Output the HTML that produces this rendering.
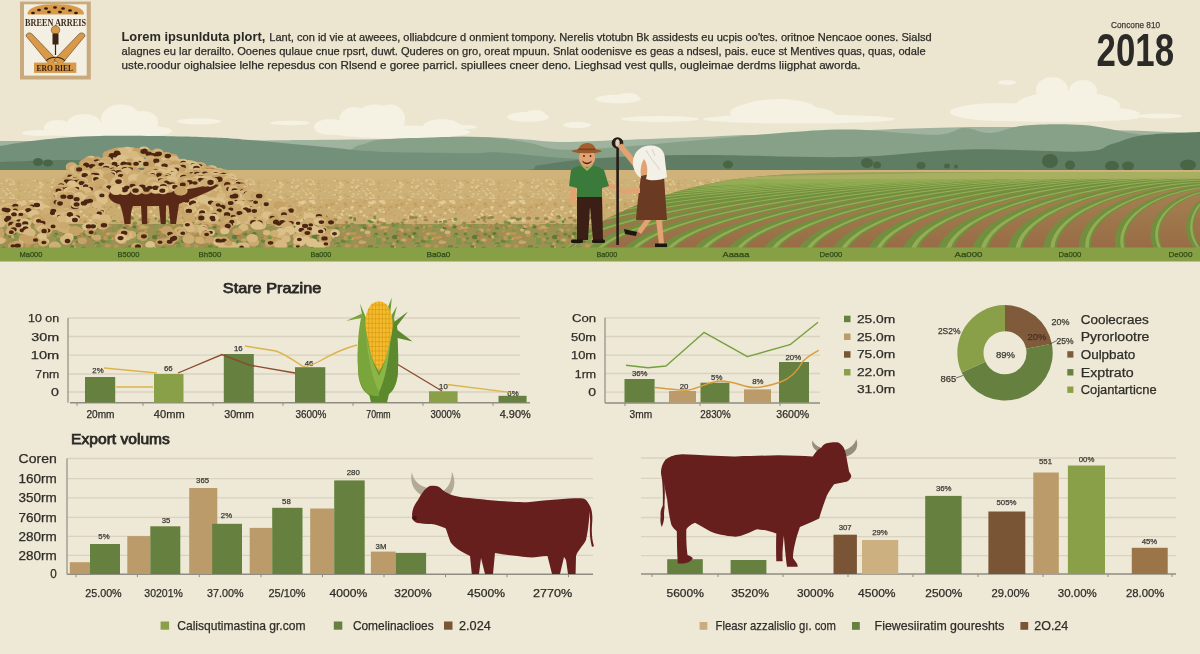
<!DOCTYPE html>
<html><head><meta charset="utf-8"><title>Infographic</title>
<style>html,body{margin:0;padding:0;background:#ece6d1;overflow:hidden;}svg{display:block;}text{font-family:"Liberation Sans",Arial,sans-serif;}</style>
</head><body>
<svg width="1200" height="654" viewBox="0 0 1200 654">
<rect x="0.0" y="0.0" width="1200.0" height="654.0" fill="#ece6d1"/>
<rect x="0.0" y="261.0" width="1200.0" height="393.0" fill="#eee8d6"/>
<g fill="#f5f1e3"><ellipse cx="121.0" cy="119.0" rx="20.0" ry="14.5"/><ellipse cx="143.0" cy="122.0" rx="15.0" ry="11.0"/><ellipse cx="84.0" cy="124.0" rx="17.0" ry="10.0"/><ellipse cx="58.0" cy="128.0" rx="14.0" ry="8.0"/><ellipse cx="100.0" cy="130.0" rx="55.0" ry="7.5"/><ellipse cx="150.0" cy="131.0" rx="22.0" ry="5.0"/><ellipse cx="40.0" cy="133.0" rx="18.0" ry="3.0"/></g>
<g fill="#f5f1e3"><ellipse cx="199.0" cy="121.3" rx="22.0" ry="3.0"/></g>
<g fill="#f5f1e3"><ellipse cx="290.0" cy="123.0" rx="20.0" ry="2.2"/></g>
<g fill="#f5f1e3"><ellipse cx="375.0" cy="118.0" rx="19.0" ry="13.5"/><ellipse cx="354.0" cy="121.0" rx="15.0" ry="14.0"/><ellipse cx="390.0" cy="119.0" rx="15.0" ry="14.5"/><ellipse cx="330.0" cy="127.0" rx="16.0" ry="8.0"/><ellipse cx="442.0" cy="128.0" rx="20.0" ry="9.0"/><ellipse cx="400.0" cy="132.0" rx="70.0" ry="6.5"/><ellipse cx="292.0" cy="123.0" rx="17.0" ry="2.2"/><ellipse cx="465.0" cy="127.0" rx="12.0" ry="2.0"/></g>
<g fill="#f5f1e3"><ellipse cx="528.0" cy="117.0" rx="21.0" ry="5.0"/><ellipse cx="535.0" cy="114.0" rx="10.0" ry="4.0"/></g>
<g fill="#f5f1e3"><ellipse cx="577.0" cy="125.0" rx="14.0" ry="3.2"/></g>
<g fill="#f5f1e3"><ellipse cx="618.0" cy="99.0" rx="23.0" ry="4.2"/><ellipse cx="628.0" cy="96.0" rx="10.0" ry="3.0"/></g>
<g fill="#f5f1e3"><ellipse cx="660.0" cy="119.0" rx="39.0" ry="3.0"/></g>
<g fill="#f5f1e3"><ellipse cx="778.0" cy="111.0" rx="40.0" ry="12.0"/><ellipse cx="752.0" cy="113.0" rx="22.0" ry="9.0"/><ellipse cx="805.0" cy="115.0" rx="30.0" ry="8.0"/><ellipse cx="798.0" cy="119.0" rx="95.0" ry="4.5"/><ellipse cx="860.0" cy="119.0" rx="35.0" ry="3.0"/></g>
<g fill="#f5f1e3"><ellipse cx="1052.0" cy="90.0" rx="16.0" ry="13.0"/><ellipse cx="1083.0" cy="91.0" rx="14.0" ry="11.0"/><ellipse cx="1068.0" cy="106.0" rx="52.0" ry="15.0"/><ellipse cx="1000.0" cy="112.0" rx="50.0" ry="9.0"/><ellipse cx="1110.0" cy="114.0" rx="30.0" ry="6.0"/><ellipse cx="1060.0" cy="117.0" rx="80.0" ry="5.0"/><ellipse cx="1160.0" cy="116.0" rx="22.0" ry="2.5"/></g>
<g fill="#f5f1e3"><ellipse cx="1007.0" cy="82.5" rx="9.0" ry="2.3"/></g>
<path d="M0,141 C33.3,141.0 150.0,141.2 200,141 C250.0,140.8 266.7,140.3 300,140 C333.3,139.7 371.7,139.5 400,139 C428.3,138.5 450.0,136.8 470,136.75 C490.0,136.8 505.0,138.1 520,139 C535.0,139.9 543.3,141.8 560,142 C576.7,142.2 596.7,140.8 620,140 C643.3,139.2 678.3,137.8 700,137 C721.7,136.2 733.3,135.2 750,135 C766.7,134.8 783.3,136.7 800,136 C816.7,135.3 816.7,132.5 850,131 C883.3,129.5 941.7,126.7 1000,127 C1058.3,127.3 1166.7,132.0 1200,133 L1200,176 L0,176 Z" fill="#a0b39e"/>
<path d="M0,160 C50.0,159.7 240.0,160.5 300,158 C360.0,155.5 346.7,148.0 360,145 C373.3,142.0 368.3,141.0 380,139.75 C391.7,138.5 415.8,138.0 430,137.5 C444.2,137.0 453.3,136.6 465,136.75 C476.7,136.9 489.2,137.5 500,138.5 C510.8,139.5 520.0,141.2 530,143 C540.0,144.8 545.0,148.8 560,149.5 C575.0,150.2 596.7,148.6 620,147 C643.3,145.4 673.3,142.3 700,140 C726.7,137.7 755.0,134.7 780,133 C805.0,131.3 824.2,129.3 850,129.6 C875.8,129.9 916.0,135.1 935,134.8 C954.0,134.5 954.8,128.3 964,128 C973.2,127.7 979.8,133.4 990,133 C1000.2,132.6 1009.5,126.8 1025,125.5 C1040.5,124.2 1065.5,123.8 1083,125 C1100.5,126.2 1115.5,130.8 1130,133 C1144.5,135.2 1158.3,136.8 1170,138 C1181.7,139.2 1195.0,139.7 1200,140 L1200,176 L0,176 Z" fill="#87a189"/>
<path d="M0,146 C6.7,145.0 23.3,141.7 40,140 C56.7,138.3 73.3,136.5 100,136 C126.7,135.5 175.0,136.3 200,137 C225.0,137.7 228.3,138.2 250,140 C271.7,141.8 308.3,145.6 330,147.6 C351.7,149.6 356.7,150.8 380,151.75 C403.3,152.7 450.0,152.9 470,153 C490.0,153.1 485.0,151.7 500,152.5 C515.0,153.3 540.0,156.5 560,157.75 C580.0,159.0 596.7,159.5 620,160 C643.3,160.5 603.3,160.8 700,161 C796.7,161.2 1116.7,161.0 1200,161 L1200,176 L0,176 Z" fill="#72907a"/>
<path d="M0,162 C10.0,161.7 43.3,160.2 60,160 C76.7,159.8 88.3,160.0 100,161 C111.7,162.0 113.3,164.3 130,166 C146.7,167.7 138.3,170.2 200,171 C261.7,171.8 443.3,172.0 500,171 C556.7,170.0 523.3,167.2 540,165 C556.7,162.8 573.3,159.7 600,158 C626.7,156.3 658.3,155.2 700,155 C741.7,154.8 805.5,157.9 850,157 C894.5,156.1 928.2,150.3 967,149.4 C1005.8,148.5 1058.8,152.4 1083,151.5 C1107.2,150.6 1102.2,146.7 1112,144 C1121.8,141.3 1127.3,137.4 1142,135.4 C1156.7,133.4 1190.3,132.6 1200,132 L1200,176 L0,176 Z" fill="#5f7d63"/>
<ellipse cx="728" cy="164.5" rx="5" ry="4" fill="#4a6546"/>
<ellipse cx="867" cy="163" rx="6" ry="5" fill="#4a6546"/>
<ellipse cx="877" cy="165" rx="4" ry="3.5" fill="#4a6546"/>
<ellipse cx="921" cy="165.5" rx="4.5" ry="3.5" fill="#4a6546"/>
<ellipse cx="947" cy="166" rx="3" ry="2.5" fill="#4a6546"/>
<ellipse cx="956" cy="166.5" rx="2" ry="2" fill="#4a6546"/>
<ellipse cx="1050" cy="161" rx="8" ry="7" fill="#4a6546"/>
<ellipse cx="1070" cy="165" rx="5" ry="4.5" fill="#4a6546"/>
<ellipse cx="1112" cy="166" rx="7" ry="5" fill="#4a6546"/>
<ellipse cx="1128" cy="166" rx="6" ry="4.5" fill="#4a6546"/>
<ellipse cx="1188" cy="165" rx="8" ry="5.5" fill="#4a6546"/>
<ellipse cx="38" cy="162" rx="5" ry="4" fill="#4a6546"/>
<ellipse cx="48" cy="163" rx="5" ry="3.5" fill="#4a6546"/>
<defs>
<pattern id="tex1" width="60" height="14" patternUnits="userSpaceOnUse"><rect width="60" height="14" fill="#ceb176"/><path fill="#dcc48e" d="M13.4 7.6a0.9 0.6 0 1 0 1.8 0a0.9 0.6 0 1 0 -1.8 0M12.7 2.1a1.3 0.8 0 1 0 2.5 0a1.3 0.8 0 1 0 -2.5 0M-1.3 9.4a0.8 0.6 0 1 0 1.6 0a0.8 0.6 0 1 0 -1.6 0M58.7 9.4a0.8 0.6 0 1 0 1.6 0a0.8 0.6 0 1 0 -1.6 0M32.2 12.9a0.9 0.5 0 1 0 1.7 0a0.9 0.5 0 1 0 -1.7 0M51.0 5.4a1.2 0.9 0 1 0 2.4 0a1.2 0.9 0 1 0 -2.4 0M35.5 3.9a1.0 0.7 0 1 0 2.0 0a1.0 0.7 0 1 0 -2.0 0M39.3 3.1a1.2 0.9 0 1 0 2.4 0a1.2 0.9 0 1 0 -2.4 0M52.2 12.1a1.2 1.0 0 1 0 2.4 0a1.2 1.0 0 1 0 -2.4 0M52.7 12.6a1.0 0.6 0 1 0 2.1 0a1.0 0.6 0 1 0 -2.1 0M47.9 0.9a0.8 0.5 0 1 0 1.7 0a0.8 0.5 0 1 0 -1.7 0M9.0 11.1a1.3 0.9 0 1 0 2.5 0a1.3 0.9 0 1 0 -2.5 0M15.2 7.4a1.0 0.6 0 1 0 1.9 0a1.0 0.6 0 1 0 -1.9 0M20.8 2.7a0.9 0.5 0 1 0 1.8 0a0.9 0.5 0 1 0 -1.8 0M26.6 9.1a1.0 0.7 0 1 0 2.0 0a1.0 0.7 0 1 0 -2.0 0M40.8 1.0a1.0 0.6 0 1 0 1.9 0a1.0 0.6 0 1 0 -1.9 0M39.0 10.3a1.0 0.6 0 1 0 2.1 0a1.0 0.6 0 1 0 -2.1 0M27.5 3.3a0.9 0.6 0 1 0 1.9 0a0.9 0.6 0 1 0 -1.9 0M38.4 5.3a1.2 0.8 0 1 0 2.4 0a1.2 0.8 0 1 0 -2.4 0M41.0 2.9a1.0 0.8 0 1 0 2.1 0a1.0 0.8 0 1 0 -2.1 0M27.7 10.1a1.2 0.8 0 1 0 2.4 0a1.2 0.8 0 1 0 -2.4 0M27.2 3.2a0.8 0.6 0 1 0 1.7 0a0.8 0.6 0 1 0 -1.7 0M9.4 0.6a0.8 0.5 0 1 0 1.6 0a0.8 0.5 0 1 0 -1.6 0M5.5 13.2a0.9 0.6 0 1 0 1.8 0a0.9 0.6 0 1 0 -1.8 0"/><path fill="#c2a368" d="M35.4 12.7a1.0 0.7 0 1 0 2.0 0a1.0 0.7 0 1 0 -2.0 0M-1.5 6.6a1.2 0.8 0 1 0 2.4 0a1.2 0.8 0 1 0 -2.4 0M58.5 6.6a1.2 0.8 0 1 0 2.4 0a1.2 0.8 0 1 0 -2.4 0M17.5 1.1a1.1 0.6 0 1 0 2.1 0a1.1 0.6 0 1 0 -2.1 0M36.2 13.2a1.0 0.7 0 1 0 2.0 0a1.0 0.7 0 1 0 -2.0 0M-0.4 5.8a1.0 0.6 0 1 0 2.1 0a1.0 0.6 0 1 0 -2.1 0M59.6 5.8a1.0 0.6 0 1 0 2.1 0a1.0 0.6 0 1 0 -2.1 0M16.9 5.3a1.2 0.6 0 1 0 2.3 0a1.2 0.6 0 1 0 -2.3 0M17.4 3.1a1.2 0.7 0 1 0 2.4 0a1.2 0.7 0 1 0 -2.4 0M19.0 9.1a1.2 0.8 0 1 0 2.5 0a1.2 0.8 0 1 0 -2.5 0M45.9 0.5a1.3 0.8 0 1 0 2.5 0a1.3 0.8 0 1 0 -2.5 0M45.9 14.5a1.3 0.8 0 1 0 2.5 0a1.3 0.8 0 1 0 -2.5 0M47.4 0.6a1.2 0.9 0 1 0 2.5 0a1.2 0.9 0 1 0 -2.5 0M47.4 14.6a1.2 0.9 0 1 0 2.5 0a1.2 0.9 0 1 0 -2.5 0M28.3 8.0a0.9 0.7 0 1 0 1.9 0a0.9 0.7 0 1 0 -1.9 0M34.0 11.2a0.7 0.5 0 1 0 1.4 0a0.7 0.5 0 1 0 -1.4 0M51.4 2.5a0.7 0.6 0 1 0 1.5 0a0.7 0.6 0 1 0 -1.5 0M55.0 7.8a1.3 0.8 0 1 0 2.6 0a1.3 0.8 0 1 0 -2.6 0M43.9 12.8a1.0 0.7 0 1 0 2.0 0a1.0 0.7 0 1 0 -2.0 0M7.4 10.5a0.8 0.5 0 1 0 1.6 0a0.8 0.5 0 1 0 -1.6 0"/><path fill="#e0ca96" d="M39.1 0.9a1.2 0.8 0 1 0 2.3 0a1.2 0.8 0 1 0 -2.3 0M12.1 -0.5a1.0 0.7 0 1 0 1.9 0a1.0 0.7 0 1 0 -1.9 0M12.1 13.5a1.0 0.7 0 1 0 1.9 0a1.0 0.7 0 1 0 -1.9 0M33.9 12.7a1.1 0.9 0 1 0 2.2 0a1.1 0.9 0 1 0 -2.2 0M41.6 3.0a1.2 0.8 0 1 0 2.4 0a1.2 0.8 0 1 0 -2.4 0M6.4 6.7a1.1 0.7 0 1 0 2.2 0a1.1 0.7 0 1 0 -2.2 0M51.3 0.6a1.1 0.6 0 1 0 2.1 0a1.1 0.6 0 1 0 -2.1 0M57.4 4.1a0.9 0.6 0 1 0 1.7 0a0.9 0.6 0 1 0 -1.7 0M55.3 6.1a0.9 0.5 0 1 0 1.7 0a0.9 0.5 0 1 0 -1.7 0M2.6 8.8a1.0 0.7 0 1 0 2.0 0a1.0 0.7 0 1 0 -2.0 0M56.8 3.5a1.0 0.7 0 1 0 1.9 0a1.0 0.7 0 1 0 -1.9 0M9.5 2.6a1.2 0.9 0 1 0 2.3 0a1.2 0.9 0 1 0 -2.3 0M39.9 9.1a0.8 0.5 0 1 0 1.5 0a0.8 0.5 0 1 0 -1.5 0M50.6 4.8a1.2 0.7 0 1 0 2.4 0a1.2 0.7 0 1 0 -2.4 0M49.2 9.3a1.0 0.6 0 1 0 2.0 0a1.0 0.6 0 1 0 -2.0 0M57.7 12.0a0.8 0.5 0 1 0 1.5 0a0.8 0.5 0 1 0 -1.5 0M8.5 1.0a0.9 0.6 0 1 0 1.9 0a0.9 0.6 0 1 0 -1.9 0M42.2 5.3a0.7 0.4 0 1 0 1.5 0a0.7 0.4 0 1 0 -1.5 0M36.5 6.0a0.9 0.6 0 1 0 1.8 0a0.9 0.6 0 1 0 -1.8 0M24.3 9.7a1.0 0.6 0 1 0 2.0 0a1.0 0.6 0 1 0 -2.0 0M55.0 5.2a1.2 0.9 0 1 0 2.5 0a1.2 0.9 0 1 0 -2.5 0M0.5 1.6a1.0 0.7 0 1 0 2.0 0a1.0 0.7 0 1 0 -2.0 0M5.1 10.5a1.3 0.7 0 1 0 2.5 0a1.3 0.7 0 1 0 -2.5 0M34.4 8.2a1.3 1.0 0 1 0 2.6 0a1.3 1.0 0 1 0 -2.6 0M0.5 6.7a0.9 0.6 0 1 0 1.9 0a0.9 0.6 0 1 0 -1.9 0M56.7 12.0a0.8 0.5 0 1 0 1.7 0a0.8 0.5 0 1 0 -1.7 0M7.1 8.7a1.1 0.6 0 1 0 2.2 0a1.1 0.6 0 1 0 -2.2 0M5.5 12.4a1.2 0.7 0 1 0 2.5 0a1.2 0.7 0 1 0 -2.5 0M39.7 5.2a1.0 0.7 0 1 0 1.9 0a1.0 0.7 0 1 0 -1.9 0"/><path fill="#c9ab70" d="M45.9 11.5a0.9 0.6 0 1 0 1.7 0a0.9 0.6 0 1 0 -1.7 0M41.9 12.9a0.9 0.7 0 1 0 1.9 0a0.9 0.7 0 1 0 -1.9 0M56.9 1.9a0.9 0.5 0 1 0 1.8 0a0.9 0.5 0 1 0 -1.8 0M24.2 11.7a1.0 0.7 0 1 0 2.1 0a1.0 0.7 0 1 0 -2.1 0M47.2 5.7a0.8 0.5 0 1 0 1.6 0a0.8 0.5 0 1 0 -1.6 0M17.6 -0.6a1.2 0.8 0 1 0 2.5 0a1.2 0.8 0 1 0 -2.5 0M17.6 13.4a1.2 0.8 0 1 0 2.5 0a1.2 0.8 0 1 0 -2.5 0M34.4 5.9a1.0 0.8 0 1 0 2.0 0a1.0 0.8 0 1 0 -2.0 0M19.8 5.8a1.0 0.6 0 1 0 1.9 0a1.0 0.6 0 1 0 -1.9 0M8.1 0.1a1.3 1.0 0 1 0 2.5 0a1.3 1.0 0 1 0 -2.5 0M8.1 14.1a1.3 1.0 0 1 0 2.5 0a1.3 1.0 0 1 0 -2.5 0M32.4 -0.2a1.1 0.6 0 1 0 2.3 0a1.1 0.6 0 1 0 -2.3 0M32.4 13.8a1.1 0.6 0 1 0 2.3 0a1.1 0.6 0 1 0 -2.3 0M9.2 4.2a1.1 0.7 0 1 0 2.2 0a1.1 0.7 0 1 0 -2.2 0M2.4 12.8a0.8 0.4 0 1 0 1.5 0a0.8 0.4 0 1 0 -1.5 0M50.7 10.9a0.7 0.4 0 1 0 1.5 0a0.7 0.4 0 1 0 -1.5 0M6.0 9.7a1.3 0.9 0 1 0 2.5 0a1.3 0.9 0 1 0 -2.5 0M26.0 9.8a1.3 0.8 0 1 0 2.5 0a1.3 0.8 0 1 0 -2.5 0M57.2 5.8a1.1 0.7 0 1 0 2.3 0a1.1 0.7 0 1 0 -2.3 0M8.1 5.6a1.2 0.7 0 1 0 2.5 0a1.2 0.7 0 1 0 -2.5 0M49.9 7.5a1.2 0.8 0 1 0 2.3 0a1.2 0.8 0 1 0 -2.3 0M13.1 6.8a1.2 0.8 0 1 0 2.4 0a1.2 0.8 0 1 0 -2.4 0M5.8 3.7a1.2 0.7 0 1 0 2.5 0a1.2 0.7 0 1 0 -2.5 0M34.1 9.5a0.7 0.4 0 1 0 1.4 0a0.7 0.4 0 1 0 -1.4 0M21.7 1.1a1.1 0.8 0 1 0 2.2 0a1.1 0.8 0 1 0 -2.2 0M22.7 7.6a0.8 0.5 0 1 0 1.5 0a0.8 0.5 0 1 0 -1.5 0"/></pattern>
<pattern id="tex2" width="70" height="18" patternUnits="userSpaceOnUse"><rect width="70" height="18" fill="#ccad71"/><path fill="#bd9d62" d="M45.6 9.2a1.1 0.7 0 1 0 2.1 0a1.1 0.7 0 1 0 -2.1 0M37.4 11.7a1.4 0.9 0 1 0 2.8 0a1.4 0.9 0 1 0 -2.8 0M45.0 7.0a1.9 1.1 0 1 0 3.8 0a1.9 1.1 0 1 0 -3.8 0M58.7 14.4a1.5 0.9 0 1 0 3.0 0a1.5 0.9 0 1 0 -3.0 0M0.5 3.4a1.6 0.9 0 1 0 3.1 0a1.6 0.9 0 1 0 -3.1 0M33.0 9.4a1.4 0.8 0 1 0 2.8 0a1.4 0.8 0 1 0 -2.8 0M63.3 5.8a1.8 1.3 0 1 0 3.6 0a1.8 1.3 0 1 0 -3.6 0M50.1 6.2a1.7 1.4 0 1 0 3.5 0a1.7 1.4 0 1 0 -3.5 0M8.9 8.3a1.2 0.7 0 1 0 2.4 0a1.2 0.7 0 1 0 -2.4 0M39.3 9.1a1.6 0.9 0 1 0 3.1 0a1.6 0.9 0 1 0 -3.1 0M29.1 8.0a1.6 1.0 0 1 0 3.3 0a1.6 1.0 0 1 0 -3.3 0M22.3 5.6a1.4 1.1 0 1 0 2.8 0a1.4 1.1 0 1 0 -2.8 0M34.1 16.3a1.3 1.0 0 1 0 2.6 0a1.3 1.0 0 1 0 -2.6 0M19.3 16.8a1.2 0.7 0 1 0 2.3 0a1.2 0.7 0 1 0 -2.3 0M19.0 9.4a1.6 0.9 0 1 0 3.2 0a1.6 0.9 0 1 0 -3.2 0M8.2 8.0a1.8 1.2 0 1 0 3.6 0a1.8 1.2 0 1 0 -3.6 0M64.2 7.8a1.8 1.2 0 1 0 3.7 0a1.8 1.2 0 1 0 -3.7 0M22.7 0.5a1.0 0.8 0 1 0 2.1 0a1.0 0.8 0 1 0 -2.1 0M22.7 18.5a1.0 0.8 0 1 0 2.1 0a1.0 0.8 0 1 0 -2.1 0M34.1 15.0a1.5 0.9 0 1 0 3.0 0a1.5 0.9 0 1 0 -3.0 0M24.7 11.4a1.3 0.7 0 1 0 2.5 0a1.3 0.7 0 1 0 -2.5 0"/><path fill="#c6a66a" d="M44.1 13.1a1.1 0.7 0 1 0 2.3 0a1.1 0.7 0 1 0 -2.3 0M7.5 16.8a1.1 0.7 0 1 0 2.3 0a1.1 0.7 0 1 0 -2.3 0M48.2 1.9a1.2 0.8 0 1 0 2.3 0a1.2 0.8 0 1 0 -2.3 0M64.4 8.1a1.7 1.0 0 1 0 3.5 0a1.7 1.0 0 1 0 -3.5 0M38.4 16.4a1.1 0.8 0 1 0 2.2 0a1.1 0.8 0 1 0 -2.2 0M12.4 4.5a1.7 0.9 0 1 0 3.4 0a1.7 0.9 0 1 0 -3.4 0M42.7 -0.4a1.6 1.0 0 1 0 3.2 0a1.6 1.0 0 1 0 -3.2 0M42.7 17.6a1.6 1.0 0 1 0 3.2 0a1.6 1.0 0 1 0 -3.2 0M27.0 15.2a1.6 1.1 0 1 0 3.3 0a1.6 1.1 0 1 0 -3.3 0M0.0 8.2a1.6 1.1 0 1 0 3.2 0a1.6 1.1 0 1 0 -3.2 0M27.5 12.7a1.0 0.7 0 1 0 2.1 0a1.0 0.7 0 1 0 -2.1 0M32.7 16.4a1.8 1.1 0 1 0 3.6 0a1.8 1.1 0 1 0 -3.6 0M40.3 14.5a1.3 1.0 0 1 0 2.5 0a1.3 1.0 0 1 0 -2.5 0M55.7 11.3a1.3 0.8 0 1 0 2.6 0a1.3 0.8 0 1 0 -2.6 0M64.5 0.6a1.3 0.9 0 1 0 2.5 0a1.3 0.9 0 1 0 -2.5 0M64.5 18.6a1.3 0.9 0 1 0 2.5 0a1.3 0.9 0 1 0 -2.5 0M4.4 5.3a1.8 1.0 0 1 0 3.5 0a1.8 1.0 0 1 0 -3.5 0M36.6 9.7a1.7 1.1 0 1 0 3.4 0a1.7 1.1 0 1 0 -3.4 0M56.7 10.0a1.8 1.2 0 1 0 3.7 0a1.8 1.2 0 1 0 -3.7 0M33.7 13.5a1.8 1.3 0 1 0 3.6 0a1.8 1.3 0 1 0 -3.6 0M6.7 5.2a1.2 0.9 0 1 0 2.4 0a1.2 0.9 0 1 0 -2.4 0M30.8 4.0a1.7 1.2 0 1 0 3.5 0a1.7 1.2 0 1 0 -3.5 0M52.0 15.7a1.3 0.9 0 1 0 2.6 0a1.3 0.9 0 1 0 -2.6 0M52.6 5.3a1.9 1.2 0 1 0 3.7 0a1.9 1.2 0 1 0 -3.7 0M13.4 3.0a1.8 1.3 0 1 0 3.7 0a1.8 1.3 0 1 0 -3.7 0M63.8 9.6a1.4 1.1 0 1 0 2.8 0a1.4 1.1 0 1 0 -2.8 0M67.4 0.6a1.2 0.6 0 1 0 2.3 0a1.2 0.6 0 1 0 -2.3 0M67.4 18.6a1.2 0.6 0 1 0 2.3 0a1.2 0.6 0 1 0 -2.3 0M61.8 15.0a1.5 1.2 0 1 0 3.1 0a1.5 1.2 0 1 0 -3.1 0M62.7 14.6a1.2 0.7 0 1 0 2.4 0a1.2 0.7 0 1 0 -2.4 0M2.1 8.7a1.1 0.8 0 1 0 2.1 0a1.1 0.8 0 1 0 -2.1 0M30.9 12.0a1.8 1.4 0 1 0 3.7 0a1.8 1.4 0 1 0 -3.7 0M-1.9 9.8a1.4 0.9 0 1 0 2.7 0a1.4 0.9 0 1 0 -2.7 0M68.1 9.8a1.4 0.9 0 1 0 2.7 0a1.4 0.9 0 1 0 -2.7 0M8.3 0.7a1.4 0.9 0 1 0 2.9 0a1.4 0.9 0 1 0 -2.9 0M8.3 18.7a1.4 0.9 0 1 0 2.9 0a1.4 0.9 0 1 0 -2.9 0M29.4 1.4a1.0 0.7 0 1 0 2.1 0a1.0 0.7 0 1 0 -2.1 0M12.5 16.6a1.2 0.8 0 1 0 2.3 0a1.2 0.8 0 1 0 -2.3 0M41.7 10.0a1.0 0.7 0 1 0 2.1 0a1.0 0.7 0 1 0 -2.1 0"/><path fill="#dcc48e" d="M23.8 4.8a1.3 1.0 0 1 0 2.7 0a1.3 1.0 0 1 0 -2.7 0M58.0 2.0a1.2 0.7 0 1 0 2.5 0a1.2 0.7 0 1 0 -2.5 0M66.0 16.1a1.1 0.8 0 1 0 2.2 0a1.1 0.8 0 1 0 -2.2 0M0.3 11.1a1.5 1.0 0 1 0 2.9 0a1.5 1.0 0 1 0 -2.9 0M3.9 15.1a1.7 0.9 0 1 0 3.4 0a1.7 0.9 0 1 0 -3.4 0M29.2 13.6a1.4 0.8 0 1 0 2.9 0a1.4 0.8 0 1 0 -2.9 0M31.7 3.0a1.6 1.0 0 1 0 3.1 0a1.6 1.0 0 1 0 -3.1 0M53.8 -0.7a1.4 1.0 0 1 0 2.9 0a1.4 1.0 0 1 0 -2.9 0M53.8 17.3a1.4 1.0 0 1 0 2.9 0a1.4 1.0 0 1 0 -2.9 0M66.8 10.7a1.0 0.6 0 1 0 2.0 0a1.0 0.6 0 1 0 -2.0 0M1.3 3.1a1.7 1.3 0 1 0 3.4 0a1.7 1.3 0 1 0 -3.4 0M52.0 12.2a1.1 0.7 0 1 0 2.2 0a1.1 0.7 0 1 0 -2.2 0M-1.4 0.0a1.2 0.9 0 1 0 2.4 0a1.2 0.9 0 1 0 -2.4 0M-1.4 18.0a1.2 0.9 0 1 0 2.4 0a1.2 0.9 0 1 0 -2.4 0M68.6 0.0a1.2 0.9 0 1 0 2.4 0a1.2 0.9 0 1 0 -2.4 0M68.6 18.0a1.2 0.9 0 1 0 2.4 0a1.2 0.9 0 1 0 -2.4 0M15.7 0.9a1.1 0.8 0 1 0 2.3 0a1.1 0.8 0 1 0 -2.3 0M31.7 11.2a1.0 0.8 0 1 0 2.1 0a1.0 0.8 0 1 0 -2.1 0M58.3 1.8a1.8 1.1 0 1 0 3.7 0a1.8 1.1 0 1 0 -3.7 0M13.0 9.7a1.4 1.0 0 1 0 2.8 0a1.4 1.0 0 1 0 -2.8 0M32.5 13.9a1.4 1.1 0 1 0 2.7 0a1.4 1.1 0 1 0 -2.7 0M55.3 5.4a1.2 0.9 0 1 0 2.4 0a1.2 0.9 0 1 0 -2.4 0M-0.1 11.3a1.1 0.6 0 1 0 2.3 0a1.1 0.6 0 1 0 -2.3 0M69.9 11.3a1.1 0.6 0 1 0 2.3 0a1.1 0.6 0 1 0 -2.3 0M64.2 11.0a1.0 0.7 0 1 0 2.1 0a1.0 0.7 0 1 0 -2.1 0M32.5 5.0a1.6 1.3 0 1 0 3.3 0a1.6 1.3 0 1 0 -3.3 0"/><path fill="#e1cb97" d="M31.9 4.9a1.6 1.1 0 1 0 3.3 0a1.6 1.1 0 1 0 -3.3 0M61.0 -0.9a1.3 0.9 0 1 0 2.7 0a1.3 0.9 0 1 0 -2.7 0M61.0 17.1a1.3 0.9 0 1 0 2.7 0a1.3 0.9 0 1 0 -2.7 0M1.0 9.0a1.6 1.0 0 1 0 3.2 0a1.6 1.0 0 1 0 -3.2 0M47.6 9.7a1.4 1.0 0 1 0 2.8 0a1.4 1.0 0 1 0 -2.8 0M61.6 13.0a1.3 0.9 0 1 0 2.7 0a1.3 0.9 0 1 0 -2.7 0M40.8 4.0a1.0 0.6 0 1 0 2.0 0a1.0 0.6 0 1 0 -2.0 0M29.2 3.3a1.8 1.1 0 1 0 3.5 0a1.8 1.1 0 1 0 -3.5 0M-0.1 9.1a1.4 0.9 0 1 0 2.9 0a1.4 0.9 0 1 0 -2.9 0M69.9 9.1a1.4 0.9 0 1 0 2.9 0a1.4 0.9 0 1 0 -2.9 0M12.6 -0.5a1.4 1.1 0 1 0 2.9 0a1.4 1.1 0 1 0 -2.9 0M12.6 17.5a1.4 1.1 0 1 0 2.9 0a1.4 1.1 0 1 0 -2.9 0M60.1 15.7a1.4 1.1 0 1 0 2.8 0a1.4 1.1 0 1 0 -2.8 0M22.2 3.5a1.7 1.3 0 1 0 3.4 0a1.7 1.3 0 1 0 -3.4 0M28.1 11.7a1.5 0.9 0 1 0 3.1 0a1.5 0.9 0 1 0 -3.1 0M57.4 1.1a1.2 0.8 0 1 0 2.4 0a1.2 0.8 0 1 0 -2.4 0M18.0 7.8a1.3 1.0 0 1 0 2.6 0a1.3 1.0 0 1 0 -2.6 0M9.1 13.7a1.6 1.3 0 1 0 3.3 0a1.6 1.3 0 1 0 -3.3 0M23.9 15.3a1.3 0.8 0 1 0 2.5 0a1.3 0.8 0 1 0 -2.5 0M-1.6 -0.3a1.7 1.1 0 1 0 3.4 0a1.7 1.1 0 1 0 -3.4 0M-1.6 17.7a1.7 1.1 0 1 0 3.4 0a1.7 1.1 0 1 0 -3.4 0M68.4 -0.3a1.7 1.1 0 1 0 3.4 0a1.7 1.1 0 1 0 -3.4 0M68.4 17.7a1.7 1.1 0 1 0 3.4 0a1.7 1.1 0 1 0 -3.4 0M20.1 4.5a1.7 1.1 0 1 0 3.4 0a1.7 1.1 0 1 0 -3.4 0M18.2 4.6a1.3 0.9 0 1 0 2.5 0a1.3 0.9 0 1 0 -2.5 0M20.3 4.9a1.9 1.5 0 1 0 3.7 0a1.9 1.5 0 1 0 -3.7 0"/></pattern>
<pattern id="tex3" width="80" height="26" patternUnits="userSpaceOnUse"><rect width="80" height="26" fill="#9a9152"/><path fill="#6a843a" d="M-3.4 2.1a1.8 1.1 0 1 0 3.7 0a1.8 1.1 0 1 0 -3.7 0M76.6 2.1a1.8 1.1 0 1 0 3.7 0a1.8 1.1 0 1 0 -3.7 0M63.5 0.1a1.9 1.5 0 1 0 3.8 0a1.9 1.5 0 1 0 -3.8 0M63.5 26.1a1.9 1.5 0 1 0 3.8 0a1.9 1.5 0 1 0 -3.8 0M15.0 20.2a2.1 1.3 0 1 0 4.3 0a2.1 1.3 0 1 0 -4.3 0M65.3 4.4a1.9 1.1 0 1 0 3.8 0a1.9 1.1 0 1 0 -3.8 0M15.2 9.6a2.4 1.4 0 1 0 4.8 0a2.4 1.4 0 1 0 -4.8 0M3.1 0.2a2.2 1.5 0 1 0 4.4 0a2.2 1.5 0 1 0 -4.4 0M3.1 26.2a2.2 1.5 0 1 0 4.4 0a2.2 1.5 0 1 0 -4.4 0M14.5 10.2a1.6 1.2 0 1 0 3.3 0a1.6 1.2 0 1 0 -3.3 0M47.6 12.8a2.8 1.7 0 1 0 5.6 0a2.8 1.7 0 1 0 -5.6 0M17.6 18.1a2.3 1.5 0 1 0 4.7 0a2.3 1.5 0 1 0 -4.7 0M29.4 5.1a2.1 1.5 0 1 0 4.2 0a2.1 1.5 0 1 0 -4.2 0M7.9 2.2a3.0 1.9 0 1 0 6.0 0a3.0 1.9 0 1 0 -6.0 0M20.8 7.1a2.9 1.7 0 1 0 5.7 0a2.9 1.7 0 1 0 -5.7 0"/><path fill="#d2b37c" d="M53.4 3.0a2.4 1.4 0 1 0 4.9 0a2.4 1.4 0 1 0 -4.9 0M22.2 3.9a2.2 1.4 0 1 0 4.4 0a2.2 1.4 0 1 0 -4.4 0M44.8 24.3a2.8 1.6 0 1 0 5.5 0a2.8 1.6 0 1 0 -5.5 0M42.7 16.6a2.4 1.7 0 1 0 4.8 0a2.4 1.7 0 1 0 -4.8 0M71.1 13.9a2.6 2.0 0 1 0 5.2 0a2.6 2.0 0 1 0 -5.2 0M23.2 19.6a2.0 1.2 0 1 0 4.0 0a2.0 1.2 0 1 0 -4.0 0M45.7 16.3a2.2 1.2 0 1 0 4.3 0a2.2 1.2 0 1 0 -4.3 0M40.0 22.1a2.2 1.5 0 1 0 4.4 0a2.2 1.5 0 1 0 -4.4 0M11.1 2.6a2.3 1.8 0 1 0 4.6 0a2.3 1.8 0 1 0 -4.6 0"/><path fill="#c09656" d="M32.3 -0.4a2.2 1.4 0 1 0 4.4 0a2.2 1.4 0 1 0 -4.4 0M32.3 25.6a2.2 1.4 0 1 0 4.4 0a2.2 1.4 0 1 0 -4.4 0M64.2 22.7a1.6 1.2 0 1 0 3.1 0a1.6 1.2 0 1 0 -3.1 0M6.1 22.0a2.2 1.6 0 1 0 4.4 0a2.2 1.6 0 1 0 -4.4 0M57.5 20.3a2.4 1.6 0 1 0 4.7 0a2.4 1.6 0 1 0 -4.7 0M45.9 1.5a2.4 1.4 0 1 0 4.8 0a2.4 1.4 0 1 0 -4.8 0M28.0 18.1a1.9 1.3 0 1 0 3.8 0a1.9 1.3 0 1 0 -3.8 0M32.9 3.8a2.4 1.5 0 1 0 4.8 0a2.4 1.5 0 1 0 -4.8 0M33.9 12.4a2.3 1.8 0 1 0 4.6 0a2.3 1.8 0 1 0 -4.6 0M28.7 -0.5a2.0 1.2 0 1 0 4.1 0a2.0 1.2 0 1 0 -4.1 0M28.7 25.5a2.0 1.2 0 1 0 4.1 0a2.0 1.2 0 1 0 -4.1 0M36.9 3.1a2.6 1.7 0 1 0 5.2 0a2.6 1.7 0 1 0 -5.2 0M62.1 5.5a2.0 1.4 0 1 0 4.0 0a2.0 1.4 0 1 0 -4.0 0M36.0 3.6a1.8 1.3 0 1 0 3.6 0a1.8 1.3 0 1 0 -3.6 0M24.6 11.9a2.9 1.8 0 1 0 5.9 0a2.9 1.8 0 1 0 -5.9 0M22.2 23.4a1.7 1.2 0 1 0 3.4 0a1.7 1.2 0 1 0 -3.4 0M17.8 18.2a1.8 1.3 0 1 0 3.6 0a1.8 1.3 0 1 0 -3.6 0M41.4 11.9a1.5 0.9 0 1 0 3.1 0a1.5 0.9 0 1 0 -3.1 0M23.1 4.2a2.9 1.9 0 1 0 5.7 0a2.9 1.9 0 1 0 -5.7 0M11.8 16.7a1.8 1.3 0 1 0 3.6 0a1.8 1.3 0 1 0 -3.6 0M56.8 3.9a2.3 1.7 0 1 0 4.6 0a2.3 1.7 0 1 0 -4.6 0"/><path fill="#caa56a" d="M0.8 6.1a2.9 1.7 0 1 0 5.9 0a2.9 1.7 0 1 0 -5.9 0M28.9 4.7a2.4 1.5 0 1 0 4.9 0a2.4 1.5 0 1 0 -4.9 0M-1.6 22.6a2.7 2.1 0 1 0 5.4 0a2.7 2.1 0 1 0 -5.4 0M78.4 22.6a2.7 2.1 0 1 0 5.4 0a2.7 2.1 0 1 0 -5.4 0M14.9 11.3a1.8 1.0 0 1 0 3.6 0a1.8 1.0 0 1 0 -3.6 0M48.1 17.2a2.2 1.2 0 1 0 4.3 0a2.2 1.2 0 1 0 -4.3 0M38.7 8.2a2.8 1.9 0 1 0 5.6 0a2.8 1.9 0 1 0 -5.6 0M25.5 -0.1a2.2 1.3 0 1 0 4.4 0a2.2 1.3 0 1 0 -4.4 0M25.5 25.9a2.2 1.3 0 1 0 4.4 0a2.2 1.3 0 1 0 -4.4 0M72.2 9.7a1.6 1.0 0 1 0 3.1 0a1.6 1.0 0 1 0 -3.1 0M64.9 19.4a1.9 1.1 0 1 0 3.9 0a1.9 1.1 0 1 0 -3.9 0M55.4 15.8a2.6 1.5 0 1 0 5.1 0a2.6 1.5 0 1 0 -5.1 0M42.6 8.2a1.9 1.3 0 1 0 3.8 0a1.9 1.3 0 1 0 -3.8 0M60.4 19.1a2.9 1.6 0 1 0 5.7 0a2.9 1.6 0 1 0 -5.7 0M56.8 6.7a1.6 0.9 0 1 0 3.3 0a1.6 0.9 0 1 0 -3.3 0"/><path fill="#5f7a34" d="M11.7 -0.2a2.5 1.8 0 1 0 5.0 0a2.5 1.8 0 1 0 -5.0 0M11.7 25.8a2.5 1.8 0 1 0 5.0 0a2.5 1.8 0 1 0 -5.0 0M76.3 7.7a1.8 1.2 0 1 0 3.5 0a1.8 1.2 0 1 0 -3.5 0M0.7 9.1a1.5 1.1 0 1 0 3.0 0a1.5 1.1 0 1 0 -3.0 0M70.4 13.2a1.9 1.4 0 1 0 3.7 0a1.9 1.4 0 1 0 -3.7 0M72.1 3.1a2.9 1.9 0 1 0 5.7 0a2.9 1.9 0 1 0 -5.7 0M52.6 19.0a1.9 1.2 0 1 0 3.7 0a1.9 1.2 0 1 0 -3.7 0M56.6 5.4a2.0 1.2 0 1 0 3.9 0a2.0 1.2 0 1 0 -3.9 0M42.6 19.9a2.1 1.4 0 1 0 4.3 0a2.1 1.4 0 1 0 -4.3 0M0.9 14.5a2.6 2.0 0 1 0 5.2 0a2.6 2.0 0 1 0 -5.2 0M54.1 14.4a2.5 1.6 0 1 0 5.0 0a2.5 1.6 0 1 0 -5.0 0M54.2 0.1a1.9 1.4 0 1 0 3.8 0a1.9 1.4 0 1 0 -3.8 0M54.2 26.1a1.9 1.4 0 1 0 3.8 0a1.9 1.4 0 1 0 -3.8 0"/><path fill="#7b9446" d="M20.7 3.4a1.7 1.0 0 1 0 3.4 0a1.7 1.0 0 1 0 -3.4 0M72.1 15.7a2.9 1.6 0 1 0 5.8 0a2.9 1.6 0 1 0 -5.8 0M-4.4 -1.7a2.8 2.1 0 1 0 5.6 0a2.8 2.1 0 1 0 -5.6 0M-4.4 24.3a2.8 2.1 0 1 0 5.6 0a2.8 2.1 0 1 0 -5.6 0M75.6 -1.7a2.8 2.1 0 1 0 5.6 0a2.8 2.1 0 1 0 -5.6 0M75.6 24.3a2.8 2.1 0 1 0 5.6 0a2.8 2.1 0 1 0 -5.6 0M56.1 8.9a2.5 1.5 0 1 0 4.9 0a2.5 1.5 0 1 0 -4.9 0M26.7 7.8a2.3 1.5 0 1 0 4.5 0a2.3 1.5 0 1 0 -4.5 0M71.0 17.8a1.7 1.1 0 1 0 3.3 0a1.7 1.1 0 1 0 -3.3 0M68.2 9.8a2.2 1.7 0 1 0 4.4 0a2.2 1.7 0 1 0 -4.4 0M53.1 2.2a2.2 1.6 0 1 0 4.3 0a2.2 1.6 0 1 0 -4.3 0M64.0 8.6a2.1 1.5 0 1 0 4.3 0a2.1 1.5 0 1 0 -4.3 0M15.8 12.2a2.8 1.9 0 1 0 5.6 0a2.8 1.9 0 1 0 -5.6 0M57.4 5.3a1.6 1.0 0 1 0 3.2 0a1.6 1.0 0 1 0 -3.2 0M12.3 6.5a1.9 1.4 0 1 0 3.8 0a1.9 1.4 0 1 0 -3.8 0M31.8 22.5a1.7 1.1 0 1 0 3.4 0a1.7 1.1 0 1 0 -3.4 0M13.6 2.4a2.6 1.8 0 1 0 5.3 0a2.6 1.8 0 1 0 -5.3 0M27.7 3.8a2.1 1.5 0 1 0 4.1 0a2.1 1.5 0 1 0 -4.1 0M43.9 13.3a1.8 1.1 0 1 0 3.6 0a1.8 1.1 0 1 0 -3.6 0M24.4 19.8a1.7 1.3 0 1 0 3.5 0a1.7 1.3 0 1 0 -3.5 0M38.2 17.9a2.1 1.6 0 1 0 4.3 0a2.1 1.6 0 1 0 -4.3 0M55.8 5.4a2.5 1.8 0 1 0 5.1 0a2.5 1.8 0 1 0 -5.1 0M-2.0 8.8a2.6 2.0 0 1 0 5.2 0a2.6 2.0 0 1 0 -5.2 0M78.0 8.8a2.6 2.0 0 1 0 5.2 0a2.6 2.0 0 1 0 -5.2 0"/><path fill="#b08650" d="M-2.1 -0.5a1.9 1.2 0 1 0 3.7 0a1.9 1.2 0 1 0 -3.7 0M-2.1 25.5a1.9 1.2 0 1 0 3.7 0a1.9 1.2 0 1 0 -3.7 0M77.9 -0.5a1.9 1.2 0 1 0 3.7 0a1.9 1.2 0 1 0 -3.7 0M77.9 25.5a1.9 1.2 0 1 0 3.7 0a1.9 1.2 0 1 0 -3.7 0M39.9 11.5a2.4 1.4 0 1 0 4.9 0a2.4 1.4 0 1 0 -4.9 0M42.1 15.9a1.9 1.2 0 1 0 3.9 0a1.9 1.2 0 1 0 -3.9 0M42.5 3.1a1.8 1.4 0 1 0 3.5 0a1.8 1.4 0 1 0 -3.5 0M16.3 17.8a2.3 1.6 0 1 0 4.6 0a2.3 1.6 0 1 0 -4.6 0M70.1 17.8a1.8 1.4 0 1 0 3.7 0a1.8 1.4 0 1 0 -3.7 0M44.8 17.6a1.9 1.2 0 1 0 3.9 0a1.9 1.2 0 1 0 -3.9 0M23.5 24.5a1.7 1.3 0 1 0 3.4 0a1.7 1.3 0 1 0 -3.4 0M-3.2 3.5a2.8 1.9 0 1 0 5.7 0a2.8 1.9 0 1 0 -5.7 0M76.8 3.5a2.8 1.9 0 1 0 5.7 0a2.8 1.9 0 1 0 -5.7 0M6.5 5.7a2.9 1.7 0 1 0 5.9 0a2.9 1.7 0 1 0 -5.9 0M9.4 0.2a1.6 1.2 0 1 0 3.2 0a1.6 1.2 0 1 0 -3.2 0M9.4 26.2a1.6 1.2 0 1 0 3.2 0a1.6 1.2 0 1 0 -3.2 0"/></pattern>
</defs>
<rect x="0" y="170" width="1200" height="78" fill="#c9ac70"/>
<rect x="0" y="170" width="1200" height="9" fill="#d0b37a"/>
<rect x="0" y="179" width="720" height="20" fill="url(#tex1)"/>
<rect x="0" y="199" width="720" height="24" fill="url(#tex2)"/>
<rect x="0" y="224" width="720" height="24" fill="url(#tex3)"/>
<path fill="#a08450" d="M205.9 218.7a1.4 1.6 0 1 0 2.7 0a1.4 1.6 0 1 0 -2.7 0M77.2 219.5a2.1 0.9 0 1 0 4.1 0a2.1 0.9 0 1 0 -4.1 0M189.5 225.7a2.3 1.0 0 1 0 4.6 0a2.3 1.0 0 1 0 -4.6 0M595.9 221.6a1.4 1.3 0 1 0 2.8 0a1.4 1.3 0 1 0 -2.8 0M423.4 217.7a1.7 1.4 0 1 0 3.4 0a1.7 1.4 0 1 0 -3.4 0M434.2 221.9a1.8 1.4 0 1 0 3.6 0a1.8 1.4 0 1 0 -3.6 0M138.0 220.2a1.6 1.2 0 1 0 3.2 0a1.6 1.2 0 1 0 -3.2 0M471.1 222.0a2.3 1.2 0 1 0 4.7 0a2.3 1.2 0 1 0 -4.7 0M253.5 218.1a1.8 1.1 0 1 0 3.6 0a1.8 1.1 0 1 0 -3.6 0M217.8 219.9a1.5 0.9 0 1 0 3.0 0a1.5 0.9 0 1 0 -3.0 0M482.8 220.3a2.4 1.5 0 1 0 4.8 0a2.4 1.5 0 1 0 -4.8 0M345.0 222.5a1.6 1.5 0 1 0 3.2 0a1.6 1.5 0 1 0 -3.2 0M510.3 217.9a1.5 1.2 0 1 0 2.9 0a1.5 1.2 0 1 0 -2.9 0M53.7 227.4a1.8 1.2 0 1 0 3.6 0a1.8 1.2 0 1 0 -3.6 0M376.6 222.1a1.5 1.6 0 1 0 3.0 0a1.5 1.6 0 1 0 -3.0 0M11.5 225.8a2.1 1.3 0 1 0 4.3 0a2.1 1.3 0 1 0 -4.3 0M76.2 225.5a2.1 1.2 0 1 0 4.3 0a2.1 1.2 0 1 0 -4.3 0M252.5 222.4a2.4 1.0 0 1 0 4.8 0a2.4 1.0 0 1 0 -4.8 0M284.3 224.2a1.9 1.3 0 1 0 3.7 0a1.9 1.3 0 1 0 -3.7 0M144.7 219.2a2.2 1.0 0 1 0 4.5 0a2.2 1.0 0 1 0 -4.5 0M543.8 218.7a2.3 1.4 0 1 0 4.6 0a2.3 1.4 0 1 0 -4.6 0M409.2 217.5a2.5 1.4 0 1 0 4.9 0a2.5 1.4 0 1 0 -4.9 0M569.3 224.5a2.1 1.0 0 1 0 4.3 0a2.1 1.0 0 1 0 -4.3 0M-0.4 225.8a2.5 1.6 0 1 0 5.0 0a2.5 1.6 0 1 0 -5.0 0M56.6 222.8a2.3 1.1 0 1 0 4.5 0a2.3 1.1 0 1 0 -4.5 0M45.4 219.9a2.3 1.1 0 1 0 4.6 0a2.3 1.1 0 1 0 -4.6 0M181.7 217.5a2.1 1.0 0 1 0 4.3 0a2.1 1.0 0 1 0 -4.3 0M92.2 219.8a2.2 1.4 0 1 0 4.4 0a2.2 1.4 0 1 0 -4.4 0M228.2 223.6a2.0 1.6 0 1 0 3.9 0a2.0 1.6 0 1 0 -3.9 0M30.5 224.3a2.5 1.1 0 1 0 5.0 0a2.5 1.1 0 1 0 -5.0 0M271.9 217.3a1.8 1.6 0 1 0 3.6 0a1.8 1.6 0 1 0 -3.6 0M286.1 225.3a2.4 1.3 0 1 0 4.9 0a2.4 1.3 0 1 0 -4.9 0M188.9 225.1a1.6 1.4 0 1 0 3.3 0a1.6 1.4 0 1 0 -3.3 0M267.0 219.8a1.9 1.2 0 1 0 3.7 0a1.9 1.2 0 1 0 -3.7 0M313.6 224.7a1.8 1.4 0 1 0 3.7 0a1.8 1.4 0 1 0 -3.7 0M124.4 225.8a2.4 1.0 0 1 0 4.8 0a2.4 1.0 0 1 0 -4.8 0M141.6 221.6a1.4 1.4 0 1 0 2.7 0a1.4 1.4 0 1 0 -2.7 0M116.8 227.3a1.9 1.1 0 1 0 3.8 0a1.9 1.1 0 1 0 -3.8 0M512.6 218.0a1.9 1.2 0 1 0 3.8 0a1.9 1.2 0 1 0 -3.8 0M402.0 219.7a2.3 0.9 0 1 0 4.6 0a2.3 0.9 0 1 0 -4.6 0M26.2 225.2a1.7 1.1 0 1 0 3.4 0a1.7 1.1 0 1 0 -3.4 0M-0.1 225.3a2.5 1.0 0 1 0 5.1 0a2.5 1.0 0 1 0 -5.1 0M526.1 218.2a2.5 1.7 0 1 0 5.1 0a2.5 1.7 0 1 0 -5.1 0M316.1 217.1a1.7 1.5 0 1 0 3.4 0a1.7 1.5 0 1 0 -3.4 0M59.1 222.5a2.6 1.0 0 1 0 5.1 0a2.6 1.0 0 1 0 -5.1 0M83.5 222.1a1.6 1.3 0 1 0 3.2 0a1.6 1.3 0 1 0 -3.2 0M489.1 225.8a1.6 1.5 0 1 0 3.1 0a1.6 1.5 0 1 0 -3.1 0M325.0 217.4a1.5 1.6 0 1 0 2.9 0a1.5 1.6 0 1 0 -2.9 0M627.3 223.4a2.5 1.5 0 1 0 4.9 0a2.5 1.5 0 1 0 -4.9 0M262.5 222.7a2.0 1.4 0 1 0 3.9 0a2.0 1.4 0 1 0 -3.9 0M212.2 225.2a2.5 1.1 0 1 0 5.1 0a2.5 1.1 0 1 0 -5.1 0M31.8 224.0a1.9 1.5 0 1 0 3.7 0a1.9 1.5 0 1 0 -3.7 0M332.4 219.9a2.5 1.6 0 1 0 5.0 0a2.5 1.6 0 1 0 -5.0 0M473.6 227.4a2.5 1.1 0 1 0 5.0 0a2.5 1.1 0 1 0 -5.0 0M102.2 227.8a1.3 0.9 0 1 0 2.7 0a1.3 0.9 0 1 0 -2.7 0M441.9 224.0a1.4 0.9 0 1 0 2.8 0a1.4 0.9 0 1 0 -2.8 0M567.9 217.7a2.5 1.0 0 1 0 5.1 0a2.5 1.0 0 1 0 -5.1 0M480.3 218.0a2.1 1.3 0 1 0 4.2 0a2.1 1.3 0 1 0 -4.2 0"/>
<path fill="#c9aa6d" d="M58.7 223.4a1.6 1.0 0 1 0 3.2 0a1.6 1.0 0 1 0 -3.2 0M265.8 219.6a1.9 1.6 0 1 0 3.7 0a1.9 1.6 0 1 0 -3.7 0M434.4 218.1a2.1 1.2 0 1 0 4.3 0a2.1 1.2 0 1 0 -4.3 0M86.0 221.7a1.7 1.2 0 1 0 3.3 0a1.7 1.2 0 1 0 -3.3 0M178.7 218.6a1.8 1.4 0 1 0 3.6 0a1.8 1.4 0 1 0 -3.6 0M607.4 224.6a2.5 1.4 0 1 0 5.1 0a2.5 1.4 0 1 0 -5.1 0M291.4 223.4a1.8 1.6 0 1 0 3.7 0a1.8 1.6 0 1 0 -3.7 0M319.1 222.9a2.0 1.6 0 1 0 3.9 0a2.0 1.6 0 1 0 -3.9 0M307.4 225.5a1.4 1.1 0 1 0 2.7 0a1.4 1.1 0 1 0 -2.7 0M581.4 221.9a2.6 1.4 0 1 0 5.1 0a2.6 1.4 0 1 0 -5.1 0M125.6 220.0a2.0 1.3 0 1 0 4.0 0a2.0 1.3 0 1 0 -4.0 0M9.9 220.6a1.7 1.7 0 1 0 3.4 0a1.7 1.7 0 1 0 -3.4 0M54.3 219.9a2.4 1.0 0 1 0 4.8 0a2.4 1.0 0 1 0 -4.8 0M532.5 221.3a1.7 1.1 0 1 0 3.4 0a1.7 1.1 0 1 0 -3.4 0M613.8 227.7a1.7 0.9 0 1 0 3.4 0a1.7 0.9 0 1 0 -3.4 0M30.3 217.2a2.2 1.3 0 1 0 4.4 0a2.2 1.3 0 1 0 -4.4 0M296.6 225.4a1.6 1.7 0 1 0 3.1 0a1.6 1.7 0 1 0 -3.1 0M67.2 218.7a2.6 1.0 0 1 0 5.1 0a2.6 1.0 0 1 0 -5.1 0M-1.6 218.4a2.5 1.4 0 1 0 5.0 0a2.5 1.4 0 1 0 -5.0 0M247.1 219.5a1.3 1.3 0 1 0 2.6 0a1.3 1.3 0 1 0 -2.6 0M484.8 220.2a1.9 1.0 0 1 0 3.9 0a1.9 1.0 0 1 0 -3.9 0M39.4 217.4a2.0 1.0 0 1 0 4.0 0a2.0 1.0 0 1 0 -4.0 0M149.2 220.1a1.5 1.0 0 1 0 3.1 0a1.5 1.0 0 1 0 -3.1 0M159.5 219.7a1.6 1.5 0 1 0 3.2 0a1.6 1.5 0 1 0 -3.2 0M74.7 219.1a1.6 1.0 0 1 0 3.1 0a1.6 1.0 0 1 0 -3.1 0M326.5 219.0a1.6 1.5 0 1 0 3.3 0a1.6 1.5 0 1 0 -3.3 0M603.0 218.2a2.2 1.2 0 1 0 4.4 0a2.2 1.2 0 1 0 -4.4 0M260.1 221.1a1.7 1.1 0 1 0 3.4 0a1.7 1.1 0 1 0 -3.4 0M423.6 218.7a1.4 1.0 0 1 0 2.8 0a1.4 1.0 0 1 0 -2.8 0M581.7 220.5a2.5 1.2 0 1 0 5.0 0a2.5 1.2 0 1 0 -5.0 0M138.1 221.4a1.5 1.2 0 1 0 3.0 0a1.5 1.2 0 1 0 -3.0 0M139.2 226.2a2.3 1.0 0 1 0 4.6 0a2.3 1.0 0 1 0 -4.6 0M474.3 217.5a1.6 1.4 0 1 0 3.3 0a1.6 1.4 0 1 0 -3.3 0M27.4 217.6a1.8 1.0 0 1 0 3.5 0a1.8 1.0 0 1 0 -3.5 0M226.9 219.5a1.7 1.0 0 1 0 3.4 0a1.7 1.0 0 1 0 -3.4 0M523.2 226.8a2.1 1.3 0 1 0 4.3 0a2.1 1.3 0 1 0 -4.3 0M496.3 217.1a2.2 1.1 0 1 0 4.3 0a2.2 1.1 0 1 0 -4.3 0M441.5 224.3a1.9 1.6 0 1 0 3.8 0a1.9 1.6 0 1 0 -3.8 0"/>
<path fill="#7b9446" d="M373.4 217.5a1.4 1.6 0 1 0 2.7 0a1.4 1.6 0 1 0 -2.7 0M12.3 222.1a2.1 1.3 0 1 0 4.2 0a2.1 1.3 0 1 0 -4.2 0M228.1 226.7a1.5 1.0 0 1 0 3.0 0a1.5 1.0 0 1 0 -3.0 0M606.4 222.8a2.2 1.6 0 1 0 4.4 0a2.2 1.6 0 1 0 -4.4 0M165.4 221.0a1.8 1.1 0 1 0 3.5 0a1.8 1.1 0 1 0 -3.5 0M628.0 226.4a2.4 1.5 0 1 0 4.7 0a2.4 1.5 0 1 0 -4.7 0M503.5 222.2a2.2 1.7 0 1 0 4.4 0a2.2 1.7 0 1 0 -4.4 0M139.4 219.5a1.7 1.3 0 1 0 3.5 0a1.7 1.3 0 1 0 -3.5 0M453.5 219.2a1.9 1.4 0 1 0 3.7 0a1.9 1.4 0 1 0 -3.7 0M603.4 225.0a2.6 0.9 0 1 0 5.2 0a2.6 0.9 0 1 0 -5.2 0M595.1 221.8a2.4 1.1 0 1 0 4.7 0a2.4 1.1 0 1 0 -4.7 0M158.9 220.2a2.3 1.2 0 1 0 4.6 0a2.3 1.2 0 1 0 -4.6 0M495.4 223.7a1.5 1.3 0 1 0 3.0 0a1.5 1.3 0 1 0 -3.0 0M69.7 227.1a2.6 1.0 0 1 0 5.1 0a2.6 1.0 0 1 0 -5.1 0M168.3 217.4a1.7 1.0 0 1 0 3.3 0a1.7 1.0 0 1 0 -3.3 0M400.7 222.8a1.7 1.3 0 1 0 3.4 0a1.7 1.3 0 1 0 -3.4 0M9.8 222.6a2.0 1.1 0 1 0 3.9 0a2.0 1.1 0 1 0 -3.9 0M631.9 227.8a1.3 1.4 0 1 0 2.6 0a1.3 1.4 0 1 0 -2.6 0M563.4 219.4a1.3 1.2 0 1 0 2.6 0a1.3 1.2 0 1 0 -2.6 0M302.1 222.5a1.6 1.5 0 1 0 3.2 0a1.6 1.5 0 1 0 -3.2 0M56.3 226.0a1.8 0.9 0 1 0 3.6 0a1.8 0.9 0 1 0 -3.6 0M13.0 220.3a1.4 1.7 0 1 0 2.8 0a1.4 1.7 0 1 0 -2.8 0M467.2 225.9a2.5 1.5 0 1 0 5.0 0a2.5 1.5 0 1 0 -5.0 0M132.6 223.4a2.3 1.1 0 1 0 4.5 0a2.3 1.1 0 1 0 -4.5 0M534.8 218.3a2.2 1.6 0 1 0 4.5 0a2.2 1.6 0 1 0 -4.5 0M167.8 222.6a2.3 1.5 0 1 0 4.6 0a2.3 1.5 0 1 0 -4.6 0M581.7 223.1a1.9 1.2 0 1 0 3.8 0a1.9 1.2 0 1 0 -3.8 0M401.5 226.5a1.4 1.6 0 1 0 2.8 0a1.4 1.6 0 1 0 -2.8 0M302.9 219.6a1.3 1.2 0 1 0 2.7 0a1.3 1.2 0 1 0 -2.7 0M413.8 217.6a1.9 1.4 0 1 0 3.9 0a1.9 1.4 0 1 0 -3.9 0M315.6 219.2a1.6 1.1 0 1 0 3.2 0a1.6 1.1 0 1 0 -3.2 0M236.8 225.1a1.9 1.0 0 1 0 3.7 0a1.9 1.0 0 1 0 -3.7 0M381.3 224.2a2.4 1.6 0 1 0 4.7 0a2.4 1.6 0 1 0 -4.7 0M128.5 217.1a1.9 1.6 0 1 0 3.7 0a1.9 1.6 0 1 0 -3.7 0M235.6 222.5a1.8 1.0 0 1 0 3.5 0a1.8 1.0 0 1 0 -3.5 0M616.4 219.2a2.4 0.9 0 1 0 4.8 0a2.4 0.9 0 1 0 -4.8 0M576.6 223.8a2.1 1.6 0 1 0 4.3 0a2.1 1.6 0 1 0 -4.3 0M395.1 223.8a2.4 1.0 0 1 0 4.8 0a2.4 1.0 0 1 0 -4.8 0M94.3 227.7a1.4 1.3 0 1 0 2.7 0a1.4 1.3 0 1 0 -2.7 0M393.5 226.0a2.4 1.2 0 1 0 4.7 0a2.4 1.2 0 1 0 -4.7 0M240.5 227.5a1.3 1.0 0 1 0 2.7 0a1.3 1.0 0 1 0 -2.7 0M312.6 227.5a2.2 1.5 0 1 0 4.4 0a2.2 1.5 0 1 0 -4.4 0M432.7 226.8a2.3 1.1 0 1 0 4.7 0a2.3 1.1 0 1 0 -4.7 0M326.2 226.9a1.9 1.4 0 1 0 3.9 0a1.9 1.4 0 1 0 -3.9 0M232.9 226.1a1.5 1.6 0 1 0 3.0 0a1.5 1.6 0 1 0 -3.0 0M598.3 225.1a1.5 0.9 0 1 0 3.0 0a1.5 0.9 0 1 0 -3.0 0M37.8 217.3a1.6 0.9 0 1 0 3.2 0a1.6 0.9 0 1 0 -3.2 0M53.0 222.6a1.6 1.1 0 1 0 3.3 0a1.6 1.1 0 1 0 -3.3 0M545.8 225.4a2.4 1.6 0 1 0 4.7 0a2.4 1.6 0 1 0 -4.7 0"/>
<path fill="#6e8a3e" d="M183.3 218.6a2.0 1.3 0 1 0 4.1 0a2.0 1.3 0 1 0 -4.1 0M348.5 217.7a2.1 1.3 0 1 0 4.2 0a2.1 1.3 0 1 0 -4.2 0M368.6 222.0a2.5 1.3 0 1 0 5.1 0a2.5 1.3 0 1 0 -5.1 0M628.4 221.8a1.7 0.9 0 1 0 3.5 0a1.7 0.9 0 1 0 -3.5 0M-2.4 218.7a2.5 1.4 0 1 0 5.1 0a2.5 1.4 0 1 0 -5.1 0M220.9 221.0a1.4 1.3 0 1 0 2.9 0a1.4 1.3 0 1 0 -2.9 0M628.6 223.7a1.9 1.4 0 1 0 3.8 0a1.9 1.4 0 1 0 -3.8 0M345.9 226.2a2.5 1.2 0 1 0 5.0 0a2.5 1.2 0 1 0 -5.0 0M44.9 219.6a1.6 1.1 0 1 0 3.2 0a1.6 1.1 0 1 0 -3.2 0M438.8 221.7a1.6 0.9 0 1 0 3.3 0a1.6 0.9 0 1 0 -3.3 0M583.9 223.8a2.0 1.1 0 1 0 4.0 0a2.0 1.1 0 1 0 -4.0 0M68.5 218.8a1.5 1.6 0 1 0 3.1 0a1.5 1.6 0 1 0 -3.1 0M111.3 220.8a2.6 0.9 0 1 0 5.2 0a2.6 0.9 0 1 0 -5.2 0M561.7 221.7a1.4 1.6 0 1 0 2.8 0a1.4 1.6 0 1 0 -2.8 0M361.5 225.9a2.4 1.4 0 1 0 4.7 0a2.4 1.4 0 1 0 -4.7 0M25.0 224.0a1.8 1.3 0 1 0 3.6 0a1.8 1.3 0 1 0 -3.6 0M353.3 219.2a1.4 1.5 0 1 0 2.7 0a1.4 1.5 0 1 0 -2.7 0M56.3 220.8a1.7 1.2 0 1 0 3.4 0a1.7 1.2 0 1 0 -3.4 0M515.7 219.2a2.3 1.2 0 1 0 4.5 0a2.3 1.2 0 1 0 -4.5 0M556.8 217.2a1.9 1.5 0 1 0 3.7 0a1.9 1.5 0 1 0 -3.7 0M587.5 217.6a2.6 1.0 0 1 0 5.1 0a2.6 1.0 0 1 0 -5.1 0M198.6 218.2a2.5 1.2 0 1 0 5.0 0a2.5 1.2 0 1 0 -5.0 0M20.7 217.7a1.6 1.5 0 1 0 3.3 0a1.6 1.5 0 1 0 -3.3 0M271.4 218.2a1.6 1.0 0 1 0 3.3 0a1.6 1.0 0 1 0 -3.3 0M416.8 227.9a1.3 1.6 0 1 0 2.6 0a1.3 1.6 0 1 0 -2.6 0M22.4 220.7a1.6 1.1 0 1 0 3.1 0a1.6 1.1 0 1 0 -3.1 0M507.1 223.0a1.8 1.5 0 1 0 3.7 0a1.8 1.5 0 1 0 -3.7 0M199.4 224.9a1.4 1.3 0 1 0 2.7 0a1.4 1.3 0 1 0 -2.7 0M391.5 224.6a1.6 1.7 0 1 0 3.1 0a1.6 1.7 0 1 0 -3.1 0M332.1 224.6a1.6 1.3 0 1 0 3.3 0a1.6 1.3 0 1 0 -3.3 0M367.6 221.0a1.9 1.0 0 1 0 3.7 0a1.9 1.0 0 1 0 -3.7 0M154.5 218.6a1.4 1.0 0 1 0 2.8 0a1.4 1.0 0 1 0 -2.8 0M581.5 218.6a1.4 1.4 0 1 0 2.9 0a1.4 1.4 0 1 0 -2.9 0M129.1 218.2a2.5 1.6 0 1 0 5.1 0a2.5 1.6 0 1 0 -5.1 0"/>
<path fill="#b8904f" d="M338.2 225.5a2.1 1.3 0 1 0 4.1 0a2.1 1.3 0 1 0 -4.1 0M625.8 218.3a1.5 1.2 0 1 0 3.0 0a1.5 1.2 0 1 0 -3.0 0M555.9 217.9a1.8 1.1 0 1 0 3.6 0a1.8 1.1 0 1 0 -3.6 0M146.1 219.6a2.4 1.0 0 1 0 4.8 0a2.4 1.0 0 1 0 -4.8 0M43.5 219.3a1.5 1.1 0 1 0 3.0 0a1.5 1.1 0 1 0 -3.0 0M25.0 218.1a2.0 1.5 0 1 0 4.1 0a2.0 1.5 0 1 0 -4.1 0M128.2 221.9a1.5 1.3 0 1 0 2.9 0a1.5 1.3 0 1 0 -2.9 0M160.4 218.5a1.6 1.7 0 1 0 3.2 0a1.6 1.7 0 1 0 -3.2 0M487.7 224.9a1.5 1.5 0 1 0 3.0 0a1.5 1.5 0 1 0 -3.0 0M414.6 222.1a1.4 1.6 0 1 0 2.8 0a1.4 1.6 0 1 0 -2.8 0M83.8 222.3a1.6 1.4 0 1 0 3.3 0a1.6 1.4 0 1 0 -3.3 0M597.8 217.2a1.4 1.3 0 1 0 2.8 0a1.4 1.3 0 1 0 -2.8 0M635.0 227.9a1.6 1.7 0 1 0 3.1 0a1.6 1.7 0 1 0 -3.1 0M448.3 219.5a1.8 1.0 0 1 0 3.6 0a1.8 1.0 0 1 0 -3.6 0M606.3 224.5a1.7 1.0 0 1 0 3.4 0a1.7 1.0 0 1 0 -3.4 0M183.7 221.1a1.8 1.6 0 1 0 3.6 0a1.8 1.6 0 1 0 -3.6 0M191.1 223.1a1.5 1.4 0 1 0 2.9 0a1.5 1.4 0 1 0 -2.9 0M46.1 222.5a2.0 1.3 0 1 0 4.0 0a2.0 1.3 0 1 0 -4.0 0M211.5 225.4a1.5 1.1 0 1 0 3.0 0a1.5 1.1 0 1 0 -3.0 0M263.2 222.8a1.7 1.5 0 1 0 3.3 0a1.7 1.5 0 1 0 -3.3 0M243.6 224.1a2.5 1.6 0 1 0 5.1 0a2.5 1.6 0 1 0 -5.1 0M513.4 227.7a1.3 1.2 0 1 0 2.6 0a1.3 1.2 0 1 0 -2.6 0M590.6 226.1a2.6 1.1 0 1 0 5.1 0a2.6 1.1 0 1 0 -5.1 0M526.8 224.7a1.4 1.5 0 1 0 2.8 0a1.4 1.5 0 1 0 -2.8 0M31.3 217.7a1.9 1.5 0 1 0 3.8 0a1.9 1.5 0 1 0 -3.8 0M47.5 217.9a2.5 1.0 0 1 0 5.1 0a2.5 1.0 0 1 0 -5.1 0M245.0 219.8a2.4 1.0 0 1 0 4.7 0a2.4 1.0 0 1 0 -4.7 0M379.0 222.6a2.3 1.1 0 1 0 4.6 0a2.3 1.1 0 1 0 -4.6 0M257.7 226.7a2.3 1.0 0 1 0 4.6 0a2.3 1.0 0 1 0 -4.6 0M31.7 218.6a1.4 1.4 0 1 0 2.8 0a1.4 1.4 0 1 0 -2.8 0M108.0 217.7a1.9 1.5 0 1 0 3.9 0a1.9 1.5 0 1 0 -3.9 0M13.1 223.8a1.9 1.3 0 1 0 3.8 0a1.9 1.3 0 1 0 -3.8 0M572.3 220.0a1.5 1.3 0 1 0 3.0 0a1.5 1.3 0 1 0 -3.0 0M236.7 219.2a1.5 1.6 0 1 0 3.0 0a1.5 1.6 0 1 0 -3.0 0M634.0 225.0a2.2 0.9 0 1 0 4.5 0a2.2 0.9 0 1 0 -4.5 0M539.0 225.2a1.4 1.4 0 1 0 2.8 0a1.4 1.4 0 1 0 -2.8 0M246.3 223.6a2.5 1.4 0 1 0 5.0 0a2.5 1.4 0 1 0 -5.0 0M443.9 226.4a2.5 1.1 0 1 0 5.1 0a2.5 1.1 0 1 0 -5.1 0M564.1 225.7a2.1 1.0 0 1 0 4.2 0a2.1 1.0 0 1 0 -4.2 0"/>
<path fill="#8f8c4c" d="M189.9 222.4a2.2 1.1 0 1 0 4.5 0a2.2 1.1 0 1 0 -4.5 0M502.8 226.0a2.2 1.4 0 1 0 4.4 0a2.2 1.4 0 1 0 -4.4 0M624.4 222.3a1.4 1.0 0 1 0 2.8 0a1.4 1.0 0 1 0 -2.8 0M142.9 222.7a2.3 1.7 0 1 0 4.5 0a2.3 1.7 0 1 0 -4.5 0M283.7 227.3a2.5 1.2 0 1 0 5.1 0a2.5 1.2 0 1 0 -5.1 0M625.9 224.2a1.5 1.3 0 1 0 3.0 0a1.5 1.3 0 1 0 -3.0 0M461.9 223.1a2.2 1.3 0 1 0 4.4 0a2.2 1.3 0 1 0 -4.4 0M600.1 224.7a2.5 1.6 0 1 0 5.0 0a2.5 1.6 0 1 0 -5.0 0M274.3 222.7a1.8 1.2 0 1 0 3.7 0a1.8 1.2 0 1 0 -3.7 0M57.0 221.0a2.0 1.3 0 1 0 4.0 0a2.0 1.3 0 1 0 -4.0 0M268.4 227.0a1.8 1.3 0 1 0 3.7 0a1.8 1.3 0 1 0 -3.7 0M328.0 222.4a1.4 0.9 0 1 0 2.8 0a1.4 0.9 0 1 0 -2.8 0M549.6 222.0a2.6 1.2 0 1 0 5.2 0a2.6 1.2 0 1 0 -5.2 0M555.1 224.4a2.1 1.5 0 1 0 4.2 0a2.1 1.5 0 1 0 -4.2 0M27.1 219.0a1.9 1.1 0 1 0 3.8 0a1.9 1.1 0 1 0 -3.8 0M440.8 224.4a2.2 1.1 0 1 0 4.4 0a2.2 1.1 0 1 0 -4.4 0M218.8 220.5a1.3 1.5 0 1 0 2.6 0a1.3 1.5 0 1 0 -2.6 0M46.5 227.2a2.4 1.1 0 1 0 4.8 0a2.4 1.1 0 1 0 -4.8 0M317.3 223.3a1.5 1.3 0 1 0 2.9 0a1.5 1.3 0 1 0 -2.9 0M192.4 218.4a2.0 1.2 0 1 0 4.0 0a2.0 1.2 0 1 0 -4.0 0M486.9 218.1a2.0 1.4 0 1 0 4.0 0a2.0 1.4 0 1 0 -4.0 0M635.5 220.1a2.1 1.6 0 1 0 4.3 0a2.1 1.6 0 1 0 -4.3 0M462.4 226.2a1.9 1.0 0 1 0 3.8 0a1.9 1.0 0 1 0 -3.8 0M614.8 219.3a2.3 1.1 0 1 0 4.6 0a2.3 1.1 0 1 0 -4.6 0M586.2 219.1a2.3 1.3 0 1 0 4.5 0a2.3 1.3 0 1 0 -4.5 0M573.3 220.7a1.7 1.7 0 1 0 3.5 0a1.7 1.7 0 1 0 -3.5 0M94.9 219.6a1.9 1.5 0 1 0 3.8 0a1.9 1.5 0 1 0 -3.8 0M493.6 225.4a1.7 1.4 0 1 0 3.4 0a1.7 1.4 0 1 0 -3.4 0M146.6 221.9a1.4 1.1 0 1 0 2.7 0a1.4 1.1 0 1 0 -2.7 0M442.9 221.5a2.2 1.2 0 1 0 4.3 0a2.2 1.2 0 1 0 -4.3 0M31.0 225.2a1.8 0.9 0 1 0 3.7 0a1.8 0.9 0 1 0 -3.7 0M483.3 217.4a1.5 1.4 0 1 0 2.9 0a1.5 1.4 0 1 0 -2.9 0M349.9 223.9a2.1 1.1 0 1 0 4.3 0a2.1 1.1 0 1 0 -4.3 0M157.6 221.3a1.9 1.3 0 1 0 3.8 0a1.9 1.3 0 1 0 -3.8 0M41.5 220.9a1.4 1.3 0 1 0 2.8 0a1.4 1.3 0 1 0 -2.8 0M586.6 219.3a2.1 1.1 0 1 0 4.2 0a2.1 1.1 0 1 0 -4.2 0M489.1 217.5a2.6 1.3 0 1 0 5.1 0a2.6 1.3 0 1 0 -5.1 0M546.6 225.1a1.6 1.7 0 1 0 3.3 0a1.6 1.7 0 1 0 -3.3 0M476.1 219.4a2.1 1.2 0 1 0 4.2 0a2.1 1.2 0 1 0 -4.2 0M423.3 220.0a2.6 0.9 0 1 0 5.1 0a2.6 0.9 0 1 0 -5.1 0M519.2 218.9a1.4 1.4 0 1 0 2.8 0a1.4 1.4 0 1 0 -2.8 0M110.6 228.0a1.6 0.9 0 1 0 3.2 0a1.6 0.9 0 1 0 -3.2 0"/>
<clipPath id="fc"><path d="M565,248 L580,236 C615,210 665,191 730,180 C780,173 830,172 880,172 L1200,172 L1200,248 Z"/></clipPath>
<linearGradient id="soil" x1="0" y1="0" x2="0" y2="1"><stop offset="0" stop-color="#b5a46a"/><stop offset="0.2" stop-color="#a68252"/><stop offset="1" stop-color="#986c46"/></linearGradient>
<g clip-path="url(#fc)">
<rect x="600" y="168" width="600" height="82" fill="url(#soil)"/>
<path fill="#718f3e" d="M1225.0,253.0 1223.0,253.0 1220.9,253.0 1218.9,253.0 1216.9,253.0 1214.9,253.0 1213.0,253.0 1211.1,253.0 1209.2,253.0 1207.3,253.0 1205.5,253.0 1203.8,253.0 1202.1,253.0 1200.5,253.0 1199.0,252.9 1197.5,251.7 1196.1,250.3 1194.8,248.9 1193.5,247.5 1192.4,246.0 1191.3,244.4 1190.3,242.8 1189.5,241.2 1188.7,239.5 1188.0,237.8 1187.4,236.0 1187.0,234.2 1186.6,232.4 1186.3,230.6 1186.2,228.8 1186.1,227.0 1186.2,225.1 1186.3,223.3 1186.6,221.5 1187.0,219.7 1187.4,217.9 1188.0,216.2 1188.7,214.4 1189.5,212.7 1190.3,211.1 1191.3,209.5 1192.4,207.9 1193.5,206.4 1194.8,205.0 1196.1,203.6 1197.5,202.2 1199.0,201.0 1200.5,199.8 1202.1,198.7 1203.8,197.6 1205.5,196.7 1207.3,195.8 1209.2,195.0 1211.1,194.3 1213.0,193.7 1214.9,193.2 1216.9,192.8 1218.9,192.4 1220.9,192.2 1223.0,192.1 1225.0,192.0 1227.0,192.1 1229.1,192.2 1231.1,192.4 1233.1,192.8 1235.1,193.2 1237.0,193.7 1238.9,194.3 1240.8,195.0 1242.7,195.8 1244.5,196.7 1246.2,197.6 1247.9,198.7 1249.5,199.8 1251.0,201.0 1252.5,202.2 1253.9,203.6 1255.2,205.0 1256.5,206.4 1257.6,207.9 1258.7,209.5 1259.7,211.1 1260.5,212.7 1261.3,214.4 1262.0,216.2 1262.6,217.9 1263.0,219.7 1263.4,221.5 1263.7,223.3 1263.8,225.1 1263.9,227.0 1263.8,228.8 1263.7,230.6 1263.4,232.4 1263.0,234.2 1262.6,236.0 1262.0,237.8 1261.3,239.5 1260.5,241.2 1259.7,242.8 1258.7,244.4 1257.6,246.0 1256.5,247.5 1255.2,248.9 1253.9,250.3 1252.5,251.7 1251.0,252.9 1249.5,253.0 1247.9,253.0 1246.2,253.0 1244.5,253.0 1242.7,253.0 1240.8,253.0 1238.9,253.0 1237.0,253.0 1235.1,253.0 1233.1,253.0 1231.1,253.0 1229.1,253.0 1227.0,253.0 1225.0,253.0 L1225.0,253.0 1226.6,253.0 1228.3,253.0 1229.9,253.0 1231.5,253.0 1233.0,253.0 1234.6,253.0 1236.1,253.0 1237.6,253.0 1239.1,253.0 1240.5,253.0 1241.9,253.0 1243.3,253.0 1244.6,252.4 1245.8,251.3 1247.0,250.1 1248.1,248.9 1249.2,247.6 1250.2,246.2 1251.1,244.8 1251.9,243.3 1252.7,241.8 1253.4,240.3 1254.0,238.7 1254.6,237.1 1255.0,235.4 1255.4,233.8 1255.7,232.1 1255.9,230.4 1256.1,228.7 1256.1,227.0 1256.1,225.2 1255.9,223.5 1255.7,221.8 1255.4,220.1 1255.0,218.5 1254.6,216.8 1254.0,215.2 1253.4,213.6 1252.7,212.1 1251.9,210.6 1251.1,209.1 1250.2,207.7 1249.2,206.3 1248.1,205.0 1247.0,203.8 1245.8,202.6 1244.6,201.5 1243.3,200.5 1241.9,199.5 1240.5,198.6 1239.1,197.8 1237.6,197.0 1236.1,196.4 1234.6,195.8 1233.0,195.3 1231.5,194.9 1229.9,194.6 1228.3,194.4 1226.6,194.3 1225.0,194.2 1223.4,194.3 1221.7,194.4 1220.1,194.6 1218.5,194.9 1217.0,195.3 1215.4,195.8 1213.9,196.4 1212.4,197.0 1210.9,197.8 1209.5,198.6 1208.1,199.5 1206.7,200.5 1205.4,201.5 1204.2,202.6 1203.0,203.8 1201.9,205.0 1200.8,206.3 1199.8,207.7 1198.9,209.1 1198.1,210.6 1197.3,212.1 1196.6,213.6 1196.0,215.2 1195.4,216.8 1195.0,218.5 1194.6,220.1 1194.3,221.8 1194.1,223.5 1193.9,225.2 1193.9,227.0 1193.9,228.7 1194.1,230.4 1194.3,232.1 1194.6,233.8 1195.0,235.4 1195.4,237.1 1196.0,238.7 1196.6,240.3 1197.3,241.8 1198.1,243.3 1198.9,244.8 1199.8,246.2 1200.8,247.6 1201.9,248.9 1203.0,250.1 1204.2,251.3 1205.4,252.4 1206.7,253.0 1208.1,253.0 1209.5,253.0 1210.9,253.0 1212.4,253.0 1213.9,253.0 1215.4,253.0 1217.0,253.0 1218.5,253.0 1220.1,253.0 1221.7,253.0 1223.4,253.0 1225.0,253.0ZM1225.0,253.0 1221.1,253.0 1217.2,253.0 1213.3,253.0 1209.5,253.0 1205.7,253.0 1201.9,253.0 1198.3,253.0 1194.7,253.0 1191.1,253.0 1187.7,253.0 1184.4,253.0 1181.2,253.0 1178.1,253.0 1175.1,253.0 1172.2,253.0 1169.6,253.0 1167.0,253.0 1164.6,253.0 1162.4,253.0 1160.4,253.0 1158.5,253.0 1156.8,253.0 1155.4,251.5 1154.1,249.2 1152.9,246.8 1152.0,244.5 1151.3,242.0 1150.8,239.6 1150.5,237.2 1150.4,234.7 1150.5,232.3 1150.8,229.8 1151.3,227.4 1152.0,225.0 1152.9,222.6 1154.1,220.2 1155.4,217.9 1156.8,215.6 1158.5,213.4 1160.4,211.3 1162.4,209.2 1164.6,207.1 1167.0,205.2 1169.6,203.3 1172.2,201.5 1175.1,199.8 1178.1,198.3 1181.2,196.8 1184.4,195.4 1187.7,194.1 1191.1,192.9 1194.7,191.9 1198.3,190.9 1201.9,190.1 1205.7,189.4 1209.5,188.8 1213.3,188.4 1217.2,188.1 1221.1,187.9 1225.0,187.8 1228.9,187.9 1232.8,188.1 1236.7,188.4 1240.5,188.8 1244.3,189.4 1248.1,190.1 1251.7,190.9 1255.3,191.9 1258.9,192.9 1262.3,194.1 1265.6,195.4 1268.8,196.8 1271.9,198.3 1274.9,199.8 1277.8,201.5 1280.4,203.3 1283.0,205.2 1285.4,207.1 1287.6,209.2 1289.6,211.3 1291.5,213.4 1293.2,215.6 1294.6,217.9 1295.9,220.2 1297.1,222.6 1298.0,225.0 1298.7,227.4 1299.2,229.8 1299.5,232.3 1299.6,234.7 1299.5,237.2 1299.2,239.6 1298.7,242.0 1298.0,244.5 1297.1,246.8 1295.9,249.2 1294.6,251.5 1293.2,253.0 1291.5,253.0 1289.6,253.0 1287.6,253.0 1285.4,253.0 1283.0,253.0 1280.4,253.0 1277.8,253.0 1274.9,253.0 1271.9,253.0 1268.8,253.0 1265.6,253.0 1262.3,253.0 1258.9,253.0 1255.3,253.0 1251.7,253.0 1248.1,253.0 1244.3,253.0 1240.5,253.0 1236.7,253.0 1232.8,253.0 1228.9,253.0 1225.0,253.0 L1225.0,253.0 1228.4,253.0 1231.8,253.0 1235.2,253.0 1238.6,253.0 1241.9,253.0 1245.2,253.0 1248.4,253.0 1251.6,253.0 1254.7,253.0 1257.7,253.0 1260.6,253.0 1263.4,253.0 1266.2,253.0 1268.8,253.0 1271.2,253.0 1273.6,253.0 1275.8,253.0 1277.9,253.0 1279.8,253.0 1281.6,253.0 1283.3,253.0 1284.7,252.7 1286.1,250.6 1287.2,248.4 1288.2,246.2 1289.0,243.9 1289.6,241.6 1290.0,239.3 1290.3,237.0 1290.4,234.7 1290.3,232.4 1290.0,230.1 1289.6,227.8 1289.0,225.5 1288.2,223.2 1287.2,221.0 1286.1,218.8 1284.7,216.7 1283.3,214.6 1281.6,212.6 1279.8,210.6 1277.9,208.7 1275.8,206.8 1273.6,205.1 1271.2,203.4 1268.8,201.8 1266.2,200.3 1263.4,198.9 1260.6,197.5 1257.7,196.3 1254.7,195.2 1251.6,194.2 1248.4,193.3 1245.2,192.6 1241.9,191.9 1238.6,191.4 1235.2,190.9 1231.8,190.6 1228.4,190.5 1225.0,190.4 1221.6,190.5 1218.2,190.6 1214.8,190.9 1211.4,191.4 1208.1,191.9 1204.8,192.6 1201.6,193.3 1198.4,194.2 1195.3,195.2 1192.3,196.3 1189.4,197.5 1186.6,198.9 1183.8,200.3 1181.2,201.8 1178.8,203.4 1176.4,205.1 1174.2,206.8 1172.1,208.7 1170.2,210.6 1168.4,212.6 1166.7,214.6 1165.3,216.7 1163.9,218.8 1162.8,221.0 1161.8,223.2 1161.0,225.5 1160.4,227.8 1160.0,230.1 1159.7,232.4 1159.6,234.7 1159.7,237.0 1160.0,239.3 1160.4,241.6 1161.0,243.9 1161.8,246.2 1162.8,248.4 1163.9,250.6 1165.3,252.7 1166.7,253.0 1168.4,253.0 1170.2,253.0 1172.1,253.0 1174.2,253.0 1176.4,253.0 1178.8,253.0 1181.2,253.0 1183.8,253.0 1186.6,253.0 1189.4,253.0 1192.3,253.0 1195.3,253.0 1198.4,253.0 1201.6,253.0 1204.8,253.0 1208.1,253.0 1211.4,253.0 1214.8,253.0 1218.2,253.0 1221.6,253.0 1225.0,253.0ZM1225.0,253.0 1219.2,253.0 1213.5,253.0 1207.7,253.0 1202.1,253.0 1196.5,253.0 1190.9,253.0 1185.5,253.0 1180.1,253.0 1174.9,253.0 1169.8,253.0 1164.9,253.0 1160.2,253.0 1155.6,253.0 1151.2,253.0 1147.0,253.0 1143.0,253.0 1139.3,253.0 1135.8,253.0 1132.5,253.0 1129.5,253.0 1126.7,253.0 1124.2,253.0 1122.0,253.0 1120.1,253.0 1118.5,253.0 1117.1,252.5 1116.1,249.6 1115.3,246.6 1114.9,243.7 1114.7,240.7 1114.9,237.8 1115.3,234.8 1116.1,231.9 1117.1,229.0 1118.5,226.1 1120.1,223.3 1122.0,220.5 1124.2,217.8 1126.7,215.1 1129.5,212.5 1132.5,210.0 1135.8,207.6 1139.3,205.2 1143.0,203.0 1147.0,200.8 1151.2,198.8 1155.6,196.9 1160.2,195.1 1164.9,193.4 1169.8,191.9 1174.9,190.5 1180.1,189.2 1185.5,188.1 1190.9,187.1 1196.5,186.2 1202.1,185.6 1207.7,185.0 1213.5,184.6 1219.2,184.4 1225.0,184.3 1230.8,184.4 1236.5,184.6 1242.3,185.0 1247.9,185.6 1253.5,186.2 1259.1,187.1 1264.5,188.1 1269.9,189.2 1275.1,190.5 1280.2,191.9 1285.1,193.4 1289.8,195.1 1294.4,196.9 1298.8,198.8 1303.0,200.8 1307.0,203.0 1310.7,205.2 1314.2,207.6 1317.5,210.0 1320.5,212.5 1323.3,215.1 1325.8,217.8 1328.0,220.5 1329.9,223.3 1331.5,226.1 1332.9,229.0 1333.9,231.9 1334.7,234.8 1335.1,237.8 1335.3,240.7 1335.1,243.7 1334.7,246.6 1333.9,249.6 1332.9,252.5 1331.5,253.0 1329.9,253.0 1328.0,253.0 1325.8,253.0 1323.3,253.0 1320.5,253.0 1317.5,253.0 1314.2,253.0 1310.7,253.0 1307.0,253.0 1303.0,253.0 1298.8,253.0 1294.4,253.0 1289.8,253.0 1285.1,253.0 1280.2,253.0 1275.1,253.0 1269.9,253.0 1264.5,253.0 1259.1,253.0 1253.5,253.0 1247.9,253.0 1242.3,253.0 1236.5,253.0 1230.8,253.0 1225.0,253.0 L1225.0,253.0 1230.2,253.0 1235.4,253.0 1240.6,253.0 1245.7,253.0 1250.8,253.0 1255.8,253.0 1260.7,253.0 1265.6,253.0 1270.3,253.0 1274.9,253.0 1279.3,253.0 1283.6,253.0 1287.7,253.0 1291.7,253.0 1295.5,253.0 1299.1,253.0 1302.5,253.0 1305.7,253.0 1308.6,253.0 1311.3,253.0 1313.8,253.0 1316.1,253.0 1318.1,253.0 1319.8,253.0 1321.3,253.0 1322.5,251.9 1323.5,249.1 1324.2,246.3 1324.6,243.5 1324.7,240.7 1324.6,237.9 1324.2,235.2 1323.5,232.4 1322.5,229.6 1321.3,226.9 1319.8,224.2 1318.1,221.6 1316.1,219.0 1313.8,216.5 1311.3,214.0 1308.6,211.6 1305.7,209.3 1302.5,207.1 1299.1,205.0 1295.5,203.0 1291.7,201.0 1287.7,199.2 1283.6,197.5 1279.3,195.9 1274.8,194.5 1270.3,193.1 1265.6,191.9 1260.7,190.9 1255.8,189.9 1250.8,189.1 1245.7,188.5 1240.6,188.0 1235.4,187.6 1230.2,187.4 1225.0,187.3 1219.8,187.4 1214.6,187.6 1209.4,188.0 1204.3,188.5 1199.2,189.1 1194.2,189.9 1189.3,190.9 1184.4,191.9 1179.7,193.1 1175.2,194.5 1170.7,195.9 1166.4,197.5 1162.3,199.2 1158.3,201.0 1154.5,203.0 1150.9,205.0 1147.5,207.1 1144.3,209.3 1141.4,211.6 1138.7,214.0 1136.2,216.5 1133.9,219.0 1131.9,221.6 1130.2,224.2 1128.7,226.9 1127.5,229.6 1126.5,232.4 1125.8,235.2 1125.4,237.9 1125.3,240.7 1125.4,243.5 1125.8,246.3 1126.5,249.1 1127.5,251.9 1128.7,253.0 1130.2,253.0 1131.9,253.0 1133.9,253.0 1136.2,253.0 1138.7,253.0 1141.4,253.0 1144.3,253.0 1147.5,253.0 1150.9,253.0 1154.5,253.0 1158.3,253.0 1162.3,253.0 1166.4,253.0 1170.7,253.0 1175.2,253.0 1179.7,253.0 1184.4,253.0 1189.3,253.0 1194.2,253.0 1199.2,253.0 1204.3,253.0 1209.4,253.0 1214.6,253.0 1219.8,253.0 1225.0,253.0ZM1225.0,253.0 1217.4,253.0 1209.7,253.0 1202.2,253.0 1194.6,253.0 1187.2,253.0 1179.9,253.0 1172.7,253.0 1165.6,253.0 1158.7,253.0 1152.0,253.0 1145.5,253.0 1139.2,253.0 1133.1,253.0 1127.3,253.0 1121.8,253.0 1116.5,253.0 1111.5,253.0 1106.9,253.0 1102.6,253.0 1098.6,253.0 1094.9,253.0 1091.6,253.0 1088.7,253.0 1086.1,253.0 1084.0,253.0 1082.2,253.0 1080.8,253.0 1079.8,252.1 1079.2,248.8 1079.0,245.4 1079.2,242.1 1079.8,238.8 1080.8,235.4 1082.2,232.2 1084.0,228.9 1086.1,225.7 1088.7,222.5 1091.6,219.4 1094.9,216.4 1098.6,213.5 1102.6,210.6 1106.9,207.9 1111.5,205.2 1116.5,202.7 1121.8,200.3 1127.3,197.9 1133.1,195.8 1139.2,193.7 1145.5,191.8 1152.0,190.1 1158.7,188.5 1165.6,187.1 1172.7,185.8 1179.9,184.7 1187.2,183.7 1194.6,182.9 1202.2,182.3 1209.7,181.9 1217.4,181.6 1225.0,181.5 1232.6,181.6 1240.3,181.9 1247.8,182.3 1255.4,182.9 1262.8,183.7 1270.1,184.7 1277.3,185.8 1284.4,187.1 1291.3,188.5 1298.0,190.1 1304.5,191.8 1310.8,193.7 1316.9,195.8 1322.7,197.9 1328.2,200.3 1333.5,202.7 1338.5,205.2 1343.1,207.9 1347.4,210.6 1351.4,213.5 1355.1,216.4 1358.4,219.4 1361.3,222.5 1363.9,225.7 1366.0,228.9 1367.8,232.2 1369.2,235.4 1370.2,238.8 1370.8,242.1 1371.0,245.4 1370.8,248.8 1370.2,252.1 1369.2,253.0 1367.8,253.0 1366.0,253.0 1363.9,253.0 1361.3,253.0 1358.4,253.0 1355.1,253.0 1351.4,253.0 1347.4,253.0 1343.1,253.0 1338.5,253.0 1333.5,253.0 1328.2,253.0 1322.7,253.0 1316.9,253.0 1310.8,253.0 1304.5,253.0 1298.0,253.0 1291.3,253.0 1284.4,253.0 1277.3,253.0 1270.1,253.0 1262.8,253.0 1255.4,253.0 1247.8,253.0 1240.3,253.0 1232.6,253.0 1225.0,253.0 L1225.0,253.0 1232.0,253.0 1239.0,253.0 1246.0,253.0 1252.9,253.0 1259.7,253.0 1266.4,253.0 1273.0,253.0 1279.5,253.0 1285.8,253.0 1292.0,253.0 1298.0,253.0 1303.8,253.0 1309.3,253.0 1314.7,253.0 1319.8,253.0 1324.6,253.0 1329.1,253.0 1333.4,253.0 1337.4,253.0 1341.0,253.0 1344.4,253.0 1347.4,253.0 1350.1,253.0 1352.4,253.0 1354.4,253.0 1356.1,253.0 1357.4,253.0 1358.3,251.8 1358.8,248.6 1359.0,245.4 1358.8,242.3 1358.3,239.1 1357.4,235.9 1356.1,232.8 1354.4,229.7 1352.4,226.7 1350.1,223.7 1347.4,220.8 1344.4,217.9 1341.0,215.1 1337.4,212.4 1333.4,209.8 1329.1,207.2 1324.6,204.8 1319.8,202.5 1314.7,200.3 1309.3,198.3 1303.8,196.3 1298.0,194.5 1292.0,192.9 1285.8,191.3 1279.5,190.0 1273.0,188.8 1266.4,187.7 1259.7,186.8 1252.9,186.1 1246.0,185.5 1239.0,185.1 1232.0,184.8 1225.0,184.7 1218.0,184.8 1211.0,185.1 1204.0,185.5 1197.1,186.1 1190.3,186.8 1183.6,187.7 1177.0,188.8 1170.5,190.0 1164.2,191.3 1158.0,192.9 1152.0,194.5 1146.2,196.3 1140.7,198.3 1135.3,200.3 1130.2,202.5 1125.4,204.8 1120.9,207.2 1116.6,209.8 1112.6,212.4 1109.0,215.1 1105.6,217.9 1102.6,220.8 1099.9,223.7 1097.6,226.7 1095.6,229.7 1093.9,232.8 1092.6,235.9 1091.7,239.1 1091.2,242.3 1091.0,245.4 1091.2,248.6 1091.7,251.8 1092.6,253.0 1093.9,253.0 1095.6,253.0 1097.6,253.0 1099.9,253.0 1102.6,253.0 1105.6,253.0 1109.0,253.0 1112.6,253.0 1116.6,253.0 1120.9,253.0 1125.4,253.0 1130.2,253.0 1135.3,253.0 1140.7,253.0 1146.2,253.0 1152.0,253.0 1158.0,253.0 1164.2,253.0 1170.5,253.0 1177.0,253.0 1183.6,253.0 1190.3,253.0 1197.1,253.0 1204.0,253.0 1211.0,253.0 1218.0,253.0 1225.0,253.0ZM1225.0,253.0 1215.5,253.0 1206.0,253.0 1196.6,253.0 1187.2,253.0 1178.0,253.0 1168.9,253.0 1159.9,253.0 1151.1,253.0 1142.5,253.0 1134.2,253.0 1126.0,253.0 1118.2,253.0 1110.7,253.0 1103.4,253.0 1096.5,253.0 1090.0,253.0 1083.8,253.0 1078.0,253.0 1072.6,253.0 1067.6,253.0 1063.1,253.0 1059.0,253.0 1055.4,253.0 1052.2,253.0 1049.5,253.0 1047.3,253.0 1045.5,253.0 1044.3,253.0 1043.5,252.8 1043.3,249.1 1043.5,245.5 1044.3,241.8 1045.5,238.2 1047.3,234.6 1049.5,231.0 1052.2,227.5 1055.4,224.1 1059.0,220.7 1063.1,217.4 1067.6,214.2 1072.6,211.1 1078.0,208.1 1083.8,205.2 1090.0,202.4 1096.5,199.8 1103.4,197.3 1110.7,194.9 1118.2,192.7 1126.0,190.6 1134.2,188.7 1142.5,186.9 1151.1,185.4 1159.9,184.0 1168.9,182.7 1178.0,181.7 1187.2,180.9 1196.6,180.2 1206.0,179.7 1215.5,179.4 1225.0,179.3 1234.5,179.4 1244.0,179.7 1253.4,180.2 1262.8,180.9 1272.0,181.7 1281.1,182.7 1290.1,184.0 1298.9,185.4 1307.5,186.9 1315.8,188.7 1324.0,190.6 1331.8,192.7 1339.3,194.9 1346.6,197.3 1353.5,199.8 1360.0,202.4 1366.2,205.2 1372.0,208.1 1377.4,211.1 1382.4,214.2 1386.9,217.4 1391.0,220.7 1394.6,224.1 1397.8,227.5 1400.5,231.0 1402.7,234.6 1404.5,238.2 1405.7,241.8 1406.5,245.5 1406.7,249.1 1406.5,252.8 1405.7,253.0 1404.5,253.0 1402.7,253.0 1400.5,253.0 1397.8,253.0 1394.6,253.0 1391.0,253.0 1386.9,253.0 1382.4,253.0 1377.4,253.0 1372.0,253.0 1366.2,253.0 1360.0,253.0 1353.5,253.0 1346.6,253.0 1339.3,253.0 1331.8,253.0 1324.0,253.0 1315.9,253.0 1307.5,253.0 1298.9,253.0 1290.1,253.0 1281.1,253.0 1272.0,253.0 1262.8,253.0 1253.4,253.0 1244.0,253.0 1234.5,253.0 1225.0,253.0 L1225.0,253.0 1233.8,253.0 1242.6,253.0 1251.3,253.0 1260.0,253.0 1268.6,253.0 1277.0,253.0 1285.3,253.0 1293.5,253.0 1301.4,253.0 1309.2,253.0 1316.7,253.0 1323.9,253.0 1330.9,253.0 1337.6,253.0 1344.0,253.0 1350.1,253.0 1355.8,253.0 1361.2,253.0 1366.1,253.0 1370.8,253.0 1375.0,253.0 1378.7,253.0 1382.1,253.0 1385.1,253.0 1387.6,253.0 1389.6,253.0 1391.2,253.0 1392.4,253.0 1393.1,252.6 1393.3,249.1 1393.1,245.6 1392.4,242.1 1391.2,238.7 1389.6,235.3 1387.6,231.9 1385.1,228.5 1382.1,225.2 1378.7,222.0 1375.0,218.9 1370.8,215.8 1366.1,212.8 1361.2,210.0 1355.8,207.2 1350.1,204.6 1344.0,202.0 1337.6,199.6 1330.9,197.4 1323.9,195.2 1316.7,193.3 1309.1,191.5 1301.4,189.8 1293.5,188.3 1285.3,187.0 1277.0,185.8 1268.6,184.8 1260.0,184.0 1251.3,183.4 1242.6,182.9 1233.8,182.6 1225.0,182.5 1216.2,182.6 1207.4,182.9 1198.7,183.4 1190.0,184.0 1181.4,184.8 1173.0,185.8 1164.7,187.0 1156.5,188.3 1148.6,189.8 1140.8,191.5 1133.3,193.3 1126.1,195.2 1119.1,197.4 1112.4,199.6 1106.0,202.0 1099.9,204.6 1094.2,207.2 1088.8,210.0 1083.9,212.8 1079.2,215.8 1075.0,218.9 1071.3,222.0 1067.9,225.2 1064.9,228.5 1062.4,231.9 1060.4,235.3 1058.8,238.7 1057.6,242.1 1056.9,245.6 1056.7,249.1 1056.9,252.6 1057.6,253.0 1058.8,253.0 1060.4,253.0 1062.4,253.0 1064.9,253.0 1067.9,253.0 1071.3,253.0 1075.0,253.0 1079.2,253.0 1083.9,253.0 1088.8,253.0 1094.2,253.0 1099.9,253.0 1106.0,253.0 1112.4,253.0 1119.1,253.0 1126.1,253.0 1133.3,253.0 1140.8,253.0 1148.6,253.0 1156.5,253.0 1164.7,253.0 1173.0,253.0 1181.4,253.0 1190.0,253.0 1198.7,253.0 1207.4,253.0 1216.2,253.0 1225.0,253.0ZM1225.0,253.0 1213.6,253.0 1202.3,253.0 1191.0,253.0 1179.8,253.0 1168.7,253.0 1157.8,253.0 1147.1,253.0 1136.5,253.0 1126.3,253.0 1116.3,253.0 1106.6,253.0 1097.2,253.0 1088.1,253.0 1079.5,253.0 1071.2,253.0 1063.4,253.0 1056.0,253.0 1049.1,253.0 1042.6,253.0 1036.7,253.0 1031.2,253.0 1026.3,253.0 1022.0,253.0 1018.2,253.0 1014.9,253.0 1012.3,253.0 1010.2,253.0 1008.7,253.0 1007.8,253.0 1007.5,252.0 1007.8,248.1 1008.7,244.2 1010.2,240.3 1012.3,236.5 1014.9,232.7 1018.2,229.0 1022.0,225.3 1026.3,221.7 1031.2,218.2 1036.7,214.7 1042.6,211.4 1049.1,208.2 1056.0,205.1 1063.4,202.2 1071.2,199.3 1079.5,196.6 1088.1,194.1 1097.2,191.7 1106.6,189.5 1116.3,187.5 1126.3,185.6 1136.5,184.0 1147.1,182.5 1157.8,181.2 1168.7,180.1 1179.8,179.2 1191.0,178.4 1202.3,177.9 1213.6,177.6 1225.0,177.5 1236.4,177.6 1247.7,177.9 1259.0,178.4 1270.2,179.2 1281.3,180.1 1292.2,181.2 1302.9,182.5 1313.5,184.0 1323.7,185.6 1333.7,187.5 1343.4,189.5 1352.8,191.7 1361.9,194.1 1370.5,196.6 1378.8,199.3 1386.6,202.2 1394.0,205.1 1400.9,208.2 1407.4,211.4 1413.3,214.7 1418.8,218.2 1423.7,221.7 1428.0,225.3 1431.8,229.0 1435.1,232.7 1437.7,236.5 1439.8,240.3 1441.3,244.2 1442.2,248.1 1442.5,252.0 1442.2,253.0 1441.3,253.0 1439.8,253.0 1437.7,253.0 1435.1,253.0 1431.8,253.0 1428.0,253.0 1423.7,253.0 1418.8,253.0 1413.3,253.0 1407.4,253.0 1400.9,253.0 1394.0,253.0 1386.6,253.0 1378.8,253.0 1370.5,253.0 1361.9,253.0 1352.8,253.0 1343.4,253.0 1333.7,253.0 1323.7,253.0 1313.5,253.0 1302.9,253.0 1292.2,253.0 1281.3,253.0 1270.2,253.0 1259.0,253.0 1247.7,253.0 1236.4,253.0 1225.0,253.0 L1225.0,253.0 1235.6,253.0 1246.2,253.0 1256.7,253.0 1267.1,253.0 1277.5,253.0 1287.6,253.0 1297.6,253.0 1307.4,253.0 1317.0,253.0 1326.3,253.0 1335.4,253.0 1344.1,253.0 1352.5,253.0 1360.6,253.0 1368.3,253.0 1375.6,253.0 1382.5,253.0 1389.0,253.0 1395.0,253.0 1400.5,253.0 1405.6,253.0 1410.2,253.0 1414.2,253.0 1417.8,253.0 1420.8,253.0 1423.2,253.0 1425.2,253.0 1426.6,253.0 1427.4,253.0 1427.7,252.0 1427.4,248.2 1426.6,244.5 1425.2,240.8 1423.2,237.2 1420.8,233.5 1417.8,229.9 1414.2,226.4 1410.2,223.0 1405.6,219.6 1400.5,216.3 1395.0,213.2 1389.0,210.1 1382.5,207.1 1375.6,204.3 1368.3,201.6 1360.6,199.0 1352.5,196.6 1344.1,194.3 1335.4,192.2 1326.3,190.3 1317.0,188.5 1307.4,186.9 1297.6,185.5 1287.6,184.2 1277.5,183.2 1267.1,182.3 1256.7,181.6 1246.2,181.1 1235.6,180.8 1225.0,180.7 1214.4,180.8 1203.8,181.1 1193.3,181.6 1182.9,182.3 1172.5,183.2 1162.4,184.2 1152.4,185.5 1142.6,186.9 1133.0,188.5 1123.7,190.3 1114.6,192.2 1105.9,194.3 1097.5,196.6 1089.4,199.0 1081.7,201.6 1074.4,204.3 1067.5,207.1 1061.0,210.1 1055.0,213.2 1049.5,216.3 1044.4,219.6 1039.8,223.0 1035.8,226.4 1032.2,229.9 1029.2,233.5 1026.8,237.2 1024.8,240.8 1023.4,244.5 1022.6,248.2 1022.3,252.0 1022.6,253.0 1023.4,253.0 1024.8,253.0 1026.8,253.0 1029.2,253.0 1032.2,253.0 1035.8,253.0 1039.8,253.0 1044.4,253.0 1049.5,253.0 1055.0,253.0 1061.0,253.0 1067.5,253.0 1074.4,253.0 1081.7,253.0 1089.4,253.0 1097.5,253.0 1105.9,253.0 1114.6,253.0 1123.7,253.0 1133.0,253.0 1142.6,253.0 1152.4,253.0 1162.4,253.0 1172.5,253.0 1182.9,253.0 1193.3,253.0 1203.8,253.0 1214.4,253.0 1225.0,253.0ZM971.8,253.0 972.2,250.1 973.2,246.0 975.0,242.0 977.4,237.9 980.5,234.0 984.2,230.0 988.6,226.2 993.7,222.4 999.4,218.7 1005.8,215.1 1012.7,211.6 1020.2,208.3 1028.3,205.0 1036.9,201.9 1046.0,198.9 1055.6,196.1 1065.7,193.5 1076.2,191.0 1087.1,188.7 1098.4,186.5 1110.1,184.6 1122.0,182.8 1134.3,181.2 1146.8,179.9 1159.5,178.7 1172.4,177.8 1185.4,177.0 1198.5,176.5 1211.8,176.2 1225.0,176.1 1238.2,176.2 1251.5,176.5 1264.6,177.0 1277.6,177.8 1290.5,178.7 1303.2,179.9 1315.7,181.2 1328.0,182.8 1339.9,184.6 1351.6,186.5 1362.9,188.7 1373.8,191.0 1384.3,193.5 1394.4,196.1 1404.0,198.9 1413.1,201.9 1421.7,205.0 1429.8,208.3 1437.3,211.6 1444.2,215.1 1450.6,218.7 1456.3,222.4 1461.4,226.2 1465.8,230.0 1469.5,234.0 1472.6,237.9 1475.0,242.0 1476.8,246.0 1477.8,250.1 1478.2,253.0 L1462.6,253.0 1462.2,250.3 1461.3,246.3 1459.6,242.5 1457.4,238.6 1454.5,234.8 1450.9,231.0 1446.8,227.3 1442.0,223.7 1436.7,220.2 1430.7,216.7 1424.2,213.4 1417.2,210.1 1409.6,207.0 1401.5,204.0 1393.0,201.2 1384.0,198.5 1374.5,196.0 1364.6,193.6 1354.4,191.3 1343.8,189.3 1332.9,187.4 1321.6,185.7 1310.1,184.2 1298.4,182.9 1286.5,181.8 1274.4,180.9 1262.2,180.2 1249.8,179.7 1237.4,179.4 1225.0,179.3 1212.6,179.4 1200.2,179.7 1187.8,180.2 1175.6,180.9 1163.5,181.8 1151.6,182.9 1139.9,184.2 1128.4,185.7 1117.1,187.4 1106.2,189.3 1095.6,191.3 1085.4,193.6 1075.5,196.0 1066.0,198.5 1057.0,201.2 1048.5,204.0 1040.4,207.0 1032.8,210.1 1025.8,213.4 1019.3,216.7 1013.3,220.2 1008.0,223.7 1003.2,227.3 999.1,231.0 995.5,234.8 992.6,238.6 990.4,242.5 988.7,246.3 987.8,250.3 987.4,253.0ZM936.4,253.0 936.8,251.7 938.0,247.4 940.0,243.2 942.7,239.1 946.3,234.9 950.5,230.9 955.6,226.9 961.4,222.9 967.9,219.1 975.1,215.4 983.0,211.8 991.5,208.3 1000.7,204.9 1010.5,201.7 1020.9,198.6 1031.9,195.7 1043.4,192.9 1055.4,190.3 1067.8,187.9 1080.7,185.7 1094.0,183.7 1107.6,181.9 1121.6,180.2 1135.8,178.8 1150.3,177.6 1165.0,176.6 1179.9,175.8 1194.8,175.3 1209.9,175.0 1225.0,174.9 1240.1,175.0 1255.2,175.3 1270.1,175.8 1285.0,176.6 1299.7,177.6 1314.2,178.8 1328.4,180.2 1342.4,181.9 1356.0,183.7 1369.3,185.7 1382.2,187.9 1394.6,190.3 1406.6,192.9 1418.1,195.7 1429.1,198.6 1439.5,201.7 1449.3,204.9 1458.5,208.3 1467.0,211.8 1474.9,215.4 1482.1,219.1 1488.6,222.9 1494.4,226.9 1499.5,230.9 1503.7,234.9 1507.3,239.1 1510.0,243.2 1512.0,247.4 1513.2,251.7 1513.6,253.0 L1498.0,253.0 1497.6,251.8 1496.5,247.8 1494.6,243.7 1492.0,239.7 1488.7,235.8 1484.6,231.9 1479.8,228.0 1474.4,224.2 1468.2,220.6 1461.4,217.0 1453.9,213.5 1445.8,210.1 1437.1,206.9 1427.9,203.8 1418.0,200.9 1407.7,198.0 1396.8,195.4 1385.5,192.9 1373.7,190.6 1361.5,188.5 1348.9,186.5 1336.0,184.8 1322.8,183.2 1309.4,181.9 1295.7,180.7 1281.8,179.8 1267.7,179.0 1253.5,178.5 1239.3,178.2 1225.0,178.1 1210.7,178.2 1196.5,178.5 1182.3,179.0 1168.2,179.8 1154.3,180.7 1140.6,181.9 1127.2,183.2 1114.0,184.8 1101.1,186.5 1088.5,188.5 1076.3,190.6 1064.5,192.9 1053.2,195.4 1042.3,198.0 1032.0,200.9 1022.1,203.8 1012.9,206.9 1004.2,210.1 996.1,213.5 988.6,217.0 981.8,220.6 975.6,224.2 970.2,228.0 965.4,231.9 961.3,235.8 958.0,239.7 955.4,243.7 953.5,247.8 952.4,251.8 952.0,253.0ZM901.0,253.0 901.4,252.9 902.7,248.5 904.9,244.2 908.0,239.9 912.0,235.7 916.8,231.5 922.5,227.4 929.0,223.3 936.3,219.4 944.4,215.6 953.2,211.8 962.8,208.2 973.2,204.8 984.2,201.5 995.9,198.3 1008.2,195.3 1021.1,192.4 1034.5,189.8 1048.5,187.3 1063.0,185.0 1077.9,183.0 1093.2,181.1 1108.9,179.4 1124.9,177.9 1141.1,176.7 1157.6,175.7 1174.3,174.9 1191.1,174.3 1208.0,174.0 1225.0,173.9 1242.0,174.0 1258.9,174.3 1275.7,174.9 1292.4,175.7 1308.9,176.7 1325.1,177.9 1341.1,179.4 1356.8,181.1 1372.1,183.0 1387.0,185.0 1401.5,187.3 1415.5,189.8 1428.9,192.4 1441.8,195.3 1454.1,198.3 1465.8,201.5 1476.8,204.8 1487.2,208.2 1496.8,211.8 1505.6,215.6 1513.7,219.4 1521.0,223.3 1527.5,227.4 1533.2,231.5 1538.0,235.7 1542.0,239.9 1545.1,244.2 1547.3,248.5 1548.6,252.9 1549.0,253.0 L1533.4,253.0 1533.0,253.0 1531.8,248.9 1529.6,244.7 1526.7,240.6 1522.9,236.5 1518.4,232.5 1513.0,228.5 1506.8,224.6 1499.8,220.8 1492.1,217.2 1483.7,213.6 1474.5,210.1 1464.7,206.8 1454.2,203.6 1443.1,200.6 1431.4,197.7 1419.1,194.9 1406.3,192.4 1393.0,190.0 1379.2,187.8 1365.0,185.8 1350.5,184.0 1335.5,182.4 1320.3,181.0 1304.8,179.8 1289.1,178.8 1273.3,178.1 1257.2,177.5 1241.1,177.2 1225.0,177.1 1208.9,177.2 1192.8,177.5 1176.7,178.1 1160.9,178.8 1145.2,179.8 1129.7,181.0 1114.5,182.4 1099.5,184.0 1085.0,185.8 1070.8,187.8 1057.0,190.0 1043.7,192.4 1030.9,194.9 1018.6,197.7 1006.9,200.6 995.8,203.6 985.3,206.8 975.5,210.1 966.3,213.6 957.9,217.2 950.2,220.8 943.2,224.6 937.0,228.5 931.6,232.5 927.1,236.5 923.3,240.6 920.4,244.7 918.2,248.9 917.0,253.0 916.6,253.0ZM865.5,253.0 866.0,253.0 867.4,249.4 869.9,245.0 873.3,240.6 877.7,236.2 883.1,232.0 889.3,227.8 896.5,223.6 904.6,219.6 913.6,215.7 923.5,211.9 934.1,208.2 945.6,204.7 957.8,201.3 970.8,198.0 984.4,195.0 998.7,192.1 1013.7,189.3 1029.2,186.8 1045.2,184.5 1061.8,182.3 1078.8,180.4 1096.2,178.7 1113.9,177.2 1131.9,176.0 1150.2,174.9 1168.8,174.1 1187.4,173.5 1206.2,173.2 1225.0,173.1 1243.8,173.2 1262.6,173.5 1281.2,174.1 1299.8,174.9 1318.1,176.0 1336.1,177.2 1353.8,178.7 1371.2,180.4 1388.2,182.3 1404.8,184.5 1420.8,186.8 1436.3,189.3 1451.3,192.1 1465.6,195.0 1479.2,198.0 1492.2,201.3 1504.4,204.7 1515.9,208.2 1526.5,211.9 1536.4,215.7 1545.4,219.6 1553.5,223.6 1560.7,227.8 1566.9,232.0 1572.3,236.2 1576.7,240.6 1580.1,245.0 1582.6,249.4 1584.0,253.0 1584.5,253.0 L1568.9,253.0 1568.5,253.0 1567.1,249.7 1564.7,245.5 1561.4,241.2 1557.2,237.1 1552.1,233.0 1546.1,228.9 1539.2,224.9 1531.5,221.1 1522.9,217.3 1513.5,213.6 1503.3,210.1 1492.3,206.7 1480.6,203.4 1468.2,200.3 1455.1,197.3 1441.4,194.5 1427.2,191.9 1412.3,189.5 1397.0,187.2 1381.1,185.2 1364.9,183.3 1348.3,181.7 1331.3,180.3 1314.0,179.0 1296.5,178.0 1278.8,177.3 1261.0,176.7 1243.0,176.4 1225.0,176.3 1207.0,176.4 1189.0,176.7 1171.2,177.3 1153.5,178.0 1136.0,179.0 1118.7,180.3 1101.7,181.7 1085.1,183.3 1068.9,185.2 1053.0,187.2 1037.7,189.5 1022.8,191.9 1008.6,194.5 994.9,197.3 981.8,200.3 969.4,203.4 957.7,206.7 946.7,210.1 936.5,213.6 927.1,217.3 918.5,221.1 910.8,224.9 903.9,228.9 897.9,233.0 892.8,237.1 888.6,241.2 885.3,245.5 882.9,249.7 881.5,253.0 881.1,253.0ZM830.0,253.0 830.5,253.0 832.1,250.1 834.8,245.6 838.6,241.1 843.4,236.7 849.3,232.3 856.2,228.0 864.1,223.8 873.0,219.7 882.9,215.8 893.7,211.9 905.4,208.1 918.0,204.5 931.4,201.1 945.7,197.8 960.7,194.7 976.4,191.7 992.8,189.0 1009.9,186.4 1027.5,184.0 1045.7,181.8 1064.3,179.9 1083.4,178.2 1102.9,176.6 1122.8,175.3 1142.9,174.3 1163.2,173.5 1183.7,172.9 1204.3,172.5 1225.0,172.4 1245.7,172.5 1266.3,172.9 1286.8,173.5 1307.1,174.3 1327.2,175.3 1347.1,176.6 1366.6,178.2 1385.7,179.9 1404.3,181.8 1422.5,184.0 1440.1,186.4 1457.2,189.0 1473.6,191.7 1489.3,194.7 1504.3,197.8 1518.6,201.1 1532.0,204.5 1544.6,208.1 1556.3,211.9 1567.1,215.8 1577.0,219.7 1585.9,223.8 1593.8,228.0 1600.7,232.3 1606.6,236.7 1611.4,241.1 1615.2,245.6 1617.9,250.1 1619.5,253.0 1620.0,253.0 L1604.4,253.0 1603.9,253.0 1602.4,250.4 1599.8,246.1 1596.1,241.8 1591.5,237.5 1585.9,233.3 1579.2,229.2 1571.6,225.1 1563.1,221.2 1553.6,217.4 1543.2,213.6 1532.0,210.0 1519.9,206.6 1507.0,203.2 1493.3,200.1 1478.9,197.0 1463.8,194.2 1448.0,191.5 1431.7,189.1 1414.7,186.8 1397.3,184.7 1379.3,182.8 1361.0,181.1 1342.3,179.7 1323.2,178.4 1303.9,177.4 1284.4,176.6 1264.7,176.0 1244.9,175.7 1225.0,175.6 1205.1,175.7 1185.3,176.0 1165.6,176.6 1146.1,177.4 1126.8,178.4 1107.7,179.7 1089.0,181.1 1070.7,182.8 1052.7,184.7 1035.3,186.8 1018.3,189.1 1002.0,191.5 986.2,194.2 971.1,197.0 956.7,200.1 943.0,203.2 930.1,206.6 918.0,210.0 906.8,213.6 896.4,217.4 886.9,221.2 878.4,225.1 870.8,229.2 864.1,233.3 858.5,237.5 853.9,241.8 850.2,246.1 847.6,250.4 846.1,253.0 845.6,253.0ZM794.5,253.0 795.1,253.0 796.8,250.6 799.8,246.0 803.9,241.5 809.2,237.0 815.6,232.6 823.1,228.3 831.7,224.0 841.4,219.8 852.2,215.8 863.9,211.9 876.7,208.1 890.4,204.4 905.1,200.9 920.6,197.6 936.9,194.4 954.1,191.4 972.0,188.6 990.5,186.0 1009.7,183.6 1029.6,181.4 1049.9,179.4 1070.7,177.7 1092.0,176.2 1113.6,174.8 1135.5,173.8 1157.7,172.9 1180.0,172.3 1202.5,172.0 1225.0,171.8 1247.5,172.0 1270.0,172.3 1292.3,172.9 1314.5,173.8 1336.4,174.8 1358.0,176.2 1379.3,177.7 1400.1,179.4 1420.4,181.4 1440.3,183.6 1459.5,186.0 1478.0,188.6 1495.9,191.4 1513.1,194.4 1529.4,197.6 1544.9,200.9 1559.6,204.4 1573.3,208.1 1586.1,211.9 1597.8,215.8 1608.6,219.8 1618.3,224.0 1626.9,228.3 1634.4,232.6 1640.8,237.0 1646.1,241.5 1650.2,246.0 1653.2,250.6 1654.9,253.0 1655.5,253.0 L1639.9,253.0 1639.3,253.0 1637.6,250.9 1634.8,246.5 1630.8,242.1 1625.8,237.8 1619.6,233.6 1612.4,229.4 1604.0,225.3 1594.7,221.3 1584.3,217.4 1573.0,213.6 1560.7,210.0 1547.4,206.4 1533.3,203.1 1518.4,199.9 1502.6,196.8 1486.1,193.9 1468.9,191.2 1451.0,188.7 1432.5,186.4 1413.4,184.3 1393.8,182.4 1373.7,180.7 1353.2,179.2 1332.4,177.9 1311.3,176.9 1289.9,176.1 1268.4,175.5 1246.7,175.2 1225.0,175.0 1203.3,175.2 1181.6,175.5 1160.1,176.1 1138.7,176.9 1117.6,177.9 1096.8,179.2 1076.3,180.7 1056.2,182.4 1036.6,184.3 1017.5,186.4 999.0,188.7 981.1,191.2 963.9,193.9 947.4,196.8 931.6,199.9 916.7,203.1 902.6,206.4 889.3,210.0 877.0,213.6 865.7,217.4 855.3,221.3 846.0,225.3 837.6,229.4 830.4,233.6 824.2,237.8 819.2,242.1 815.2,246.5 812.4,250.9 810.7,253.0 810.1,253.0ZM759.0,253.0 759.7,253.0 761.6,251.0 764.8,246.4 769.2,241.8 774.9,237.3 781.8,232.8 790.0,228.4 799.3,224.1 809.8,219.9 821.5,215.8 834.2,211.9 848.0,208.0 862.9,204.3 878.7,200.8 895.5,197.4 913.2,194.2 931.8,191.2 951.1,188.4 971.2,185.7 992.0,183.3 1013.5,181.1 1035.5,179.1 1058.0,177.3 1081.0,175.8 1104.4,174.4 1128.1,173.3 1152.1,172.5 1176.3,171.9 1200.6,171.5 1225.0,171.4 1249.4,171.5 1273.7,171.9 1297.9,172.5 1321.9,173.3 1345.6,174.4 1369.0,175.8 1392.0,177.3 1414.5,179.1 1436.5,181.1 1458.0,183.3 1478.8,185.7 1498.9,188.4 1518.2,191.2 1536.8,194.2 1554.5,197.4 1571.3,200.8 1587.1,204.3 1602.0,208.0 1615.8,211.9 1628.5,215.8 1640.2,219.9 1650.7,224.1 1660.0,228.4 1668.2,232.8 1675.1,237.3 1680.8,241.8 1685.2,246.4 1688.4,251.0 1690.3,253.0 1691.0,253.0 L1675.4,253.0 1674.8,253.0 1672.9,251.3 1669.8,246.9 1665.5,242.4 1660.0,238.1 1653.3,233.8 1645.5,229.6 1636.4,225.4 1626.3,221.4 1615.0,217.4 1602.7,213.6 1589.4,209.9 1575.0,206.4 1559.7,202.9 1543.5,199.7 1526.4,196.6 1508.4,193.7 1489.7,191.0 1470.3,188.4 1450.2,186.1 1429.5,183.9 1408.2,182.0 1386.4,180.3 1364.2,178.8 1341.6,177.5 1318.6,176.5 1295.5,175.7 1272.1,175.1 1248.6,174.7 1225.0,174.6 1201.4,174.7 1177.9,175.1 1154.5,175.7 1131.4,176.5 1108.4,177.5 1085.8,178.8 1063.6,180.3 1041.8,182.0 1020.5,183.9 999.8,186.1 979.7,188.4 960.3,191.0 941.6,193.7 923.6,196.6 906.5,199.7 890.3,202.9 875.0,206.4 860.6,209.9 847.3,213.6 835.0,217.4 823.7,221.4 813.6,225.4 804.5,229.6 796.7,233.8 790.0,238.1 784.5,242.4 780.2,246.9 777.1,251.3 775.2,253.0 774.6,253.0ZM723.6,253.0 724.3,253.0 726.3,251.3 729.8,246.6 734.5,242.0 740.7,237.5 748.1,233.0 756.9,228.5 766.9,224.2 778.2,220.0 790.8,215.8 804.5,211.8 819.3,208.0 835.3,204.3 852.4,200.7 870.4,197.3 889.5,194.1 909.4,191.0 930.3,188.2 951.9,185.5 974.3,183.0 997.4,180.8 1021.1,178.8 1045.3,177.0 1070.1,175.4 1095.2,174.1 1120.7,173.0 1146.6,172.1 1172.6,171.5 1198.8,171.2 1225.0,171.0 1251.2,171.2 1277.4,171.5 1303.4,172.1 1329.3,173.0 1354.8,174.1 1379.9,175.4 1404.7,177.0 1428.9,178.8 1452.6,180.8 1475.7,183.0 1498.1,185.5 1519.7,188.2 1540.6,191.0 1560.5,194.1 1579.6,197.3 1597.6,200.7 1614.7,204.3 1630.7,208.0 1645.5,211.8 1659.2,215.8 1671.8,220.0 1683.1,224.2 1693.1,228.5 1701.9,233.0 1709.3,237.5 1715.5,242.0 1720.2,246.6 1723.7,251.3 1725.7,253.0 1726.4,253.0 L1710.8,253.0 1710.2,253.0 1708.2,251.6 1704.8,247.1 1700.2,242.7 1694.3,238.3 1687.0,233.9 1678.6,229.7 1668.8,225.5 1657.9,221.4 1645.7,217.4 1632.4,213.6 1618.0,209.9 1602.6,206.3 1586.0,202.8 1568.5,199.5 1550.1,196.4 1530.7,193.5 1510.6,190.7 1489.6,188.2 1467.9,185.8 1445.6,183.7 1422.6,181.7 1399.1,180.0 1375.1,178.5 1350.7,177.2 1326.0,176.1 1301.0,175.3 1275.8,174.7 1250.4,174.4 1225.0,174.2 1199.6,174.4 1174.2,174.7 1149.0,175.3 1124.0,176.1 1099.3,177.2 1074.9,178.5 1050.9,180.0 1027.4,181.7 1004.4,183.7 982.1,185.8 960.4,188.2 939.4,190.7 919.3,193.5 899.9,196.4 881.5,199.5 864.0,202.8 847.4,206.3 832.0,209.9 817.6,213.6 804.3,217.4 792.1,221.4 781.2,225.5 771.4,229.7 763.0,233.9 755.7,238.3 749.8,242.7 745.2,247.1 741.8,251.6 739.8,253.0 739.2,253.0ZM688.1,253.0 688.9,253.0 691.1,251.5 694.8,246.8 699.9,242.2 706.4,237.6 714.4,233.1 723.8,228.6 734.6,224.3 746.7,220.0 760.1,215.8 774.8,211.8 790.7,207.9 807.8,204.2 826.0,200.6 845.4,197.2 865.8,193.9 887.1,190.8 909.4,188.0 932.6,185.3 956.6,182.8 981.3,180.6 1006.6,178.5 1032.6,176.7 1059.1,175.2 1086.1,173.8 1113.4,172.7 1141.0,171.9 1168.9,171.2 1196.9,170.9 1225.0,170.7 1253.1,170.9 1281.1,171.2 1309.0,171.9 1336.6,172.7 1363.9,173.8 1390.9,175.2 1417.4,176.7 1443.4,178.5 1468.7,180.6 1493.4,182.8 1517.4,185.3 1540.6,188.0 1562.9,190.8 1584.2,193.9 1604.6,197.2 1624.0,200.6 1642.2,204.2 1659.3,207.9 1675.2,211.8 1689.9,215.8 1703.3,220.0 1715.4,224.3 1726.2,228.6 1735.6,233.1 1743.6,237.6 1750.1,242.2 1755.2,246.8 1758.9,251.5 1761.1,253.0 1761.9,253.0 L1746.3,253.0 1745.5,253.0 1743.4,251.8 1739.8,247.3 1734.9,242.9 1728.5,238.4 1720.7,234.1 1711.6,229.8 1701.2,225.6 1689.4,221.4 1676.4,217.4 1662.2,213.6 1646.7,209.8 1630.1,206.2 1612.4,202.7 1593.6,199.4 1573.8,196.3 1553.0,193.3 1531.4,190.6 1508.9,188.0 1485.6,185.6 1461.6,183.4 1437.0,181.5 1411.8,179.7 1386.1,178.2 1359.9,176.9 1333.4,175.8 1306.5,175.0 1279.5,174.4 1252.3,174.1 1225.0,173.9 1197.7,174.1 1170.5,174.4 1143.5,175.0 1116.6,175.8 1090.1,176.9 1063.9,178.2 1038.2,179.7 1013.0,181.5 988.4,183.4 964.4,185.6 941.1,188.0 918.6,190.6 897.0,193.3 876.2,196.3 856.4,199.4 837.6,202.7 819.9,206.2 803.3,209.8 787.8,213.6 773.6,217.4 760.6,221.4 748.8,225.6 738.4,229.8 729.3,234.1 721.5,238.4 715.1,242.9 710.2,247.3 706.6,251.8 704.5,253.0 703.7,253.0ZM652.7,253.0 653.5,253.0 655.9,251.7 659.8,247.0 665.2,242.3 672.2,237.7 680.7,233.2 690.7,228.7 702.2,224.3 715.1,220.0 729.4,215.8 745.1,211.8 762.0,207.9 780.3,204.1 799.7,200.5 820.4,197.1 842.1,193.8 864.9,190.7 888.6,187.8 913.3,185.1 938.9,182.6 965.2,180.4 992.2,178.3 1019.9,176.5 1048.2,174.9 1076.9,173.6 1106.0,172.5 1135.5,171.6 1165.2,171.0 1195.1,170.6 1225.0,170.5 1254.9,170.6 1284.8,171.0 1314.5,171.6 1344.0,172.5 1373.1,173.6 1401.8,174.9 1430.1,176.5 1457.8,178.3 1484.8,180.4 1511.1,182.6 1536.7,185.1 1561.4,187.8 1585.1,190.7 1607.9,193.8 1629.6,197.1 1650.3,200.5 1669.7,204.1 1688.0,207.9 1704.9,211.8 1720.6,215.8 1734.9,220.0 1747.8,224.3 1759.3,228.7 1769.3,233.2 1777.8,237.7 1784.8,242.3 1790.2,247.0 1794.1,251.7 1796.5,253.0 1797.3,253.0 L1781.7,253.0 1780.9,253.0 1778.6,252.0 1774.8,247.5 1769.5,243.0 1762.7,238.5 1754.4,234.1 1744.7,229.8 1733.5,225.6 1721.0,221.5 1707.1,217.4 1691.9,213.5 1675.3,209.8 1657.6,206.1 1638.7,202.6 1618.6,199.3 1597.5,196.2 1575.3,193.2 1552.2,190.4 1528.2,187.8 1503.3,185.4 1477.7,183.2 1451.4,181.3 1424.5,179.5 1397.0,178.0 1369.1,176.7 1340.7,175.6 1312.1,174.8 1283.2,174.2 1254.1,173.8 1225.0,173.7 1195.9,173.8 1166.8,174.2 1137.9,174.8 1109.3,175.6 1080.9,176.7 1053.0,178.0 1025.5,179.5 998.6,181.3 972.3,183.2 946.7,185.4 921.8,187.8 897.8,190.4 874.7,193.2 852.5,196.2 831.4,199.3 811.3,202.6 792.4,206.1 774.7,209.8 758.1,213.5 742.9,217.4 729.0,221.5 716.5,225.6 705.3,229.8 695.6,234.1 687.3,238.5 680.5,243.0 675.2,247.5 671.4,252.0 669.1,253.0 668.3,253.0ZM617.3,253.0 618.2,253.0 620.7,251.8 624.8,247.1 630.6,242.4 638.1,237.8 647.1,233.2 657.7,228.7 669.9,224.3 683.6,220.0 698.8,215.8 715.4,211.8 733.4,207.8 752.8,204.1 773.4,200.4 795.3,197.0 818.4,193.7 842.6,190.6 867.8,187.7 894.0,185.0 921.2,182.5 949.1,180.2 977.8,178.2 1007.2,176.3 1037.2,174.8 1067.7,173.4 1098.7,172.3 1129.9,171.4 1161.5,170.8 1193.2,170.4 1225.0,170.3 1256.8,170.4 1288.5,170.8 1320.1,171.4 1351.3,172.3 1382.3,173.4 1412.8,174.8 1442.8,176.3 1472.2,178.2 1500.9,180.2 1528.8,182.5 1556.0,185.0 1582.2,187.7 1607.4,190.6 1631.6,193.7 1654.7,197.0 1676.6,200.4 1697.2,204.1 1716.6,207.8 1734.6,211.8 1751.2,215.8 1766.4,220.0 1780.1,224.3 1792.3,228.7 1802.9,233.2 1811.9,237.8 1819.4,242.4 1825.2,247.1 1829.3,251.8 1831.8,253.0 1832.7,253.0 L1817.1,253.0 1816.2,253.0 1813.8,252.2 1809.8,247.6 1804.1,243.1 1796.9,238.6 1788.1,234.2 1777.7,229.9 1765.9,225.6 1752.5,221.5 1737.7,217.4 1721.5,213.5 1704.0,209.7 1685.1,206.1 1665.0,202.6 1643.6,199.2 1621.2,196.1 1597.6,193.1 1573.0,190.3 1547.5,187.7 1521.0,185.3 1493.8,183.1 1465.8,181.1 1437.2,179.3 1408.0,177.8 1378.2,176.5 1348.1,175.4 1317.6,174.6 1286.9,174.0 1256.0,173.6 1225.0,173.5 1194.0,173.6 1163.1,174.0 1132.4,174.6 1101.9,175.4 1071.8,176.5 1042.0,177.8 1012.8,179.3 984.2,181.1 956.2,183.1 929.0,185.3 902.5,187.7 877.0,190.3 852.4,193.1 828.8,196.1 806.4,199.2 785.0,202.6 764.9,206.1 746.0,209.7 728.5,213.5 712.3,217.4 697.5,221.5 684.1,225.6 672.3,229.9 661.9,234.2 653.1,238.6 645.9,243.1 640.2,247.6 636.2,252.2 633.8,253.0 632.9,253.0ZM582.0,253.0 582.8,253.0 585.5,252.0 589.9,247.2 596.0,242.5 603.9,237.9 613.4,233.3 624.7,228.8 637.6,224.3 652.1,220.0 668.1,215.8 685.7,211.7 704.8,207.8 725.3,204.0 747.1,200.4 770.3,196.9 794.7,193.6 820.3,190.5 847.0,187.6 874.8,184.9 903.5,182.4 933.1,180.1 963.5,178.0 994.6,176.2 1026.3,174.6 1058.6,173.3 1091.3,172.1 1124.4,171.3 1157.8,170.6 1191.3,170.3 1225.0,170.1 1258.7,170.3 1292.2,170.6 1325.6,171.3 1358.7,172.1 1391.4,173.3 1423.7,174.6 1455.4,176.2 1486.5,178.0 1516.9,180.1 1546.5,182.4 1575.2,184.9 1603.0,187.6 1629.7,190.5 1655.3,193.6 1679.7,196.9 1702.9,200.4 1724.7,204.0 1745.2,207.8 1764.3,211.7 1781.9,215.8 1797.9,220.0 1812.4,224.3 1825.3,228.8 1836.6,233.3 1846.1,237.9 1854.0,242.5 1860.1,247.2 1864.5,252.0 1867.2,253.0 1868.0,253.0 L1852.4,253.0 1851.6,253.0 1849.0,252.3 1844.7,247.7 1838.7,243.2 1831.1,238.7 1821.7,234.3 1810.8,229.9 1798.2,225.6 1784.0,221.5 1768.4,217.4 1751.2,213.5 1732.6,209.7 1712.6,206.0 1691.3,202.5 1668.7,199.2 1644.8,196.0 1619.9,193.0 1593.8,190.2 1566.7,187.6 1538.7,185.1 1509.8,182.9 1480.2,181.0 1449.9,179.2 1418.9,177.7 1387.4,176.3 1355.5,175.3 1323.2,174.4 1290.6,173.8 1257.8,173.5 1225.0,173.3 1192.2,173.5 1159.4,173.8 1126.8,174.4 1094.5,175.3 1062.6,176.3 1031.1,177.7 1000.1,179.2 969.8,181.0 940.2,182.9 911.3,185.1 883.3,187.6 856.2,190.2 830.1,193.0 805.2,196.0 781.3,199.2 758.7,202.5 737.4,206.0 717.4,209.7 698.8,213.5 681.6,217.4 666.0,221.5 651.8,225.6 639.2,229.9 628.3,234.3 618.9,238.7 611.3,243.2 605.3,247.7 601.0,252.3 598.4,253.0 597.6,253.0ZM546.6,253.0 547.5,253.0 550.3,252.0 554.9,247.3 561.4,242.6 569.7,237.9 579.8,233.3 591.7,228.8 605.2,224.4 620.5,220.0 637.5,215.8 656.0,211.7 676.2,207.8 697.8,204.0 720.8,200.3 745.3,196.8 771.1,193.5 798.1,190.4 826.2,187.5 855.5,184.8 885.8,182.3 917.0,180.0 949.1,177.9 981.9,176.1 1015.4,174.5 1049.4,173.1 1084.0,172.0 1118.9,171.1 1154.1,170.5 1189.5,170.1 1225.0,170.0 1260.5,170.1 1295.9,170.5 1331.1,171.1 1366.0,172.0 1400.6,173.1 1434.6,174.5 1468.1,176.1 1500.9,177.9 1533.0,180.0 1564.2,182.3 1594.5,184.8 1623.8,187.5 1651.9,190.4 1678.9,193.5 1704.7,196.8 1729.2,200.3 1752.2,204.0 1773.8,207.8 1794.0,211.7 1812.5,215.8 1829.5,220.0 1844.8,224.4 1858.3,228.8 1870.2,233.3 1880.3,237.9 1888.6,242.6 1895.1,247.3 1899.7,252.0 1902.5,253.0 1903.4,253.0 L1887.8,253.0 1886.9,253.0 1884.2,252.4 1879.6,247.8 1873.3,243.2 1865.2,238.7 1855.4,234.3 1843.8,229.9 1830.5,225.7 1815.6,221.5 1799.0,217.4 1780.9,213.5 1761.2,209.6 1740.1,206.0 1717.6,202.5 1693.7,199.1 1668.5,195.9 1642.1,192.9 1614.6,190.1 1586.0,187.5 1556.4,185.0 1525.9,182.8 1494.6,180.8 1462.5,179.1 1429.8,177.5 1396.5,176.2 1362.8,175.1 1328.7,174.3 1294.3,173.7 1259.7,173.3 1225.0,173.2 1190.3,173.3 1155.7,173.7 1121.3,174.3 1087.2,175.1 1053.5,176.2 1020.2,177.5 987.5,179.1 955.4,180.8 924.1,182.8 893.6,185.0 864.0,187.5 835.4,190.1 807.9,192.9 781.5,195.9 756.3,199.1 732.4,202.5 709.9,206.0 688.8,209.6 669.1,213.5 651.0,217.4 634.4,221.5 619.5,225.7 606.2,229.9 594.6,234.3 584.8,238.7 576.7,243.2 570.4,247.8 565.8,252.4 563.1,253.0 562.2,253.0ZM511.2,253.0 512.2,253.0 515.1,252.1 520.0,247.3 526.8,242.6 535.6,237.9 546.2,233.3 558.6,228.8 572.9,224.4 589.0,220.0 606.9,215.8 626.4,211.7 647.6,207.7 670.3,203.9 694.6,200.3 720.3,196.8 747.4,193.5 775.8,190.4 805.5,187.4 836.3,184.7 868.1,182.2 901.0,179.9 934.7,177.8 969.2,176.0 1004.4,174.4 1040.3,173.0 1076.6,171.9 1113.3,171.0 1150.4,170.4 1187.6,170.0 1225.0,169.9 1262.4,170.0 1299.6,170.4 1336.7,171.0 1373.4,171.9 1409.7,173.0 1445.6,174.4 1480.8,176.0 1515.3,177.8 1549.0,179.9 1581.9,182.2 1613.7,184.7 1644.5,187.4 1674.2,190.4 1702.6,193.5 1729.7,196.8 1755.4,200.3 1779.7,203.9 1802.4,207.7 1823.6,211.7 1843.1,215.8 1861.0,220.0 1877.1,224.4 1891.4,228.8 1903.8,233.3 1914.4,237.9 1923.2,242.6 1930.0,247.3 1934.9,252.1 1937.8,253.0 1938.8,253.0 L1923.2,253.0 1922.2,253.0 1919.3,252.4 1914.6,247.8 1907.9,243.3 1899.4,238.8 1889.0,234.3 1876.8,229.9 1862.8,225.7 1847.1,221.5 1829.6,217.4 1810.5,213.4 1789.8,209.6 1767.6,205.9 1743.8,202.4 1718.7,199.0 1692.2,195.9 1664.4,192.8 1635.4,190.0 1605.2,187.4 1574.1,185.0 1542.0,182.8 1509.0,180.8 1475.2,179.0 1440.7,177.4 1405.7,176.1 1370.2,175.0 1334.2,174.2 1298.0,173.6 1261.5,173.2 1225.0,173.1 1188.5,173.2 1152.0,173.6 1115.8,174.2 1079.8,175.0 1044.3,176.1 1009.3,177.4 974.8,179.0 941.0,180.8 908.0,182.8 875.9,185.0 844.8,187.4 814.6,190.0 785.6,192.8 757.8,195.9 731.3,199.0 706.2,202.4 682.4,205.9 660.2,209.6 639.5,213.4 620.4,217.4 602.9,221.5 587.2,225.7 573.2,229.9 561.0,234.3 550.6,238.8 542.1,243.3 535.4,247.8 530.7,252.4 527.8,253.0 526.8,253.0ZM475.9,253.0 476.9,253.0 480.0,252.2 485.1,247.4 492.3,242.6 501.4,238.0 512.6,233.3 525.6,228.8 540.7,224.4 557.5,220.0 576.3,215.8 596.7,211.7 619.0,207.7 642.8,203.9 668.3,200.2 695.3,196.7 723.7,193.4 753.6,190.3 784.7,187.4 817.0,184.6 850.4,182.1 884.9,179.8 920.3,177.8 956.5,175.9 993.5,174.3 1031.1,172.9 1069.3,171.8 1107.8,170.9 1146.7,170.3 1185.8,169.9 1225.0,169.8 1264.2,169.9 1303.3,170.3 1342.2,170.9 1380.7,171.8 1418.9,172.9 1456.5,174.3 1493.5,175.9 1529.7,177.8 1565.1,179.8 1599.6,182.1 1633.0,184.6 1665.3,187.4 1696.4,190.3 1726.3,193.4 1754.7,196.7 1781.7,200.2 1807.2,203.9 1831.0,207.7 1853.3,211.7 1873.7,215.8 1892.5,220.0 1909.3,224.4 1924.4,228.8 1937.4,233.3 1948.6,238.0 1957.7,242.6 1964.9,247.4 1970.0,252.2 1973.1,253.0 1974.1,253.0 L1958.5,253.0 1957.5,253.0 1954.5,252.5 1949.5,247.9 1942.5,243.3 1933.5,238.8 1922.6,234.3 1909.8,230.0 1895.1,225.7 1878.6,221.5 1860.2,217.4 1840.2,213.4 1818.4,209.6 1795.0,205.9 1770.1,202.4 1743.7,199.0 1715.8,195.8 1686.6,192.8 1656.1,190.0 1624.5,187.3 1591.8,184.9 1558.0,182.7 1523.3,180.7 1487.9,178.9 1451.7,177.3 1414.8,176.0 1377.5,174.9 1339.7,174.1 1301.7,173.5 1263.4,173.1 1225.0,173.0 1186.6,173.1 1148.3,173.5 1110.3,174.1 1072.5,174.9 1035.2,176.0 998.3,177.3 962.1,178.9 926.7,180.7 892.0,182.7 858.2,184.9 825.5,187.3 793.9,190.0 763.4,192.8 734.2,195.8 706.3,199.0 679.9,202.4 655.0,205.9 631.6,209.6 609.8,213.4 589.8,217.4 571.4,221.5 554.9,225.7 540.2,230.0 527.4,234.3 516.5,238.8 507.5,243.3 500.5,247.9 495.5,252.5 492.5,253.0 491.5,253.0ZM440.5,253.0 441.6,253.0 444.8,252.2 450.2,247.4 457.7,242.7 467.3,238.0 478.9,233.4 492.7,228.8 508.4,224.4 526.0,220.0 545.6,215.8 567.1,211.7 590.4,207.7 615.4,203.9 642.0,200.2 670.3,196.7 700.1,193.4 731.3,190.3 763.9,187.3 797.8,184.6 832.8,182.1 868.9,179.8 905.9,177.7 943.9,175.8 982.6,174.2 1022.0,172.9 1061.9,171.7 1102.3,170.9 1143.0,170.2 1183.9,169.9 1225.0,169.7 1266.1,169.9 1307.0,170.2 1347.7,170.9 1388.1,171.7 1428.0,172.9 1467.4,174.2 1506.1,175.8 1544.1,177.7 1581.1,179.8 1617.2,182.1 1652.2,184.6 1686.1,187.3 1718.7,190.3 1749.9,193.4 1779.7,196.7 1808.0,200.2 1834.6,203.9 1859.6,207.7 1882.9,211.7 1904.4,215.8 1924.0,220.0 1941.6,224.4 1957.3,228.8 1971.1,233.4 1982.7,238.0 1992.3,242.7 1999.8,247.4 2005.2,252.2 2008.4,253.0 2009.5,253.0 L1993.9,253.0 1992.8,253.0 1989.6,252.5 1984.4,247.9 1977.0,243.3 1967.7,238.8 1956.2,234.3 1942.8,230.0 1927.4,225.7 1910.1,221.5 1890.8,217.4 1869.8,213.4 1847.0,209.6 1822.5,205.9 1796.4,202.3 1768.7,199.0 1739.5,195.8 1708.9,192.7 1676.9,189.9 1643.7,187.3 1609.4,184.8 1574.1,182.6 1537.7,180.6 1500.5,178.8 1462.6,177.3 1424.0,176.0 1384.9,174.9 1345.3,174.0 1305.4,173.4 1265.2,173.1 1225.0,172.9 1184.8,173.1 1144.6,173.4 1104.7,174.0 1065.1,174.9 1026.0,176.0 987.4,177.3 949.5,178.8 912.3,180.6 875.9,182.6 840.6,184.8 806.3,187.3 773.1,189.9 741.1,192.7 710.5,195.8 681.3,199.0 653.6,202.3 627.5,205.9 603.0,209.6 580.2,213.4 559.2,217.4 539.9,221.5 522.6,225.7 507.2,230.0 493.8,234.3 482.3,238.8 473.0,243.3 465.6,247.9 460.4,252.5 457.2,253.0 456.1,253.0ZM405.2,253.0 406.3,253.0 409.7,252.2 415.3,247.4 423.1,242.7 433.1,238.0 445.3,233.4 459.7,228.8 476.1,224.4 494.6,220.0 515.0,215.8 537.5,211.6 561.8,207.7 587.9,203.8 615.8,200.2 645.3,196.7 676.5,193.3 709.1,190.2 743.1,187.3 778.5,184.5 815.1,182.0 852.8,179.7 891.6,177.6 931.2,175.8 971.7,174.2 1012.8,172.8 1054.6,171.7 1096.8,170.8 1139.3,170.2 1182.1,169.8 1225.0,169.7 1267.9,169.8 1310.7,170.2 1353.2,170.8 1395.4,171.7 1437.2,172.8 1478.3,174.2 1518.8,175.8 1558.4,177.6 1597.2,179.7 1634.9,182.0 1671.5,184.5 1706.9,187.3 1740.9,190.2 1773.5,193.3 1804.7,196.7 1834.2,200.2 1862.1,203.8 1888.2,207.7 1912.5,211.6 1935.0,215.8 1955.4,220.0 1973.9,224.4 1990.3,228.8 2004.7,233.4 2016.9,238.0 2026.9,242.7 2034.7,247.4 2040.3,252.2 2043.7,253.0 2044.8,253.0 L2029.2,253.0 2028.1,253.0 2024.8,252.6 2019.3,247.9 2011.6,243.4 2001.8,238.8 1989.8,234.4 1975.8,230.0 1959.7,225.7 1941.5,221.5 1921.4,217.4 1899.4,213.4 1875.6,209.6 1850.0,205.9 1822.6,202.3 1793.6,198.9 1763.1,195.7 1731.1,192.7 1697.7,189.9 1663.0,187.2 1627.1,184.8 1590.1,182.6 1552.1,180.6 1513.2,178.8 1473.5,177.2 1433.1,175.9 1392.2,174.8 1350.8,174.0 1309.1,173.4 1267.1,173.0 1225.0,172.9 1182.9,173.0 1140.9,173.4 1099.2,174.0 1057.8,174.8 1016.9,175.9 976.5,177.2 936.8,178.8 897.9,180.6 859.9,182.6 822.9,184.8 787.0,187.2 752.3,189.9 718.9,192.7 686.9,195.7 656.4,198.9 627.4,202.3 600.0,205.9 574.4,209.6 550.6,213.4 528.6,217.4 508.5,221.5 490.3,225.7 474.2,230.0 460.2,234.4 448.2,238.8 438.4,243.4 430.7,247.9 425.2,252.6 421.9,253.0 420.8,253.0ZM369.9,253.0 371.1,253.0 374.6,252.2 380.4,247.5 388.6,242.7 399.0,238.0 411.7,233.4 426.7,228.8 443.8,224.4 463.1,220.0 484.4,215.8 507.8,211.6 533.2,207.7 560.5,203.8 589.5,200.2 620.3,196.6 652.8,193.3 686.9,190.2 722.4,187.2 759.3,184.5 797.4,182.0 836.8,179.7 877.2,177.6 918.6,175.8 960.8,174.1 1003.7,172.8 1047.2,171.6 1091.2,170.8 1135.6,170.1 1180.2,169.7 1225.0,169.6 1269.8,169.7 1314.4,170.1 1358.8,170.8 1402.8,171.6 1446.3,172.8 1489.2,174.1 1531.4,175.8 1572.8,177.6 1613.2,179.7 1652.6,182.0 1690.7,184.5 1727.6,187.2 1763.1,190.2 1797.2,193.3 1829.7,196.6 1860.5,200.2 1889.5,203.8 1916.8,207.7 1942.2,211.6 1965.6,215.8 1986.9,220.0 2006.2,224.4 2023.3,228.8 2038.3,233.4 2051.0,238.0 2061.4,242.7 2069.6,247.5 2075.4,252.2 2078.9,253.0 2080.1,253.0 L2064.5,253.0 2063.4,253.0 2059.9,252.6 2054.2,248.0 2046.2,243.4 2035.9,238.8 2023.4,234.4 2008.8,230.0 1991.9,225.7 1973.0,221.5 1952.0,217.4 1929.1,213.4 1904.2,209.5 1877.4,205.8 1848.9,202.3 1818.6,198.9 1786.7,195.7 1753.3,192.7 1718.5,189.8 1682.2,187.2 1644.8,184.8 1606.1,182.5 1566.5,180.5 1525.9,178.7 1484.4,177.2 1442.3,175.9 1399.5,174.8 1356.3,173.9 1312.8,173.3 1268.9,172.9 1225.0,172.8 1181.1,172.9 1137.2,173.3 1093.7,173.9 1050.5,174.8 1007.7,175.9 965.6,177.2 924.1,178.7 883.5,180.5 843.9,182.5 805.2,184.8 767.8,187.2 731.5,189.8 696.7,192.7 663.3,195.7 631.4,198.9 601.1,202.3 572.6,205.8 545.8,209.5 520.9,213.4 498.0,217.4 477.0,221.5 458.1,225.7 441.2,230.0 426.6,234.4 414.1,238.8 403.8,243.4 395.8,248.0 390.1,252.6 386.6,253.0 385.5,253.0ZM334.6,253.0 335.8,253.0 339.4,252.3 345.5,247.5 354.0,242.7 364.9,238.0 378.1,233.4 393.7,228.8 411.5,224.4 431.6,220.0 453.9,215.7 478.2,211.6 504.6,207.6 533.0,203.8 563.3,200.1 595.4,196.6 629.2,193.3 664.6,190.2 701.6,187.2 740.0,184.5 779.8,182.0 820.7,179.6 862.8,177.6 905.9,175.7 949.8,174.1 994.5,172.7 1039.9,171.6 1085.7,170.7 1131.9,170.1 1178.4,169.7 1225.0,169.6 1271.6,169.7 1318.1,170.1 1364.3,170.7 1410.1,171.6 1455.5,172.7 1500.2,174.1 1544.1,175.7 1587.2,177.6 1629.3,179.6 1670.2,182.0 1710.0,184.5 1748.4,187.2 1785.4,190.2 1820.8,193.3 1854.6,196.6 1886.7,200.1 1917.0,203.8 1945.4,207.6 1971.8,211.6 1996.1,215.7 2018.4,220.0 2038.5,224.4 2056.3,228.8 2071.9,233.4 2085.1,238.0 2096.0,242.7 2104.5,247.5 2110.6,252.3 2114.2,253.0 2115.4,253.0 L2099.8,253.0 2098.6,253.0 2095.0,252.6 2089.1,248.0 2080.7,243.4 2070.0,238.8 2057.0,234.4 2041.7,230.0 2024.2,225.7 2004.5,221.4 1982.6,217.3 1958.7,213.4 1932.8,209.5 1904.9,205.8 1875.1,202.3 1843.6,198.9 1810.4,195.7 1775.6,192.6 1739.2,189.8 1701.5,187.2 1662.4,184.7 1622.2,182.5 1580.8,180.5 1538.5,178.7 1495.3,177.1 1451.4,175.8 1406.9,174.7 1361.9,173.9 1316.4,173.3 1270.8,172.9 1225.0,172.8 1179.2,172.9 1133.6,173.3 1088.1,173.9 1043.1,174.7 998.6,175.8 954.7,177.1 911.5,178.7 869.2,180.5 827.8,182.5 787.6,184.7 748.5,187.2 710.8,189.8 674.4,192.6 639.6,195.7 606.4,198.9 574.9,202.3 545.1,205.8 517.2,209.5 491.3,213.4 467.4,217.3 445.5,221.4 425.8,225.7 408.3,230.0 393.0,234.4 380.0,238.8 369.3,243.4 360.9,248.0 355.0,252.6 351.4,253.0 350.2,253.0ZM299.2,253.0 300.5,253.0 304.3,252.3 310.6,247.5 319.5,242.7 330.8,238.0 344.5,233.4 360.7,228.8 379.3,224.4 400.1,220.0 423.3,215.7 448.6,211.6 476.0,207.6 505.5,203.8 537.0,200.1 570.4,196.6 605.5,193.3 642.4,190.1 680.8,187.2 720.8,184.5 762.1,181.9 804.7,179.6 848.5,177.5 893.2,175.7 938.9,174.1 985.4,172.7 1032.5,171.6 1080.2,170.7 1128.2,170.1 1176.5,169.7 1225.0,169.5 1273.5,169.7 1321.8,170.1 1369.8,170.7 1417.5,171.6 1464.6,172.7 1511.1,174.1 1556.8,175.7 1601.5,177.5 1645.3,179.6 1687.9,181.9 1729.2,184.5 1769.2,187.2 1807.6,190.1 1844.5,193.3 1879.6,196.6 1913.0,200.1 1944.5,203.8 1974.0,207.6 2001.4,211.6 2026.7,215.7 2049.9,220.0 2070.7,224.4 2089.3,228.8 2105.5,233.4 2119.2,238.0 2130.5,242.7 2139.4,247.5 2145.7,252.3 2149.5,253.0 2150.8,253.0 L2135.2,253.0 2133.9,253.0 2130.2,252.6 2124.0,248.0 2115.3,243.4 2104.2,238.8 2090.6,234.4 2074.7,230.0 2056.5,225.7 2036.0,221.4 2013.2,217.3 1988.3,213.4 1961.3,209.5 1932.3,205.8 1901.4,202.3 1868.6,198.9 1834.0,195.7 1797.8,192.6 1760.0,189.8 1720.7,187.1 1680.1,184.7 1638.2,182.5 1595.2,180.5 1551.2,178.7 1506.3,177.1 1460.6,175.8 1414.2,174.7 1367.4,173.8 1320.1,173.2 1272.6,172.9 1225.0,172.7 1177.4,172.9 1129.9,173.2 1082.6,173.8 1035.8,174.7 989.4,175.8 943.7,177.1 898.8,178.7 854.8,180.5 811.8,182.5 769.9,184.7 729.3,187.1 690.0,189.8 652.2,192.6 616.0,195.7 581.4,198.9 548.6,202.3 517.7,205.8 488.7,209.5 461.7,213.4 436.8,217.3 414.0,221.4 393.5,225.7 375.3,230.0 359.4,234.4 345.8,238.8 334.7,243.4 326.0,248.0 319.8,252.6 316.1,253.0 314.8,253.0ZM263.9,253.0 265.2,253.0 269.2,252.3 275.7,247.5 284.9,242.7 296.7,238.0 311.0,233.4 327.8,228.8 347.0,224.4 368.7,220.0 392.7,215.7 419.0,211.6 447.5,207.6 478.1,203.8 510.8,200.1 545.4,196.6 581.9,193.3 620.2,190.1 660.1,187.2 701.6,184.4 744.5,181.9 788.7,179.6 834.1,177.5 880.6,175.7 928.0,174.0 976.3,172.7 1025.2,171.5 1074.7,170.7 1124.5,170.0 1174.7,169.6 1225.0,169.5 1275.3,169.6 1325.5,170.0 1375.3,170.7 1424.8,171.5 1473.7,172.7 1522.0,174.0 1569.4,175.7 1615.9,177.5 1661.3,179.6 1705.5,181.9 1748.4,184.4 1789.9,187.2 1829.8,190.1 1868.1,193.3 1904.6,196.6 1939.2,200.1 1971.9,203.8 2002.5,207.6 2031.0,211.6 2057.3,215.7 2081.3,220.0 2103.0,224.4 2122.2,228.8 2139.0,233.4 2153.3,238.0 2165.1,242.7 2174.3,247.5 2180.8,252.3 2184.8,253.0 2186.1,253.0 L2170.5,253.0 2169.2,253.0 2165.3,252.6 2158.8,248.0 2149.8,243.4 2138.3,238.9 2124.2,234.4 2107.7,230.0 2088.7,225.7 2067.4,221.4 2043.8,217.3 2017.9,213.4 1989.9,209.5 1959.8,205.8 1927.6,202.2 1893.6,198.9 1857.7,195.6 1820.0,192.6 1780.7,189.8 1739.9,187.1 1697.7,184.7 1654.2,182.4 1609.6,180.4 1563.8,178.6 1517.2,177.1 1469.7,175.8 1421.6,174.7 1372.9,173.8 1323.8,173.2 1274.5,172.8 1225.0,172.7 1175.5,172.8 1126.2,173.2 1077.1,173.8 1028.4,174.7 980.3,175.8 932.8,177.1 886.2,178.6 840.4,180.4 795.8,182.4 752.3,184.7 710.1,187.1 669.3,189.8 630.0,192.6 592.3,195.6 556.4,198.9 522.4,202.2 490.2,205.8 460.1,209.5 432.1,213.4 406.2,217.3 382.6,221.4 361.3,225.7 342.3,230.0 325.8,234.4 311.7,238.9 300.2,243.4 291.2,248.0 284.7,252.6 280.8,253.0 279.5,253.0ZM228.6,253.0 230.0,253.0 234.1,252.3 240.9,247.5 250.4,242.7 262.6,238.0 277.4,233.4 294.8,228.8 314.7,224.4 337.2,220.0 362.1,215.7 389.3,211.6 418.9,207.6 450.7,203.8 484.5,200.1 520.4,196.6 558.3,193.2 597.9,190.1 639.3,187.2 682.3,184.4 726.8,181.9 772.6,179.6 819.7,177.5 867.9,175.6 917.1,174.0 967.1,172.7 1017.8,171.5 1069.1,170.6 1120.8,170.0 1172.9,169.6 1225.0,169.5 1277.1,169.6 1329.2,170.0 1380.9,170.6 1432.2,171.5 1482.9,172.7 1532.9,174.0 1582.1,175.6 1630.3,177.5 1677.4,179.6 1723.2,181.9 1767.7,184.4 1810.7,187.2 1852.1,190.1 1891.7,193.2 1929.6,196.6 1965.5,200.1 1999.3,203.8 2031.1,207.6 2060.7,211.6 2087.9,215.7 2112.8,220.0 2135.3,224.4 2155.2,228.8 2172.6,233.4 2187.4,238.0 2199.6,242.7 2209.1,247.5 2215.9,252.3 2220.0,253.0 2221.4,253.0 L2205.8,253.0 2204.5,253.0 2200.4,252.6 2193.7,248.0 2184.4,243.4 2172.4,238.9 2157.8,234.4 2140.7,230.0 2121.0,225.7 2098.9,221.4 2074.4,217.3 2047.6,213.3 2018.5,209.5 1987.2,205.8 1953.9,202.2 1918.5,198.8 1881.3,195.6 1842.2,192.6 1801.5,189.7 1759.2,187.1 1715.4,184.7 1670.3,182.4 1623.9,180.4 1576.5,178.6 1528.1,177.1 1478.8,175.7 1428.9,174.7 1378.4,173.8 1327.5,173.2 1276.3,172.8 1225.0,172.7 1173.7,172.8 1122.5,173.2 1071.6,173.8 1021.1,174.7 971.2,175.7 921.9,177.1 873.5,178.6 826.1,180.4 779.7,182.4 734.6,184.7 690.8,187.1 648.5,189.7 607.8,192.6 568.7,195.6 531.5,198.8 496.1,202.2 462.8,205.8 431.5,209.5 402.4,213.3 375.6,217.3 351.1,221.4 329.0,225.7 309.3,230.0 292.2,234.4 277.6,238.9 265.6,243.4 256.3,248.0 249.6,252.6 245.5,253.0 244.2,253.0ZM193.3,253.0 194.7,253.0 198.9,252.3 206.0,247.5 215.8,242.7 228.4,238.0 243.8,233.4 261.8,228.8 282.5,224.4 305.7,220.0 331.5,215.7 359.7,211.6 390.3,207.6 423.2,203.8 458.3,200.1 495.5,196.6 534.6,193.2 575.7,190.1 618.6,187.1 663.1,184.4 709.1,181.9 756.6,179.6 805.4,177.5 855.3,175.6 906.2,174.0 958.0,172.6 1010.5,171.5 1063.6,170.6 1117.2,170.0 1171.0,169.6 1225.0,169.5 1279.0,169.6 1332.8,170.0 1386.4,170.6 1439.5,171.5 1492.0,172.6 1543.8,174.0 1594.7,175.6 1644.6,177.5 1693.4,179.6 1740.9,181.9 1786.9,184.4 1831.4,187.1 1874.3,190.1 1915.4,193.2 1954.5,196.6 1991.7,200.1 2026.8,203.8 2059.7,207.6 2090.3,211.6 2118.5,215.7 2144.3,220.0 2167.5,224.4 2188.2,228.8 2206.2,233.4 2221.6,238.0 2234.2,242.7 2244.0,247.5 2251.1,252.3 2255.3,253.0 2256.7,253.0 L2241.1,253.0 2239.7,253.0 2235.5,252.6 2228.6,248.0 2218.9,243.4 2206.5,238.9 2191.4,234.4 2173.6,230.0 2153.3,225.7 2130.4,221.4 2105.0,217.3 2077.2,213.3 2047.1,209.5 2014.7,205.8 1980.1,202.2 1943.5,198.8 1904.9,195.6 1864.5,192.6 1822.3,189.7 1778.4,187.1 1733.1,184.6 1686.3,182.4 1638.3,180.4 1589.1,178.6 1539.0,177.1 1488.0,175.7 1436.3,174.6 1384.0,173.8 1331.2,173.2 1278.2,172.8 1225.0,172.7 1171.8,172.8 1118.8,173.2 1066.0,173.8 1013.7,174.6 962.0,175.7 911.0,177.1 860.9,178.6 811.7,180.4 763.7,182.4 716.9,184.6 671.6,187.1 627.7,189.7 585.5,192.6 545.1,195.6 506.5,198.8 469.9,202.2 435.3,205.8 402.9,209.5 372.8,213.3 345.0,217.3 319.6,221.4 296.7,225.7 276.4,230.0 258.6,234.4 243.5,238.9 231.1,243.4 221.4,248.0 214.5,252.6 210.3,253.0 208.9,253.0ZM158.0,253.0 159.4,253.0 163.8,252.3 171.1,247.5 181.3,242.7 194.3,238.0 210.2,233.4 228.8,228.8 250.2,224.3 274.3,220.0 300.9,215.7 330.1,211.6 361.8,207.6 395.8,203.8 432.0,200.1 470.5,196.6 511.0,193.2 553.5,190.1 597.8,187.1 643.9,184.4 691.5,181.9 740.6,179.5 791.0,177.5 842.6,175.6 895.3,174.0 948.8,172.6 1003.2,171.5 1058.1,170.6 1113.5,170.0 1169.2,169.6 1225.0,169.5 1280.8,169.6 1336.5,170.0 1391.9,170.6 1446.8,171.5 1501.2,172.6 1554.7,174.0 1607.4,175.6 1659.0,177.5 1709.4,179.5 1758.5,181.9 1806.1,184.4 1852.2,187.1 1896.5,190.1 1939.0,193.2 1979.5,196.6 2018.0,200.1 2054.2,203.8 2088.2,207.6 2119.9,211.6 2149.1,215.7 2175.7,220.0 2199.8,224.3 2221.2,228.8 2239.8,233.4 2255.7,238.0 2268.7,242.7 2278.9,247.5 2286.2,252.3 2290.6,253.0 2292.0,253.0 L2276.4,253.0 2275.0,253.0 2270.7,252.6 2263.5,248.0 2253.5,243.4 2240.6,238.9 2225.0,234.4 2206.6,230.0 2185.5,225.7 2161.8,221.4 2135.6,217.3 2106.8,213.3 2075.6,209.5 2042.1,205.8 2006.4,202.2 1968.5,198.8 1928.5,195.6 1886.7,192.6 1843.0,189.7 1797.6,187.1 1750.7,184.6 1702.3,182.4 1652.7,180.4 1601.8,178.6 1549.9,177.0 1497.1,175.7 1443.6,174.6 1389.5,173.8 1334.9,173.2 1280.0,172.8 1225.0,172.7 1170.0,172.8 1115.1,173.2 1060.5,173.8 1006.4,174.6 952.9,175.7 900.1,177.0 848.2,178.6 797.3,180.4 747.7,182.4 699.3,184.6 652.4,187.1 607.0,189.7 563.3,192.6 521.5,195.6 481.5,198.8 443.6,202.2 407.9,205.8 374.4,209.5 343.2,213.3 314.4,217.3 288.2,221.4 264.5,225.7 243.4,230.0 225.0,234.4 209.4,238.9 196.5,243.4 186.5,248.0 179.3,252.6 175.0,253.0 173.6,253.0ZM122.7,253.0 124.2,253.0 128.7,252.3 136.2,247.5 146.7,242.7 160.2,238.0 176.6,233.4 195.9,228.8 218.0,224.3 242.8,220.0 270.3,215.7 300.5,211.6 333.2,207.6 368.3,203.8 405.8,200.1 445.5,196.6 487.4,193.2 531.3,190.1 577.1,187.1 624.6,184.4 673.8,181.9 724.5,179.5 776.6,177.5 830.0,175.6 884.4,174.0 939.7,172.6 995.8,171.5 1052.6,170.6 1109.8,170.0 1167.3,169.6 1225.0,169.5 1282.7,169.6 1340.2,170.0 1397.4,170.6 1454.2,171.5 1510.3,172.6 1565.6,174.0 1620.0,175.6 1673.4,177.5 1725.5,179.5 1776.2,181.9 1825.4,184.4 1872.9,187.1 1918.7,190.1 1962.6,193.2 2004.5,196.6 2044.2,200.1 2081.7,203.8 2116.8,207.6 2149.5,211.6 2179.7,215.7 2207.2,220.0 2232.0,224.3 2254.1,228.8 2273.4,233.4 2289.8,238.0 2303.3,242.7 2313.8,247.5 2321.3,252.3 2325.8,253.0 2327.3,253.0 L2311.7,253.0 2310.3,253.0 2305.8,252.6 2298.4,248.0 2288.0,243.4 2274.7,238.9 2258.6,234.4 2239.6,230.0 2217.8,225.6 2193.3,221.4 2166.1,217.3 2136.4,213.3 2104.2,209.5 2069.6,205.8 2032.6,202.2 1993.4,198.8 1952.2,195.6 1908.9,192.6 1863.8,189.7 1816.9,187.1 1768.4,184.6 1718.4,182.4 1667.0,180.4 1614.5,178.6 1560.8,177.0 1506.3,175.7 1450.9,174.6 1395.0,173.8 1338.6,173.1 1281.9,172.8 1225.0,172.7 1168.1,172.8 1111.4,173.1 1055.0,173.8 999.1,174.6 943.7,175.7 889.2,177.0 835.5,178.6 783.0,180.4 731.6,182.4 681.6,184.6 633.1,187.1 586.2,189.7 541.1,192.6 497.8,195.6 456.6,198.8 417.4,202.2 380.4,205.8 345.8,209.5 313.6,213.3 283.9,217.3 256.7,221.4 232.2,225.6 210.4,230.0 191.4,234.4 175.3,238.9 162.0,243.4 151.6,248.0 144.2,252.6 139.7,253.0 138.3,253.0ZM87.3,253.0 88.9,253.0 93.6,252.3 101.4,247.5 112.2,242.7 126.1,238.0 143.0,233.4 162.9,228.8 185.7,224.3 211.3,220.0 239.8,215.7 270.9,211.6 304.6,207.6 340.9,203.7 379.6,200.1 420.6,196.5 463.8,193.2 509.1,190.1 556.3,187.1 605.4,184.4 656.2,181.8 708.5,179.5 762.3,177.4 817.3,175.6 873.4,174.0 930.6,172.6 988.5,171.5 1047.0,170.6 1106.1,170.0 1165.5,169.6 1225.0,169.4 1284.5,169.6 1343.9,170.0 1403.0,170.6 1461.5,171.5 1519.4,172.6 1576.6,174.0 1632.7,175.6 1687.7,177.4 1741.5,179.5 1793.8,181.8 1844.6,184.4 1893.7,187.1 1940.9,190.1 1986.2,193.2 2029.4,196.5 2070.4,200.1 2109.1,203.7 2145.4,207.6 2179.1,211.6 2210.2,215.7 2238.7,220.0 2264.3,224.3 2287.1,228.8 2307.0,233.4 2323.9,238.0 2337.8,242.7 2348.6,247.5 2356.4,252.3 2361.1,253.0 2362.7,253.0 L2347.1,253.0 2345.5,253.0 2340.9,252.6 2333.2,248.0 2322.5,243.4 2308.8,238.9 2292.1,234.4 2272.5,230.0 2250.0,225.6 2224.8,221.4 2196.7,217.3 2166.0,213.3 2132.8,209.5 2097.0,205.8 2058.8,202.2 2018.4,198.8 1975.8,195.6 1931.1,192.6 1884.5,189.7 1836.1,187.1 1786.0,184.6 1734.4,182.4 1681.4,180.4 1627.1,178.6 1571.7,177.0 1515.4,175.7 1458.3,174.6 1400.5,173.7 1342.3,173.1 1283.7,172.8 1225.0,172.6 1166.3,172.8 1107.7,173.1 1049.5,173.7 991.7,174.6 934.6,175.7 878.3,177.0 822.9,178.6 768.6,180.4 715.6,182.4 664.0,184.6 613.9,187.1 565.5,189.7 518.9,192.6 474.2,195.6 431.6,198.8 391.2,202.2 353.0,205.8 317.2,209.5 284.0,213.3 253.3,217.3 225.2,221.4 200.0,225.6 177.5,230.0 157.9,234.4 141.2,238.9 127.5,243.4 116.8,248.0 109.1,252.6 104.5,253.0 102.9,253.0ZM52.0,253.0 53.6,253.0 58.5,252.3 66.5,247.5 77.7,242.7 92.0,238.0 109.4,233.4 129.9,228.8 153.4,224.3 179.9,220.0 209.2,215.7 241.3,211.6 276.1,207.6 313.4,203.7 353.3,200.1 395.6,196.5 440.1,193.2 486.8,190.1 535.5,187.1 586.2,184.4 638.5,181.8 692.5,179.5 747.9,177.4 804.6,175.6 862.5,174.0 921.4,172.6 981.1,171.5 1041.5,170.6 1102.4,169.9 1163.6,169.6 1225.0,169.4 1286.4,169.6 1347.6,169.9 1408.5,170.6 1468.9,171.5 1528.6,172.6 1587.5,174.0 1645.4,175.6 1702.1,177.4 1757.5,179.5 1811.5,181.8 1863.8,184.4 1914.5,187.1 1963.2,190.1 2009.9,193.2 2054.4,196.5 2096.7,200.1 2136.6,203.7 2173.9,207.6 2208.7,211.6 2240.8,215.7 2270.1,220.0 2296.6,224.3 2320.1,228.8 2340.6,233.4 2358.0,238.0 2372.3,242.7 2383.5,247.5 2391.5,252.3 2396.4,253.0 2398.0,253.0 L2382.4,253.0 2380.8,253.0 2376.0,252.6 2368.1,248.0 2357.1,243.4 2342.9,238.9 2325.7,234.4 2305.5,230.0 2282.3,225.6 2256.2,221.4 2227.3,217.3 2195.6,213.3 2161.3,209.5 2124.4,205.8 2085.1,202.2 2043.4,198.8 1999.4,195.6 1953.4,192.5 1905.3,189.7 1855.3,187.1 1803.7,184.6 1750.4,182.4 1695.7,180.4 1639.8,178.6 1582.6,177.0 1524.5,175.7 1465.6,174.6 1406.1,173.7 1346.0,173.1 1285.6,172.8 1225.0,172.6 1164.4,172.8 1104.0,173.1 1043.9,173.7 984.4,174.6 925.5,175.7 867.4,177.0 810.2,178.6 754.3,180.4 699.6,182.4 646.3,184.6 594.7,187.1 544.7,189.7 496.6,192.5 450.6,195.6 406.6,198.8 364.9,202.2 325.6,205.8 288.7,209.5 254.4,213.3 222.7,217.3 193.8,221.4 167.7,225.6 144.5,230.0 124.3,234.4 107.1,238.9 92.9,243.4 81.9,248.0 74.0,252.6 69.2,253.0 67.6,253.0ZM16.7,253.0 18.4,253.0 23.3,252.3 31.6,247.5 43.1,242.7 57.9,238.0 75.9,233.4 97.0,228.8 121.2,224.3 148.4,220.0 178.6,215.7 211.7,211.6 247.5,207.6 286.0,203.7 327.1,200.1 370.6,196.5 416.5,193.2 464.6,190.1 514.8,187.1 566.9,184.4 620.9,181.8 676.5,179.5 733.5,177.4 792.0,175.6 851.6,174.0 912.3,172.6 973.8,171.5 1036.0,170.6 1098.7,169.9 1161.8,169.6 1225.0,169.4 1288.2,169.6 1351.3,169.9 1414.0,170.6 1476.2,171.5 1537.7,172.6 1598.4,174.0 1658.0,175.6 1716.5,177.4 1773.5,179.5 1829.1,181.8 1883.1,184.4 1935.2,187.1 1985.4,190.1 2033.5,193.2 2079.4,196.5 2122.9,200.1 2164.0,203.7 2202.5,207.6 2238.3,211.6 2271.4,215.7 2301.6,220.0 2328.8,224.3 2353.0,228.8 2374.1,233.4 2392.1,238.0 2406.9,242.7 2418.4,247.5 2426.7,252.3 2431.6,253.0 2433.3,253.0 L2417.7,253.0 2416.0,253.0 2411.1,252.7 2403.0,248.0 2391.6,243.4 2377.0,238.9 2359.3,234.4 2338.5,230.0 2314.6,225.6 2287.7,221.4 2257.9,217.3 2225.3,213.3 2189.9,209.5 2151.9,205.8 2111.3,202.2 2068.3,198.8 2023.1,195.6 1975.6,192.5 1926.0,189.7 1874.6,187.0 1821.3,184.6 1766.5,182.4 1710.1,180.4 1652.4,178.6 1593.6,177.0 1533.7,175.7 1473.0,174.6 1411.6,173.7 1349.7,173.1 1287.4,172.8 1225.0,172.6 1162.6,172.8 1100.3,173.1 1038.4,173.7 977.0,174.6 916.3,175.7 856.4,177.0 797.6,178.6 739.9,180.4 683.5,182.4 628.7,184.6 575.4,187.0 524.0,189.7 474.4,192.5 426.9,195.6 381.7,198.8 338.7,202.2 298.1,205.8 260.1,209.5 224.7,213.3 192.1,217.3 162.3,221.4 135.4,225.6 111.5,230.0 90.7,234.4 73.0,238.9 58.4,243.4 47.0,248.0 38.9,252.7 34.0,253.0 32.3,253.0ZM-18.6,253.0 -16.9,253.0 -11.8,252.3 -3.3,247.5 8.6,242.7 23.8,238.0 42.3,233.4 64.0,228.8 88.9,224.3 117.0,220.0 148.0,215.7 182.0,211.6 218.9,207.6 258.6,203.7 300.8,200.1 345.7,196.5 392.9,193.2 442.4,190.1 494.0,187.1 547.7,184.4 603.2,181.8 660.4,179.5 719.2,177.4 779.3,175.6 840.7,174.0 903.1,172.6 966.4,171.4 1030.5,170.6 1095.0,169.9 1159.9,169.6 1225.0,169.4 1290.1,169.6 1355.0,169.9 1419.5,170.6 1483.6,171.4 1546.9,172.6 1609.3,174.0 1670.7,175.6 1730.8,177.4 1789.6,179.5 1846.8,181.8 1902.3,184.4 1956.0,187.1 2007.6,190.1 2057.1,193.2 2104.3,196.5 2149.2,200.1 2191.4,203.7 2231.1,207.6 2268.0,211.6 2302.0,215.7 2333.0,220.0 2361.1,224.3 2386.0,228.8 2407.7,233.4 2426.2,238.0 2441.4,242.7 2453.3,247.5 2461.8,252.3 2466.9,253.0 2468.6,253.0 L2453.0,253.0 2451.3,253.0 2446.3,252.7 2437.9,248.0 2426.2,243.4 2411.1,238.9 2392.9,234.4 2371.4,230.0 2346.8,225.6 2319.1,221.4 2288.5,217.3 2254.9,213.3 2218.5,209.5 2179.3,205.8 2137.6,202.2 2093.3,198.8 2046.7,195.6 1997.8,192.5 1946.8,189.7 1893.8,187.0 1839.0,184.6 1782.5,182.4 1724.5,180.4 1665.1,178.6 1604.5,177.0 1542.8,175.7 1480.3,174.6 1417.1,173.7 1353.4,173.1 1289.3,172.7 1225.0,172.6 1160.7,172.7 1096.6,173.1 1032.9,173.7 969.7,174.6 907.2,175.7 845.5,177.0 784.9,178.6 725.5,180.4 667.5,182.4 611.0,184.6 556.2,187.0 503.2,189.7 452.2,192.5 403.3,195.6 356.7,198.8 312.4,202.2 270.7,205.8 231.5,209.5 195.1,213.3 161.5,217.3 130.9,221.4 103.2,225.6 78.6,230.0 57.1,234.4 38.9,238.9 23.8,243.4 12.1,248.0 3.7,252.7 -1.3,253.0 -3.0,253.0ZM-53.9,253.0 -52.1,253.0 -46.9,252.3 -38.2,247.5 -25.9,242.7 -10.3,238.0 8.7,233.4 31.0,228.8 56.7,224.3 85.5,220.0 117.4,215.7 152.4,211.6 190.4,207.6 231.1,203.7 274.6,200.1 320.7,196.5 369.3,193.2 420.2,190.1 473.3,187.1 528.5,184.4 585.6,181.8 644.4,179.5 704.8,177.4 766.7,175.6 829.8,174.0 894.0,172.6 959.1,171.4 1024.9,170.6 1091.3,169.9 1158.1,169.5 1225.0,169.4 1291.9,169.5 1358.7,169.9 1425.1,170.6 1490.9,171.4 1556.0,172.6 1620.2,174.0 1683.3,175.6 1745.2,177.4 1805.6,179.5 1864.4,181.8 1921.5,184.4 1976.7,187.1 2029.8,190.1 2080.7,193.2 2129.3,196.5 2175.4,200.1 2218.9,203.7 2259.6,207.6 2297.6,211.6 2332.6,215.7 2364.5,220.0 2393.3,224.3 2419.0,228.8 2441.3,233.4 2460.3,238.0 2475.9,242.7 2488.2,247.5 2496.9,252.3 2502.1,253.0 2503.9,253.0 L2488.3,253.0 2486.6,253.0 2481.4,252.7 2472.7,248.0 2460.7,243.4 2445.3,238.9 2426.5,234.4 2404.4,230.0 2379.1,225.6 2350.6,221.4 2319.0,217.3 2284.5,213.3 2247.0,209.5 2206.8,205.7 2163.8,202.2 2118.3,198.8 2070.3,195.6 2020.0,192.5 1967.5,189.7 1913.0,187.0 1856.6,184.6 1798.5,182.4 1738.8,180.3 1677.7,178.6 1615.4,177.0 1552.0,175.7 1487.7,174.6 1422.6,173.7 1357.1,173.1 1291.1,172.7 1225.0,172.6 1158.9,172.7 1092.9,173.1 1027.4,173.7 962.3,174.6 898.0,175.7 834.6,177.0 772.3,178.6 711.2,180.3 651.5,182.4 593.4,184.6 537.0,187.0 482.5,189.7 430.0,192.5 379.7,195.6 331.7,198.8 286.2,202.2 243.2,205.7 203.0,209.5 165.5,213.3 131.0,217.3 99.4,221.4 70.9,225.6 45.6,230.0 23.5,234.4 4.7,238.9 -10.7,243.4 -22.7,248.0 -31.4,252.7 -36.6,253.0 -38.3,253.0ZM-89.2,253.0 -87.4,253.0 -82.0,252.3 -73.0,247.5 -60.5,242.7 -44.4,238.0 -24.9,233.4 -1.9,228.8 24.4,224.3 54.0,220.0 86.9,215.7 122.8,211.6 161.8,207.6 203.7,203.7 248.4,200.0 295.7,196.5 345.6,193.2 397.9,190.0 452.5,187.1 509.2,184.4 567.9,181.8 628.4,179.5 690.5,177.4 754.0,175.6 818.9,173.9 884.9,172.6 951.8,171.4 1019.4,170.6 1087.6,169.9 1156.2,169.5 1225.0,169.4 1293.8,169.5 1362.4,169.9 1430.6,170.6 1498.2,171.4 1565.1,172.6 1631.1,173.9 1696.0,175.6 1759.5,177.4 1821.6,179.5 1882.1,181.8 1940.8,184.4 1997.5,187.1 2052.1,190.0 2104.4,193.2 2154.3,196.5 2201.6,200.0 2246.3,203.7 2288.2,207.6 2327.2,211.6 2363.1,215.7 2396.0,220.0 2425.6,224.3 2451.9,228.8 2474.9,233.4 2494.4,238.0 2510.5,242.7 2523.0,247.5 2532.0,252.3 2537.4,253.0 2539.2,253.0 L2523.6,253.0 2521.8,253.0 2516.5,252.7 2507.6,248.0 2495.2,243.4 2479.4,238.9 2460.0,234.4 2437.4,230.0 2411.3,225.6 2382.1,221.4 2349.6,217.3 2314.1,213.3 2275.6,209.5 2234.2,205.7 2190.1,202.2 2143.3,198.8 2093.9,195.6 2042.2,192.5 1988.3,189.7 1932.3,187.0 1874.3,184.6 1814.6,182.4 1753.2,180.3 1690.4,178.6 1626.3,177.0 1561.1,175.7 1495.0,174.6 1428.1,173.7 1360.7,173.1 1293.0,172.7 1225.0,172.6 1157.0,172.7 1089.3,173.1 1021.9,173.7 955.0,174.6 888.9,175.7 823.7,177.0 759.6,178.6 696.8,180.3 635.4,182.4 575.7,184.6 517.7,187.0 461.7,189.7 407.8,192.5 356.1,195.6 306.7,198.8 259.9,202.2 215.8,205.7 174.4,209.5 135.9,213.3 100.4,217.3 67.9,221.4 38.7,225.6 12.6,230.0 -10.0,234.4 -29.4,238.9 -45.2,243.4 -57.6,248.0 -66.5,252.7 -71.8,253.0 -73.6,253.0ZM-124.5,253.0 -122.7,253.0 -117.1,252.3 -107.9,247.5 -95.0,242.7 -78.5,238.0 -58.5,233.4 -34.9,228.8 -7.8,224.3 22.6,220.0 56.3,215.7 93.2,211.6 133.2,207.6 176.2,203.7 222.1,200.0 270.7,196.5 322.0,193.2 375.7,190.0 431.8,187.1 490.0,184.3 550.2,181.8 612.3,179.5 676.1,177.4 741.4,175.6 808.0,173.9 875.7,172.6 944.4,171.4 1013.9,170.6 1083.9,169.9 1154.4,169.5 1225.0,169.4 1295.6,169.5 1366.1,169.9 1436.1,170.6 1505.6,171.4 1574.3,172.6 1642.0,173.9 1708.6,175.6 1773.9,177.4 1837.7,179.5 1899.8,181.8 1960.0,184.3 2018.2,187.1 2074.3,190.0 2128.0,193.2 2179.3,196.5 2227.9,200.0 2273.8,203.7 2316.8,207.6 2356.8,211.6 2393.7,215.7 2427.4,220.0 2457.8,224.3 2484.9,228.8 2508.5,233.4 2528.5,238.0 2545.0,242.7 2557.9,247.5 2567.1,252.3 2572.7,253.0 2574.5,253.0 L2558.9,253.0 2557.1,253.0 2551.6,252.7 2542.5,248.0 2529.8,243.4 2513.5,238.9 2493.6,234.4 2470.3,230.0 2443.6,225.6 2413.5,221.4 2380.2,217.3 2343.7,213.3 2304.2,209.5 2261.6,205.7 2216.3,202.2 2168.2,198.8 2117.6,195.6 2064.5,192.5 2009.1,189.7 1951.5,187.0 1892.0,184.6 1830.6,182.4 1767.6,180.3 1703.0,178.6 1637.2,177.0 1570.2,175.7 1502.3,174.6 1433.7,173.7 1364.4,173.1 1294.8,172.7 1225.0,172.6 1155.2,172.7 1085.6,173.1 1016.3,173.7 947.7,174.6 879.8,175.7 812.8,177.0 747.0,178.6 682.4,180.3 619.4,182.4 558.0,184.6 498.5,187.0 440.9,189.7 385.5,192.5 332.4,195.6 281.8,198.8 233.7,202.2 188.4,205.7 145.8,209.5 106.3,213.3 69.8,217.3 36.5,221.4 6.4,225.6 -20.3,230.0 -43.6,234.4 -63.5,238.9 -79.8,243.4 -92.5,248.0 -101.6,252.7 -107.1,253.0 -108.9,253.0ZM-159.8,253.0 -157.9,253.0 -152.2,252.3 -142.8,247.5 -129.6,242.7 -112.6,238.0 -92.0,233.4 -67.8,228.8 -40.1,224.3 -8.9,220.0 25.7,215.7 63.6,211.6 104.7,207.6 148.8,203.7 195.9,200.0 245.8,196.5 298.4,193.2 353.5,190.0 411.0,187.1 470.8,184.3 532.6,181.8 596.3,179.5 661.7,177.4 728.7,175.6 797.1,173.9 866.6,172.6 937.1,171.4 1008.4,170.6 1080.2,169.9 1152.5,169.5 1225.0,169.4 1297.5,169.5 1369.8,169.9 1441.6,170.6 1512.9,171.4 1583.4,172.6 1652.9,173.9 1721.3,175.6 1788.3,177.4 1853.7,179.5 1917.4,181.8 1979.2,184.3 2039.0,187.1 2096.5,190.0 2151.6,193.2 2204.2,196.5 2254.1,200.0 2301.2,203.7 2345.3,207.6 2386.4,211.6 2424.3,215.7 2458.9,220.0 2490.1,224.3 2517.8,228.8 2542.0,233.4 2562.6,238.0 2579.6,242.7 2592.8,247.5 2602.2,252.3 2607.9,253.0 2609.8,253.0 L2594.2,253.0 2592.3,253.0 2586.7,252.7 2577.4,248.0 2564.3,243.4 2547.6,238.9 2527.2,234.4 2503.3,230.0 2475.8,225.6 2445.0,221.4 2410.8,217.3 2373.3,213.3 2332.7,209.5 2289.1,205.7 2242.5,202.2 2193.2,198.8 2141.2,195.6 2086.7,192.5 2029.8,189.7 1970.7,187.0 1909.6,184.6 1846.6,182.4 1781.9,180.3 1715.7,178.5 1648.1,177.0 1579.4,175.7 1509.7,174.6 1439.2,173.7 1368.1,173.1 1296.7,172.7 1225.0,172.6 1153.3,172.7 1081.9,173.1 1010.8,173.7 940.3,174.6 870.6,175.7 801.9,177.0 734.3,178.5 668.1,180.3 603.4,182.4 540.4,184.6 479.3,187.0 420.2,189.7 363.3,192.5 308.8,195.6 256.8,198.8 207.5,202.2 160.9,205.7 117.3,209.5 76.7,213.3 39.2,217.3 5.0,221.4 -25.8,225.6 -53.3,230.0 -77.2,234.4 -97.6,238.9 -114.3,243.4 -127.4,248.0 -136.7,252.7 -142.3,253.0 -144.2,253.0Z"/>
<path fill="#9db75b" d="M1225.0,253.0 1223.2,253.0 1221.4,253.0 1219.6,253.0 1217.8,253.0 1216.0,253.0 1214.2,253.0 1212.5,253.0 1210.8,253.0 1209.2,253.0 1207.6,253.0 1206.0,253.0 1204.5,253.0 1203.1,253.0 1201.7,252.1 1200.4,250.8 1199.1,249.6 1198.0,248.2 1196.8,246.8 1195.8,245.4 1194.9,243.9 1194.0,242.3 1193.2,240.7 1192.5,239.1 1191.9,237.4 1191.4,235.7 1191.0,234.0 1190.6,232.2 1190.4,230.5 1190.2,228.7 1190.2,227.0 1190.2,225.2 1190.4,223.4 1190.6,221.7 1191.0,219.9 1191.4,218.2 1191.9,216.5 1192.5,214.8 1193.2,213.2 1194.0,211.6 1194.9,210.1 1195.8,208.5 1196.8,207.1 1198.0,205.7 1199.1,204.3 1200.4,203.1 1201.7,201.8 1203.1,200.7 1204.5,199.6 1206.0,198.6 1207.6,197.7 1209.2,196.8 1210.8,196.1 1212.5,195.4 1214.2,194.8 1216.0,194.3 1217.8,193.9 1219.6,193.6 1221.4,193.3 1223.2,193.2 1225.0,193.2 1226.8,193.2 1228.6,193.3 1230.4,193.6 1232.2,193.9 1234.0,194.3 1235.8,194.8 1237.5,195.4 1239.2,196.1 1240.8,196.8 1242.4,197.7 1244.0,198.6 1245.5,199.6 1246.9,200.7 1248.3,201.8 1249.6,203.1 1250.9,204.3 1252.0,205.7 1253.2,207.1 1254.2,208.5 1255.1,210.1 1256.0,211.6 1256.8,213.2 1257.5,214.8 1258.1,216.5 1258.6,218.2 1259.0,219.9 1259.4,221.7 1259.6,223.4 1259.8,225.2 1259.8,227.0 1259.8,228.7 1259.6,230.5 1259.4,232.2 1259.0,234.0 1258.6,235.7 1258.1,237.4 1257.5,239.1 1256.8,240.7 1256.0,242.3 1255.1,243.9 1254.2,245.4 1253.2,246.8 1252.0,248.2 1250.9,249.6 1249.6,250.8 1248.3,252.1 1246.9,253.0 1245.5,253.0 1244.0,253.0 1242.4,253.0 1240.8,253.0 1239.2,253.0 1237.5,253.0 1235.8,253.0 1234.0,253.0 1232.2,253.0 1230.4,253.0 1228.6,253.0 1226.8,253.0 1225.0,253.0 L1225.0,253.0 1226.7,253.0 1228.4,253.0 1230.1,253.0 1231.7,253.0 1233.4,253.0 1235.0,253.0 1236.6,253.0 1238.2,253.0 1239.7,253.0 1241.2,253.0 1242.7,253.0 1244.1,253.0 1245.4,252.7 1246.7,251.6 1248.0,250.4 1249.1,249.1 1250.2,247.8 1251.3,246.4 1252.2,245.0 1253.1,243.5 1253.9,242.0 1254.7,240.4 1255.3,238.8 1255.9,237.2 1256.4,235.5 1256.8,233.8 1257.1,232.1 1257.3,230.4 1257.4,228.7 1257.5,227.0 1257.4,225.2 1257.3,223.5 1257.1,221.8 1256.8,220.1 1256.4,218.4 1255.9,216.7 1255.3,215.1 1254.7,213.5 1253.9,211.9 1253.1,210.4 1252.2,208.9 1251.3,207.5 1250.2,206.1 1249.1,204.8 1248.0,203.5 1246.7,202.3 1245.4,201.2 1244.1,200.1 1242.7,199.2 1241.2,198.3 1239.7,197.4 1238.2,196.7 1236.6,196.0 1235.0,195.4 1233.4,194.9 1231.7,194.5 1230.1,194.2 1228.4,194.0 1226.7,193.9 1225.0,193.8 1223.3,193.9 1221.6,194.0 1219.9,194.2 1218.3,194.5 1216.6,194.9 1215.0,195.4 1213.4,196.0 1211.8,196.7 1210.3,197.4 1208.8,198.3 1207.3,199.2 1205.9,200.1 1204.6,201.2 1203.3,202.3 1202.0,203.5 1200.9,204.8 1199.8,206.1 1198.7,207.5 1197.8,208.9 1196.9,210.4 1196.1,211.9 1195.3,213.5 1194.7,215.1 1194.1,216.7 1193.6,218.4 1193.2,220.1 1192.9,221.8 1192.7,223.5 1192.6,225.2 1192.5,227.0 1192.6,228.7 1192.7,230.4 1192.9,232.1 1193.2,233.8 1193.6,235.5 1194.1,237.2 1194.7,238.8 1195.3,240.4 1196.1,242.0 1196.9,243.5 1197.8,245.0 1198.7,246.4 1199.8,247.8 1200.9,249.1 1202.0,250.4 1203.3,251.6 1204.6,252.7 1205.9,253.0 1207.3,253.0 1208.8,253.0 1210.3,253.0 1211.8,253.0 1213.4,253.0 1215.0,253.0 1216.6,253.0 1218.3,253.0 1219.9,253.0 1221.6,253.0 1223.3,253.0 1225.0,253.0ZM1225.0,253.0 1221.3,253.0 1217.7,253.0 1214.1,253.0 1210.5,253.0 1206.9,253.0 1203.4,253.0 1200.0,253.0 1196.6,253.0 1193.3,253.0 1190.1,253.0 1187.0,253.0 1184.0,253.0 1181.1,253.0 1178.3,253.0 1175.7,253.0 1173.2,253.0 1170.8,253.0 1168.6,253.0 1166.5,253.0 1164.6,253.0 1162.8,253.0 1161.3,253.0 1159.9,251.0 1158.6,248.8 1157.6,246.5 1156.8,244.2 1156.1,241.8 1155.6,239.5 1155.3,237.1 1155.2,234.7 1155.3,232.3 1155.6,229.9 1156.1,227.6 1156.8,225.2 1157.6,222.9 1158.6,220.6 1159.9,218.4 1161.3,216.2 1162.8,214.0 1164.6,211.9 1166.5,209.9 1168.6,207.9 1170.8,206.0 1173.2,204.2 1175.7,202.5 1178.3,200.9 1181.1,199.3 1184.0,197.9 1187.0,196.5 1190.1,195.3 1193.3,194.1 1196.6,193.1 1200.0,192.2 1203.4,191.4 1206.9,190.7 1210.5,190.2 1214.1,189.7 1217.7,189.4 1221.3,189.2 1225.0,189.2 1228.7,189.2 1232.3,189.4 1235.9,189.7 1239.5,190.2 1243.1,190.7 1246.6,191.4 1250.0,192.2 1253.4,193.1 1256.7,194.1 1259.9,195.3 1263.0,196.5 1266.0,197.9 1268.9,199.3 1271.7,200.9 1274.3,202.5 1276.8,204.2 1279.2,206.0 1281.4,207.9 1283.5,209.9 1285.4,211.9 1287.2,214.0 1288.7,216.2 1290.1,218.4 1291.4,220.6 1292.4,222.9 1293.2,225.2 1293.9,227.6 1294.4,229.9 1294.7,232.3 1294.8,234.7 1294.7,237.1 1294.4,239.5 1293.9,241.8 1293.2,244.2 1292.4,246.5 1291.4,248.8 1290.1,251.0 1288.7,253.0 1287.2,253.0 1285.4,253.0 1283.5,253.0 1281.4,253.0 1279.2,253.0 1276.8,253.0 1274.3,253.0 1271.7,253.0 1268.9,253.0 1266.0,253.0 1263.0,253.0 1259.9,253.0 1256.7,253.0 1253.4,253.0 1250.0,253.0 1246.6,253.0 1243.1,253.0 1239.5,253.0 1235.9,253.0 1232.3,253.0 1228.7,253.0 1225.0,253.0 L1225.0,253.0 1228.5,253.0 1232.0,253.0 1235.5,253.0 1238.9,253.0 1242.3,253.0 1245.7,253.0 1249.0,253.0 1252.3,253.0 1255.4,253.0 1258.5,253.0 1261.5,253.0 1264.4,253.0 1267.2,253.0 1269.8,253.0 1272.4,253.0 1274.8,253.0 1277.1,253.0 1279.2,253.0 1281.2,253.0 1283.0,253.0 1284.7,253.0 1286.2,252.9 1287.6,250.7 1288.7,248.5 1289.7,246.3 1290.5,244.0 1291.2,241.7 1291.6,239.4 1291.9,237.0 1292.0,234.7 1291.9,232.4 1291.6,230.0 1291.2,227.7 1290.5,225.4 1289.7,223.1 1288.7,220.9 1287.6,218.7 1286.2,216.5 1284.7,214.4 1283.0,212.3 1281.2,210.3 1279.2,208.4 1277.1,206.5 1274.8,204.8 1272.4,203.1 1269.8,201.4 1267.2,199.9 1264.4,198.5 1261.5,197.2 1258.5,195.9 1255.4,194.8 1252.3,193.8 1249.0,192.9 1245.7,192.1 1242.3,191.5 1238.9,190.9 1235.5,190.5 1232.0,190.2 1228.5,190.0 1225.0,189.9 1221.5,190.0 1218.0,190.2 1214.5,190.5 1211.1,190.9 1207.7,191.5 1204.3,192.1 1201.0,192.9 1197.7,193.8 1194.6,194.8 1191.5,195.9 1188.5,197.2 1185.6,198.5 1182.8,199.9 1180.2,201.4 1177.6,203.1 1175.2,204.8 1172.9,206.5 1170.8,208.4 1168.8,210.3 1167.0,212.3 1165.3,214.4 1163.8,216.5 1162.4,218.7 1161.3,220.9 1160.3,223.1 1159.5,225.4 1158.8,227.7 1158.4,230.0 1158.1,232.4 1158.0,234.7 1158.1,237.0 1158.4,239.4 1158.8,241.7 1159.5,244.0 1160.3,246.3 1161.3,248.5 1162.4,250.7 1163.8,252.9 1165.3,253.0 1167.0,253.0 1168.8,253.0 1170.8,253.0 1172.9,253.0 1175.2,253.0 1177.6,253.0 1180.2,253.0 1182.8,253.0 1185.6,253.0 1188.5,253.0 1191.5,253.0 1194.6,253.0 1197.7,253.0 1201.0,253.0 1204.3,253.0 1207.7,253.0 1211.1,253.0 1214.5,253.0 1218.0,253.0 1221.5,253.0 1225.0,253.0ZM1225.0,253.0 1219.5,253.0 1214.1,253.0 1208.6,253.0 1203.2,253.0 1197.9,253.0 1192.6,253.0 1187.5,253.0 1182.4,253.0 1177.5,253.0 1172.6,253.0 1168.0,253.0 1163.4,253.0 1159.1,253.0 1154.9,253.0 1150.9,253.0 1147.2,253.0 1143.6,253.0 1140.3,253.0 1137.2,253.0 1134.3,253.0 1131.7,253.0 1129.3,253.0 1127.2,253.0 1125.4,253.0 1123.8,253.0 1122.6,252.1 1121.6,249.3 1120.8,246.5 1120.4,243.6 1120.3,240.7 1120.4,237.9 1120.8,235.0 1121.6,232.2 1122.6,229.3 1123.8,226.5 1125.4,223.8 1127.2,221.1 1129.3,218.4 1131.7,215.8 1134.3,213.3 1137.2,210.9 1140.3,208.5 1143.6,206.2 1147.2,204.0 1150.9,202.0 1154.9,200.0 1159.1,198.1 1163.4,196.4 1168.0,194.7 1172.6,193.2 1177.5,191.9 1182.4,190.6 1187.5,189.5 1192.6,188.6 1197.9,187.8 1203.2,187.1 1208.6,186.6 1214.1,186.2 1219.5,186.0 1225.0,185.9 1230.5,186.0 1235.9,186.2 1241.4,186.6 1246.8,187.1 1252.1,187.8 1257.4,188.6 1262.5,189.5 1267.6,190.6 1272.5,191.9 1277.4,193.2 1282.0,194.7 1286.6,196.4 1290.9,198.1 1295.1,200.0 1299.1,202.0 1302.8,204.0 1306.4,206.2 1309.7,208.5 1312.8,210.9 1315.7,213.3 1318.3,215.8 1320.7,218.4 1322.8,221.1 1324.6,223.8 1326.2,226.5 1327.4,229.3 1328.4,232.2 1329.2,235.0 1329.6,237.9 1329.7,240.7 1329.6,243.6 1329.2,246.5 1328.4,249.3 1327.4,252.1 1326.2,253.0 1324.6,253.0 1322.8,253.0 1320.7,253.0 1318.3,253.0 1315.7,253.0 1312.8,253.0 1309.7,253.0 1306.4,253.0 1302.8,253.0 1299.1,253.0 1295.1,253.0 1290.9,253.0 1286.6,253.0 1282.0,253.0 1277.4,253.0 1272.5,253.0 1267.6,253.0 1262.5,253.0 1257.4,253.0 1252.1,253.0 1246.8,253.0 1241.4,253.0 1235.9,253.0 1230.5,253.0 1225.0,253.0 L1225.0,253.0 1230.3,253.0 1235.6,253.0 1240.9,253.0 1246.1,253.0 1251.3,253.0 1256.4,253.0 1261.4,253.0 1266.3,253.0 1271.1,253.0 1275.8,253.0 1280.3,253.0 1284.7,253.0 1288.9,253.0 1293.0,253.0 1296.8,253.0 1300.5,253.0 1303.9,253.0 1307.2,253.0 1310.2,253.0 1312.9,253.0 1315.5,253.0 1317.8,253.0 1319.8,253.0 1321.6,253.0 1323.1,253.0 1324.3,252.0 1325.3,249.2 1326.0,246.4 1326.4,243.6 1326.6,240.7 1326.4,237.9 1326.0,235.1 1325.3,232.3 1324.3,229.5 1323.1,226.8 1321.6,224.1 1319.8,221.4 1317.8,218.8 1315.5,216.3 1312.9,213.8 1310.2,211.4 1307.2,209.0 1303.9,206.8 1300.5,204.6 1296.8,202.6 1293.0,200.7 1288.9,198.8 1284.7,197.1 1280.3,195.5 1275.8,194.0 1271.1,192.7 1266.3,191.5 1261.4,190.4 1256.4,189.4 1251.3,188.6 1246.1,188.0 1240.9,187.5 1235.6,187.1 1230.3,186.9 1225.0,186.8 1219.7,186.9 1214.4,187.1 1209.1,187.5 1203.9,188.0 1198.7,188.6 1193.6,189.4 1188.6,190.4 1183.7,191.5 1178.9,192.7 1174.2,194.0 1169.7,195.5 1165.3,197.1 1161.1,198.8 1157.0,200.7 1153.2,202.6 1149.5,204.6 1146.1,206.8 1142.8,209.0 1139.8,211.4 1137.1,213.8 1134.5,216.3 1132.2,218.8 1130.2,221.4 1128.4,224.1 1126.9,226.8 1125.7,229.5 1124.7,232.3 1124.0,235.1 1123.6,237.9 1123.4,240.7 1123.6,243.6 1124.0,246.4 1124.7,249.2 1125.7,252.0 1126.9,253.0 1128.4,253.0 1130.2,253.0 1132.2,253.0 1134.5,253.0 1137.1,253.0 1139.8,253.0 1142.8,253.0 1146.1,253.0 1149.5,253.0 1153.2,253.0 1157.0,253.0 1161.1,253.0 1165.3,253.0 1169.7,253.0 1174.2,253.0 1178.9,253.0 1183.7,253.0 1188.6,253.0 1193.6,253.0 1198.7,253.0 1203.9,253.0 1209.1,253.0 1214.4,253.0 1219.7,253.0 1225.0,253.0ZM1225.0,253.0 1217.7,253.0 1210.4,253.0 1203.1,253.0 1196.0,253.0 1188.8,253.0 1181.8,253.0 1174.9,253.0 1168.2,253.0 1161.6,253.0 1155.2,253.0 1148.9,253.0 1142.9,253.0 1137.1,253.0 1131.5,253.0 1126.2,253.0 1121.2,253.0 1116.4,253.0 1112.0,253.0 1107.8,253.0 1104.0,253.0 1100.5,253.0 1097.4,253.0 1094.6,253.0 1092.1,253.0 1090.1,253.0 1088.4,253.0 1087.0,253.0 1086.1,252.0 1085.5,248.7 1085.3,245.4 1085.5,242.2 1086.1,238.9 1087.0,235.7 1088.4,232.5 1090.1,229.3 1092.1,226.2 1094.6,223.1 1097.4,220.1 1100.5,217.2 1104.0,214.3 1107.8,211.6 1112.0,208.9 1116.4,206.3 1121.2,203.8 1126.2,201.4 1131.5,199.2 1137.1,197.1 1142.9,195.1 1148.9,193.3 1155.2,191.5 1161.6,190.0 1168.2,188.6 1174.9,187.3 1181.8,186.3 1188.8,185.3 1196.0,184.6 1203.1,184.0 1210.4,183.6 1217.7,183.3 1225.0,183.2 1232.3,183.3 1239.6,183.6 1246.9,184.0 1254.0,184.6 1261.2,185.3 1268.2,186.3 1275.1,187.3 1281.8,188.6 1288.4,190.0 1294.8,191.5 1301.1,193.3 1307.1,195.1 1312.9,197.1 1318.5,199.2 1323.8,201.4 1328.8,203.8 1333.6,206.3 1338.0,208.9 1342.2,211.6 1346.0,214.3 1349.5,217.2 1352.6,220.1 1355.4,223.1 1357.9,226.2 1359.9,229.3 1361.6,232.5 1363.0,235.7 1363.9,238.9 1364.5,242.2 1364.7,245.4 1364.5,248.7 1363.9,252.0 1363.0,253.0 1361.6,253.0 1359.9,253.0 1357.9,253.0 1355.4,253.0 1352.6,253.0 1349.5,253.0 1346.0,253.0 1342.2,253.0 1338.0,253.0 1333.6,253.0 1328.8,253.0 1323.8,253.0 1318.5,253.0 1312.9,253.0 1307.1,253.0 1301.1,253.0 1294.9,253.0 1288.4,253.0 1281.8,253.0 1275.1,253.0 1268.2,253.0 1261.2,253.0 1254.0,253.0 1246.9,253.0 1239.6,253.0 1232.3,253.0 1225.0,253.0 L1225.0,253.0 1232.1,253.0 1239.2,253.0 1246.3,253.0 1253.3,253.0 1260.2,253.0 1267.1,253.0 1273.8,253.0 1280.4,253.0 1286.8,253.0 1293.0,253.0 1299.1,253.0 1305.0,253.0 1310.7,253.0 1316.1,253.0 1321.2,253.0 1326.1,253.0 1330.8,253.0 1335.1,253.0 1339.1,253.0 1342.9,253.0 1346.3,253.0 1349.3,253.0 1352.1,253.0 1354.4,253.0 1356.5,253.0 1358.1,253.0 1359.4,253.0 1360.4,251.9 1360.9,248.7 1361.1,245.4 1360.9,242.2 1360.4,239.0 1359.4,235.9 1358.1,232.7 1356.5,229.6 1354.4,226.5 1352.1,223.5 1349.3,220.5 1346.3,217.6 1342.9,214.8 1339.1,212.1 1335.1,209.4 1330.8,206.9 1326.1,204.4 1321.2,202.1 1316.1,199.9 1310.7,197.8 1305.0,195.9 1299.1,194.1 1293.0,192.4 1286.8,190.9 1280.4,189.5 1273.8,188.2 1267.1,187.2 1260.2,186.3 1253.3,185.5 1246.3,184.9 1239.2,184.5 1232.1,184.3 1225.0,184.2 1217.9,184.3 1210.8,184.5 1203.7,184.9 1196.7,185.5 1189.8,186.3 1182.9,187.2 1176.2,188.2 1169.6,189.5 1163.2,190.9 1157.0,192.4 1150.9,194.1 1145.0,195.9 1139.3,197.8 1133.9,199.9 1128.8,202.1 1123.9,204.4 1119.2,206.9 1114.9,209.4 1110.9,212.1 1107.1,214.8 1103.7,217.6 1100.7,220.5 1097.9,223.5 1095.6,226.5 1093.5,229.6 1091.9,232.7 1090.6,235.9 1089.6,239.0 1089.1,242.2 1088.9,245.4 1089.1,248.7 1089.6,251.9 1090.6,253.0 1091.9,253.0 1093.5,253.0 1095.6,253.0 1097.9,253.0 1100.7,253.0 1103.7,253.0 1107.1,253.0 1110.9,253.0 1114.9,253.0 1119.2,253.0 1123.9,253.0 1128.8,253.0 1133.9,253.0 1139.3,253.0 1145.0,253.0 1150.9,253.0 1157.0,253.0 1163.2,253.0 1169.6,253.0 1176.2,253.0 1182.9,253.0 1189.8,253.0 1196.7,253.0 1203.7,253.0 1210.8,253.0 1217.9,253.0 1225.0,253.0ZM1225.0,253.0 1215.9,253.0 1206.7,253.0 1197.7,253.0 1188.7,253.0 1179.8,253.0 1171.0,253.0 1162.4,253.0 1154.0,253.0 1145.7,253.0 1137.7,253.0 1129.9,253.0 1122.3,253.0 1115.1,253.0 1108.1,253.0 1101.5,253.0 1095.2,253.0 1089.3,253.0 1083.7,253.0 1078.5,253.0 1073.7,253.0 1069.4,253.0 1065.4,253.0 1061.9,253.0 1058.9,253.0 1056.3,253.0 1054.2,253.0 1052.5,253.0 1051.3,253.0 1050.6,252.7 1050.3,249.1 1050.6,245.5 1051.3,242.0 1052.5,238.5 1054.2,234.9 1056.3,231.5 1058.9,228.1 1061.9,224.7 1065.4,221.4 1069.4,218.2 1073.7,215.1 1078.5,212.0 1083.7,209.1 1089.3,206.3 1095.2,203.5 1101.5,201.0 1108.1,198.5 1115.1,196.2 1122.3,194.0 1129.9,192.0 1137.7,190.1 1145.7,188.4 1154.0,186.9 1162.4,185.5 1171.0,184.3 1179.8,183.3 1188.7,182.5 1197.7,181.9 1206.7,181.4 1215.9,181.1 1225.0,181.0 1234.1,181.1 1243.3,181.4 1252.3,181.9 1261.3,182.5 1270.2,183.3 1279.0,184.3 1287.6,185.5 1296.0,186.9 1304.3,188.4 1312.3,190.1 1320.1,192.0 1327.7,194.0 1334.9,196.2 1341.9,198.5 1348.5,201.0 1354.8,203.5 1360.7,206.3 1366.3,209.1 1371.5,212.0 1376.3,215.1 1380.6,218.2 1384.6,221.4 1388.1,224.7 1391.1,228.1 1393.7,231.5 1395.8,234.9 1397.5,238.5 1398.7,242.0 1399.4,245.5 1399.7,249.1 1399.4,252.7 1398.7,253.0 1397.5,253.0 1395.8,253.0 1393.7,253.0 1391.1,253.0 1388.1,253.0 1384.6,253.0 1380.6,253.0 1376.3,253.0 1371.5,253.0 1366.3,253.0 1360.7,253.0 1354.8,253.0 1348.5,253.0 1341.9,253.0 1334.9,253.0 1327.7,253.0 1320.1,253.0 1312.3,253.0 1304.3,253.0 1296.0,253.0 1287.6,253.0 1279.0,253.0 1270.2,253.0 1261.3,253.0 1252.3,253.0 1243.3,253.0 1234.1,253.0 1225.0,253.0 L1225.0,253.0 1233.9,253.0 1242.8,253.0 1251.7,253.0 1260.5,253.0 1269.2,253.0 1277.7,253.0 1286.2,253.0 1294.4,253.0 1302.5,253.0 1310.3,253.0 1317.9,253.0 1325.3,253.0 1332.4,253.0 1339.2,253.0 1345.7,253.0 1351.8,253.0 1357.6,253.0 1363.1,253.0 1368.1,253.0 1372.8,253.0 1377.0,253.0 1380.9,253.0 1384.3,253.0 1387.3,253.0 1389.8,253.0 1391.9,253.0 1393.5,253.0 1394.7,253.0 1395.4,252.6 1395.6,249.1 1395.4,245.6 1394.7,242.1 1393.5,238.6 1391.9,235.1 1389.8,231.7 1387.3,228.4 1384.3,225.0 1380.9,221.8 1377.0,218.6 1372.8,215.5 1368.1,212.5 1363.1,209.6 1357.6,206.9 1351.8,204.2 1345.7,201.6 1339.2,199.2 1332.4,196.9 1325.3,194.8 1317.9,192.8 1310.3,191.0 1302.5,189.3 1294.4,187.8 1286.2,186.4 1277.7,185.3 1269.2,184.3 1260.5,183.4 1251.7,182.8 1242.8,182.3 1233.9,182.1 1225.0,182.0 1216.1,182.1 1207.2,182.3 1198.3,182.8 1189.5,183.4 1180.8,184.3 1172.3,185.3 1163.8,186.4 1155.6,187.8 1147.5,189.3 1139.7,191.0 1132.1,192.8 1124.7,194.8 1117.6,196.9 1110.8,199.2 1104.3,201.6 1098.2,204.2 1092.4,206.9 1086.9,209.6 1081.9,212.5 1077.2,215.5 1073.0,218.6 1069.1,221.8 1065.7,225.0 1062.7,228.4 1060.2,231.7 1058.1,235.1 1056.5,238.6 1055.3,242.1 1054.6,245.6 1054.4,249.1 1054.6,252.6 1055.3,253.0 1056.5,253.0 1058.1,253.0 1060.2,253.0 1062.7,253.0 1065.7,253.0 1069.1,253.0 1073.0,253.0 1077.2,253.0 1081.9,253.0 1086.9,253.0 1092.4,253.0 1098.2,253.0 1104.3,253.0 1110.8,253.0 1117.6,253.0 1124.7,253.0 1132.1,253.0 1139.7,253.0 1147.5,253.0 1155.6,253.0 1163.8,253.0 1172.3,253.0 1180.8,253.0 1189.5,253.0 1198.3,253.0 1207.2,253.0 1216.1,253.0 1225.0,253.0ZM1225.0,253.0 1214.0,253.0 1203.1,253.0 1192.2,253.0 1181.4,253.0 1170.7,253.0 1160.2,253.0 1149.8,253.0 1139.7,253.0 1129.8,253.0 1120.1,253.0 1110.8,253.0 1101.7,253.0 1093.0,253.0 1084.7,253.0 1076.7,253.0 1069.2,253.0 1062.0,253.0 1055.3,253.0 1049.1,253.0 1043.4,253.0 1038.2,253.0 1033.4,253.0 1029.2,253.0 1025.6,253.0 1022.4,253.0 1019.9,253.0 1017.9,253.0 1016.4,253.0 1015.6,253.0 1015.3,252.0 1015.6,248.2 1016.4,244.4 1017.9,240.6 1019.9,236.8 1022.4,233.1 1025.6,229.5 1029.2,225.9 1033.4,222.4 1038.2,218.9 1043.4,215.6 1049.1,212.3 1055.3,209.2 1062.0,206.2 1069.2,203.3 1076.7,200.5 1084.7,197.9 1093.0,195.4 1101.7,193.1 1110.8,190.9 1120.1,189.0 1129.8,187.1 1139.7,185.5 1149.8,184.0 1160.2,182.8 1170.7,181.7 1181.4,180.8 1192.2,180.1 1203.1,179.6 1214.0,179.3 1225.0,179.2 1236.0,179.3 1246.9,179.6 1257.8,180.1 1268.6,180.8 1279.3,181.7 1289.8,182.8 1300.2,184.0 1310.3,185.5 1320.2,187.1 1329.9,189.0 1339.2,190.9 1348.3,193.1 1357.0,195.4 1365.3,197.9 1373.3,200.5 1380.8,203.3 1388.0,206.2 1394.7,209.2 1400.9,212.3 1406.6,215.6 1411.8,218.9 1416.6,222.4 1420.8,225.9 1424.4,229.5 1427.6,233.1 1430.1,236.8 1432.1,240.6 1433.6,244.4 1434.4,248.2 1434.7,252.0 1434.4,253.0 1433.6,253.0 1432.1,253.0 1430.1,253.0 1427.6,253.0 1424.4,253.0 1420.8,253.0 1416.6,253.0 1411.8,253.0 1406.6,253.0 1400.9,253.0 1394.7,253.0 1388.0,253.0 1380.8,253.0 1373.3,253.0 1365.3,253.0 1357.0,253.0 1348.3,253.0 1339.2,253.0 1329.9,253.0 1320.2,253.0 1310.3,253.0 1300.2,253.0 1289.8,253.0 1279.3,253.0 1268.6,253.0 1257.8,253.0 1246.9,253.0 1236.0,253.0 1225.0,253.0 L1225.0,253.0 1235.7,253.0 1246.5,253.0 1257.1,253.0 1267.7,253.0 1278.1,253.0 1288.4,253.0 1298.6,253.0 1308.5,253.0 1318.2,253.0 1327.6,253.0 1336.8,253.0 1345.7,253.0 1354.2,253.0 1362.3,253.0 1370.1,253.0 1377.5,253.0 1384.5,253.0 1391.1,253.0 1397.2,253.0 1402.8,253.0 1407.9,253.0 1412.5,253.0 1416.6,253.0 1420.2,253.0 1423.3,253.0 1425.8,253.0 1427.7,253.0 1429.1,253.0 1430.0,253.0 1430.3,252.0 1430.0,248.2 1429.1,244.5 1427.7,240.7 1425.8,237.0 1423.3,233.4 1420.2,229.8 1416.6,226.2 1412.5,222.8 1407.9,219.4 1402.8,216.1 1397.2,212.9 1391.1,209.8 1384.5,206.8 1377.5,203.9 1370.1,201.2 1362.3,198.6 1354.2,196.2 1345.7,193.9 1336.8,191.8 1327.6,189.8 1318.2,188.0 1308.5,186.4 1298.6,184.9 1288.4,183.7 1278.1,182.6 1267.7,181.7 1257.1,181.1 1246.5,180.6 1235.7,180.3 1225.0,180.2 1214.3,180.3 1203.5,180.6 1192.9,181.1 1182.3,181.7 1171.9,182.6 1161.6,183.7 1151.4,184.9 1141.5,186.4 1131.8,188.0 1122.4,189.8 1113.2,191.8 1104.3,193.9 1095.8,196.2 1087.7,198.6 1079.9,201.2 1072.5,203.9 1065.5,206.8 1058.9,209.8 1052.8,212.9 1047.2,216.1 1042.1,219.4 1037.5,222.8 1033.4,226.2 1029.8,229.8 1026.7,233.4 1024.2,237.0 1022.3,240.7 1020.9,244.5 1020.0,248.2 1019.7,252.0 1020.0,253.0 1020.9,253.0 1022.3,253.0 1024.2,253.0 1026.7,253.0 1029.8,253.0 1033.4,253.0 1037.5,253.0 1042.1,253.0 1047.2,253.0 1052.8,253.0 1058.9,253.0 1065.5,253.0 1072.5,253.0 1079.9,253.0 1087.7,253.0 1095.8,253.0 1104.3,253.0 1113.2,253.0 1122.4,253.0 1131.8,253.0 1141.5,253.0 1151.4,253.0 1161.6,253.0 1171.9,253.0 1182.3,253.0 1192.9,253.0 1203.5,253.0 1214.3,253.0 1225.0,253.0ZM980.0,253.0 980.4,250.2 981.4,246.2 983.0,242.2 985.4,238.3 988.4,234.4 992.0,230.6 996.3,226.8 1001.2,223.1 1006.7,219.5 1012.8,216.0 1019.5,212.5 1026.8,209.2 1034.6,206.1 1042.9,203.0 1051.8,200.1 1061.1,197.4 1070.8,194.8 1081.0,192.3 1091.6,190.1 1102.5,188.0 1113.8,186.1 1125.4,184.3 1137.2,182.8 1149.3,181.5 1161.6,180.3 1174.1,179.4 1186.7,178.7 1199.4,178.2 1212.2,177.8 1225.0,177.7 1237.8,177.8 1250.6,178.2 1263.3,178.7 1275.9,179.4 1288.4,180.3 1300.7,181.5 1312.8,182.8 1324.6,184.3 1336.2,186.1 1347.5,188.0 1358.4,190.1 1369.0,192.3 1379.2,194.8 1388.9,197.4 1398.2,200.1 1407.1,203.0 1415.4,206.1 1423.2,209.2 1430.5,212.5 1437.2,216.0 1443.3,219.5 1448.8,223.1 1453.7,226.8 1458.0,230.6 1461.6,234.4 1464.6,238.3 1467.0,242.2 1468.6,246.2 1469.6,250.2 1470.0,253.0 L1465.3,253.0 1465.0,250.2 1464.0,246.3 1462.3,242.4 1460.0,238.5 1457.1,234.6 1453.5,230.9 1449.3,227.1 1444.5,223.5 1439.1,219.9 1433.1,216.4 1426.5,213.1 1419.4,209.8 1411.7,206.7 1403.6,203.7 1394.9,200.8 1385.8,198.1 1376.2,195.5 1366.2,193.1 1355.9,190.9 1345.1,188.8 1334.1,186.9 1322.7,185.2 1311.1,183.7 1299.3,182.4 1287.2,181.3 1275.0,180.3 1262.6,179.6 1250.1,179.1 1237.6,178.8 1225.0,178.7 1212.4,178.8 1199.9,179.1 1187.4,179.6 1175.0,180.3 1162.8,181.3 1150.7,182.4 1138.9,183.7 1127.3,185.2 1115.9,186.9 1104.9,188.8 1094.1,190.9 1083.8,193.1 1073.8,195.5 1064.2,198.1 1055.1,200.8 1046.4,203.7 1038.3,206.7 1030.6,209.8 1023.5,213.1 1016.9,216.4 1010.9,219.9 1005.5,223.5 1000.7,227.1 996.5,230.9 992.9,234.6 990.0,238.5 987.7,242.4 986.0,246.3 985.0,250.2 984.7,253.0ZM944.6,253.0 945.0,251.8 946.1,247.6 948.1,243.5 950.7,239.4 954.2,235.4 958.3,231.4 963.2,227.5 968.9,223.6 975.2,219.9 982.2,216.2 989.8,212.7 998.2,209.3 1007.1,206.0 1016.6,202.8 1026.7,199.8 1037.4,196.9 1048.5,194.2 1060.2,191.7 1072.3,189.3 1084.8,187.2 1097.7,185.2 1111.0,183.4 1124.5,181.8 1138.4,180.4 1152.4,179.2 1166.7,178.3 1181.1,177.5 1195.7,177.0 1210.3,176.6 1225.0,176.5 1239.7,176.6 1254.3,177.0 1268.9,177.5 1283.3,178.3 1297.6,179.2 1311.6,180.4 1325.5,181.8 1339.0,183.4 1352.3,185.2 1365.2,187.2 1377.7,189.3 1389.8,191.7 1401.5,194.2 1412.6,196.9 1423.3,199.8 1433.4,202.8 1442.9,206.0 1451.8,209.3 1460.2,212.7 1467.8,216.2 1474.8,219.9 1481.1,223.6 1486.8,227.5 1491.7,231.4 1495.8,235.4 1499.3,239.4 1501.9,243.5 1503.9,247.6 1505.0,251.8 1505.4,253.0 L1500.7,253.0 1500.3,251.8 1499.2,247.7 1497.3,243.6 1494.7,239.6 1491.3,235.6 1487.2,231.7 1482.4,227.8 1476.9,224.0 1470.7,220.3 1463.8,216.7 1456.2,213.2 1448.1,209.8 1439.3,206.6 1429.9,203.4 1420.0,200.5 1409.5,197.6 1398.5,195.0 1387.1,192.5 1375.2,190.1 1362.9,188.0 1350.2,186.0 1337.1,184.3 1323.8,182.7 1310.2,181.3 1296.4,180.2 1282.3,179.2 1268.1,178.5 1253.8,177.9 1239.4,177.6 1225.0,177.5 1210.6,177.6 1196.2,177.9 1181.9,178.5 1167.7,179.2 1153.6,180.2 1139.8,181.3 1126.2,182.7 1112.9,184.3 1099.8,186.0 1087.1,188.0 1074.8,190.1 1062.9,192.5 1051.5,195.0 1040.5,197.6 1030.0,200.5 1020.1,203.4 1010.7,206.6 1001.9,209.8 993.8,213.2 986.2,216.7 979.3,220.3 973.1,224.0 967.6,227.8 962.8,231.7 958.7,235.6 955.3,239.6 952.7,243.6 950.8,247.7 949.7,251.8 949.3,253.0ZM909.1,253.0 909.6,253.0 910.9,248.7 913.0,244.5 916.0,240.3 919.9,236.1 924.6,232.0 930.1,228.0 936.5,224.0 943.6,220.2 951.5,216.4 960.1,212.8 969.5,209.2 979.5,205.8 990.3,202.6 1001.7,199.5 1013.7,196.5 1026.2,193.8 1039.3,191.1 1053.0,188.7 1067.1,186.5 1081.6,184.4 1096.5,182.6 1111.8,181.0 1127.4,179.5 1143.3,178.3 1159.3,177.3 1175.6,176.5 1192.0,176.0 1208.5,175.7 1225.0,175.5 1241.5,175.7 1258.0,176.0 1274.4,176.5 1290.7,177.3 1306.7,178.3 1322.6,179.5 1338.2,181.0 1353.5,182.6 1368.4,184.4 1382.9,186.5 1397.0,188.7 1410.7,191.1 1423.8,193.8 1436.3,196.5 1448.3,199.5 1459.7,202.6 1470.5,205.8 1480.5,209.2 1489.9,212.8 1498.5,216.4 1506.4,220.2 1513.5,224.0 1519.9,228.0 1525.4,232.0 1530.1,236.1 1534.0,240.3 1537.0,244.5 1539.1,248.7 1540.4,253.0 1540.9,253.0 L1536.2,253.0 1535.8,253.0 1534.5,248.8 1532.3,244.6 1529.4,240.5 1525.6,236.4 1520.9,232.3 1515.5,228.3 1509.3,224.4 1502.3,220.6 1494.5,216.9 1486.0,213.3 1476.7,209.8 1466.8,206.4 1456.2,203.2 1445.0,200.2 1433.2,197.2 1420.8,194.5 1407.9,191.9 1394.5,189.5 1380.6,187.3 1366.3,185.3 1351.6,183.5 1336.5,181.9 1321.2,180.5 1305.5,179.3 1289.7,178.3 1273.7,177.5 1257.5,176.9 1241.3,176.6 1225.0,176.5 1208.7,176.6 1192.5,176.9 1176.3,177.5 1160.3,178.3 1144.5,179.3 1128.8,180.5 1113.5,181.9 1098.4,183.5 1083.7,185.3 1069.4,187.3 1055.5,189.5 1042.1,191.9 1029.2,194.5 1016.8,197.2 1005.0,200.2 993.8,203.2 983.2,206.4 973.3,209.8 964.0,213.3 955.5,216.9 947.7,220.6 940.7,224.4 934.5,228.3 929.1,232.3 924.4,236.4 920.6,240.5 917.7,244.6 915.5,248.8 914.2,253.0 913.8,253.0ZM873.7,253.0 874.1,253.0 875.6,249.6 878.0,245.2 881.3,240.9 885.6,236.7 890.8,232.5 897.0,228.4 904.0,224.3 911.9,220.4 920.7,216.5 930.3,212.8 940.8,209.2 952.0,205.7 963.9,202.4 976.6,199.2 989.9,196.2 1003.9,193.4 1018.5,190.7 1033.6,188.2 1049.3,185.9 1065.5,183.8 1082.1,182.0 1099.1,180.3 1116.4,178.8 1134.1,177.6 1152.0,176.6 1170.0,175.8 1188.3,175.2 1206.6,174.8 1225.0,174.7 1243.4,174.8 1261.7,175.2 1280.0,175.8 1298.0,176.6 1315.9,177.6 1333.6,178.8 1350.9,180.3 1367.9,182.0 1384.5,183.8 1400.7,185.9 1416.4,188.2 1431.5,190.7 1446.1,193.4 1460.1,196.2 1473.4,199.2 1486.1,202.4 1498.0,205.7 1509.2,209.2 1519.7,212.8 1529.3,216.5 1538.1,220.4 1546.0,224.3 1553.0,228.4 1559.2,232.5 1564.4,236.7 1568.7,240.9 1572.0,245.2 1574.4,249.6 1575.9,253.0 1576.3,253.0 L1571.7,253.0 1571.2,253.0 1569.8,249.7 1567.4,245.4 1564.1,241.1 1559.9,236.9 1554.7,232.8 1548.6,228.7 1541.7,224.7 1533.9,220.8 1525.2,217.0 1515.7,213.3 1505.5,209.7 1494.4,206.3 1482.6,203.0 1470.1,199.9 1457.0,196.9 1443.2,194.1 1428.8,191.5 1413.8,189.0 1398.3,186.8 1382.4,184.7 1366.0,182.8 1349.2,181.2 1332.1,179.7 1314.7,178.5 1297.1,177.5 1279.2,176.7 1261.2,176.1 1243.1,175.8 1225.0,175.7 1206.9,175.8 1188.8,176.1 1170.8,176.7 1152.9,177.5 1135.3,178.5 1117.9,179.7 1100.8,181.2 1084.0,182.8 1067.6,184.7 1051.7,186.8 1036.2,189.0 1021.2,191.5 1006.8,194.1 993.0,196.9 979.9,199.9 967.4,203.0 955.6,206.3 944.5,209.7 934.3,213.3 924.8,217.0 916.1,220.8 908.3,224.7 901.4,228.7 895.3,232.8 890.1,236.9 885.9,241.1 882.6,245.4 880.2,249.7 878.8,253.0 878.3,253.0ZM838.2,253.0 838.7,253.0 840.3,250.2 842.9,245.8 846.6,241.4 851.3,237.1 857.1,232.8 863.9,228.6 871.6,224.5 880.3,220.5 890.0,216.6 900.6,212.8 912.0,209.1 924.4,205.6 937.5,202.2 951.5,199.0 966.2,195.9 981.6,193.0 997.6,190.3 1014.3,187.8 1031.6,185.5 1049.4,183.3 1067.7,181.4 1086.4,179.7 1105.5,178.2 1124.9,177.0 1144.6,175.9 1164.5,175.1 1184.6,174.5 1204.8,174.2 1225.0,174.1 1245.2,174.2 1265.4,174.5 1285.5,175.1 1305.4,175.9 1325.1,177.0 1344.5,178.2 1363.6,179.7 1382.3,181.4 1400.6,183.3 1418.4,185.5 1435.7,187.8 1452.4,190.3 1468.4,193.0 1483.8,195.9 1498.5,199.0 1512.5,202.2 1525.6,205.6 1538.0,209.1 1549.4,212.8 1560.0,216.6 1569.7,220.5 1578.4,224.5 1586.1,228.6 1592.9,232.8 1598.7,237.1 1603.4,241.4 1607.1,245.8 1609.7,250.2 1611.3,253.0 1611.8,253.0 L1607.2,253.0 1606.6,253.0 1605.1,250.3 1602.5,246.0 1598.8,241.6 1594.1,237.4 1588.5,233.1 1581.8,229.0 1574.1,224.9 1565.5,220.9 1556.0,217.1 1545.5,213.3 1534.2,209.7 1522.0,206.2 1509.0,202.9 1495.2,199.7 1480.7,196.6 1465.5,193.8 1449.6,191.1 1433.1,188.6 1416.1,186.3 1398.5,184.2 1380.4,182.3 1362.0,180.6 1343.1,179.1 1323.9,177.9 1304.5,176.9 1284.8,176.1 1264.9,175.5 1245.0,175.1 1225.0,175.0 1205.0,175.1 1185.1,175.5 1165.2,176.1 1145.5,176.9 1126.1,177.9 1106.9,179.1 1088.0,180.6 1069.6,182.3 1051.5,184.2 1033.9,186.3 1016.9,188.6 1000.4,191.1 984.5,193.8 969.3,196.6 954.8,199.7 941.0,202.9 928.0,206.2 915.8,209.7 904.5,213.3 894.0,217.1 884.5,220.9 875.9,224.9 868.2,229.0 861.5,233.1 855.9,237.4 851.2,241.6 847.5,246.0 844.9,250.3 843.4,253.0 842.8,253.0ZM802.7,253.0 803.3,253.0 805.0,250.7 807.9,246.3 811.9,241.8 817.1,237.4 823.3,233.1 830.7,228.9 839.2,224.7 848.7,220.6 859.3,216.6 870.8,212.8 883.3,209.1 896.8,205.5 911.2,202.1 926.4,198.8 942.4,195.7 959.2,192.7 976.8,190.0 995.0,187.4 1013.8,185.1 1033.3,182.9 1053.2,181.0 1073.7,179.3 1094.5,177.7 1115.7,176.5 1137.2,175.4 1158.9,174.6 1180.9,174.0 1202.9,173.6 1225.0,173.5 1247.1,173.6 1269.1,174.0 1291.1,174.6 1312.8,175.4 1334.3,176.5 1355.5,177.7 1376.3,179.3 1396.8,181.0 1416.7,182.9 1436.2,185.1 1455.0,187.4 1473.2,190.0 1490.8,192.7 1507.6,195.7 1523.6,198.8 1538.8,202.1 1553.2,205.5 1566.7,209.1 1579.2,212.8 1590.7,216.6 1601.3,220.6 1610.8,224.7 1619.3,228.9 1626.7,233.1 1632.9,237.4 1638.1,241.8 1642.1,246.3 1645.0,250.7 1646.7,253.0 1647.3,253.0 L1642.6,253.0 1642.1,253.0 1640.4,250.8 1637.5,246.4 1633.5,242.0 1628.4,237.7 1622.2,233.4 1614.9,229.2 1606.5,225.1 1597.1,221.0 1586.7,217.1 1575.3,213.3 1562.9,209.6 1549.6,206.1 1535.4,202.7 1520.3,199.5 1504.5,196.4 1487.8,193.5 1470.5,190.8 1452.5,188.2 1433.8,185.9 1414.6,183.8 1394.9,181.9 1374.7,180.2 1354.1,178.7 1333.1,177.4 1311.8,176.4 1290.3,175.5 1268.7,175.0 1246.9,174.6 1225.0,174.5 1203.1,174.6 1181.3,175.0 1159.7,175.5 1138.2,176.4 1116.9,177.4 1095.9,178.7 1075.3,180.2 1055.1,181.9 1035.4,183.8 1016.2,185.9 997.5,188.2 979.5,190.8 962.2,193.5 945.5,196.4 929.7,199.5 914.6,202.7 900.4,206.1 887.1,209.6 874.7,213.3 863.3,217.1 852.9,221.0 843.5,225.1 835.1,229.2 827.8,233.4 821.6,237.7 816.5,242.0 812.5,246.4 809.6,250.8 807.9,253.0 807.4,253.0ZM767.2,253.0 767.8,253.0 769.7,251.1 772.9,246.6 777.2,242.1 782.8,237.7 789.6,233.3 797.6,229.0 806.8,224.8 817.1,220.7 828.5,216.7 841.1,212.8 854.6,209.0 869.2,205.4 884.8,201.9 901.3,198.6 918.7,195.5 936.9,192.5 955.9,189.7 975.7,187.1 996.1,184.8 1017.2,182.6 1038.8,180.6 1060.9,178.9 1083.5,177.4 1106.5,176.1 1129.8,175.0 1153.4,174.2 1177.1,173.6 1201.0,173.2 1225.0,173.1 1249.0,173.2 1272.9,173.6 1296.6,174.2 1320.2,175.0 1343.5,176.1 1366.5,177.4 1389.1,178.9 1411.2,180.6 1432.8,182.6 1453.9,184.8 1474.3,187.1 1494.1,189.7 1513.1,192.5 1531.3,195.5 1548.7,198.6 1565.2,201.9 1580.8,205.4 1595.4,209.0 1608.9,212.8 1621.5,216.7 1632.9,220.7 1643.2,224.8 1652.4,229.0 1660.4,233.3 1667.2,237.7 1672.8,242.1 1677.1,246.6 1680.3,251.1 1682.2,253.0 1682.8,253.0 L1678.1,253.0 1677.5,253.0 1675.6,251.2 1672.5,246.8 1668.2,242.3 1662.7,237.9 1655.9,233.6 1648.0,229.4 1638.9,225.2 1628.7,221.1 1617.4,217.2 1605.0,213.3 1591.6,209.6 1577.1,206.0 1561.7,202.6 1545.4,199.3 1528.2,196.2 1510.1,193.3 1491.3,190.5 1471.8,188.0 1451.6,185.6 1430.7,183.4 1409.3,181.5 1387.4,179.8 1365.0,178.3 1342.3,177.0 1319.2,175.9 1295.9,175.1 1272.4,174.5 1248.7,174.2 1225.0,174.0 1201.3,174.2 1177.6,174.5 1154.1,175.1 1130.8,175.9 1107.7,177.0 1085.0,178.3 1062.6,179.8 1040.7,181.5 1019.3,183.4 998.4,185.6 978.2,188.0 958.7,190.5 939.9,193.3 921.8,196.2 904.6,199.3 888.3,202.6 872.9,206.0 858.4,209.6 845.0,213.3 832.6,217.2 821.3,221.1 811.1,225.2 802.0,229.4 794.1,233.6 787.3,237.9 781.8,242.3 777.5,246.8 774.4,251.2 772.5,253.0 771.9,253.0ZM731.8,253.0 732.4,253.0 734.5,251.5 737.8,246.9 742.5,242.4 748.6,237.9 755.9,233.5 764.5,229.1 774.4,224.9 785.5,220.7 797.8,216.7 811.3,212.8 826.0,209.0 841.7,205.3 858.5,201.8 876.2,198.5 895.0,195.3 914.6,192.3 935.1,189.5 956.4,186.9 978.4,184.5 1001.1,182.3 1024.4,180.3 1048.2,178.6 1072.6,177.0 1097.3,175.7 1122.5,174.6 1147.8,173.8 1173.4,173.2 1199.2,172.8 1225.0,172.7 1250.8,172.8 1276.6,173.2 1302.2,173.8 1327.5,174.6 1352.7,175.7 1377.4,177.0 1401.8,178.6 1425.6,180.3 1448.9,182.3 1471.6,184.5 1493.6,186.9 1514.9,189.5 1535.4,192.3 1555.0,195.3 1573.8,198.5 1591.5,201.8 1608.3,205.3 1624.0,209.0 1638.7,212.8 1652.2,216.7 1664.5,220.7 1675.6,224.9 1685.5,229.1 1694.1,233.5 1701.4,237.9 1707.5,242.4 1712.2,246.9 1715.5,251.5 1717.6,253.0 1718.2,253.0 L1713.6,253.0 1712.9,253.0 1710.9,251.6 1707.5,247.0 1702.9,242.6 1696.9,238.1 1689.6,233.8 1681.1,229.5 1671.3,225.3 1660.3,221.2 1648.1,217.2 1634.7,213.3 1620.2,209.5 1604.7,205.9 1588.1,202.5 1570.5,199.2 1551.9,196.0 1532.5,193.1 1512.2,190.3 1491.1,187.7 1469.3,185.3 1446.8,183.2 1423.7,181.2 1400.1,179.5 1376.0,177.9 1351.4,176.6 1326.6,175.6 1301.4,174.8 1276.1,174.2 1250.6,173.8 1225.0,173.7 1199.4,173.8 1173.9,174.2 1148.6,174.8 1123.4,175.6 1098.6,176.6 1074.0,177.9 1049.9,179.5 1026.3,181.2 1003.2,183.2 980.7,185.3 958.9,187.7 937.8,190.3 917.5,193.1 898.1,196.0 879.5,199.2 861.9,202.5 845.3,205.9 829.8,209.5 815.3,213.3 801.9,217.2 789.7,221.2 778.7,225.3 768.9,229.5 760.4,233.8 753.1,238.1 747.1,242.6 742.5,247.0 739.1,251.6 737.1,253.0 736.4,253.0ZM696.3,253.0 697.1,253.0 699.2,251.7 702.8,247.1 707.9,242.5 714.4,238.0 722.2,233.6 731.5,229.2 742.0,224.9 754.0,220.8 767.2,216.7 781.6,212.7 797.3,208.9 814.2,205.2 832.1,201.7 851.2,198.4 871.3,195.2 892.3,192.2 914.3,189.3 937.1,186.7 960.7,184.3 985.0,182.1 1010.0,180.1 1035.5,178.3 1061.6,176.8 1088.2,175.4 1115.1,174.4 1142.3,173.5 1169.7,172.9 1197.3,172.5 1225.0,172.4 1252.7,172.5 1280.3,172.9 1307.7,173.5 1334.9,174.4 1361.8,175.4 1388.4,176.8 1414.5,178.3 1440.0,180.1 1465.0,182.1 1489.3,184.3 1512.9,186.7 1535.7,189.3 1557.7,192.2 1578.7,195.2 1598.8,198.4 1617.9,201.7 1635.8,205.2 1652.7,208.9 1668.4,212.7 1682.8,216.7 1696.0,220.8 1708.0,224.9 1718.5,229.2 1727.8,233.6 1735.6,238.0 1742.1,242.5 1747.2,247.1 1750.8,251.7 1752.9,253.0 1753.7,253.0 L1749.0,253.0 1748.3,253.0 1746.1,251.8 1742.5,247.2 1737.5,242.7 1731.1,238.3 1723.3,233.9 1714.2,229.6 1703.7,225.3 1691.9,221.2 1678.8,217.2 1664.4,213.3 1648.9,209.5 1632.2,205.8 1614.4,202.4 1595.5,199.0 1575.6,195.9 1554.8,192.9 1533.0,190.1 1510.4,187.5 1487.0,185.1 1462.9,182.9 1438.1,181.0 1412.8,179.2 1386.9,177.7 1360.6,176.4 1333.9,175.3 1307.0,174.5 1279.8,173.9 1252.4,173.5 1225.0,173.4 1197.6,173.5 1170.2,173.9 1143.0,174.5 1116.1,175.3 1089.4,176.4 1063.1,177.7 1037.2,179.2 1011.9,181.0 987.1,182.9 963.0,185.1 939.6,187.5 917.0,190.1 895.2,192.9 874.4,195.9 854.5,199.0 835.6,202.4 817.8,205.8 801.1,209.5 785.6,213.3 771.2,217.2 758.1,221.2 746.3,225.3 735.8,229.6 726.7,233.9 718.9,238.3 712.5,242.7 707.5,247.2 703.9,251.8 701.7,253.0 701.0,253.0ZM660.9,253.0 661.7,253.0 664.0,251.9 667.9,247.3 673.3,242.7 680.1,238.1 688.5,233.7 698.4,229.3 709.7,225.0 722.4,220.8 736.5,216.7 751.9,212.7 768.7,208.9 786.6,205.2 805.8,201.6 826.1,198.2 847.6,195.0 870.0,192.0 893.4,189.2 917.8,186.5 943.0,184.1 968.9,181.9 995.6,179.9 1022.9,178.1 1050.7,176.5 1079.0,175.2 1107.7,174.1 1136.8,173.3 1166.0,172.7 1195.5,172.3 1225.0,172.2 1254.5,172.3 1284.0,172.7 1313.2,173.3 1342.3,174.1 1371.0,175.2 1399.3,176.5 1427.1,178.1 1454.4,179.9 1481.1,181.9 1507.0,184.1 1532.2,186.5 1556.6,189.2 1580.0,192.0 1602.4,195.0 1623.9,198.2 1644.2,201.6 1663.4,205.2 1681.3,208.9 1698.1,212.7 1713.5,216.7 1727.6,220.8 1740.3,225.0 1751.6,229.3 1761.5,233.7 1769.9,238.1 1776.7,242.7 1782.1,247.3 1786.0,251.9 1788.3,253.0 1789.1,253.0 L1784.4,253.0 1783.6,253.0 1781.3,252.0 1777.5,247.4 1772.2,242.9 1765.3,238.4 1757.0,234.0 1747.2,229.6 1736.0,225.4 1723.4,221.2 1709.4,217.2 1694.1,213.2 1677.6,209.4 1659.7,205.8 1640.7,202.3 1620.5,198.9 1599.3,195.8 1577.0,192.8 1553.8,190.0 1529.7,187.3 1504.7,184.9 1479.0,182.7 1452.5,180.8 1425.5,179.0 1397.9,177.4 1369.8,176.1 1341.3,175.1 1312.5,174.2 1283.5,173.6 1254.3,173.3 1225.0,173.1 1195.7,173.3 1166.5,173.6 1137.5,174.2 1108.7,175.1 1080.2,176.1 1052.1,177.4 1024.5,179.0 997.5,180.8 971.0,182.7 945.3,184.9 920.3,187.3 896.2,190.0 873.0,192.8 850.7,195.8 829.5,198.9 809.3,202.3 790.3,205.8 772.4,209.4 755.9,213.2 740.6,217.2 726.6,221.2 714.0,225.4 702.8,229.6 693.0,234.0 684.7,238.4 677.8,242.9 672.5,247.4 668.7,252.0 666.4,253.0 665.6,253.0ZM625.5,253.0 626.4,253.0 628.8,252.0 632.9,247.4 638.6,242.8 646.0,238.2 654.9,233.7 665.4,229.3 677.4,225.0 690.9,220.8 705.8,216.7 722.2,212.7 740.0,208.8 759.1,205.1 779.5,201.6 801.1,198.2 823.9,194.9 847.7,191.9 872.6,189.1 898.5,186.4 925.3,184.0 952.8,181.7 981.2,179.7 1010.2,177.9 1039.8,176.4 1069.8,175.0 1100.4,173.9 1131.2,173.1 1162.3,172.5 1193.6,172.1 1225.0,172.0 1256.4,172.1 1287.7,172.5 1318.8,173.1 1349.6,173.9 1380.2,175.0 1410.2,176.4 1439.8,177.9 1468.8,179.7 1497.2,181.7 1524.7,184.0 1551.5,186.4 1577.4,189.1 1602.3,191.9 1626.1,194.9 1648.9,198.2 1670.5,201.6 1690.9,205.1 1710.0,208.8 1727.8,212.7 1744.2,216.7 1759.1,220.8 1772.6,225.0 1784.6,229.3 1795.1,233.7 1804.0,238.2 1811.4,242.8 1817.1,247.4 1821.2,252.0 1823.6,253.0 1824.5,253.0 L1819.8,253.0 1819.0,253.0 1816.5,252.1 1812.5,247.5 1806.8,243.0 1799.5,238.5 1790.7,234.0 1780.3,229.7 1768.4,225.4 1755.0,221.2 1740.1,217.1 1723.8,213.2 1706.2,209.4 1687.2,205.7 1667.0,202.2 1645.6,198.8 1623.0,195.7 1599.3,192.6 1574.6,189.8 1548.9,187.2 1522.4,184.8 1495.0,182.6 1466.9,180.6 1438.2,178.8 1408.8,177.3 1378.9,176.0 1348.7,174.9 1318.0,174.0 1287.2,173.4 1256.1,173.1 1225.0,172.9 1193.9,173.1 1162.8,173.4 1132.0,174.0 1101.3,174.9 1071.1,176.0 1041.2,177.3 1011.8,178.8 983.1,180.6 955.0,182.6 927.6,184.8 901.1,187.2 875.4,189.8 850.7,192.6 827.0,195.7 804.4,198.8 783.0,202.2 762.8,205.7 743.8,209.4 726.2,213.2 709.9,217.1 695.0,221.2 681.6,225.4 669.7,229.7 659.3,234.0 650.5,238.5 643.2,243.0 637.5,247.5 633.5,252.1 631.0,253.0 630.2,253.0ZM590.2,253.0 591.0,253.0 593.6,252.1 598.0,247.5 604.0,242.9 611.8,238.3 621.2,233.8 632.3,229.4 645.0,225.0 659.3,220.8 675.2,216.7 692.6,212.7 711.4,208.8 731.6,205.1 753.2,201.5 776.1,198.1 800.2,194.9 825.5,191.8 851.8,188.9 879.2,186.3 907.6,183.8 936.8,181.6 966.8,179.6 997.5,177.8 1028.8,176.2 1060.7,174.9 1093.0,173.8 1125.7,172.9 1158.6,172.3 1191.8,171.9 1225.0,171.8 1258.2,171.9 1291.4,172.3 1324.3,172.9 1357.0,173.8 1389.3,174.9 1421.2,176.2 1452.5,177.8 1483.2,179.6 1513.2,181.6 1542.4,183.8 1570.8,186.3 1598.2,188.9 1624.5,191.8 1649.8,194.9 1673.9,198.1 1696.8,201.5 1718.4,205.1 1738.6,208.8 1757.4,212.7 1774.8,216.7 1790.7,220.8 1805.0,225.0 1817.7,229.4 1828.8,233.8 1838.2,238.3 1846.0,242.9 1852.0,247.5 1856.4,252.1 1859.0,253.0 1859.8,253.0 L1855.2,253.0 1854.3,253.0 1851.7,252.2 1847.4,247.6 1841.4,243.1 1833.7,238.5 1824.3,234.1 1813.3,229.7 1800.7,225.4 1786.5,221.2 1770.7,217.1 1753.5,213.2 1734.8,209.4 1714.7,205.7 1693.3,202.1 1670.6,198.8 1646.7,195.6 1621.6,192.5 1595.4,189.7 1568.2,187.1 1540.1,184.7 1511.1,182.4 1481.3,180.4 1450.8,178.7 1419.7,177.1 1388.1,175.8 1356.0,174.7 1323.6,173.9 1290.9,173.3 1258.0,172.9 1225.0,172.8 1192.0,172.9 1159.1,173.3 1126.4,173.9 1094.0,174.7 1061.9,175.8 1030.3,177.1 999.2,178.7 968.7,180.4 938.9,182.4 909.9,184.7 881.8,187.1 854.6,189.7 828.4,192.5 803.3,195.6 779.4,198.8 756.7,202.1 735.3,205.7 715.2,209.4 696.5,213.2 679.3,217.1 663.5,221.2 649.3,225.4 636.7,229.7 625.7,234.1 616.3,238.5 608.6,243.1 602.6,247.6 598.3,252.2 595.7,253.0 594.8,253.0ZM554.8,253.0 555.7,253.0 558.5,252.2 563.0,247.5 569.4,242.9 577.6,238.3 587.6,233.8 599.3,229.4 612.7,225.0 627.8,220.8 644.6,216.6 662.9,212.6 682.8,208.8 704.1,205.0 726.9,201.4 751.1,198.0 776.5,194.8 803.2,191.7 831.1,188.9 860.0,186.2 889.9,183.7 920.7,181.5 952.4,179.5 984.8,177.7 1017.9,176.1 1051.5,174.7 1085.7,173.6 1120.2,172.8 1154.9,172.2 1189.9,171.8 1225.0,171.7 1260.1,171.8 1295.1,172.2 1329.8,172.8 1364.3,173.6 1398.5,174.7 1432.1,176.1 1465.2,177.7 1497.6,179.5 1529.3,181.5 1560.1,183.7 1590.0,186.2 1618.9,188.9 1646.8,191.7 1673.5,194.8 1698.9,198.0 1723.1,201.4 1745.9,205.0 1767.2,208.8 1787.1,212.6 1805.4,216.6 1822.2,220.8 1837.3,225.0 1850.7,229.4 1862.4,233.8 1872.4,238.3 1880.6,242.9 1887.0,247.5 1891.5,252.2 1894.3,253.0 1895.2,253.0 L1890.5,253.0 1889.6,253.0 1886.9,252.3 1882.3,247.7 1876.0,243.1 1867.9,238.6 1858.0,234.1 1846.3,229.7 1833.0,225.4 1818.0,221.2 1801.4,217.1 1783.2,213.2 1763.4,209.3 1742.2,205.6 1719.6,202.1 1695.6,198.7 1670.3,195.5 1643.8,192.5 1616.2,189.6 1587.5,187.0 1557.8,184.6 1527.1,182.3 1495.7,180.3 1463.5,178.6 1430.7,177.0 1397.3,175.7 1363.4,174.6 1329.1,173.7 1294.6,173.1 1259.8,172.8 1225.0,172.6 1190.2,172.8 1155.4,173.1 1120.9,173.7 1086.6,174.6 1052.7,175.7 1019.3,177.0 986.5,178.6 954.3,180.3 922.9,182.3 892.2,184.6 862.5,187.0 833.8,189.6 806.2,192.5 779.7,195.5 754.4,198.7 730.4,202.1 707.8,205.6 686.6,209.3 666.8,213.2 648.6,217.1 632.0,221.2 617.0,225.4 603.7,229.7 592.0,234.1 582.1,238.6 574.0,243.1 567.7,247.7 563.1,252.3 560.4,253.0 559.5,253.0ZM519.4,253.0 520.4,253.0 523.3,252.3 528.1,247.6 534.8,243.0 543.5,238.4 554.0,233.8 566.3,229.4 580.4,225.0 596.3,220.8 614.0,216.6 633.3,212.6 654.2,208.7 676.7,205.0 700.7,201.4 726.1,198.0 752.9,194.7 781.0,191.7 810.3,188.8 840.7,186.1 872.2,183.6 904.7,181.4 938.0,179.4 972.1,177.6 1007.0,176.0 1042.4,174.6 1078.3,173.5 1114.6,172.7 1151.2,172.1 1188.1,171.7 1225.0,171.6 1261.9,171.7 1298.8,172.1 1335.4,172.7 1371.7,173.5 1407.6,174.6 1443.0,176.0 1477.9,177.6 1512.0,179.4 1545.3,181.4 1577.8,183.6 1609.3,186.1 1639.7,188.8 1669.0,191.7 1697.1,194.7 1723.9,198.0 1749.3,201.4 1773.3,205.0 1795.8,208.7 1816.7,212.6 1836.0,216.6 1853.7,220.8 1869.6,225.0 1883.7,229.4 1896.0,233.8 1906.5,238.4 1915.2,243.0 1921.9,247.6 1926.7,252.3 1929.6,253.0 1930.6,253.0 L1925.9,253.0 1924.9,253.0 1922.1,252.4 1917.3,247.7 1910.6,243.2 1902.0,238.6 1891.6,234.1 1879.3,229.7 1865.3,225.4 1849.5,221.2 1832.0,217.1 1812.8,213.1 1792.0,209.3 1769.7,205.6 1745.9,202.0 1720.6,198.6 1694.0,195.4 1666.1,192.4 1637.0,189.6 1606.7,186.9 1575.4,184.5 1543.2,182.3 1510.1,180.2 1476.2,178.5 1441.6,176.9 1406.4,175.6 1370.7,174.5 1334.6,173.6 1298.3,173.0 1261.7,172.7 1225.0,172.5 1188.3,172.7 1151.7,173.0 1115.4,173.6 1079.3,174.5 1043.6,175.6 1008.4,176.9 973.8,178.5 939.9,180.2 906.8,182.3 874.6,184.5 843.3,186.9 813.0,189.6 783.9,192.4 756.0,195.4 729.4,198.6 704.1,202.0 680.3,205.6 658.0,209.3 637.2,213.1 618.0,217.1 600.5,221.2 584.7,225.4 570.7,229.7 558.4,234.1 548.0,238.6 539.4,243.2 532.7,247.7 527.9,252.4 525.1,253.0 524.1,253.0ZM484.1,253.0 485.1,253.0 488.1,252.3 493.2,247.6 500.3,243.0 509.3,238.4 520.3,233.9 533.3,229.4 548.1,225.0 564.8,220.8 583.3,216.6 603.6,212.6 625.6,208.7 649.2,204.9 674.4,201.4 701.1,197.9 729.2,194.7 758.7,191.6 789.5,188.7 821.5,186.0 854.5,183.6 888.6,181.3 923.6,179.3 959.5,177.5 996.0,175.9 1033.2,174.6 1071.0,173.5 1109.1,172.6 1147.6,172.0 1186.2,171.6 1225.0,171.5 1263.8,171.6 1302.4,172.0 1340.9,172.6 1379.0,173.5 1416.8,174.6 1454.0,175.9 1490.5,177.5 1526.4,179.3 1561.4,181.3 1595.5,183.6 1628.5,186.0 1660.5,188.7 1691.3,191.6 1720.8,194.7 1748.9,197.9 1775.6,201.4 1800.8,204.9 1824.4,208.7 1846.4,212.6 1866.7,216.6 1885.2,220.8 1901.9,225.0 1916.7,229.4 1929.7,233.9 1940.7,238.4 1949.7,243.0 1956.8,247.6 1961.9,252.3 1964.9,253.0 1965.9,253.0 L1961.2,253.0 1960.2,253.0 1957.2,252.4 1952.2,247.8 1945.2,243.2 1936.2,238.6 1925.2,234.2 1912.3,229.8 1897.6,225.4 1881.0,221.2 1862.6,217.1 1842.5,213.1 1820.6,209.3 1797.2,205.6 1772.1,202.0 1745.6,198.6 1717.6,195.4 1688.3,192.3 1657.8,189.5 1626.0,186.9 1593.1,184.4 1559.2,182.2 1524.5,180.2 1488.8,178.4 1452.5,176.8 1415.6,175.5 1378.1,174.4 1340.2,173.5 1302.0,172.9 1263.5,172.6 1225.0,172.4 1186.5,172.6 1148.0,172.9 1109.8,173.5 1071.9,174.4 1034.4,175.5 997.5,176.8 961.2,178.4 925.5,180.2 890.8,182.2 856.9,184.4 824.0,186.9 792.2,189.5 761.7,192.3 732.4,195.4 704.4,198.6 677.9,202.0 652.8,205.6 629.4,209.3 607.5,213.1 587.4,217.1 569.0,221.2 552.4,225.4 537.7,229.8 524.8,234.2 513.8,238.6 504.8,243.2 497.8,247.8 492.8,252.4 489.8,253.0 488.8,253.0ZM448.7,253.0 449.8,253.0 453.0,252.4 458.3,247.7 465.7,243.0 475.2,238.4 486.7,233.9 500.3,229.4 515.9,225.0 533.3,220.8 552.7,216.6 574.0,212.6 597.0,208.7 621.7,204.9 648.1,201.3 676.1,197.9 705.6,194.6 736.5,191.6 768.7,188.7 802.2,186.0 836.9,183.5 872.6,181.3 909.3,179.2 946.8,177.4 985.1,175.8 1024.1,174.5 1063.6,173.4 1103.6,172.5 1143.9,171.9 1184.4,171.5 1225.0,171.4 1265.6,171.5 1306.1,171.9 1346.4,172.5 1386.4,173.4 1425.9,174.5 1464.9,175.8 1503.2,177.4 1540.7,179.2 1577.4,181.3 1613.1,183.5 1647.8,186.0 1681.3,188.7 1713.5,191.6 1744.4,194.6 1773.9,197.9 1801.9,201.3 1828.3,204.9 1853.0,208.7 1876.0,212.6 1897.3,216.6 1916.7,220.8 1934.1,225.0 1949.7,229.4 1963.3,233.9 1974.8,238.4 1984.3,243.0 1991.7,247.7 1997.0,252.4 2000.2,253.0 2001.3,253.0 L1996.6,253.0 1995.5,253.0 1992.4,252.5 1987.1,247.8 1979.7,243.2 1970.3,238.7 1958.8,234.2 1945.3,229.8 1929.9,225.4 1912.5,221.2 1893.2,217.1 1872.1,213.1 1849.2,209.2 1824.6,205.5 1798.4,202.0 1770.6,198.6 1741.3,195.3 1710.6,192.3 1678.5,189.5 1645.2,186.8 1610.8,184.4 1575.3,182.1 1538.8,180.1 1501.5,178.3 1463.4,176.7 1424.7,175.4 1385.4,174.3 1345.7,173.5 1305.7,172.9 1265.4,172.5 1225.0,172.4 1184.6,172.5 1144.3,172.9 1104.3,173.5 1064.6,174.3 1025.3,175.4 986.6,176.7 948.5,178.3 911.2,180.1 874.7,182.1 839.2,184.4 804.8,186.8 771.5,189.5 739.4,192.3 708.7,195.3 679.4,198.6 651.6,202.0 625.4,205.5 600.8,209.2 577.9,213.1 556.8,217.1 537.5,221.2 520.1,225.4 504.7,229.8 491.2,234.2 479.7,238.7 470.3,243.2 462.9,247.8 457.6,252.5 454.5,253.0 453.4,253.0ZM413.4,253.0 414.5,253.0 417.9,252.4 423.4,247.7 431.1,243.0 441.1,238.4 453.1,233.9 467.3,229.4 483.6,225.0 501.9,220.8 522.1,216.6 544.3,212.6 568.4,208.7 594.3,204.9 621.9,201.3 651.1,197.9 681.9,194.6 714.2,191.5 748.0,188.6 783.0,186.0 819.2,183.5 856.5,181.2 894.9,179.2 934.2,177.4 974.2,175.8 1014.9,174.4 1056.3,173.3 1098.0,172.5 1140.2,171.8 1182.5,171.5 1225.0,171.4 1267.5,171.5 1309.8,171.8 1352.0,172.5 1393.7,173.3 1435.1,174.4 1475.8,175.8 1515.8,177.4 1555.1,179.2 1593.5,181.2 1630.8,183.5 1667.0,186.0 1702.0,188.6 1735.8,191.5 1768.1,194.6 1798.9,197.9 1828.1,201.3 1855.7,204.9 1881.6,208.7 1905.7,212.6 1927.9,216.6 1948.1,220.8 1966.4,225.0 1982.7,229.4 1996.9,233.9 2008.9,238.4 2018.9,243.0 2026.6,247.7 2032.1,252.4 2035.5,253.0 2036.6,253.0 L2031.9,253.0 2030.8,253.0 2027.5,252.5 2022.0,247.8 2014.3,243.2 2004.4,238.7 1992.4,234.2 1978.3,229.8 1962.2,225.4 1944.0,221.2 1923.8,217.1 1901.7,213.1 1877.8,209.2 1852.1,205.5 1824.7,201.9 1795.6,198.5 1764.9,195.3 1732.8,192.3 1699.3,189.4 1664.5,186.8 1628.5,184.3 1591.3,182.1 1553.2,180.1 1514.2,178.3 1474.4,176.7 1433.8,175.4 1392.8,174.3 1351.2,173.4 1309.3,172.8 1267.2,172.4 1225.0,172.3 1182.8,172.4 1140.7,172.8 1098.8,173.4 1057.2,174.3 1016.2,175.4 975.6,176.7 935.8,178.3 896.8,180.1 858.7,182.1 821.5,184.3 785.5,186.8 750.7,189.4 717.2,192.3 685.1,195.3 654.4,198.5 625.3,201.9 597.9,205.5 572.2,209.2 548.3,213.1 526.2,217.1 506.0,221.2 487.8,225.4 471.7,229.8 457.6,234.2 445.6,238.7 435.7,243.2 428.0,247.8 422.5,252.5 419.2,253.0 418.1,253.0ZM378.1,253.0 379.2,253.0 382.7,252.4 388.5,247.7 396.6,243.1 406.9,238.4 419.5,233.9 434.3,229.4 451.3,225.0 470.4,220.8 491.5,216.6 514.7,212.6 539.8,208.6 566.8,204.9 595.6,201.3 626.1,197.8 658.3,194.6 692.0,191.5 727.2,188.6 763.7,185.9 801.5,183.4 840.5,181.2 880.5,179.1 921.5,177.3 963.3,175.7 1005.8,174.4 1048.9,173.3 1092.5,172.4 1136.5,171.8 1180.7,171.4 1225.0,171.3 1269.3,171.4 1313.5,171.8 1357.5,172.4 1401.1,173.3 1444.2,174.4 1486.7,175.7 1528.5,177.3 1569.5,179.1 1609.5,181.2 1648.5,183.4 1686.3,185.9 1722.8,188.6 1758.0,191.5 1791.7,194.6 1823.9,197.8 1854.4,201.3 1883.2,204.9 1910.2,208.6 1935.3,212.6 1958.5,216.6 1979.6,220.8 1998.7,225.0 2015.7,229.4 2030.5,233.9 2043.1,238.4 2053.4,243.1 2061.5,247.7 2067.3,252.4 2070.8,253.0 2071.9,253.0 L2067.2,253.0 2066.1,253.0 2062.6,252.5 2056.9,247.9 2048.8,243.3 2038.5,238.7 2026.0,234.2 2011.3,229.8 1994.4,225.4 1975.4,221.2 1954.4,217.1 1931.4,213.1 1906.4,209.2 1879.5,205.5 1850.9,201.9 1820.6,198.5 1788.6,195.3 1755.0,192.2 1720.1,189.4 1683.7,186.7 1646.1,184.3 1607.4,182.0 1567.6,180.0 1526.8,178.2 1485.3,176.6 1443.0,175.3 1400.1,174.2 1356.8,173.4 1313.0,172.8 1269.1,172.4 1225.0,172.3 1180.9,172.4 1137.0,172.8 1093.2,173.4 1049.9,174.2 1007.0,175.3 964.7,176.6 923.2,178.2 882.4,180.0 842.6,182.0 803.9,184.3 766.3,186.7 729.9,189.4 695.0,192.2 661.4,195.3 629.4,198.5 599.1,201.9 570.5,205.5 543.6,209.2 518.6,213.1 495.6,217.1 474.6,221.2 455.6,225.4 438.7,229.8 424.0,234.2 411.5,238.7 401.2,243.3 393.1,247.9 387.4,252.5 383.9,253.0 382.8,253.0ZM342.7,253.0 344.0,253.0 347.6,252.4 353.6,247.7 362.0,243.1 372.8,238.5 385.9,233.9 401.3,229.4 419.0,225.0 438.9,220.8 460.9,216.6 485.1,212.5 511.2,208.6 539.4,204.9 569.4,201.3 601.2,197.8 634.7,194.5 669.8,191.5 706.4,188.6 744.5,185.9 783.9,183.4 824.5,181.1 866.2,179.1 908.8,177.3 952.4,175.7 996.7,174.4 1041.6,173.2 1087.0,172.4 1132.8,171.8 1178.8,171.4 1225.0,171.3 1271.2,171.4 1317.2,171.8 1363.0,172.4 1408.4,173.2 1453.3,174.4 1497.6,175.7 1541.2,177.3 1583.8,179.1 1625.5,181.1 1666.1,183.4 1705.5,185.9 1743.6,188.6 1780.2,191.5 1815.3,194.5 1848.8,197.8 1880.6,201.3 1910.6,204.9 1938.8,208.6 1964.9,212.5 1989.1,216.6 2011.1,220.8 2031.0,225.0 2048.7,229.4 2064.1,233.9 2077.2,238.5 2088.0,243.1 2096.4,247.7 2102.4,252.4 2106.0,253.0 2107.3,253.0 L2102.6,253.0 2101.4,253.0 2097.8,252.5 2091.8,247.9 2083.4,243.3 2072.7,238.7 2059.6,234.2 2044.3,229.8 2026.7,225.4 2006.9,221.2 1985.0,217.1 1961.0,213.1 1935.0,209.2 1907.0,205.5 1877.2,201.9 1845.5,198.5 1812.2,195.3 1777.3,192.2 1740.8,189.4 1703.0,186.7 1663.8,184.2 1623.4,182.0 1581.9,180.0 1539.5,178.2 1496.2,176.6 1452.1,175.3 1407.5,174.2 1362.3,173.3 1316.7,172.7 1270.9,172.3 1225.0,172.2 1179.1,172.3 1133.3,172.7 1087.7,173.3 1042.5,174.2 997.9,175.3 953.8,176.6 910.5,178.2 868.1,180.0 826.6,182.0 786.2,184.2 747.0,186.7 709.2,189.4 672.7,192.2 637.8,195.3 604.5,198.5 572.8,201.9 543.0,205.5 515.0,209.2 489.0,213.1 465.0,217.1 443.1,221.2 423.3,225.4 405.7,229.8 390.4,234.2 377.3,238.7 366.6,243.3 358.2,247.9 352.2,252.5 348.6,253.0 347.4,253.0ZM307.4,253.0 308.7,253.0 312.5,252.5 318.7,247.7 327.5,243.1 338.7,238.5 352.3,233.9 368.4,229.4 386.8,225.0 407.4,220.8 430.4,216.6 455.5,212.5 482.7,208.6 511.9,204.9 543.1,201.2 576.2,197.8 611.0,194.5 647.6,191.4 685.7,188.6 725.3,185.9 766.2,183.4 808.4,181.1 851.8,179.1 896.2,177.3 941.5,175.7 987.5,174.3 1034.2,173.2 1081.5,172.3 1129.1,171.7 1177.0,171.4 1225.0,171.2 1273.0,171.4 1320.9,171.7 1368.5,172.3 1415.8,173.2 1462.5,174.3 1508.5,175.7 1553.8,177.3 1598.2,179.1 1641.6,181.1 1683.8,183.4 1724.7,185.9 1764.3,188.6 1802.4,191.4 1839.0,194.5 1873.8,197.8 1906.9,201.2 1938.1,204.9 1967.3,208.6 1994.5,212.5 2019.6,216.6 2042.6,220.8 2063.2,225.0 2081.6,229.4 2097.7,233.9 2111.3,238.5 2122.5,243.1 2131.3,247.7 2137.5,252.5 2141.3,253.0 2142.6,253.0 L2137.9,253.0 2136.6,253.0 2132.9,252.6 2126.7,247.9 2117.9,243.3 2106.8,238.7 2093.2,234.2 2077.3,229.8 2059.0,225.4 2038.4,221.2 2015.6,217.1 1990.6,213.1 1963.5,209.2 1934.5,205.5 1903.4,201.9 1870.5,198.5 1835.8,195.2 1799.5,192.2 1761.6,189.3 1722.2,186.7 1681.4,184.2 1639.4,182.0 1596.3,179.9 1552.2,178.1 1507.1,176.6 1461.3,175.2 1414.8,174.2 1367.8,173.3 1320.4,172.7 1272.8,172.3 1225.0,172.2 1177.2,172.3 1129.6,172.7 1082.2,173.3 1035.2,174.2 988.7,175.2 942.9,176.6 897.8,178.1 853.7,179.9 810.6,182.0 768.6,184.2 727.8,186.7 688.4,189.3 650.5,192.2 614.2,195.2 579.5,198.5 546.6,201.9 515.5,205.5 486.5,209.2 459.4,213.1 434.4,217.1 411.6,221.2 391.0,225.4 372.7,229.8 356.8,234.2 343.2,238.7 332.1,243.3 323.3,247.9 317.1,252.6 313.4,253.0 312.1,253.0ZM272.1,253.0 273.4,253.0 277.3,252.5 283.8,247.8 292.9,243.1 304.6,238.5 318.7,233.9 335.4,229.4 354.5,225.0 376.0,220.7 399.8,216.6 425.8,212.5 454.1,208.6 484.5,204.8 516.9,201.2 551.2,197.8 587.4,194.5 625.3,191.4 664.9,188.5 706.0,185.8 748.6,183.4 792.4,181.1 837.4,179.0 883.5,177.2 930.5,175.6 978.4,174.3 1026.9,173.2 1075.9,172.3 1125.4,171.7 1175.1,171.3 1225.0,171.2 1274.9,171.3 1324.6,171.7 1374.1,172.3 1423.1,173.2 1471.6,174.3 1519.5,175.6 1566.5,177.2 1612.6,179.0 1657.6,181.1 1701.4,183.4 1744.0,185.8 1785.1,188.5 1824.7,191.4 1862.6,194.5 1898.8,197.8 1933.1,201.2 1965.5,204.8 1995.9,208.6 2024.2,212.5 2050.2,216.6 2074.0,220.7 2095.5,225.0 2114.6,229.4 2131.3,233.9 2145.4,238.5 2157.1,243.1 2166.2,247.8 2172.7,252.5 2176.6,253.0 2177.9,253.0 L2173.2,253.0 2171.9,253.0 2168.0,252.6 2161.5,247.9 2152.5,243.3 2140.9,238.7 2126.8,234.2 2110.2,229.8 2091.2,225.4 2069.9,221.2 2046.2,217.1 2020.2,213.0 1992.1,209.2 1961.9,205.4 1929.7,201.9 1895.5,198.5 1859.5,195.2 1821.7,192.2 1782.3,189.3 1741.4,186.6 1699.1,184.2 1655.5,181.9 1610.7,179.9 1564.8,178.1 1518.0,176.6 1470.4,175.2 1422.1,174.1 1373.3,173.3 1324.1,172.7 1274.6,172.3 1225.0,172.2 1175.4,172.3 1125.9,172.7 1076.7,173.3 1027.9,174.1 979.6,175.2 932.0,176.6 885.2,178.1 839.3,179.9 794.5,181.9 750.9,184.2 708.6,186.6 667.7,189.3 628.3,192.2 590.5,195.2 554.5,198.5 520.3,201.9 488.1,205.4 457.9,209.2 429.8,213.0 403.8,217.1 380.1,221.2 358.8,225.4 339.8,229.8 323.2,234.2 309.1,238.7 297.5,243.3 288.5,247.9 282.0,252.6 278.1,253.0 276.8,253.0ZM236.8,253.0 238.1,253.0 242.2,252.5 249.0,247.8 258.4,243.1 270.5,238.5 285.2,233.9 302.4,229.4 322.2,225.0 344.5,220.7 369.2,216.6 396.2,212.5 425.5,208.6 457.0,204.8 490.6,201.2 526.2,197.8 563.8,194.5 603.1,191.4 644.1,188.5 686.8,185.8 730.9,183.3 776.4,181.1 823.1,179.0 870.9,177.2 919.6,175.6 969.2,174.3 1019.5,173.2 1070.4,172.3 1121.7,171.7 1173.3,171.3 1225.0,171.2 1276.7,171.3 1328.3,171.7 1379.6,172.3 1430.5,173.2 1480.8,174.3 1530.4,175.6 1579.1,177.2 1626.9,179.0 1673.6,181.1 1719.1,183.3 1763.2,185.8 1805.9,188.5 1846.9,191.4 1886.2,194.5 1923.8,197.8 1959.4,201.2 1993.0,204.8 2024.5,208.6 2053.8,212.5 2080.8,216.6 2105.5,220.7 2127.8,225.0 2147.6,229.4 2164.8,233.9 2179.5,238.5 2191.6,243.1 2201.0,247.8 2207.8,252.5 2211.9,253.0 2213.2,253.0 L2208.5,253.0 2207.2,253.0 2203.1,252.6 2196.4,247.9 2187.0,243.3 2175.0,238.7 2160.4,234.2 2143.2,229.8 2123.5,225.4 2101.3,221.2 2076.8,217.0 2049.9,213.0 2020.7,209.2 1989.3,205.4 1955.9,201.9 1920.5,198.4 1883.1,195.2 1844.0,192.2 1803.1,189.3 1760.7,186.6 1716.8,184.2 1671.5,181.9 1625.0,179.9 1577.5,178.1 1528.9,176.5 1479.6,175.2 1429.5,174.1 1378.9,173.2 1327.8,172.6 1276.5,172.3 1225.0,172.1 1173.5,172.3 1122.2,172.6 1071.1,173.2 1020.5,174.1 970.4,175.2 921.1,176.5 872.5,178.1 825.0,179.9 778.5,181.9 733.2,184.2 689.3,186.6 646.9,189.3 606.0,192.2 566.9,195.2 529.5,198.4 494.1,201.9 460.7,205.4 429.3,209.2 400.1,213.0 373.2,217.0 348.7,221.2 326.5,225.4 306.8,229.8 289.6,234.2 275.0,238.7 263.0,243.3 253.6,247.9 246.9,252.6 242.8,253.0 241.5,253.0ZM201.5,253.0 202.9,253.0 207.1,252.5 214.1,247.8 223.8,243.1 236.3,238.5 251.6,233.9 269.5,229.4 290.0,225.0 313.0,220.7 338.6,216.6 366.6,212.5 396.9,208.6 429.6,204.8 464.4,201.2 501.3,197.8 540.1,194.5 580.9,191.4 623.4,188.5 667.5,185.8 713.2,183.3 760.3,181.1 808.7,179.0 858.2,177.2 908.7,175.6 960.1,174.3 1012.2,173.1 1064.9,172.3 1118.0,171.7 1171.4,171.3 1225.0,171.2 1278.6,171.3 1332.0,171.7 1385.1,172.3 1437.8,173.1 1489.9,174.3 1541.3,175.6 1591.8,177.2 1641.3,179.0 1689.7,181.1 1736.8,183.3 1782.5,185.8 1826.6,188.5 1869.1,191.4 1909.9,194.5 1948.7,197.8 1985.6,201.2 2020.4,204.8 2053.1,208.6 2083.4,212.5 2111.4,216.6 2137.0,220.7 2160.0,225.0 2180.5,229.4 2198.4,233.9 2213.7,238.5 2226.2,243.1 2235.9,247.8 2242.9,252.5 2247.1,253.0 2248.5,253.0 L2243.8,253.0 2242.4,253.0 2238.3,252.6 2231.3,247.9 2221.6,243.3 2209.1,238.7 2194.0,234.2 2176.2,229.8 2155.8,225.4 2132.8,221.2 2107.3,217.0 2079.5,213.0 2049.3,209.2 2016.8,205.4 1982.2,201.8 1945.4,198.4 1906.7,195.2 1866.2,192.1 1823.9,189.3 1779.9,186.6 1734.4,184.2 1687.5,181.9 1639.4,179.9 1590.1,178.1 1539.8,176.5 1488.7,175.2 1436.8,174.1 1384.4,173.2 1331.5,172.6 1278.3,172.2 1225.0,172.1 1171.7,172.2 1118.5,172.6 1065.6,173.2 1013.2,174.1 961.3,175.2 910.2,176.5 859.9,178.1 810.6,179.9 762.5,181.9 715.6,184.2 670.1,186.6 626.1,189.3 583.8,192.1 543.3,195.2 504.6,198.4 467.8,201.8 433.2,205.4 400.7,209.2 370.5,213.0 342.7,217.0 317.2,221.2 294.2,225.4 273.8,229.8 256.0,234.2 240.9,238.7 228.4,243.3 218.7,247.9 211.7,252.6 207.6,253.0 206.2,253.0ZM166.2,253.0 167.6,253.0 172.0,252.5 179.2,247.8 189.3,243.1 202.2,238.5 218.0,233.9 236.5,229.4 257.7,225.0 281.6,220.7 308.0,216.6 337.0,212.5 368.4,208.6 402.1,204.8 438.1,201.2 476.3,197.7 516.5,194.5 558.7,191.4 602.6,188.5 648.3,185.8 695.6,183.3 744.3,181.0 794.3,179.0 845.5,177.2 897.8,175.6 951.0,174.2 1004.9,173.1 1059.4,172.3 1114.3,171.6 1169.6,171.3 1225.0,171.1 1280.4,171.3 1335.7,171.6 1390.6,172.3 1445.1,173.1 1499.0,174.2 1552.2,175.6 1604.5,177.2 1655.7,179.0 1705.7,181.0 1754.4,183.3 1801.7,185.8 1847.4,188.5 1891.3,191.4 1933.5,194.5 1973.7,197.7 2011.9,201.2 2047.9,204.8 2081.6,208.6 2113.0,212.5 2142.0,216.6 2168.4,220.7 2192.3,225.0 2213.5,229.4 2232.0,233.9 2247.8,238.5 2260.7,243.1 2270.8,247.8 2278.0,252.5 2282.4,253.0 2283.8,253.0 L2279.2,253.0 2277.7,253.0 2273.4,252.6 2266.2,247.9 2256.1,243.3 2243.2,238.7 2227.6,234.2 2209.1,229.8 2188.0,225.4 2164.3,221.2 2137.9,217.0 2109.1,213.0 2077.8,209.2 2044.2,205.4 2008.4,201.8 1970.4,198.4 1930.4,195.2 1888.4,192.1 1844.6,189.3 1799.1,186.6 1752.1,184.1 1703.6,181.9 1653.8,179.9 1602.8,178.1 1550.8,176.5 1497.8,175.2 1444.2,174.1 1389.9,173.2 1335.2,172.6 1280.2,172.2 1225.0,172.1 1169.8,172.2 1114.8,172.6 1060.1,173.2 1005.8,174.1 952.2,175.2 899.2,176.5 847.2,178.1 796.2,179.9 746.4,181.9 697.9,184.1 650.9,186.6 605.4,189.3 561.6,192.1 519.6,195.2 479.6,198.4 441.6,201.8 405.8,205.4 372.2,209.2 340.9,213.0 312.1,217.0 285.7,221.2 262.0,225.4 240.9,229.8 222.4,234.2 206.8,238.7 193.9,243.3 183.8,247.9 176.6,252.6 172.3,253.0 170.8,253.0ZM130.8,253.0 132.3,253.0 136.8,252.5 144.3,247.8 154.8,243.1 168.1,238.5 184.4,233.9 203.5,229.4 225.4,225.0 250.1,220.7 277.4,216.6 307.4,212.5 339.8,208.6 374.7,204.8 411.9,201.2 451.3,197.7 492.9,194.5 536.4,191.4 581.9,188.5 629.1,185.8 677.9,183.3 728.3,181.0 780.0,179.0 832.9,177.2 886.9,175.6 941.8,174.2 997.5,173.1 1053.8,172.3 1110.6,171.6 1167.7,171.3 1225.0,171.1 1282.3,171.3 1339.4,171.6 1396.2,172.3 1452.5,173.1 1508.2,174.2 1563.1,175.6 1617.1,177.2 1670.0,179.0 1721.7,181.0 1772.1,183.3 1820.9,185.8 1868.1,188.5 1913.6,191.4 1957.1,194.5 1998.7,197.7 2038.1,201.2 2075.3,204.8 2110.2,208.6 2142.6,212.5 2172.6,216.6 2199.9,220.7 2224.6,225.0 2246.5,229.4 2265.6,233.9 2281.9,238.5 2295.2,243.1 2305.7,247.8 2313.2,252.5 2317.7,253.0 2319.2,253.0 L2314.5,253.0 2313.0,253.0 2308.5,252.6 2301.1,247.9 2290.7,243.3 2277.4,238.7 2261.2,234.2 2242.1,229.8 2220.3,225.4 2195.7,221.2 2168.5,217.0 2138.7,213.0 2106.4,209.1 2071.7,205.4 2034.6,201.8 1995.4,198.4 1954.0,195.2 1910.6,192.1 1865.4,189.3 1818.4,186.6 1769.7,184.1 1719.6,181.9 1668.1,179.9 1615.4,178.1 1561.7,176.5 1507.0,175.2 1451.5,174.1 1395.4,173.2 1338.9,172.6 1282.0,172.2 1225.0,172.1 1168.0,172.2 1111.1,172.6 1054.6,173.2 998.5,174.1 943.0,175.2 888.3,176.5 834.6,178.1 781.9,179.9 730.4,181.9 680.3,184.1 631.6,186.6 584.6,189.3 539.4,192.1 496.0,195.2 454.6,198.4 415.4,201.8 378.3,205.4 343.6,209.1 311.3,213.0 281.5,217.0 254.3,221.2 229.7,225.4 207.9,229.8 188.8,234.2 172.6,238.7 159.3,243.3 148.9,247.9 141.5,252.6 137.0,253.0 135.5,253.0ZM95.5,253.0 97.1,253.0 101.7,252.5 109.4,247.8 120.2,243.1 134.0,238.5 150.8,233.9 170.6,229.4 193.2,225.0 218.6,220.7 246.9,216.6 277.8,212.5 311.2,208.6 347.2,204.8 385.6,201.2 426.3,197.7 469.2,194.5 514.2,191.4 561.1,188.5 609.8,185.8 660.3,183.3 712.2,181.0 765.6,179.0 820.2,177.2 876.0,175.6 932.7,174.2 990.2,173.1 1048.3,172.2 1106.9,171.6 1165.9,171.2 1225.0,171.1 1284.1,171.2 1343.1,171.6 1401.7,172.2 1459.8,173.1 1517.3,174.2 1574.0,175.6 1629.8,177.2 1684.4,179.0 1737.8,181.0 1789.7,183.3 1840.2,185.8 1888.9,188.5 1935.8,191.4 1980.8,194.5 2023.7,197.7 2064.4,201.2 2102.8,204.8 2138.8,208.6 2172.2,212.5 2203.1,216.6 2231.4,220.7 2256.8,225.0 2279.4,229.4 2299.2,233.9 2316.0,238.5 2329.8,243.1 2340.6,247.8 2348.3,252.5 2352.9,253.0 2354.5,253.0 L2349.8,253.0 2348.2,253.0 2343.6,252.6 2335.9,247.9 2325.2,243.3 2311.5,238.7 2294.7,234.2 2275.1,229.8 2252.5,225.4 2227.2,221.2 2199.1,217.0 2168.3,213.0 2135.0,209.1 2099.1,205.4 2060.9,201.8 2020.3,198.4 1977.6,195.2 1932.9,192.1 1886.1,189.3 1837.6,186.6 1787.4,184.1 1735.6,181.9 1682.5,179.9 1628.1,178.1 1572.6,176.5 1516.1,175.1 1458.9,174.0 1401.0,173.2 1342.6,172.6 1283.9,172.2 1225.0,172.1 1166.1,172.2 1107.4,172.6 1049.0,173.2 991.1,174.0 933.9,175.1 877.4,176.5 821.9,178.1 767.5,179.9 714.4,181.9 662.6,184.1 612.4,186.6 563.9,189.3 517.1,192.1 472.4,195.2 429.7,198.4 389.1,201.8 350.9,205.4 315.0,209.1 281.7,213.0 250.9,217.0 222.8,221.2 197.5,225.4 174.9,229.8 155.3,234.2 138.5,238.7 124.8,243.3 114.1,247.9 106.4,252.6 101.8,253.0 100.2,253.0ZM60.2,253.0 61.8,253.0 66.6,252.5 74.6,247.8 85.7,243.1 99.9,238.5 117.2,233.9 137.6,229.4 160.9,225.0 187.2,220.7 216.3,216.6 248.1,212.5 282.7,208.6 319.8,204.8 359.4,201.2 401.4,197.7 445.6,194.5 492.0,191.4 540.4,188.5 590.6,185.8 642.6,183.3 696.2,181.0 751.2,179.0 807.6,177.2 865.1,175.6 923.5,174.2 982.8,173.1 1042.8,172.2 1103.2,171.6 1164.0,171.2 1225.0,171.1 1286.0,171.2 1346.8,171.6 1407.2,172.2 1467.2,173.1 1526.5,174.2 1584.9,175.6 1642.4,177.2 1698.8,179.0 1753.8,181.0 1807.4,183.3 1859.4,185.8 1909.6,188.5 1958.0,191.4 2004.4,194.5 2048.6,197.7 2090.6,201.2 2130.2,204.8 2167.3,208.6 2201.9,212.5 2233.7,216.6 2262.8,220.7 2289.1,225.0 2312.4,229.4 2332.8,233.9 2350.1,238.5 2364.3,243.1 2375.4,247.8 2383.4,252.5 2388.2,253.0 2389.8,253.0 L2385.1,253.0 2383.5,253.0 2378.7,252.6 2370.8,247.9 2359.7,243.3 2345.6,238.7 2328.3,234.2 2308.0,229.8 2284.8,225.4 2258.7,221.2 2229.7,217.0 2197.9,213.0 2163.5,209.1 2126.6,205.4 2087.1,201.8 2045.3,198.4 2001.3,195.2 1955.1,192.1 1906.9,189.2 1856.8,186.6 1805.0,184.1 1751.7,181.9 1696.9,179.8 1640.7,178.0 1583.5,176.5 1525.3,175.1 1466.2,174.0 1406.5,173.2 1346.3,172.6 1285.7,172.2 1225.0,172.1 1164.3,172.2 1103.7,172.6 1043.5,173.2 983.8,174.0 924.7,175.1 866.5,176.5 809.3,178.0 753.1,179.8 698.3,181.9 645.0,184.1 593.2,186.6 543.1,189.2 494.9,192.1 448.7,195.2 404.7,198.4 362.9,201.8 323.4,205.4 286.5,209.1 252.1,213.0 220.3,217.0 191.3,221.2 165.2,225.4 142.0,229.8 121.7,234.2 104.4,238.7 90.3,243.3 79.2,247.9 71.3,252.6 66.5,253.0 64.9,253.0ZM24.9,253.0 26.6,253.0 31.5,252.5 39.7,247.8 51.1,243.1 65.8,238.5 83.6,233.9 104.6,229.4 128.7,225.0 155.7,220.7 185.7,216.6 218.5,212.5 254.1,208.6 292.4,204.8 333.2,201.2 376.4,197.7 422.0,194.5 469.8,191.4 519.6,188.5 571.4,185.8 625.0,183.3 680.2,181.0 736.9,179.0 794.9,177.1 854.2,175.6 914.4,174.2 975.5,173.1 1037.3,172.2 1099.6,171.6 1162.2,171.2 1225.0,171.1 1287.8,171.2 1350.4,171.6 1412.7,172.2 1474.5,173.1 1535.6,174.2 1595.8,175.6 1655.1,177.1 1713.1,179.0 1769.8,181.0 1825.0,183.3 1878.6,185.8 1930.4,188.5 1980.2,191.4 2028.0,194.5 2073.6,197.7 2116.8,201.2 2157.6,204.8 2195.9,208.6 2231.5,212.5 2264.3,216.6 2294.3,220.7 2321.3,225.0 2345.4,229.4 2366.4,233.9 2384.2,238.5 2398.9,243.1 2410.3,247.8 2418.5,252.5 2423.4,253.0 2425.1,253.0 L2420.4,253.0 2418.8,253.0 2413.9,252.6 2405.7,247.9 2394.3,243.3 2379.7,238.7 2361.9,234.2 2341.0,229.8 2317.1,225.4 2290.1,221.2 2260.3,217.0 2227.6,213.0 2192.1,209.1 2154.0,205.4 2113.4,201.8 2070.3,198.4 2024.9,195.2 1977.3,192.1 1927.6,189.2 1876.1,186.6 1822.7,184.1 1767.7,181.9 1711.2,179.8 1653.4,178.0 1594.4,176.5 1534.4,175.1 1473.5,174.0 1412.0,173.2 1350.0,172.6 1287.6,172.2 1225.0,172.1 1162.4,172.2 1100.0,172.6 1038.0,173.2 976.5,174.0 915.6,175.1 855.6,176.5 796.6,178.0 738.8,179.8 682.3,181.9 627.3,184.1 573.9,186.6 522.4,189.2 472.7,192.1 425.1,195.2 379.7,198.4 336.6,201.8 296.0,205.4 257.9,209.1 222.4,213.0 189.7,217.0 159.9,221.2 132.9,225.4 109.0,229.8 88.1,234.2 70.3,238.7 55.7,243.3 44.3,247.9 36.1,252.6 31.2,253.0 29.6,253.0ZM-10.4,253.0 -8.7,253.0 -3.6,252.5 4.8,247.8 16.6,243.1 31.7,238.5 50.1,233.9 71.7,229.4 96.4,225.0 124.3,220.7 155.1,216.5 188.9,212.5 225.5,208.6 264.9,204.8 306.9,201.2 351.4,197.7 398.4,194.4 447.5,191.4 498.9,188.5 552.2,185.8 607.3,183.3 664.1,181.0 722.5,179.0 782.3,177.1 843.2,175.6 905.3,174.2 968.1,173.1 1031.7,172.2 1095.9,171.6 1160.3,171.2 1225.0,171.1 1289.7,171.2 1354.1,171.6 1418.3,172.2 1481.9,173.1 1544.7,174.2 1606.8,175.6 1667.7,177.1 1727.5,179.0 1785.9,181.0 1842.7,183.3 1897.8,185.8 1951.1,188.5 2002.5,191.4 2051.6,194.4 2098.6,197.7 2143.1,201.2 2185.1,204.8 2224.5,208.6 2261.1,212.5 2294.9,216.5 2325.7,220.7 2353.6,225.0 2378.3,229.4 2399.9,233.9 2418.3,238.5 2433.4,243.1 2445.2,247.8 2453.6,252.5 2458.7,253.0 2460.4,253.0 L2455.7,253.0 2454.0,253.0 2449.0,252.6 2440.6,247.9 2428.8,243.3 2413.8,238.7 2395.5,234.2 2374.0,229.8 2349.3,225.4 2321.6,221.2 2290.8,217.0 2257.2,213.0 2220.7,209.1 2181.4,205.4 2139.6,201.8 2095.2,198.4 2048.5,195.2 1999.5,192.1 1948.4,189.2 1895.3,186.6 1840.4,184.1 1783.7,181.9 1725.6,179.8 1666.0,178.0 1605.3,176.5 1543.5,175.1 1480.9,174.0 1417.5,173.2 1353.6,172.6 1289.4,172.2 1225.0,172.1 1160.6,172.2 1096.4,172.6 1032.5,173.2 969.1,174.0 906.5,175.1 844.7,176.5 784.0,178.0 724.4,179.8 666.3,181.9 609.6,184.1 554.7,186.6 501.6,189.2 450.5,192.1 401.5,195.2 354.8,198.4 310.4,201.8 268.6,205.4 229.3,209.1 192.8,213.0 159.2,217.0 128.4,221.2 100.7,225.4 76.0,229.8 54.5,234.2 36.2,238.7 21.2,243.3 9.4,247.9 1.0,252.6 -4.0,253.0 -5.7,253.0ZM-45.7,253.0 -44.0,253.0 -38.7,252.5 -30.1,247.8 -17.9,243.1 -2.4,238.5 16.5,233.9 38.7,229.4 64.2,225.0 92.8,220.7 124.5,216.5 159.3,212.5 197.0,208.6 237.5,204.8 280.7,201.2 326.5,197.7 374.7,194.4 425.3,191.4 478.1,188.5 532.9,185.8 589.6,183.3 648.1,181.0 708.2,179.0 769.6,177.1 832.3,175.5 896.1,174.2 960.8,173.1 1026.2,172.2 1092.2,171.6 1158.5,171.2 1225.0,171.1 1291.5,171.2 1357.8,171.6 1423.8,172.2 1489.2,173.1 1553.9,174.2 1617.7,175.5 1680.4,177.1 1741.8,179.0 1801.9,181.0 1860.4,183.3 1917.1,185.8 1971.9,188.5 2024.7,191.4 2075.3,194.4 2123.5,197.7 2169.3,201.2 2212.5,204.8 2253.0,208.6 2290.7,212.5 2325.5,216.5 2357.2,220.7 2385.8,225.0 2411.3,229.4 2433.5,233.9 2452.4,238.5 2467.9,243.1 2480.1,247.8 2488.7,252.5 2494.0,253.0 2495.7,253.0 L2491.0,253.0 2489.3,253.0 2484.1,252.6 2475.4,247.9 2463.4,243.3 2447.9,238.7 2429.1,234.2 2406.9,229.8 2381.6,225.4 2353.0,221.2 2321.4,217.0 2286.8,213.0 2249.2,209.1 2208.9,205.4 2165.8,201.8 2120.2,198.4 2072.1,195.2 2021.7,192.1 1969.2,189.2 1914.5,186.6 1858.0,184.1 1799.8,181.9 1739.9,179.8 1678.7,178.0 1616.2,176.5 1552.7,175.1 1488.2,174.0 1423.1,173.2 1357.3,172.6 1291.3,172.2 1225.0,172.1 1158.7,172.2 1092.7,172.6 1026.9,173.2 961.8,174.0 897.3,175.1 833.8,176.5 771.3,178.0 710.1,179.8 650.2,181.9 592.0,184.1 535.5,186.6 480.8,189.2 428.3,192.1 377.9,195.2 329.8,198.4 284.2,201.8 241.1,205.4 200.8,209.1 163.2,213.0 128.6,217.0 97.0,221.2 68.4,225.4 43.1,229.8 20.9,234.2 2.1,238.7 -13.4,243.3 -25.4,247.9 -34.1,252.6 -39.3,253.0 -41.0,253.0ZM-81.0,253.0 -79.2,253.0 -73.9,252.5 -64.9,247.8 -52.5,243.1 -36.5,238.5 -17.1,233.9 5.7,229.4 31.9,225.0 61.3,220.7 94.0,216.5 129.7,212.5 168.4,208.6 210.0,204.8 254.4,201.2 301.5,197.7 351.1,194.4 403.1,191.4 457.3,188.5 513.7,185.8 572.0,183.3 632.1,181.0 693.8,179.0 757.0,177.1 821.4,175.5 887.0,174.2 953.5,173.1 1020.7,172.2 1088.5,171.6 1156.6,171.2 1225.0,171.1 1293.4,171.2 1361.5,171.6 1429.3,172.2 1496.5,173.1 1563.0,174.2 1628.6,175.5 1693.0,177.1 1756.2,179.0 1817.9,181.0 1878.0,183.3 1936.3,185.8 1992.7,188.5 2046.9,191.4 2098.9,194.4 2148.5,197.7 2195.6,201.2 2240.0,204.8 2281.6,208.6 2320.3,212.5 2356.0,216.5 2388.7,220.7 2418.1,225.0 2444.3,229.4 2467.1,233.9 2486.5,238.5 2502.5,243.1 2514.9,247.8 2523.9,252.5 2529.2,253.0 2531.0,253.0 L2526.3,253.0 2524.6,253.0 2519.2,252.6 2510.3,247.9 2497.9,243.3 2482.0,238.7 2462.6,234.2 2439.9,229.8 2413.8,225.4 2384.5,221.2 2352.0,217.0 2316.4,213.0 2277.8,209.1 2236.3,205.4 2192.1,201.8 2145.2,198.4 2095.8,195.2 2044.0,192.1 1989.9,189.2 1933.8,186.6 1875.7,184.1 1815.8,181.9 1754.3,179.8 1691.4,178.0 1627.1,176.5 1561.8,175.1 1495.6,174.0 1428.6,173.2 1361.0,172.5 1293.1,172.2 1225.0,172.1 1156.9,172.2 1089.0,172.5 1021.4,173.2 954.4,174.0 888.2,175.1 822.9,176.5 758.6,178.0 695.7,179.8 634.2,181.9 574.3,184.1 516.2,186.6 460.1,189.2 406.0,192.1 354.2,195.2 304.8,198.4 257.9,201.8 213.7,205.4 172.2,209.1 133.6,213.0 98.0,217.0 65.5,221.2 36.2,225.4 10.1,229.8 -12.6,234.2 -32.0,238.7 -47.9,243.3 -60.3,247.9 -69.2,252.6 -74.6,253.0 -76.3,253.0ZM-116.3,253.0 -114.5,253.0 -109.0,252.5 -99.8,247.8 -87.0,243.1 -70.6,238.5 -50.7,233.9 -27.2,229.4 -0.4,225.0 29.9,220.7 63.4,216.5 100.1,212.5 139.8,208.6 182.6,204.8 228.2,201.2 276.5,197.7 327.5,194.4 380.9,191.4 436.6,188.5 494.5,185.8 554.3,183.3 616.1,181.0 679.4,179.0 744.3,177.1 810.5,175.5 877.8,174.2 946.1,173.1 1015.2,172.2 1084.8,171.6 1154.8,171.2 1225.0,171.1 1295.2,171.2 1365.2,171.6 1434.8,172.2 1503.9,173.1 1572.2,174.2 1639.5,175.5 1705.7,177.1 1770.6,179.0 1833.9,181.0 1895.7,183.3 1955.5,185.8 2013.4,188.5 2069.1,191.4 2122.5,194.4 2173.5,197.7 2221.8,201.2 2267.4,204.8 2310.2,208.6 2349.9,212.5 2386.6,216.5 2420.1,220.7 2450.4,225.0 2477.2,229.4 2500.7,233.9 2520.6,238.5 2537.0,243.1 2549.8,247.8 2559.0,252.5 2564.5,253.0 2566.3,253.0 L2561.6,253.0 2559.8,253.0 2554.3,252.6 2545.2,247.9 2532.4,243.3 2516.1,238.7 2496.2,234.2 2472.9,229.8 2446.1,225.4 2416.0,221.2 2382.6,217.0 2346.0,213.0 2306.4,209.1 2263.8,205.4 2218.3,201.8 2170.2,198.4 2119.4,195.2 2066.2,192.1 2010.7,189.2 1953.0,186.6 1893.3,184.1 1831.8,181.9 1768.7,179.8 1704.0,178.0 1638.0,176.5 1570.9,175.1 1502.9,174.0 1434.1,173.2 1364.7,172.5 1295.0,172.2 1225.0,172.1 1155.0,172.2 1085.3,172.5 1015.9,173.2 947.1,174.0 879.1,175.1 812.0,176.5 746.0,178.0 681.3,179.8 618.2,181.9 556.7,184.1 497.0,186.6 439.3,189.2 383.8,192.1 330.6,195.2 279.8,198.4 231.7,201.8 186.2,205.4 143.6,209.1 104.0,213.0 67.4,217.0 34.0,221.2 3.9,225.4 -22.9,229.8 -46.2,234.2 -66.1,238.7 -82.4,243.3 -95.2,247.9 -104.3,252.6 -109.8,253.0 -111.6,253.0ZM-151.6,253.0 -149.7,253.0 -144.1,252.5 -134.7,247.8 -121.6,243.1 -104.7,238.5 -84.3,233.9 -60.2,229.4 -32.6,225.0 -1.6,220.7 32.8,216.5 70.5,212.5 111.3,208.6 155.2,204.8 202.0,201.2 251.6,197.7 303.9,194.4 358.7,191.3 415.8,188.5 475.2,185.8 536.7,183.3 600.0,181.0 665.1,179.0 731.7,177.1 799.6,175.5 868.7,174.2 938.8,173.1 1009.6,172.2 1081.1,171.6 1153.0,171.2 1225.0,171.1 1297.0,171.2 1368.9,171.6 1440.4,172.2 1511.2,173.1 1581.3,174.2 1650.4,175.5 1718.3,177.1 1784.9,179.0 1850.0,181.0 1913.3,183.3 1974.8,185.8 2034.2,188.5 2091.3,191.3 2146.1,194.4 2198.4,197.7 2248.0,201.2 2294.8,204.8 2338.7,208.6 2379.5,212.5 2417.2,216.5 2451.6,220.7 2482.6,225.0 2510.2,229.4 2534.3,233.9 2554.7,238.5 2571.6,243.1 2584.7,247.8 2594.1,252.5 2599.7,253.0 2601.6,253.0 L2597.0,253.0 2595.1,253.0 2589.4,252.6 2580.1,247.9 2567.0,243.3 2550.2,238.7 2529.8,234.2 2505.8,229.8 2478.3,225.4 2447.4,221.2 2413.1,217.0 2375.6,213.0 2334.9,209.1 2291.2,205.4 2244.6,201.8 2195.1,198.4 2143.0,195.2 2088.4,192.1 2031.4,189.2 1972.2,186.6 1911.0,184.1 1847.9,181.9 1783.0,179.8 1716.7,178.0 1649.0,176.5 1580.1,175.1 1510.2,174.0 1439.6,173.2 1368.4,172.5 1296.8,172.2 1225.0,172.1 1153.2,172.2 1081.6,172.5 1010.4,173.2 939.8,174.0 869.9,175.1 801.0,176.5 733.3,178.0 667.0,179.8 602.1,181.9 539.0,184.1 477.8,186.6 418.6,189.2 361.6,192.1 307.0,195.2 254.9,198.4 205.4,201.8 158.8,205.4 115.1,209.1 74.4,213.0 36.9,217.0 2.6,221.2 -28.3,225.4 -55.8,229.8 -79.8,234.2 -100.2,238.7 -117.0,243.3 -130.1,247.9 -139.4,252.6 -145.1,253.0 -147.0,253.0Z" opacity="0.75"/>
<rect x="600" y="170" width="600" height="9" fill="#bcb06e" opacity="0.55"/>
</g>
<path fill="#cfae74" d="M95.3 193.0a5.8 4.2 0 1 0 11.6 0a5.8 4.2 0 1 0 -11.6 0M85.4 193.6a6.0 4.3 0 1 0 11.9 0a6.0 4.3 0 1 0 -11.9 0M72.2 194.4a4.8 3.5 0 1 0 9.6 0a4.8 3.5 0 1 0 -9.6 0M154.6 195.5a6.0 4.3 0 1 0 12.0 0a6.0 4.3 0 1 0 -12.0 0M231.5 197.3a6.1 4.4 0 1 0 12.2 0a6.1 4.4 0 1 0 -12.2 0"/>
<path fill="#dcc08a" d="M119.1 193.2a6.0 4.3 0 1 0 11.9 0a6.0 4.3 0 1 0 -11.9 0M121.3 196.4a4.7 3.4 0 1 0 9.5 0a4.7 3.4 0 1 0 -9.5 0M235.0 196.5a5.1 3.6 0 1 0 10.1 0a5.1 3.6 0 1 0 -10.1 0"/>
<path fill="#c6a266" d="M72.4 193.3a4.7 3.4 0 1 0 9.4 0a4.7 3.4 0 1 0 -9.4 0M84.4 194.0a5.7 4.1 0 1 0 11.3 0a5.7 4.1 0 1 0 -11.3 0M117.3 194.7a5.6 4.1 0 1 0 11.3 0a5.6 4.1 0 1 0 -11.3 0M113.4 195.1a5.3 3.8 0 1 0 10.6 0a5.3 3.8 0 1 0 -10.6 0M155.4 196.1a6.1 4.4 0 1 0 12.2 0a6.1 4.4 0 1 0 -12.2 0M229.7 196.4a5.8 4.2 0 1 0 11.6 0a5.8 4.2 0 1 0 -11.6 0M194.5 196.6a6.2 4.5 0 1 0 12.5 0a6.2 4.5 0 1 0 -12.5 0M73.7 196.9a5.7 4.1 0 1 0 11.3 0a5.7 4.1 0 1 0 -11.3 0M69.7 197.2a6.2 4.4 0 1 0 12.3 0a6.2 4.4 0 1 0 -12.3 0M62.9 197.9a6.0 4.3 0 1 0 11.9 0a6.0 4.3 0 1 0 -11.9 0M148.5 198.0a5.1 3.7 0 1 0 10.3 0a5.1 3.7 0 1 0 -10.3 0"/>
<path fill="#cba86e" d="M49.6 194.3a6.1 4.4 0 1 0 12.1 0a6.1 4.4 0 1 0 -12.1 0M151.9 194.6a5.9 4.3 0 1 0 11.9 0a5.9 4.3 0 1 0 -11.9 0M210.2 195.5a5.9 4.2 0 1 0 11.7 0a5.9 4.2 0 1 0 -11.7 0M96.3 195.6a5.3 3.8 0 1 0 10.5 0a5.3 3.8 0 1 0 -10.5 0M209.0 195.8a5.1 3.7 0 1 0 10.3 0a5.1 3.7 0 1 0 -10.3 0M120.7 196.5a6.3 4.5 0 1 0 12.6 0a6.3 4.5 0 1 0 -12.6 0M113.4 197.8a5.1 3.7 0 1 0 10.2 0a5.1 3.7 0 1 0 -10.2 0M101.2 197.8a6.2 4.4 0 1 0 12.4 0a6.2 4.4 0 1 0 -12.4 0"/>
<path fill="#d6b880" d="M129.0 195.7a4.7 3.4 0 1 0 9.3 0a4.7 3.4 0 1 0 -9.3 0M216.3 195.9a4.8 3.4 0 1 0 9.6 0a4.8 3.4 0 1 0 -9.6 0M83.4 198.2a6.1 4.4 0 1 0 12.3 0a6.1 4.4 0 1 0 -12.3 0"/>
<path fill="#4a2511" d="M75.7 193.9a2.4 1.7 0 1 0 4.9 0a2.4 1.7 0 1 0 -4.9 0M53.8 194.9a3.2 2.2 0 1 0 6.3 0a3.2 2.2 0 1 0 -6.3 0M120.3 195.1a2.9 2.0 0 1 0 5.9 0a2.9 2.0 0 1 0 -5.9 0M114.5 194.8a2.8 1.9 0 1 0 5.5 0a2.8 1.9 0 1 0 -5.5 0M157.0 195.4a3.1 2.2 0 1 0 6.3 0a3.1 2.2 0 1 0 -6.3 0M74.9 197.0a2.9 2.0 0 1 0 5.9 0a2.9 2.0 0 1 0 -5.9 0M73.0 197.3a3.2 2.2 0 1 0 6.4 0a3.2 2.2 0 1 0 -6.4 0M114.5 197.9a2.6 1.8 0 1 0 5.3 0a2.6 1.8 0 1 0 -5.3 0"/>
<path fill="#d6b880" d="M94.6 198.5a5.1 3.7 0 1 0 10.3 0a5.1 3.7 0 1 0 -10.3 0M131.3 198.8a5.3 3.8 0 1 0 10.6 0a5.3 3.8 0 1 0 -10.6 0M182.4 200.0a5.6 4.0 0 1 0 11.1 0a5.6 4.0 0 1 0 -11.1 0M230.6 200.7a5.1 3.7 0 1 0 10.3 0a5.1 3.7 0 1 0 -10.3 0M196.7 201.6a6.0 4.3 0 1 0 12.1 0a6.0 4.3 0 1 0 -12.1 0M187.6 202.1a5.0 3.6 0 1 0 10.0 0a5.0 3.6 0 1 0 -10.0 0M217.9 202.7a4.9 3.6 0 1 0 9.9 0a4.9 3.6 0 1 0 -9.9 0M226.0 203.3a5.9 4.2 0 1 0 11.8 0a5.9 4.2 0 1 0 -11.8 0"/>
<path fill="#c6a266" d="M70.8 198.6a5.2 3.8 0 1 0 10.4 0a5.2 3.8 0 1 0 -10.4 0M127.0 199.0a4.7 3.4 0 1 0 9.4 0a4.7 3.4 0 1 0 -9.4 0M161.6 199.2a5.0 3.6 0 1 0 10.0 0a5.0 3.6 0 1 0 -10.0 0M245.5 199.5a5.2 3.7 0 1 0 10.4 0a5.2 3.7 0 1 0 -10.4 0M234.8 200.7a5.1 3.7 0 1 0 10.2 0a5.1 3.7 0 1 0 -10.2 0M66.7 201.3a5.6 4.0 0 1 0 11.2 0a5.6 4.0 0 1 0 -11.2 0M188.7 201.9a5.8 4.2 0 1 0 11.6 0a5.8 4.2 0 1 0 -11.6 0M84.5 202.1a6.0 4.3 0 1 0 12.1 0a6.0 4.3 0 1 0 -12.1 0M69.5 202.4a4.8 3.5 0 1 0 9.6 0a4.8 3.5 0 1 0 -9.6 0M50.1 202.6a5.9 4.3 0 1 0 11.9 0a5.9 4.3 0 1 0 -11.9 0"/>
<path fill="#dcc08a" d="M196.9 199.0a6.0 4.3 0 1 0 12.0 0a6.0 4.3 0 1 0 -12.0 0M166.9 199.3a5.4 3.9 0 1 0 10.8 0a5.4 3.9 0 1 0 -10.8 0M96.5 199.6a5.7 4.1 0 1 0 11.3 0a5.7 4.1 0 1 0 -11.3 0M204.4 201.1a5.3 3.8 0 1 0 10.6 0a5.3 3.8 0 1 0 -10.6 0M206.4 202.1a5.8 4.2 0 1 0 11.5 0a5.8 4.2 0 1 0 -11.5 0M212.8 202.3a6.1 4.4 0 1 0 12.1 0a6.1 4.4 0 1 0 -12.1 0M186.4 202.9a6.0 4.3 0 1 0 12.0 0a6.0 4.3 0 1 0 -12.0 0M203.2 202.9a5.3 3.8 0 1 0 10.6 0a5.3 3.8 0 1 0 -10.6 0"/>
<path fill="#cfae74" d="M73.8 199.2a4.9 3.6 0 1 0 9.9 0a4.9 3.6 0 1 0 -9.9 0M249.6 202.5a4.8 3.5 0 1 0 9.6 0a4.8 3.5 0 1 0 -9.6 0M272.8 203.1a5.7 4.1 0 1 0 11.3 0a5.7 4.1 0 1 0 -11.3 0"/>
<path fill="#cba86e" d="M81.4 200.8a6.2 4.4 0 1 0 12.3 0a6.2 4.4 0 1 0 -12.3 0"/>
<path fill="#4a2511" d="M134.9 198.6a2.8 1.9 0 1 0 5.5 0a2.8 1.9 0 1 0 -5.5 0M76.9 198.8a2.6 1.8 0 1 0 5.1 0a2.6 1.8 0 1 0 -5.1 0M248.2 199.5a2.7 1.9 0 1 0 5.4 0a2.7 1.9 0 1 0 -5.4 0M183.6 200.4a2.9 2.0 0 1 0 5.8 0a2.9 2.0 0 1 0 -5.8 0M232.2 201.1a2.7 1.9 0 1 0 5.3 0a2.7 1.9 0 1 0 -5.3 0M238.8 200.5a2.6 1.8 0 1 0 5.3 0a2.6 1.8 0 1 0 -5.3 0M190.0 202.5a3.0 2.1 0 1 0 6.0 0a3.0 2.1 0 1 0 -6.0 0M190.6 202.4a2.6 1.8 0 1 0 5.2 0a2.6 1.8 0 1 0 -5.2 0M207.8 202.6a3.0 2.1 0 1 0 6.0 0a3.0 2.1 0 1 0 -6.0 0M88.3 202.2a3.1 2.2 0 1 0 6.3 0a3.1 2.2 0 1 0 -6.3 0M253.1 202.2a2.5 1.7 0 1 0 5.0 0a2.5 1.7 0 1 0 -5.0 0M53.6 202.2a3.1 2.1 0 1 0 6.2 0a3.1 2.1 0 1 0 -6.2 0M188.8 203.5a3.1 2.2 0 1 0 6.2 0a3.1 2.2 0 1 0 -6.2 0"/>
<path fill="#cfae74" d="M225.1 203.3a5.6 4.0 0 1 0 11.2 0a5.6 4.0 0 1 0 -11.2 0M76.1 204.0a5.8 4.2 0 1 0 11.6 0a5.8 4.2 0 1 0 -11.6 0M261.6 204.5a4.7 3.4 0 1 0 9.4 0a4.7 3.4 0 1 0 -9.4 0M234.4 205.0a6.2 4.5 0 1 0 12.4 0a6.2 4.5 0 1 0 -12.4 0M10.7 205.1a5.5 4.0 0 1 0 11.1 0a5.5 4.0 0 1 0 -11.1 0M214.5 205.4a4.9 3.5 0 1 0 9.7 0a4.9 3.5 0 1 0 -9.7 0M197.4 207.4a5.2 3.7 0 1 0 10.3 0a5.2 3.7 0 1 0 -10.3 0M6.8 207.7a5.0 3.6 0 1 0 10.0 0a5.0 3.6 0 1 0 -10.0 0M244.4 207.9a6.0 4.3 0 1 0 12.0 0a6.0 4.3 0 1 0 -12.0 0"/>
<path fill="#dcc08a" d="M235.1 203.6a4.6 3.3 0 1 0 9.3 0a4.6 3.3 0 1 0 -9.3 0M31.6 204.8a6.1 4.4 0 1 0 12.3 0a6.1 4.4 0 1 0 -12.3 0M15.5 205.1a5.8 4.2 0 1 0 11.6 0a5.8 4.2 0 1 0 -11.6 0M40.1 207.9a4.8 3.5 0 1 0 9.7 0a4.8 3.5 0 1 0 -9.7 0M23.7 208.7a5.1 3.6 0 1 0 10.1 0a5.1 3.6 0 1 0 -10.1 0"/>
<path fill="#cba86e" d="M210.9 204.9a5.7 4.1 0 1 0 11.5 0a5.7 4.1 0 1 0 -11.5 0M26.3 205.5a4.6 3.3 0 1 0 9.2 0a4.6 3.3 0 1 0 -9.2 0M70.5 206.5a6.2 4.5 0 1 0 12.5 0a6.2 4.5 0 1 0 -12.5 0M231.3 207.7a5.4 3.9 0 1 0 10.8 0a5.4 3.9 0 1 0 -10.8 0M1.1 208.5a5.2 3.8 0 1 0 10.5 0a5.2 3.8 0 1 0 -10.5 0M10.5 208.7a6.0 4.3 0 1 0 11.9 0a6.0 4.3 0 1 0 -11.9 0"/>
<path fill="#d6b880" d="M72.4 205.2a5.3 3.8 0 1 0 10.5 0a5.3 3.8 0 1 0 -10.5 0M89.9 207.2a5.6 4.1 0 1 0 11.3 0a5.6 4.1 0 1 0 -11.3 0M3.0 207.3a5.6 4.0 0 1 0 11.1 0a5.6 4.0 0 1 0 -11.1 0M189.6 207.7a6.3 4.5 0 1 0 12.6 0a6.3 4.5 0 1 0 -12.6 0"/>
<path fill="#c6a266" d="M273.4 205.3a5.9 4.2 0 1 0 11.8 0a5.9 4.2 0 1 0 -11.8 0M67.5 206.1a6.1 4.4 0 1 0 12.2 0a6.1 4.4 0 1 0 -12.2 0M217.9 207.1a5.3 3.8 0 1 0 10.6 0a5.3 3.8 0 1 0 -10.6 0M216.4 208.2a5.6 4.0 0 1 0 11.1 0a5.6 4.0 0 1 0 -11.1 0M21.3 208.8a5.2 3.8 0 1 0 10.5 0a5.2 3.8 0 1 0 -10.5 0M224.9 209.0a5.0 3.6 0 1 0 10.0 0a5.0 3.6 0 1 0 -10.0 0"/>
<path fill="#4a2511" d="M227.8 203.1a2.9 2.0 0 1 0 5.8 0a2.9 2.0 0 1 0 -5.8 0M80.1 203.6a3.0 2.1 0 1 0 6.1 0a3.0 2.1 0 1 0 -6.1 0M263.8 204.2a2.5 1.7 0 1 0 4.9 0a2.5 1.7 0 1 0 -4.9 0M33.7 205.0a3.2 2.2 0 1 0 6.4 0a3.2 2.2 0 1 0 -6.4 0M12.5 205.8a2.9 2.0 0 1 0 5.8 0a2.9 2.0 0 1 0 -5.8 0M215.6 204.9a2.5 1.7 0 1 0 5.1 0a2.5 1.7 0 1 0 -5.1 0M29.4 206.3a2.4 1.7 0 1 0 4.8 0a2.4 1.7 0 1 0 -4.8 0M71.0 206.4a3.2 2.2 0 1 0 6.3 0a3.2 2.2 0 1 0 -6.3 0M73.0 206.5a3.2 2.2 0 1 0 6.5 0a3.2 2.2 0 1 0 -6.5 0M219.9 207.1a2.8 1.9 0 1 0 5.5 0a2.8 1.9 0 1 0 -5.5 0M92.2 207.2a2.9 2.0 0 1 0 5.9 0a2.9 2.0 0 1 0 -5.9 0M199.9 208.2a2.7 1.9 0 1 0 5.4 0a2.7 1.9 0 1 0 -5.4 0M9.6 207.3a2.6 1.8 0 1 0 5.2 0a2.6 1.8 0 1 0 -5.2 0M247.5 208.3a3.1 2.2 0 1 0 6.3 0a3.1 2.2 0 1 0 -6.3 0M4.3 209.1a2.7 1.9 0 1 0 5.4 0a2.7 1.9 0 1 0 -5.4 0M13.5 208.6a3.1 2.1 0 1 0 6.2 0a3.1 2.1 0 1 0 -6.2 0M24.8 209.5a2.6 1.8 0 1 0 5.3 0a2.6 1.8 0 1 0 -5.3 0M228.2 209.3a2.6 1.8 0 1 0 5.2 0a2.6 1.8 0 1 0 -5.2 0"/>
<path fill="#cba86e" d="M1.7 209.1a6.1 4.4 0 1 0 12.2 0a6.1 4.4 0 1 0 -12.2 0M213.5 210.5a5.2 3.7 0 1 0 10.4 0a5.2 3.7 0 1 0 -10.4 0M264.0 210.5a4.8 3.4 0 1 0 9.6 0a4.8 3.4 0 1 0 -9.6 0M48.2 210.7a5.5 4.0 0 1 0 11.1 0a5.5 4.0 0 1 0 -11.1 0"/>
<path fill="#c6a266" d="M197.4 209.2a6.0 4.3 0 1 0 12.1 0a6.0 4.3 0 1 0 -12.1 0M293.4 209.5a4.6 3.3 0 1 0 9.2 0a4.6 3.3 0 1 0 -9.2 0M11.5 209.7a4.7 3.4 0 1 0 9.4 0a4.7 3.4 0 1 0 -9.4 0M187.9 210.1a5.4 3.9 0 1 0 10.8 0a5.4 3.9 0 1 0 -10.8 0M-4.5 211.5a5.0 3.6 0 1 0 10.0 0a5.0 3.6 0 1 0 -10.0 0M181.8 211.5a4.8 3.5 0 1 0 9.7 0a4.8 3.5 0 1 0 -9.7 0M181.6 211.5a6.2 4.5 0 1 0 12.4 0a6.2 4.5 0 1 0 -12.4 0M234.3 212.0a5.6 4.1 0 1 0 11.3 0a5.6 4.1 0 1 0 -11.3 0"/>
<path fill="#dcc08a" d="M-2.7 209.5a4.9 3.5 0 1 0 9.8 0a4.9 3.5 0 1 0 -9.8 0M185.9 209.6a5.3 3.8 0 1 0 10.7 0a5.3 3.8 0 1 0 -10.7 0M240.7 209.8a6.0 4.3 0 1 0 12.0 0a6.0 4.3 0 1 0 -12.0 0M241.1 209.9a5.7 4.1 0 1 0 11.4 0a5.7 4.1 0 1 0 -11.4 0M277.8 211.5a5.9 4.2 0 1 0 11.7 0a5.9 4.2 0 1 0 -11.7 0M49.0 212.6a4.8 3.4 0 1 0 9.5 0a4.8 3.4 0 1 0 -9.5 0M196.1 212.9a5.7 4.1 0 1 0 11.4 0a5.7 4.1 0 1 0 -11.4 0"/>
<path fill="#d6b880" d="M-1.9 209.6a5.9 4.2 0 1 0 11.7 0a5.9 4.2 0 1 0 -11.7 0M183.8 209.7a5.5 4.0 0 1 0 11.1 0a5.5 4.0 0 1 0 -11.1 0M94.4 211.7a5.4 3.9 0 1 0 10.8 0a5.4 3.9 0 1 0 -10.8 0M279.3 213.1a6.1 4.4 0 1 0 12.2 0a6.1 4.4 0 1 0 -12.2 0"/>
<path fill="#cfae74" d="M22.7 209.9a6.1 4.4 0 1 0 12.2 0a6.1 4.4 0 1 0 -12.2 0M0.6 210.0a6.2 4.5 0 1 0 12.4 0a6.2 4.5 0 1 0 -12.4 0M286.6 210.4a5.1 3.7 0 1 0 10.3 0a5.1 3.7 0 1 0 -10.3 0M249.0 210.4a5.4 3.9 0 1 0 10.7 0a5.4 3.9 0 1 0 -10.7 0M55.4 210.9a4.9 3.6 0 1 0 9.9 0a4.9 3.6 0 1 0 -9.9 0M88.0 211.0a5.0 3.6 0 1 0 10.1 0a5.0 3.6 0 1 0 -10.1 0M42.0 211.3a5.1 3.7 0 1 0 10.2 0a5.1 3.7 0 1 0 -10.2 0"/>
<path fill="#4a2511" d="M1.7 209.6a3.0 2.1 0 1 0 6.1 0a3.0 2.1 0 1 0 -6.1 0M12.8 210.2a2.4 1.7 0 1 0 4.9 0a2.4 1.7 0 1 0 -4.9 0M244.9 210.4a3.1 2.2 0 1 0 6.3 0a3.1 2.2 0 1 0 -6.3 0M25.2 210.5a3.2 2.2 0 1 0 6.3 0a3.2 2.2 0 1 0 -6.3 0M242.8 209.8a3.0 2.1 0 1 0 5.9 0a3.0 2.1 0 1 0 -5.9 0M4.1 210.2a3.2 2.2 0 1 0 6.5 0a3.2 2.2 0 1 0 -6.5 0M288.4 210.5a2.7 1.8 0 1 0 5.3 0a2.7 1.8 0 1 0 -5.3 0M251.5 211.0a2.8 1.9 0 1 0 5.6 0a2.8 1.9 0 1 0 -5.6 0M216.5 210.5a2.7 1.9 0 1 0 5.4 0a2.7 1.9 0 1 0 -5.4 0M50.4 210.7a2.9 2.0 0 1 0 5.8 0a2.9 2.0 0 1 0 -5.8 0M185.6 211.1a3.2 2.2 0 1 0 6.5 0a3.2 2.2 0 1 0 -6.5 0M98.4 211.6a2.8 1.9 0 1 0 5.6 0a2.8 1.9 0 1 0 -5.6 0M50.0 213.1a2.5 1.7 0 1 0 4.9 0a2.5 1.7 0 1 0 -4.9 0M199.2 212.8a3.0 2.1 0 1 0 5.9 0a3.0 2.1 0 1 0 -5.9 0M282.5 213.8a3.2 2.2 0 1 0 6.3 0a3.2 2.2 0 1 0 -6.3 0"/>
<path fill="#d6b880" d="M235.6 213.1a5.7 4.1 0 1 0 11.4 0a5.7 4.1 0 1 0 -11.4 0M65.5 214.2a5.9 4.2 0 1 0 11.8 0a5.9 4.2 0 1 0 -11.8 0M26.5 214.7a4.6 3.3 0 1 0 9.2 0a4.6 3.3 0 1 0 -9.2 0M267.8 215.3a5.2 3.7 0 1 0 10.4 0a5.2 3.7 0 1 0 -10.4 0M309.6 215.6a5.5 4.0 0 1 0 11.1 0a5.5 4.0 0 1 0 -11.1 0M55.3 216.1a5.3 3.8 0 1 0 10.6 0a5.3 3.8 0 1 0 -10.6 0M58.8 216.2a5.6 4.0 0 1 0 11.1 0a5.6 4.0 0 1 0 -11.1 0"/>
<path fill="#cba86e" d="M233.1 213.2a5.8 4.2 0 1 0 11.6 0a5.8 4.2 0 1 0 -11.6 0M278.6 214.3a5.7 4.1 0 1 0 11.3 0a5.7 4.1 0 1 0 -11.3 0M64.3 215.4a4.8 3.5 0 1 0 9.6 0a4.8 3.5 0 1 0 -9.6 0M182.8 216.6a5.2 3.8 0 1 0 10.5 0a5.2 3.8 0 1 0 -10.5 0M313.7 216.7a6.2 4.4 0 1 0 12.3 0a6.2 4.4 0 1 0 -12.3 0M307.4 216.7a5.9 4.2 0 1 0 11.8 0a5.9 4.2 0 1 0 -11.8 0M204.3 217.1a4.6 3.3 0 1 0 9.2 0a4.6 3.3 0 1 0 -9.2 0"/>
<path fill="#cfae74" d="M94.7 213.4a4.7 3.4 0 1 0 9.5 0a4.7 3.4 0 1 0 -9.5 0M220.8 213.8a6.1 4.4 0 1 0 12.2 0a6.1 4.4 0 1 0 -12.2 0M268.5 214.2a6.2 4.5 0 1 0 12.5 0a6.2 4.5 0 1 0 -12.5 0M210.2 214.4a5.1 3.7 0 1 0 10.2 0a5.1 3.7 0 1 0 -10.2 0M305.2 214.5a6.0 4.3 0 1 0 11.9 0a6.0 4.3 0 1 0 -11.9 0M275.5 215.1a4.9 3.5 0 1 0 9.8 0a4.9 3.5 0 1 0 -9.8 0M206.0 215.8a6.3 4.5 0 1 0 12.5 0a6.3 4.5 0 1 0 -12.5 0M73.2 216.4a5.0 3.6 0 1 0 10.1 0a5.0 3.6 0 1 0 -10.1 0"/>
<path fill="#dcc08a" d="M28.6 213.6a5.3 3.8 0 1 0 10.6 0a5.3 3.8 0 1 0 -10.6 0M8.8 213.9a5.3 3.8 0 1 0 10.6 0a5.3 3.8 0 1 0 -10.6 0M17.1 213.9a4.9 3.5 0 1 0 9.7 0a4.9 3.5 0 1 0 -9.7 0M261.3 215.3a5.7 4.1 0 1 0 11.4 0a5.7 4.1 0 1 0 -11.4 0M15.7 215.6a5.6 4.1 0 1 0 11.3 0a5.6 4.1 0 1 0 -11.3 0M9.6 216.8a5.2 3.7 0 1 0 10.4 0a5.2 3.7 0 1 0 -10.4 0"/>
<path fill="#c6a266" d="M17.5 216.2a4.9 3.5 0 1 0 9.8 0a4.9 3.5 0 1 0 -9.8 0M227.4 216.6a4.7 3.4 0 1 0 9.4 0a4.7 3.4 0 1 0 -9.4 0"/>
<path fill="#4a2511" d="M236.4 213.1a3.0 2.1 0 1 0 6.0 0a3.0 2.1 0 1 0 -6.0 0M96.8 213.5a2.5 1.7 0 1 0 4.9 0a2.5 1.7 0 1 0 -4.9 0M223.9 214.5a3.2 2.2 0 1 0 6.3 0a3.2 2.2 0 1 0 -6.3 0M11.2 214.6a2.8 1.9 0 1 0 5.5 0a2.8 1.9 0 1 0 -5.5 0M18.3 214.4a2.5 1.7 0 1 0 5.0 0a2.5 1.7 0 1 0 -5.0 0M66.9 214.6a3.1 2.1 0 1 0 6.1 0a3.1 2.1 0 1 0 -6.1 0M281.0 214.4a2.9 2.0 0 1 0 5.9 0a2.9 2.0 0 1 0 -5.9 0M211.4 214.9a2.7 1.8 0 1 0 5.3 0a2.7 1.8 0 1 0 -5.3 0M56.9 216.8a2.7 1.9 0 1 0 5.5 0a2.7 1.9 0 1 0 -5.5 0M74.8 217.0a2.6 1.8 0 1 0 5.2 0a2.6 1.8 0 1 0 -5.2 0M186.4 216.9a2.7 1.9 0 1 0 5.4 0a2.7 1.9 0 1 0 -5.4 0M230.8 217.1a2.5 1.7 0 1 0 4.9 0a2.5 1.7 0 1 0 -4.9 0M315.8 216.2a3.2 2.2 0 1 0 6.4 0a3.2 2.2 0 1 0 -6.4 0M207.8 217.1a2.4 1.7 0 1 0 4.8 0a2.4 1.7 0 1 0 -4.8 0"/>
<path fill="#dcc08a" d="M303.2 217.2a6.2 4.5 0 1 0 12.4 0a6.2 4.5 0 1 0 -12.4 0M92.0 217.8a5.3 3.8 0 1 0 10.6 0a5.3 3.8 0 1 0 -10.6 0M207.8 218.0a5.5 3.9 0 1 0 10.9 0a5.5 3.9 0 1 0 -10.9 0M207.2 219.1a5.0 3.6 0 1 0 10.0 0a5.0 3.6 0 1 0 -10.0 0M68.5 219.6a5.5 3.9 0 1 0 11.0 0a5.5 3.9 0 1 0 -11.0 0M61.0 219.6a4.8 3.5 0 1 0 9.6 0a4.8 3.5 0 1 0 -9.6 0M229.4 220.9a6.0 4.3 0 1 0 12.1 0a6.0 4.3 0 1 0 -12.1 0"/>
<path fill="#cba86e" d="M42.5 217.2a5.0 3.6 0 1 0 10.0 0a5.0 3.6 0 1 0 -10.0 0M-1.4 217.8a5.9 4.2 0 1 0 11.7 0a5.9 4.2 0 1 0 -11.7 0M183.5 218.1a5.9 4.2 0 1 0 11.7 0a5.9 4.2 0 1 0 -11.7 0M279.2 218.4a5.0 3.6 0 1 0 10.0 0a5.0 3.6 0 1 0 -10.0 0M285.9 218.8a5.7 4.1 0 1 0 11.4 0a5.7 4.1 0 1 0 -11.4 0M52.9 221.1a6.2 4.5 0 1 0 12.4 0a6.2 4.5 0 1 0 -12.4 0"/>
<path fill="#c6a266" d="M196.8 217.3a5.9 4.2 0 1 0 11.8 0a5.9 4.2 0 1 0 -11.8 0M267.9 217.5a5.2 3.7 0 1 0 10.4 0a5.2 3.7 0 1 0 -10.4 0M31.0 218.7a6.0 4.3 0 1 0 12.0 0a6.0 4.3 0 1 0 -12.0 0M220.5 220.4a6.0 4.3 0 1 0 11.9 0a6.0 4.3 0 1 0 -11.9 0M313.5 220.9a6.0 4.3 0 1 0 11.9 0a6.0 4.3 0 1 0 -11.9 0"/>
<path fill="#d6b880" d="M200.6 217.6a6.0 4.3 0 1 0 12.0 0a6.0 4.3 0 1 0 -12.0 0M-4.1 218.5a5.0 3.6 0 1 0 10.0 0a5.0 3.6 0 1 0 -10.0 0M57.0 218.9a4.8 3.4 0 1 0 9.5 0a4.8 3.4 0 1 0 -9.5 0M99.6 219.0a5.7 4.1 0 1 0 11.3 0a5.7 4.1 0 1 0 -11.3 0M241.5 219.7a6.3 4.5 0 1 0 12.6 0a6.3 4.5 0 1 0 -12.6 0M0.2 219.9a6.1 4.4 0 1 0 12.2 0a6.1 4.4 0 1 0 -12.2 0M9.3 220.0a5.3 3.8 0 1 0 10.6 0a5.3 3.8 0 1 0 -10.6 0M254.7 220.6a5.9 4.3 0 1 0 11.9 0a5.9 4.3 0 1 0 -11.9 0M12.7 220.9a5.5 3.9 0 1 0 11.0 0a5.5 3.9 0 1 0 -11.0 0M309.3 221.1a4.9 3.5 0 1 0 9.8 0a4.9 3.5 0 1 0 -9.8 0"/>
<path fill="#cfae74" d="M1.6 218.1a5.6 4.1 0 1 0 11.3 0a5.6 4.1 0 1 0 -11.3 0M237.4 218.2a5.4 3.9 0 1 0 10.8 0a5.4 3.9 0 1 0 -10.8 0"/>
<path fill="#4a2511" d="M198.3 218.0a3.1 2.1 0 1 0 6.1 0a3.1 2.1 0 1 0 -6.1 0M269.5 217.6a2.7 1.9 0 1 0 5.4 0a2.7 1.9 0 1 0 -5.4 0M209.5 217.7a2.8 2.0 0 1 0 5.7 0a2.8 2.0 0 1 0 -5.7 0M5.4 217.7a2.9 2.0 0 1 0 5.9 0a2.9 2.0 0 1 0 -5.9 0M210.5 219.8a2.6 1.8 0 1 0 5.2 0a2.6 1.8 0 1 0 -5.2 0M72.1 220.0a2.9 2.0 0 1 0 5.7 0a2.9 2.0 0 1 0 -5.7 0M4.2 219.8a3.2 2.2 0 1 0 6.3 0a3.2 2.2 0 1 0 -6.3 0M256.8 220.8a3.1 2.1 0 1 0 6.2 0a3.1 2.1 0 1 0 -6.2 0M16.2 221.6a2.9 2.0 0 1 0 5.7 0a2.9 2.0 0 1 0 -5.7 0M316.7 220.7a3.1 2.1 0 1 0 6.2 0a3.1 2.1 0 1 0 -6.2 0"/>
<path fill="#d6b880" d="M32.9 221.2a5.1 3.6 0 1 0 10.1 0a5.1 3.6 0 1 0 -10.1 0M278.4 222.2a4.9 3.6 0 1 0 9.9 0a4.9 3.6 0 1 0 -9.9 0M276.7 222.3a5.7 4.1 0 1 0 11.3 0a5.7 4.1 0 1 0 -11.3 0M-5.4 223.6a5.5 4.0 0 1 0 11.0 0a5.5 4.0 0 1 0 -11.0 0M273.9 223.8a4.8 3.5 0 1 0 9.7 0a4.8 3.5 0 1 0 -9.7 0M254.0 224.8a6.2 4.4 0 1 0 12.3 0a6.2 4.4 0 1 0 -12.3 0"/>
<path fill="#c6a266" d="M268.9 221.3a5.9 4.2 0 1 0 11.8 0a5.9 4.2 0 1 0 -11.8 0M319.5 221.6a6.3 4.5 0 1 0 12.6 0a6.3 4.5 0 1 0 -12.6 0M36.9 222.2a5.5 3.9 0 1 0 10.9 0a5.5 3.9 0 1 0 -10.9 0M317.1 222.2a5.4 3.9 0 1 0 10.7 0a5.4 3.9 0 1 0 -10.7 0M324.4 222.4a5.8 4.2 0 1 0 11.6 0a5.8 4.2 0 1 0 -11.6 0M219.8 224.7a5.4 3.9 0 1 0 10.8 0a5.4 3.9 0 1 0 -10.8 0M6.1 224.8a6.3 4.5 0 1 0 12.5 0a6.3 4.5 0 1 0 -12.5 0"/>
<path fill="#cba86e" d="M305.1 221.5a4.8 3.4 0 1 0 9.5 0a4.8 3.4 0 1 0 -9.5 0M43.2 221.9a5.7 4.1 0 1 0 11.3 0a5.7 4.1 0 1 0 -11.3 0M248.6 223.1a6.3 4.5 0 1 0 12.6 0a6.3 4.5 0 1 0 -12.6 0M284.8 223.4a5.5 4.0 0 1 0 11.1 0a5.5 4.0 0 1 0 -11.1 0M279.6 223.4a5.0 3.6 0 1 0 9.9 0a5.0 3.6 0 1 0 -9.9 0M302.2 225.0a4.8 3.4 0 1 0 9.5 0a4.8 3.4 0 1 0 -9.5 0"/>
<path fill="#cfae74" d="M314.3 221.6a5.8 4.2 0 1 0 11.7 0a5.8 4.2 0 1 0 -11.7 0M227.4 221.8a5.1 3.6 0 1 0 10.1 0a5.1 3.6 0 1 0 -10.1 0M254.1 222.1a5.5 4.0 0 1 0 11.0 0a5.5 4.0 0 1 0 -11.0 0M90.6 222.8a5.4 3.9 0 1 0 10.9 0a5.4 3.9 0 1 0 -10.9 0M279.5 223.5a4.6 3.3 0 1 0 9.3 0a4.6 3.3 0 1 0 -9.3 0M222.6 223.6a6.2 4.5 0 1 0 12.5 0a6.2 4.5 0 1 0 -12.5 0M89.7 223.9a5.2 3.8 0 1 0 10.4 0a5.2 3.8 0 1 0 -10.4 0M303.0 224.3a5.9 4.2 0 1 0 11.7 0a5.9 4.2 0 1 0 -11.7 0"/>
<path fill="#dcc08a" d="M313.4 221.7a5.2 3.7 0 1 0 10.4 0a5.2 3.7 0 1 0 -10.4 0M18.9 223.0a6.1 4.4 0 1 0 12.2 0a6.1 4.4 0 1 0 -12.2 0M294.2 223.7a4.7 3.4 0 1 0 9.4 0a4.7 3.4 0 1 0 -9.4 0"/>
<path fill="#4a2511" d="M35.9 220.8a2.6 1.8 0 1 0 5.3 0a2.6 1.8 0 1 0 -5.3 0M273.0 222.1a3.1 2.1 0 1 0 6.1 0a3.1 2.1 0 1 0 -6.1 0M229.2 221.7a2.6 1.8 0 1 0 5.3 0a2.6 1.8 0 1 0 -5.3 0M256.7 222.6a2.9 2.0 0 1 0 5.7 0a2.9 2.0 0 1 0 -5.7 0M39.8 222.9a2.8 2.0 0 1 0 5.7 0a2.8 2.0 0 1 0 -5.7 0M318.6 222.1a2.8 1.9 0 1 0 5.6 0a2.8 1.9 0 1 0 -5.6 0M279.3 222.1a2.9 2.0 0 1 0 5.9 0a2.9 2.0 0 1 0 -5.9 0M328.0 222.3a3.0 2.1 0 1 0 6.0 0a3.0 2.1 0 1 0 -6.0 0M22.0 223.5a3.2 2.2 0 1 0 6.4 0a3.2 2.2 0 1 0 -6.4 0M250.2 222.6a3.3 2.3 0 1 0 6.5 0a3.3 2.3 0 1 0 -6.5 0M287.9 223.0a2.9 2.0 0 1 0 5.8 0a2.9 2.0 0 1 0 -5.8 0M282.2 223.2a2.4 1.7 0 1 0 4.8 0a2.4 1.7 0 1 0 -4.8 0M226.6 224.3a3.2 2.2 0 1 0 6.5 0a3.2 2.2 0 1 0 -6.5 0M295.7 223.3a2.4 1.7 0 1 0 4.9 0a2.4 1.7 0 1 0 -4.9 0M276.2 224.0a2.5 1.7 0 1 0 5.0 0a2.5 1.7 0 1 0 -5.0 0M91.5 224.2a2.7 1.9 0 1 0 5.4 0a2.7 1.9 0 1 0 -5.4 0M8.3 224.5a3.3 2.3 0 1 0 6.5 0a3.3 2.3 0 1 0 -6.5 0"/>
<path fill="#cfae74" d="M96.4 225.2a6.2 4.5 0 1 0 12.5 0a6.2 4.5 0 1 0 -12.5 0M11.8 225.4a5.5 4.0 0 1 0 11.0 0a5.5 4.0 0 1 0 -11.0 0M281.5 225.7a5.7 4.1 0 1 0 11.4 0a5.7 4.1 0 1 0 -11.4 0M50.4 225.8a6.0 4.3 0 1 0 12.0 0a6.0 4.3 0 1 0 -12.0 0M47.8 226.0a4.9 3.5 0 1 0 9.7 0a4.9 3.5 0 1 0 -9.7 0M56.3 227.8a6.0 4.3 0 1 0 12.0 0a6.0 4.3 0 1 0 -12.0 0M189.8 228.5a5.7 4.1 0 1 0 11.5 0a5.7 4.1 0 1 0 -11.5 0M7.3 228.8a6.0 4.3 0 1 0 12.0 0a6.0 4.3 0 1 0 -12.0 0M60.7 229.4a5.9 4.3 0 1 0 11.8 0a5.9 4.3 0 1 0 -11.8 0M40.5 230.0a6.0 4.3 0 1 0 11.9 0a6.0 4.3 0 1 0 -11.9 0"/>
<path fill="#cba86e" d="M305.3 225.3a4.6 3.3 0 1 0 9.3 0a4.6 3.3 0 1 0 -9.3 0M299.9 225.5a5.9 4.2 0 1 0 11.7 0a5.9 4.2 0 1 0 -11.7 0M59.3 225.6a4.8 3.5 0 1 0 9.7 0a4.8 3.5 0 1 0 -9.7 0M34.3 227.0a5.6 4.1 0 1 0 11.3 0a5.6 4.1 0 1 0 -11.3 0M296.7 229.6a5.1 3.7 0 1 0 10.2 0a5.1 3.7 0 1 0 -10.2 0M316.4 229.7a5.5 4.0 0 1 0 11.1 0a5.5 4.0 0 1 0 -11.1 0"/>
<path fill="#d6b880" d="M183.2 225.3a5.0 3.6 0 1 0 9.9 0a5.0 3.6 0 1 0 -9.9 0M85.6 226.3a6.0 4.3 0 1 0 11.9 0a6.0 4.3 0 1 0 -11.9 0M238.4 227.5a5.0 3.6 0 1 0 10.1 0a5.0 3.6 0 1 0 -10.1 0M197.9 227.7a4.8 3.5 0 1 0 9.7 0a4.8 3.5 0 1 0 -9.7 0M185.6 229.1a4.7 3.4 0 1 0 9.4 0a4.7 3.4 0 1 0 -9.4 0M16.6 230.0a5.6 4.0 0 1 0 11.2 0a5.6 4.0 0 1 0 -11.2 0"/>
<path fill="#dcc08a" d="M250.8 225.4a6.1 4.4 0 1 0 12.2 0a6.1 4.4 0 1 0 -12.2 0M82.0 226.8a5.8 4.2 0 1 0 11.6 0a5.8 4.2 0 1 0 -11.6 0M20.2 228.3a5.3 3.9 0 1 0 10.7 0a5.3 3.9 0 1 0 -10.7 0M303.6 228.9a5.2 3.8 0 1 0 10.5 0a5.2 3.8 0 1 0 -10.5 0M37.2 229.1a4.8 3.5 0 1 0 9.7 0a4.8 3.5 0 1 0 -9.7 0M294.8 229.3a5.7 4.1 0 1 0 11.3 0a5.7 4.1 0 1 0 -11.3 0M307.5 230.2a5.7 4.1 0 1 0 11.3 0a5.7 4.1 0 1 0 -11.3 0"/>
<path fill="#c6a266" d="M221.1 226.1a5.7 4.1 0 1 0 11.4 0a5.7 4.1 0 1 0 -11.4 0"/>
<path fill="#4a2511" d="M100.7 225.3a3.2 2.2 0 1 0 6.5 0a3.2 2.2 0 1 0 -6.5 0M308.3 224.9a2.4 1.7 0 1 0 4.8 0a2.4 1.7 0 1 0 -4.8 0M184.8 224.8a2.6 1.8 0 1 0 5.2 0a2.6 1.8 0 1 0 -5.2 0M15.6 225.0a2.9 2.0 0 1 0 5.7 0a2.9 2.0 0 1 0 -5.7 0M302.0 226.0a3.0 2.1 0 1 0 6.1 0a3.0 2.1 0 1 0 -6.1 0M50.5 226.4a2.5 1.8 0 1 0 5.1 0a2.5 1.8 0 1 0 -5.1 0M224.8 226.2a3.0 2.1 0 1 0 5.9 0a3.0 2.1 0 1 0 -5.9 0M89.8 226.3a3.1 2.1 0 1 0 6.2 0a3.1 2.1 0 1 0 -6.2 0M85.7 226.4a3.0 2.1 0 1 0 6.0 0a3.0 2.1 0 1 0 -6.0 0M201.5 228.1a2.5 1.7 0 1 0 5.0 0a2.5 1.7 0 1 0 -5.0 0M22.8 228.2a2.8 1.9 0 1 0 5.6 0a2.8 1.9 0 1 0 -5.6 0M10.5 229.4a3.1 2.2 0 1 0 6.2 0a3.1 2.2 0 1 0 -6.2 0M306.8 228.8a2.7 1.9 0 1 0 5.4 0a2.7 1.9 0 1 0 -5.4 0M298.5 230.0a2.9 2.0 0 1 0 5.9 0a2.9 2.0 0 1 0 -5.9 0M298.8 229.9a2.7 1.8 0 1 0 5.3 0a2.7 1.8 0 1 0 -5.3 0M320.4 229.9a2.9 2.0 0 1 0 5.8 0a2.9 2.0 0 1 0 -5.8 0M44.2 230.5a3.1 2.1 0 1 0 6.2 0a3.1 2.1 0 1 0 -6.2 0M19.6 230.3a2.9 2.0 0 1 0 5.8 0a2.9 2.0 0 1 0 -5.8 0"/>
<path fill="#cfae74" d="M38.4 230.4a4.9 3.5 0 1 0 9.9 0a4.9 3.5 0 1 0 -9.9 0M173.8 231.0a6.1 4.4 0 1 0 12.3 0a6.1 4.4 0 1 0 -12.3 0M5.4 231.9a4.9 3.5 0 1 0 9.8 0a4.9 3.5 0 1 0 -9.8 0M198.6 232.9a5.7 4.1 0 1 0 11.4 0a5.7 4.1 0 1 0 -11.4 0M125.3 234.7a5.6 4.0 0 1 0 11.2 0a5.6 4.0 0 1 0 -11.2 0M292.7 236.2a4.9 3.5 0 1 0 9.8 0a4.9 3.5 0 1 0 -9.8 0M25.5 237.2a5.0 3.6 0 1 0 10.0 0a5.0 3.6 0 1 0 -10.0 0"/>
<path fill="#c6a266" d="M161.4 230.5a5.7 4.1 0 1 0 11.3 0a5.7 4.1 0 1 0 -11.3 0M68.6 230.9a6.3 4.5 0 1 0 12.5 0a6.3 4.5 0 1 0 -12.5 0M232.2 231.5a5.0 3.6 0 1 0 10.0 0a5.0 3.6 0 1 0 -10.0 0M84.6 232.5a5.1 3.7 0 1 0 10.2 0a5.1 3.7 0 1 0 -10.2 0M325.8 233.0a5.4 3.9 0 1 0 10.9 0a5.4 3.9 0 1 0 -10.9 0M165.1 233.2a5.4 3.9 0 1 0 10.8 0a5.4 3.9 0 1 0 -10.8 0M-6.9 234.1a5.8 4.2 0 1 0 11.6 0a5.8 4.2 0 1 0 -11.6 0M114.8 236.2a6.1 4.4 0 1 0 12.2 0a6.1 4.4 0 1 0 -12.2 0M136.8 236.3a5.8 4.1 0 1 0 11.5 0a5.8 4.1 0 1 0 -11.5 0"/>
<path fill="#dcc08a" d="M283.9 230.6a5.7 4.1 0 1 0 11.3 0a5.7 4.1 0 1 0 -11.3 0M220.0 231.0a4.7 3.4 0 1 0 9.5 0a4.7 3.4 0 1 0 -9.5 0M315.2 231.3a5.1 3.7 0 1 0 10.3 0a5.1 3.7 0 1 0 -10.3 0M205.8 232.6a4.6 3.3 0 1 0 9.2 0a4.6 3.3 0 1 0 -9.2 0M330.2 233.2a4.8 3.4 0 1 0 9.5 0a4.8 3.4 0 1 0 -9.5 0M36.7 236.6a5.1 3.7 0 1 0 10.2 0a5.1 3.7 0 1 0 -10.2 0M63.3 237.2a5.2 3.7 0 1 0 10.3 0a5.2 3.7 0 1 0 -10.3 0"/>
<path fill="#d6b880" d="M198.3 230.7a4.8 3.4 0 1 0 9.5 0a4.8 3.4 0 1 0 -9.5 0M23.1 232.7a6.2 4.5 0 1 0 12.5 0a6.2 4.5 0 1 0 -12.5 0M274.9 233.7a5.6 4.0 0 1 0 11.1 0a5.6 4.0 0 1 0 -11.1 0M119.8 235.5a6.3 4.5 0 1 0 12.5 0a6.3 4.5 0 1 0 -12.5 0"/>
<path fill="#cba86e" d="M300.8 233.4a5.6 4.0 0 1 0 11.2 0a5.6 4.0 0 1 0 -11.2 0M116.9 233.4a6.2 4.5 0 1 0 12.5 0a6.2 4.5 0 1 0 -12.5 0M280.3 235.1a4.6 3.3 0 1 0 9.3 0a4.6 3.3 0 1 0 -9.3 0"/>
<path fill="#4a2511" d="M41.6 231.0a2.6 1.8 0 1 0 5.1 0a2.6 1.8 0 1 0 -5.1 0M177.1 231.7a3.2 2.2 0 1 0 6.4 0a3.2 2.2 0 1 0 -6.4 0M318.0 231.4a2.7 1.9 0 1 0 5.4 0a2.7 1.9 0 1 0 -5.4 0M8.8 232.2a2.5 1.8 0 1 0 5.1 0a2.5 1.8 0 1 0 -5.1 0M88.5 232.3a2.6 1.8 0 1 0 5.3 0a2.6 1.8 0 1 0 -5.3 0M208.1 232.4a2.4 1.7 0 1 0 4.8 0a2.4 1.7 0 1 0 -4.8 0M202.5 232.9a3.0 2.1 0 1 0 5.9 0a3.0 2.1 0 1 0 -5.9 0M167.2 233.8a2.8 2.0 0 1 0 5.6 0a2.8 2.0 0 1 0 -5.6 0M332.0 233.8a2.5 1.7 0 1 0 5.0 0a2.5 1.7 0 1 0 -5.0 0M304.5 233.1a2.9 2.0 0 1 0 5.8 0a2.9 2.0 0 1 0 -5.8 0M120.9 233.1a3.2 2.2 0 1 0 6.5 0a3.2 2.2 0 1 0 -6.5 0M140.9 236.3a3.0 2.1 0 1 0 6.0 0a3.0 2.1 0 1 0 -6.0 0"/>
<path fill="#cfae74" d="M168.2 237.7a5.3 3.8 0 1 0 10.6 0a5.3 3.8 0 1 0 -10.6 0M182.6 239.2a6.0 4.3 0 1 0 11.9 0a6.0 4.3 0 1 0 -11.9 0M195.1 240.2a4.6 3.3 0 1 0 9.3 0a4.6 3.3 0 1 0 -9.3 0M211.9 240.7a5.6 4.0 0 1 0 11.2 0a5.6 4.0 0 1 0 -11.2 0"/>
<path fill="#cba86e" d="M318.9 238.3a6.2 4.4 0 1 0 12.3 0a6.2 4.4 0 1 0 -12.3 0M164.4 240.9a5.6 4.0 0 1 0 11.2 0a5.6 4.0 0 1 0 -11.2 0M218.6 241.0a5.5 3.9 0 1 0 10.9 0a5.5 3.9 0 1 0 -10.9 0M248.2 242.5a5.6 4.0 0 1 0 11.2 0a5.6 4.0 0 1 0 -11.2 0"/>
<path fill="#d6b880" d="M246.3 238.3a5.8 4.2 0 1 0 11.7 0a5.8 4.2 0 1 0 -11.7 0M59.9 239.4a6.2 4.5 0 1 0 12.4 0a6.2 4.5 0 1 0 -12.4 0M294.4 239.5a4.9 3.5 0 1 0 9.7 0a4.9 3.5 0 1 0 -9.7 0M-4.2 240.6a4.8 3.4 0 1 0 9.6 0a4.8 3.4 0 1 0 -9.6 0M61.1 241.0a5.3 3.8 0 1 0 10.6 0a5.3 3.8 0 1 0 -10.6 0"/>
<path fill="#dcc08a" d="M115.2 238.4a5.9 4.2 0 1 0 11.7 0a5.9 4.2 0 1 0 -11.7 0M18.8 239.8a4.8 3.5 0 1 0 9.6 0a4.8 3.5 0 1 0 -9.6 0M301.0 239.8a4.9 3.5 0 1 0 9.9 0a4.9 3.5 0 1 0 -9.9 0M39.7 241.5a4.8 3.5 0 1 0 9.7 0a4.8 3.5 0 1 0 -9.7 0M293.3 241.6a6.2 4.4 0 1 0 12.3 0a6.2 4.4 0 1 0 -12.3 0M212.9 241.9a5.6 4.0 0 1 0 11.2 0a5.6 4.0 0 1 0 -11.2 0M305.7 242.6a6.0 4.3 0 1 0 12.0 0a6.0 4.3 0 1 0 -12.0 0"/>
<path fill="#c6a266" d="M167.1 238.6a5.5 3.9 0 1 0 11.0 0a5.5 3.9 0 1 0 -11.0 0M321.3 239.4a5.2 3.7 0 1 0 10.4 0a5.2 3.7 0 1 0 -10.4 0M204.6 239.9a4.9 3.5 0 1 0 9.8 0a4.9 3.5 0 1 0 -9.8 0M29.4 239.9a5.1 3.7 0 1 0 10.2 0a5.1 3.7 0 1 0 -10.2 0M22.8 240.3a6.3 4.5 0 1 0 12.6 0a6.3 4.5 0 1 0 -12.6 0M77.5 240.8a4.7 3.4 0 1 0 9.4 0a4.7 3.4 0 1 0 -9.4 0M218.6 241.3a4.7 3.4 0 1 0 9.4 0a4.7 3.4 0 1 0 -9.4 0M155.7 242.0a5.0 3.6 0 1 0 10.0 0a5.0 3.6 0 1 0 -10.0 0M264.6 242.8a5.4 3.9 0 1 0 10.8 0a5.4 3.9 0 1 0 -10.8 0M271.5 242.8a6.1 4.4 0 1 0 12.2 0a6.1 4.4 0 1 0 -12.2 0"/>
<path fill="#4a2511" d="M171.7 238.1a2.8 1.9 0 1 0 5.5 0a2.8 1.9 0 1 0 -5.5 0M321.3 238.4a3.2 2.2 0 1 0 6.4 0a3.2 2.2 0 1 0 -6.4 0M117.5 238.1a3.0 2.1 0 1 0 6.1 0a3.0 2.1 0 1 0 -6.1 0M170.0 238.8a2.9 2.0 0 1 0 5.7 0a2.9 2.0 0 1 0 -5.7 0M296.8 239.5a2.5 1.7 0 1 0 5.1 0a2.5 1.7 0 1 0 -5.1 0M32.9 240.0a2.6 1.8 0 1 0 5.3 0a2.6 1.8 0 1 0 -5.3 0M215.3 240.4a2.9 2.0 0 1 0 5.8 0a2.9 2.0 0 1 0 -5.8 0M166.7 241.7a2.9 2.0 0 1 0 5.8 0a2.9 2.0 0 1 0 -5.8 0M64.8 241.1a2.8 1.9 0 1 0 5.5 0a2.8 1.9 0 1 0 -5.5 0M221.0 240.6a2.8 2.0 0 1 0 5.7 0a2.8 2.0 0 1 0 -5.7 0M220.3 241.9a2.4 1.7 0 1 0 4.9 0a2.4 1.7 0 1 0 -4.9 0M41.1 242.2a2.5 1.7 0 1 0 5.0 0a2.5 1.7 0 1 0 -5.0 0M157.4 242.2a2.6 1.8 0 1 0 5.2 0a2.6 1.8 0 1 0 -5.2 0M267.8 242.8a2.8 1.9 0 1 0 5.6 0a2.8 1.9 0 1 0 -5.6 0"/>
<path fill="#cfae74" d="M38.1 243.0a5.0 3.6 0 1 0 10.1 0a5.0 3.6 0 1 0 -10.1 0M276.6 245.5a5.4 3.9 0 1 0 10.7 0a5.4 3.9 0 1 0 -10.7 0M48.6 246.1a6.2 4.5 0 1 0 12.4 0a6.2 4.5 0 1 0 -12.4 0"/>
<path fill="#cba86e" d="M320.9 244.0a4.6 3.3 0 1 0 9.3 0a4.6 3.3 0 1 0 -9.3 0M11.3 245.2a6.1 4.4 0 1 0 12.3 0a6.1 4.4 0 1 0 -12.3 0M131.0 246.8a5.7 4.1 0 1 0 11.4 0a5.7 4.1 0 1 0 -11.4 0"/>
<path fill="#d6b880" d="M274.2 244.6a6.2 4.5 0 1 0 12.5 0a6.2 4.5 0 1 0 -12.5 0M227.6 245.7a4.7 3.4 0 1 0 9.3 0a4.7 3.4 0 1 0 -9.3 0M218.3 246.3a5.0 3.6 0 1 0 9.9 0a5.0 3.6 0 1 0 -9.9 0M238.3 246.8a5.7 4.1 0 1 0 11.3 0a5.7 4.1 0 1 0 -11.3 0"/>
<path fill="#dcc08a" d="M313.1 246.1a6.2 4.5 0 1 0 12.5 0a6.2 4.5 0 1 0 -12.5 0"/>
<path fill="#c6a266" d="M8.1 246.2a4.7 3.4 0 1 0 9.3 0a4.7 3.4 0 1 0 -9.3 0"/>
<path fill="#4a2511" d="M41.3 242.5a2.6 1.8 0 1 0 5.2 0a2.6 1.8 0 1 0 -5.2 0M323.5 243.9a2.4 1.7 0 1 0 4.8 0a2.4 1.7 0 1 0 -4.8 0M14.5 245.8a3.2 2.2 0 1 0 6.4 0a3.2 2.2 0 1 0 -6.4 0M10.4 246.1a2.4 1.7 0 1 0 4.9 0a2.4 1.7 0 1 0 -4.9 0M135.0 246.7a3.0 2.1 0 1 0 5.9 0a3.0 2.1 0 1 0 -5.9 0"/>
<path d="M110,191 C113,188.5 118,188.5 124,189 L150,190.5 C170,191 185,190 195,188 C203,186.5 210,184.5 215,182.5 C218,182 219.5,184 218,186 C214,189 209,191.5 204,193.5 C197,196.5 188,200.5 179,204 L176,224 L170.5,224 L168.5,205.5 L166,205.5 L165.8,224 L160.8,224 L159,206 L147.2,206 L147.2,224 L142,224 L141,206 L133,206 C131,210 130.5,216 130.5,224 L124.5,224 C123.5,216 122,210 120,204.5 C113,203 108.5,199 108.5,195 C108.5,193.5 109,192 110,191 Z" fill="#5a2816"/>
<path fill="#cfae74" d="M126.4 150.8a5.2 3.7 0 1 0 10.4 0a5.2 3.7 0 1 0 -10.4 0M136.7 151.6a5.7 4.1 0 1 0 11.4 0a5.7 4.1 0 1 0 -11.4 0M112.7 151.9a5.5 3.9 0 1 0 10.9 0a5.5 3.9 0 1 0 -10.9 0M151.3 153.1a6.3 4.5 0 1 0 12.6 0a6.3 4.5 0 1 0 -12.6 0M114.3 154.3a5.2 3.8 0 1 0 10.5 0a5.2 3.8 0 1 0 -10.5 0M105.9 154.5a5.7 4.1 0 1 0 11.4 0a5.7 4.1 0 1 0 -11.4 0M104.8 154.6a5.1 3.6 0 1 0 10.1 0a5.1 3.6 0 1 0 -10.1 0M133.7 155.0a6.1 4.4 0 1 0 12.2 0a6.1 4.4 0 1 0 -12.2 0"/>
<path fill="#dcc08a" d="M137.8 151.4a6.1 4.4 0 1 0 12.1 0a6.1 4.4 0 1 0 -12.1 0M121.3 151.5a5.8 4.2 0 1 0 11.5 0a5.8 4.2 0 1 0 -11.5 0M140.3 152.8a5.8 4.2 0 1 0 11.6 0a5.8 4.2 0 1 0 -11.6 0M147.0 157.8a5.3 3.8 0 1 0 10.6 0a5.3 3.8 0 1 0 -10.6 0M103.9 158.2a6.2 4.5 0 1 0 12.4 0a6.2 4.5 0 1 0 -12.4 0M118.2 158.4a5.6 4.0 0 1 0 11.2 0a5.6 4.0 0 1 0 -11.2 0"/>
<path fill="#c6a266" d="M131.7 152.3a6.1 4.4 0 1 0 12.2 0a6.1 4.4 0 1 0 -12.2 0M106.5 153.0a5.1 3.7 0 1 0 10.3 0a5.1 3.7 0 1 0 -10.3 0M109.2 153.1a6.5 4.6 0 1 0 12.9 0a6.5 4.6 0 1 0 -12.9 0M141.0 153.4a6.2 4.5 0 1 0 12.4 0a6.2 4.5 0 1 0 -12.4 0M132.4 154.1a5.9 4.3 0 1 0 11.9 0a5.9 4.3 0 1 0 -11.9 0M102.5 154.7a5.5 3.9 0 1 0 11.0 0a5.5 3.9 0 1 0 -11.0 0M166.2 158.3a6.2 4.5 0 1 0 12.4 0a6.2 4.5 0 1 0 -12.4 0"/>
<path fill="#d6b880" d="M116.0 152.4a6.2 4.4 0 1 0 12.3 0a6.2 4.4 0 1 0 -12.3 0M150.5 153.7a6.0 4.3 0 1 0 12.0 0a6.0 4.3 0 1 0 -12.0 0M127.6 155.4a6.0 4.3 0 1 0 12.0 0a6.0 4.3 0 1 0 -12.0 0M108.7 155.7a5.2 3.7 0 1 0 10.3 0a5.2 3.7 0 1 0 -10.3 0M162.2 158.4a5.1 3.7 0 1 0 10.2 0a5.1 3.7 0 1 0 -10.2 0"/>
<path fill="#cba86e" d="M139.6 152.8a5.3 3.8 0 1 0 10.6 0a5.3 3.8 0 1 0 -10.6 0M148.3 154.8a5.5 4.0 0 1 0 11.0 0a5.5 4.0 0 1 0 -11.0 0M107.1 155.0a5.1 3.7 0 1 0 10.2 0a5.1 3.7 0 1 0 -10.2 0M160.2 156.5a6.2 4.5 0 1 0 12.4 0a6.2 4.5 0 1 0 -12.4 0"/>
<path fill="#4a2511" d="M141.4 151.2a3.2 2.2 0 1 0 6.3 0a3.2 2.2 0 1 0 -6.3 0M140.4 151.5a3.0 2.1 0 1 0 5.9 0a3.0 2.1 0 1 0 -5.9 0M113.6 153.2a3.4 2.3 0 1 0 6.7 0a3.4 2.3 0 1 0 -6.7 0M155.4 153.7a3.3 2.3 0 1 0 6.6 0a3.3 2.3 0 1 0 -6.6 0M145.4 153.7a3.2 2.2 0 1 0 6.5 0a3.2 2.2 0 1 0 -6.5 0M154.5 154.3a3.1 2.2 0 1 0 6.3 0a3.1 2.2 0 1 0 -6.3 0M115.4 153.9a2.7 1.9 0 1 0 5.5 0a2.7 1.9 0 1 0 -5.5 0M109.0 155.1a3.0 2.1 0 1 0 6.0 0a3.0 2.1 0 1 0 -6.0 0M149.9 155.4a2.9 2.0 0 1 0 5.7 0a2.9 2.0 0 1 0 -5.7 0M108.5 155.7a2.6 1.8 0 1 0 5.3 0a2.6 1.8 0 1 0 -5.3 0M112.4 155.5a2.7 1.9 0 1 0 5.4 0a2.7 1.9 0 1 0 -5.4 0M164.6 156.1a3.2 2.2 0 1 0 6.5 0a3.2 2.2 0 1 0 -6.5 0M106.6 158.3a3.2 2.2 0 1 0 6.4 0a3.2 2.2 0 1 0 -6.4 0M120.8 158.9a2.9 2.0 0 1 0 5.8 0a2.9 2.0 0 1 0 -5.8 0"/>
<path fill="#d6b880" d="M131.6 158.4a5.3 3.8 0 1 0 10.6 0a5.3 3.8 0 1 0 -10.6 0M169.0 159.6a5.1 3.7 0 1 0 10.2 0a5.1 3.7 0 1 0 -10.2 0M85.7 161.5a5.7 4.1 0 1 0 11.4 0a5.7 4.1 0 1 0 -11.4 0M92.1 162.2a6.3 4.5 0 1 0 12.6 0a6.3 4.5 0 1 0 -12.6 0M133.5 162.9a5.9 4.2 0 1 0 11.7 0a5.9 4.2 0 1 0 -11.7 0M177.2 163.0a5.8 4.2 0 1 0 11.6 0a5.8 4.2 0 1 0 -11.6 0M81.9 163.0a5.1 3.7 0 1 0 10.2 0a5.1 3.7 0 1 0 -10.2 0M137.4 163.1a5.3 3.8 0 1 0 10.5 0a5.3 3.8 0 1 0 -10.5 0M172.6 163.2a5.6 4.0 0 1 0 11.1 0a5.6 4.0 0 1 0 -11.1 0M97.3 163.4a6.2 4.5 0 1 0 12.4 0a6.2 4.5 0 1 0 -12.4 0M150.3 164.0a6.4 4.6 0 1 0 12.8 0a6.4 4.6 0 1 0 -12.8 0"/>
<path fill="#cfae74" d="M145.4 159.0a5.3 3.8 0 1 0 10.6 0a5.3 3.8 0 1 0 -10.6 0M100.3 160.5a5.9 4.3 0 1 0 11.9 0a5.9 4.3 0 1 0 -11.9 0M116.9 162.2a5.5 4.0 0 1 0 11.0 0a5.5 4.0 0 1 0 -11.0 0M141.8 163.1a5.4 3.9 0 1 0 10.7 0a5.4 3.9 0 1 0 -10.7 0M131.3 163.4a6.4 4.6 0 1 0 12.9 0a6.4 4.6 0 1 0 -12.9 0"/>
<path fill="#dcc08a" d="M115.8 159.3a5.7 4.1 0 1 0 11.3 0a5.7 4.1 0 1 0 -11.3 0M84.6 160.3a6.3 4.5 0 1 0 12.6 0a6.3 4.5 0 1 0 -12.6 0M132.0 161.1a6.4 4.6 0 1 0 12.8 0a6.4 4.6 0 1 0 -12.8 0M112.0 161.9a6.4 4.6 0 1 0 12.8 0a6.4 4.6 0 1 0 -12.8 0M156.5 162.2a6.1 4.4 0 1 0 12.2 0a6.1 4.4 0 1 0 -12.2 0M181.3 163.8a5.4 3.9 0 1 0 10.8 0a5.4 3.9 0 1 0 -10.8 0"/>
<path fill="#c6a266" d="M92.1 160.5a5.1 3.6 0 1 0 10.1 0a5.1 3.6 0 1 0 -10.1 0M81.9 161.7a6.2 4.4 0 1 0 12.4 0a6.2 4.4 0 1 0 -12.4 0M123.6 162.8a5.9 4.3 0 1 0 11.9 0a5.9 4.3 0 1 0 -11.9 0M79.1 163.4a5.7 4.1 0 1 0 11.4 0a5.7 4.1 0 1 0 -11.4 0M114.8 163.4a5.3 3.8 0 1 0 10.6 0a5.3 3.8 0 1 0 -10.6 0"/>
<path fill="#cba86e" d="M150.8 161.0a5.9 4.3 0 1 0 11.8 0a5.9 4.3 0 1 0 -11.8 0M149.1 162.2a5.8 4.2 0 1 0 11.5 0a5.8 4.2 0 1 0 -11.5 0M99.1 163.1a6.3 4.5 0 1 0 12.6 0a6.3 4.5 0 1 0 -12.6 0"/>
<path fill="#4a2511" d="M153.2 160.7a3.1 2.1 0 1 0 6.2 0a3.1 2.1 0 1 0 -6.2 0M93.7 161.9a3.3 2.3 0 1 0 6.5 0a3.3 2.3 0 1 0 -6.5 0M180.3 162.9a3.0 2.1 0 1 0 6.0 0a3.0 2.1 0 1 0 -6.0 0M100.6 163.3a3.3 2.3 0 1 0 6.6 0a3.3 2.3 0 1 0 -6.6 0M135.8 163.0a3.3 2.3 0 1 0 6.7 0a3.3 2.3 0 1 0 -6.7 0M117.6 162.9a2.8 1.9 0 1 0 5.5 0a2.8 1.9 0 1 0 -5.5 0M184.5 164.0a2.8 2.0 0 1 0 5.6 0a2.8 2.0 0 1 0 -5.6 0M152.5 163.7a3.3 2.3 0 1 0 6.7 0a3.3 2.3 0 1 0 -6.7 0"/>
<path fill="#d6b880" d="M139.6 164.0a5.1 3.7 0 1 0 10.2 0a5.1 3.7 0 1 0 -10.2 0M129.6 164.2a5.4 3.9 0 1 0 10.8 0a5.4 3.9 0 1 0 -10.8 0M94.8 164.8a5.8 4.1 0 1 0 11.5 0a5.8 4.1 0 1 0 -11.5 0M169.1 165.2a5.2 3.8 0 1 0 10.5 0a5.2 3.8 0 1 0 -10.5 0M157.0 165.9a5.2 3.7 0 1 0 10.3 0a5.2 3.7 0 1 0 -10.3 0M195.1 166.4a5.7 4.1 0 1 0 11.4 0a5.7 4.1 0 1 0 -11.4 0M103.4 167.6a6.3 4.5 0 1 0 12.6 0a6.3 4.5 0 1 0 -12.6 0"/>
<path fill="#cba86e" d="M161.6 164.1a6.2 4.5 0 1 0 12.5 0a6.2 4.5 0 1 0 -12.5 0M80.1 165.1a6.1 4.4 0 1 0 12.2 0a6.1 4.4 0 1 0 -12.2 0M190.9 166.3a5.4 3.9 0 1 0 10.7 0a5.4 3.9 0 1 0 -10.7 0M195.0 167.2a6.0 4.3 0 1 0 12.0 0a6.0 4.3 0 1 0 -12.0 0"/>
<path fill="#dcc08a" d="M108.5 164.2a5.4 3.9 0 1 0 10.9 0a5.4 3.9 0 1 0 -10.9 0M116.7 164.2a6.3 4.5 0 1 0 12.5 0a6.3 4.5 0 1 0 -12.5 0M184.4 164.5a5.8 4.2 0 1 0 11.7 0a5.8 4.2 0 1 0 -11.7 0M187.6 164.6a5.0 3.6 0 1 0 10.0 0a5.0 3.6 0 1 0 -10.0 0M158.5 166.1a6.2 4.4 0 1 0 12.3 0a6.2 4.4 0 1 0 -12.3 0M118.7 166.6a5.7 4.1 0 1 0 11.3 0a5.7 4.1 0 1 0 -11.3 0M152.3 167.1a6.5 4.7 0 1 0 13.0 0a6.5 4.7 0 1 0 -13.0 0"/>
<path fill="#cfae74" d="M160.2 164.3a5.6 4.0 0 1 0 11.2 0a5.6 4.0 0 1 0 -11.2 0M99.7 165.1a5.9 4.3 0 1 0 11.9 0a5.9 4.3 0 1 0 -11.9 0M84.7 166.1a6.4 4.6 0 1 0 12.8 0a6.4 4.6 0 1 0 -12.8 0M178.1 166.4a5.9 4.3 0 1 0 11.8 0a5.9 4.3 0 1 0 -11.8 0M101.6 166.6a5.1 3.7 0 1 0 10.2 0a5.1 3.7 0 1 0 -10.2 0M65.8 167.0a5.9 4.2 0 1 0 11.7 0a5.9 4.2 0 1 0 -11.7 0M112.2 167.8a6.3 4.5 0 1 0 12.5 0a6.3 4.5 0 1 0 -12.5 0"/>
<path fill="#c6a266" d="M142.6 164.6a6.1 4.4 0 1 0 12.3 0a6.1 4.4 0 1 0 -12.3 0M124.7 164.8a5.1 3.7 0 1 0 10.2 0a5.1 3.7 0 1 0 -10.2 0M169.1 165.0a6.1 4.4 0 1 0 12.3 0a6.1 4.4 0 1 0 -12.3 0M87.1 166.1a6.4 4.6 0 1 0 12.7 0a6.4 4.6 0 1 0 -12.7 0M106.3 166.9a6.4 4.6 0 1 0 12.9 0a6.4 4.6 0 1 0 -12.9 0"/>
<path fill="#4a2511" d="M143.3 163.9a2.7 1.8 0 1 0 5.3 0a2.7 1.8 0 1 0 -5.3 0M111.7 163.8a2.8 2.0 0 1 0 5.7 0a2.8 2.0 0 1 0 -5.7 0M120.5 164.1a3.3 2.3 0 1 0 6.5 0a3.3 2.3 0 1 0 -6.5 0M133.3 163.8a2.8 2.0 0 1 0 5.6 0a2.8 2.0 0 1 0 -5.6 0M190.6 164.8a2.6 1.8 0 1 0 5.2 0a2.6 1.8 0 1 0 -5.2 0M126.0 164.5a2.7 1.8 0 1 0 5.3 0a2.7 1.8 0 1 0 -5.3 0M98.4 164.5a3.0 2.1 0 1 0 6.0 0a3.0 2.1 0 1 0 -6.0 0M83.0 165.2a3.2 2.2 0 1 0 6.3 0a3.2 2.2 0 1 0 -6.3 0M170.8 165.7a2.7 1.9 0 1 0 5.4 0a2.7 1.9 0 1 0 -5.4 0M88.9 166.2a3.3 2.3 0 1 0 6.6 0a3.3 2.3 0 1 0 -6.6 0M161.4 165.6a3.2 2.2 0 1 0 6.4 0a3.2 2.2 0 1 0 -6.4 0M192.1 167.0a2.8 1.9 0 1 0 5.6 0a2.8 1.9 0 1 0 -5.6 0M196.5 166.3a3.0 2.0 0 1 0 5.9 0a3.0 2.0 0 1 0 -5.9 0M179.7 166.9a3.1 2.1 0 1 0 6.2 0a3.1 2.1 0 1 0 -6.2 0M120.4 166.5a2.9 2.0 0 1 0 5.9 0a2.9 2.0 0 1 0 -5.9 0M196.7 167.8a3.1 2.2 0 1 0 6.3 0a3.1 2.2 0 1 0 -6.3 0M113.8 167.4a3.3 2.3 0 1 0 6.5 0a3.3 2.3 0 1 0 -6.5 0"/>
<path fill="#cba86e" d="M66.3 167.8a5.2 3.8 0 1 0 10.5 0a5.2 3.8 0 1 0 -10.5 0M206.9 170.3a5.3 3.8 0 1 0 10.5 0a5.3 3.8 0 1 0 -10.5 0M149.0 170.5a6.4 4.6 0 1 0 12.8 0a6.4 4.6 0 1 0 -12.8 0"/>
<path fill="#d6b880" d="M167.8 168.1a5.5 4.0 0 1 0 11.1 0a5.5 4.0 0 1 0 -11.1 0M100.7 168.2a6.2 4.5 0 1 0 12.4 0a6.2 4.5 0 1 0 -12.4 0M69.5 168.8a5.3 3.8 0 1 0 10.6 0a5.3 3.8 0 1 0 -10.6 0M170.3 169.1a6.0 4.3 0 1 0 11.9 0a6.0 4.3 0 1 0 -11.9 0M122.3 170.9a5.2 3.8 0 1 0 10.4 0a5.2 3.8 0 1 0 -10.4 0M156.5 170.9a6.3 4.5 0 1 0 12.6 0a6.3 4.5 0 1 0 -12.6 0"/>
<path fill="#dcc08a" d="M188.8 168.5a6.4 4.6 0 1 0 12.7 0a6.4 4.6 0 1 0 -12.7 0M115.9 169.8a5.6 4.0 0 1 0 11.1 0a5.6 4.0 0 1 0 -11.1 0M205.1 169.8a6.3 4.5 0 1 0 12.6 0a6.3 4.5 0 1 0 -12.6 0M100.7 170.0a5.3 3.8 0 1 0 10.6 0a5.3 3.8 0 1 0 -10.6 0"/>
<path fill="#cfae74" d="M126.3 168.9a5.1 3.7 0 1 0 10.2 0a5.1 3.7 0 1 0 -10.2 0M120.2 169.3a5.9 4.2 0 1 0 11.7 0a5.9 4.2 0 1 0 -11.7 0M106.9 169.6a5.4 3.9 0 1 0 10.7 0a5.4 3.9 0 1 0 -10.7 0M197.4 169.7a5.2 3.7 0 1 0 10.4 0a5.2 3.7 0 1 0 -10.4 0M91.2 170.1a6.2 4.5 0 1 0 12.4 0a6.2 4.5 0 1 0 -12.4 0M119.8 170.4a5.2 3.8 0 1 0 10.4 0a5.2 3.8 0 1 0 -10.4 0M98.2 170.5a6.3 4.6 0 1 0 12.6 0a6.3 4.6 0 1 0 -12.6 0M115.1 171.0a5.5 4.0 0 1 0 11.0 0a5.5 4.0 0 1 0 -11.0 0M143.2 171.0a5.8 4.2 0 1 0 11.6 0a5.8 4.2 0 1 0 -11.6 0M149.2 171.1a5.2 3.7 0 1 0 10.3 0a5.2 3.7 0 1 0 -10.3 0"/>
<path fill="#c6a266" d="M74.0 169.0a5.8 4.2 0 1 0 11.7 0a5.8 4.2 0 1 0 -11.7 0M74.7 169.5a6.1 4.4 0 1 0 12.3 0a6.1 4.4 0 1 0 -12.3 0M206.4 170.6a5.0 3.6 0 1 0 10.1 0a5.0 3.6 0 1 0 -10.1 0M202.5 170.8a6.0 4.3 0 1 0 11.9 0a6.0 4.3 0 1 0 -11.9 0M127.8 171.0a6.0 4.3 0 1 0 12.0 0a6.0 4.3 0 1 0 -12.0 0M94.9 171.6a6.4 4.6 0 1 0 12.8 0a6.4 4.6 0 1 0 -12.8 0M175.1 171.6a6.2 4.5 0 1 0 12.5 0a6.2 4.5 0 1 0 -12.5 0"/>
<path fill="#4a2511" d="M102.8 168.0a3.2 2.2 0 1 0 6.5 0a3.2 2.2 0 1 0 -6.5 0M193.1 168.0a3.3 2.3 0 1 0 6.6 0a3.3 2.3 0 1 0 -6.6 0M127.5 169.3a2.7 1.8 0 1 0 5.3 0a2.7 1.8 0 1 0 -5.3 0M76.1 169.4a3.0 2.1 0 1 0 6.1 0a3.0 2.1 0 1 0 -6.1 0M172.9 169.6a3.1 2.1 0 1 0 6.2 0a3.1 2.1 0 1 0 -6.2 0M121.7 169.5a3.1 2.1 0 1 0 6.1 0a3.1 2.1 0 1 0 -6.1 0M110.0 169.5a2.8 1.9 0 1 0 5.6 0a2.8 1.9 0 1 0 -5.6 0M209.5 170.3a3.3 2.3 0 1 0 6.6 0a3.3 2.3 0 1 0 -6.6 0M102.0 170.1a2.8 1.9 0 1 0 5.5 0a2.8 1.9 0 1 0 -5.5 0M100.7 170.0a3.3 2.3 0 1 0 6.6 0a3.3 2.3 0 1 0 -6.6 0M209.4 170.6a2.6 1.8 0 1 0 5.2 0a2.6 1.8 0 1 0 -5.2 0M205.2 170.6a3.1 2.1 0 1 0 6.2 0a3.1 2.1 0 1 0 -6.2 0M125.5 171.5a2.7 1.9 0 1 0 5.4 0a2.7 1.9 0 1 0 -5.4 0M152.8 170.7a2.7 1.9 0 1 0 5.4 0a2.7 1.9 0 1 0 -5.4 0"/>
<path fill="#cba86e" d="M99.1 171.7a6.2 4.5 0 1 0 12.4 0a6.2 4.5 0 1 0 -12.4 0M111.2 171.8a6.1 4.4 0 1 0 12.2 0a6.1 4.4 0 1 0 -12.2 0M122.0 171.9a5.5 4.0 0 1 0 11.1 0a5.5 4.0 0 1 0 -11.1 0M108.8 172.2a5.7 4.1 0 1 0 11.4 0a5.7 4.1 0 1 0 -11.4 0M109.0 172.4a5.0 3.6 0 1 0 10.1 0a5.0 3.6 0 1 0 -10.1 0M196.1 172.7a6.3 4.6 0 1 0 12.7 0a6.3 4.6 0 1 0 -12.7 0M157.3 172.7a6.0 4.3 0 1 0 12.1 0a6.0 4.3 0 1 0 -12.1 0M212.9 172.8a6.1 4.4 0 1 0 12.1 0a6.1 4.4 0 1 0 -12.1 0"/>
<path fill="#c6a266" d="M206.5 171.9a5.2 3.7 0 1 0 10.4 0a5.2 3.7 0 1 0 -10.4 0M212.7 172.8a5.3 3.8 0 1 0 10.6 0a5.3 3.8 0 1 0 -10.6 0M209.6 173.2a6.1 4.4 0 1 0 12.3 0a6.1 4.4 0 1 0 -12.3 0M146.3 173.3a5.1 3.7 0 1 0 10.3 0a5.1 3.7 0 1 0 -10.3 0M216.1 173.5a5.8 4.2 0 1 0 11.6 0a5.8 4.2 0 1 0 -11.6 0M165.7 173.7a5.6 4.0 0 1 0 11.2 0a5.6 4.0 0 1 0 -11.2 0"/>
<path fill="#dcc08a" d="M166.0 171.9a5.9 4.2 0 1 0 11.8 0a5.9 4.2 0 1 0 -11.8 0M156.5 172.6a5.3 3.9 0 1 0 10.7 0a5.3 3.9 0 1 0 -10.7 0M112.3 173.2a5.3 3.8 0 1 0 10.6 0a5.3 3.8 0 1 0 -10.6 0M154.8 173.2a5.5 4.0 0 1 0 11.0 0a5.5 4.0 0 1 0 -11.0 0M206.5 173.8a6.2 4.5 0 1 0 12.4 0a6.2 4.5 0 1 0 -12.4 0M198.5 174.0a5.2 3.7 0 1 0 10.4 0a5.2 3.7 0 1 0 -10.4 0"/>
<path fill="#d6b880" d="M190.9 171.9a5.8 4.2 0 1 0 11.6 0a5.8 4.2 0 1 0 -11.6 0M120.2 172.0a5.5 4.0 0 1 0 11.0 0a5.5 4.0 0 1 0 -11.0 0M211.9 173.1a6.2 4.5 0 1 0 12.4 0a6.2 4.5 0 1 0 -12.4 0M184.2 173.2a5.7 4.1 0 1 0 11.4 0a5.7 4.1 0 1 0 -11.4 0M149.3 173.5a5.6 4.0 0 1 0 11.2 0a5.6 4.0 0 1 0 -11.2 0M202.4 173.6a6.4 4.6 0 1 0 12.7 0a6.4 4.6 0 1 0 -12.7 0M91.9 173.7a6.4 4.6 0 1 0 12.8 0a6.4 4.6 0 1 0 -12.8 0M147.1 174.1a5.0 3.6 0 1 0 10.1 0a5.0 3.6 0 1 0 -10.1 0"/>
<path fill="#cfae74" d="M208.8 173.4a6.3 4.5 0 1 0 12.5 0a6.3 4.5 0 1 0 -12.5 0M185.9 173.5a5.9 4.3 0 1 0 11.9 0a5.9 4.3 0 1 0 -11.9 0"/>
<path fill="#4a2511" d="M115.5 172.3a3.2 2.2 0 1 0 6.4 0a3.2 2.2 0 1 0 -6.4 0M193.7 172.2a3.0 2.1 0 1 0 6.0 0a3.0 2.1 0 1 0 -6.0 0M110.1 172.3a3.0 2.1 0 1 0 5.9 0a3.0 2.1 0 1 0 -5.9 0M111.5 172.3a2.6 1.8 0 1 0 5.2 0a2.6 1.8 0 1 0 -5.2 0M215.5 173.2a3.1 2.2 0 1 0 6.3 0a3.1 2.2 0 1 0 -6.3 0M115.6 173.6a2.8 1.9 0 1 0 5.5 0a2.8 1.9 0 1 0 -5.5 0M210.5 173.4a3.3 2.3 0 1 0 6.5 0a3.3 2.3 0 1 0 -6.5 0M189.0 174.1a3.1 2.1 0 1 0 6.2 0a3.1 2.1 0 1 0 -6.2 0M151.9 173.9a2.9 2.0 0 1 0 5.8 0a2.9 2.0 0 1 0 -5.8 0M169.6 173.3a2.9 2.0 0 1 0 5.8 0a2.9 2.0 0 1 0 -5.8 0M200.0 173.7a2.7 1.9 0 1 0 5.4 0a2.7 1.9 0 1 0 -5.4 0"/>
<path fill="#c6a266" d="M213.2 174.1a5.0 3.6 0 1 0 10.1 0a5.0 3.6 0 1 0 -10.1 0M192.4 174.2a5.5 3.9 0 1 0 10.9 0a5.5 3.9 0 1 0 -10.9 0M199.4 174.5a6.3 4.5 0 1 0 12.6 0a6.3 4.5 0 1 0 -12.6 0M153.3 175.1a5.5 4.0 0 1 0 11.0 0a5.5 4.0 0 1 0 -11.0 0M142.5 175.9a6.4 4.6 0 1 0 12.7 0a6.4 4.6 0 1 0 -12.7 0M211.4 176.9a6.3 4.6 0 1 0 12.7 0a6.3 4.6 0 1 0 -12.7 0M192.0 177.0a6.0 4.3 0 1 0 12.0 0a6.0 4.3 0 1 0 -12.0 0"/>
<path fill="#dcc08a" d="M105.8 174.3a5.4 3.9 0 1 0 10.8 0a5.4 3.9 0 1 0 -10.8 0M90.6 175.2a6.0 4.3 0 1 0 12.0 0a6.0 4.3 0 1 0 -12.0 0M161.8 175.5a5.9 4.3 0 1 0 11.9 0a5.9 4.3 0 1 0 -11.9 0M168.6 176.0a6.4 4.6 0 1 0 12.9 0a6.4 4.6 0 1 0 -12.9 0M123.8 176.4a6.4 4.6 0 1 0 12.8 0a6.4 4.6 0 1 0 -12.8 0M80.8 176.4a5.6 4.0 0 1 0 11.2 0a5.6 4.0 0 1 0 -11.2 0M207.3 176.8a6.1 4.4 0 1 0 12.2 0a6.1 4.4 0 1 0 -12.2 0"/>
<path fill="#cfae74" d="M201.0 174.3a5.9 4.3 0 1 0 11.9 0a5.9 4.3 0 1 0 -11.9 0M218.3 174.5a6.2 4.4 0 1 0 12.3 0a6.2 4.4 0 1 0 -12.3 0M127.7 174.6a5.7 4.1 0 1 0 11.5 0a5.7 4.1 0 1 0 -11.5 0M102.6 175.7a6.2 4.4 0 1 0 12.3 0a6.2 4.4 0 1 0 -12.3 0M115.6 176.2a5.7 4.1 0 1 0 11.3 0a5.7 4.1 0 1 0 -11.3 0M221.4 176.6a5.6 4.1 0 1 0 11.3 0a5.6 4.1 0 1 0 -11.3 0M188.5 176.6a5.0 3.6 0 1 0 10.0 0a5.0 3.6 0 1 0 -10.0 0"/>
<path fill="#cba86e" d="M211.5 174.3a6.5 4.7 0 1 0 12.9 0a6.5 4.7 0 1 0 -12.9 0M87.9 175.2a6.1 4.4 0 1 0 12.2 0a6.1 4.4 0 1 0 -12.2 0M175.5 175.7a5.9 4.3 0 1 0 11.8 0a5.9 4.3 0 1 0 -11.8 0M64.6 176.3a5.0 3.6 0 1 0 10.1 0a5.0 3.6 0 1 0 -10.1 0"/>
<path fill="#d6b880" d="M209.3 174.6a6.3 4.5 0 1 0 12.6 0a6.3 4.5 0 1 0 -12.6 0M79.5 174.7a6.1 4.4 0 1 0 12.3 0a6.1 4.4 0 1 0 -12.3 0M147.0 175.0a5.3 3.8 0 1 0 10.6 0a5.3 3.8 0 1 0 -10.6 0M208.1 175.5a5.8 4.1 0 1 0 11.5 0a5.8 4.1 0 1 0 -11.5 0M208.7 176.9a6.4 4.6 0 1 0 12.7 0a6.4 4.6 0 1 0 -12.7 0"/>
<path fill="#4a2511" d="M216.8 174.7a2.6 1.8 0 1 0 5.2 0a2.6 1.8 0 1 0 -5.2 0M194.1 173.7a2.8 2.0 0 1 0 5.7 0a2.8 2.0 0 1 0 -5.7 0M109.3 174.3a2.8 1.9 0 1 0 5.6 0a2.8 1.9 0 1 0 -5.6 0M203.2 174.5a3.1 2.1 0 1 0 6.2 0a3.1 2.1 0 1 0 -6.2 0M220.3 175.0a3.2 2.2 0 1 0 6.4 0a3.2 2.2 0 1 0 -6.4 0M201.8 174.2a3.3 2.3 0 1 0 6.5 0a3.3 2.3 0 1 0 -6.5 0M212.6 174.8a3.3 2.3 0 1 0 6.5 0a3.3 2.3 0 1 0 -6.5 0M81.5 175.3a3.2 2.2 0 1 0 6.4 0a3.2 2.2 0 1 0 -6.4 0M149.8 175.3a2.8 1.9 0 1 0 5.5 0a2.8 1.9 0 1 0 -5.5 0M156.2 175.2a2.9 2.0 0 1 0 5.7 0a2.9 2.0 0 1 0 -5.7 0M90.7 175.0a3.2 2.2 0 1 0 6.4 0a3.2 2.2 0 1 0 -6.4 0M93.2 175.1a3.1 2.2 0 1 0 6.2 0a3.1 2.2 0 1 0 -6.2 0M212.3 175.3a3.0 2.1 0 1 0 6.0 0a3.0 2.1 0 1 0 -6.0 0M164.9 175.5a3.1 2.1 0 1 0 6.2 0a3.1 2.1 0 1 0 -6.2 0M117.9 176.0a2.9 2.0 0 1 0 5.9 0a2.9 2.0 0 1 0 -5.9 0M67.3 176.4a2.6 1.8 0 1 0 5.2 0a2.6 1.8 0 1 0 -5.2 0M128.2 177.1a3.3 2.3 0 1 0 6.7 0a3.3 2.3 0 1 0 -6.7 0M225.2 177.0a2.9 2.0 0 1 0 5.9 0a2.9 2.0 0 1 0 -5.9 0M189.7 176.6a2.6 1.8 0 1 0 5.2 0a2.6 1.8 0 1 0 -5.2 0M210.1 177.5a3.2 2.2 0 1 0 6.3 0a3.2 2.2 0 1 0 -6.3 0M211.8 176.5a3.3 2.3 0 1 0 6.6 0a3.3 2.3 0 1 0 -6.6 0"/>
<path fill="#d6b880" d="M209.1 177.1a5.7 4.1 0 1 0 11.4 0a5.7 4.1 0 1 0 -11.4 0M176.1 177.6a6.3 4.5 0 1 0 12.6 0a6.3 4.5 0 1 0 -12.6 0M212.1 177.9a5.5 3.9 0 1 0 10.9 0a5.5 3.9 0 1 0 -10.9 0M193.2 177.9a6.2 4.4 0 1 0 12.3 0a6.2 4.4 0 1 0 -12.3 0M219.6 178.1a5.1 3.7 0 1 0 10.2 0a5.1 3.7 0 1 0 -10.2 0M133.3 178.3a5.3 3.8 0 1 0 10.5 0a5.3 3.8 0 1 0 -10.5 0"/>
<path fill="#cba86e" d="M223.1 177.2a5.7 4.1 0 1 0 11.5 0a5.7 4.1 0 1 0 -11.5 0M160.5 177.3a5.5 3.9 0 1 0 11.0 0a5.5 3.9 0 1 0 -11.0 0M223.3 177.5a5.4 3.9 0 1 0 10.8 0a5.4 3.9 0 1 0 -10.8 0M145.4 178.0a5.8 4.2 0 1 0 11.7 0a5.8 4.2 0 1 0 -11.7 0M87.1 178.0a5.1 3.7 0 1 0 10.2 0a5.1 3.7 0 1 0 -10.2 0M184.2 178.1a5.0 3.6 0 1 0 10.1 0a5.0 3.6 0 1 0 -10.1 0M211.8 178.5a6.3 4.5 0 1 0 12.6 0a6.3 4.5 0 1 0 -12.6 0M187.4 178.5a5.9 4.2 0 1 0 11.7 0a5.9 4.2 0 1 0 -11.7 0M121.1 178.6a6.0 4.3 0 1 0 12.0 0a6.0 4.3 0 1 0 -12.0 0"/>
<path fill="#c6a266" d="M103.5 177.5a5.9 4.2 0 1 0 11.7 0a5.9 4.2 0 1 0 -11.7 0M181.4 177.5a5.8 4.2 0 1 0 11.5 0a5.8 4.2 0 1 0 -11.5 0M223.4 178.1a5.4 3.9 0 1 0 10.7 0a5.4 3.9 0 1 0 -10.7 0M198.4 178.6a5.3 3.8 0 1 0 10.6 0a5.3 3.8 0 1 0 -10.6 0M225.4 178.6a5.1 3.7 0 1 0 10.3 0a5.1 3.7 0 1 0 -10.3 0"/>
<path fill="#dcc08a" d="M210.4 177.6a6.0 4.3 0 1 0 11.9 0a6.0 4.3 0 1 0 -11.9 0M196.1 177.7a5.9 4.3 0 1 0 11.8 0a5.9 4.3 0 1 0 -11.8 0M225.1 177.8a5.6 4.0 0 1 0 11.1 0a5.6 4.0 0 1 0 -11.1 0M219.4 177.9a5.6 4.0 0 1 0 11.2 0a5.6 4.0 0 1 0 -11.2 0M218.3 177.9a5.0 3.6 0 1 0 10.0 0a5.0 3.6 0 1 0 -10.0 0M128.1 178.5a5.6 4.0 0 1 0 11.1 0a5.6 4.0 0 1 0 -11.1 0"/>
<path fill="#cfae74" d="M213.9 177.7a6.0 4.3 0 1 0 12.0 0a6.0 4.3 0 1 0 -12.0 0M198.4 177.9a5.1 3.7 0 1 0 10.2 0a5.1 3.7 0 1 0 -10.2 0M201.6 177.9a6.5 4.7 0 1 0 12.9 0a6.5 4.7 0 1 0 -12.9 0M194.2 178.7a6.1 4.4 0 1 0 12.2 0a6.1 4.4 0 1 0 -12.2 0"/>
<path fill="#4a2511" d="M211.5 177.7a3.0 2.1 0 1 0 5.9 0a3.0 2.1 0 1 0 -5.9 0M163.9 177.6a2.9 2.0 0 1 0 5.7 0a2.9 2.0 0 1 0 -5.7 0M180.1 177.5a3.3 2.3 0 1 0 6.5 0a3.3 2.3 0 1 0 -6.5 0M214.5 177.4a3.1 2.1 0 1 0 6.2 0a3.1 2.1 0 1 0 -6.2 0M217.3 178.0a3.1 2.2 0 1 0 6.2 0a3.1 2.2 0 1 0 -6.2 0M198.2 177.4a3.1 2.1 0 1 0 6.2 0a3.1 2.1 0 1 0 -6.2 0M229.0 178.4a2.9 2.0 0 1 0 5.8 0a2.9 2.0 0 1 0 -5.8 0M200.0 178.6a2.6 1.8 0 1 0 5.3 0a2.6 1.8 0 1 0 -5.3 0M196.6 177.6a3.2 2.2 0 1 0 6.4 0a3.2 2.2 0 1 0 -6.4 0M186.0 178.0a2.6 1.8 0 1 0 5.3 0a2.6 1.8 0 1 0 -5.3 0"/>
<path fill="#cfae74" d="M69.4 178.7a5.5 3.9 0 1 0 11.0 0a5.5 3.9 0 1 0 -11.0 0M206.2 178.9a5.5 4.0 0 1 0 11.0 0a5.5 4.0 0 1 0 -11.0 0M136.4 179.0a5.9 4.2 0 1 0 11.7 0a5.9 4.2 0 1 0 -11.7 0M213.4 179.5a6.5 4.7 0 1 0 12.9 0a6.5 4.7 0 1 0 -12.9 0M200.6 179.6a6.0 4.3 0 1 0 12.0 0a6.0 4.3 0 1 0 -12.0 0M87.2 179.9a5.2 3.7 0 1 0 10.3 0a5.2 3.7 0 1 0 -10.3 0M226.7 180.3a5.3 3.8 0 1 0 10.7 0a5.3 3.8 0 1 0 -10.7 0"/>
<path fill="#cba86e" d="M217.8 178.7a5.6 4.0 0 1 0 11.2 0a5.6 4.0 0 1 0 -11.2 0M210.5 179.2a6.1 4.4 0 1 0 12.2 0a6.1 4.4 0 1 0 -12.2 0M186.1 179.5a5.0 3.6 0 1 0 10.0 0a5.0 3.6 0 1 0 -10.0 0M205.6 180.1a5.6 4.1 0 1 0 11.3 0a5.6 4.1 0 1 0 -11.3 0M184.3 180.1a6.0 4.3 0 1 0 12.0 0a6.0 4.3 0 1 0 -12.0 0M160.7 180.4a5.5 3.9 0 1 0 10.9 0a5.5 3.9 0 1 0 -10.9 0M178.0 180.6a6.1 4.4 0 1 0 12.2 0a6.1 4.4 0 1 0 -12.2 0"/>
<path fill="#c6a266" d="M219.8 178.9a5.4 3.9 0 1 0 10.8 0a5.4 3.9 0 1 0 -10.8 0M84.2 179.2a5.0 3.6 0 1 0 10.1 0a5.0 3.6 0 1 0 -10.1 0M188.8 179.8a5.1 3.6 0 1 0 10.1 0a5.1 3.6 0 1 0 -10.1 0M209.5 179.9a6.4 4.6 0 1 0 12.9 0a6.4 4.6 0 1 0 -12.9 0M155.8 180.4a6.0 4.3 0 1 0 12.0 0a6.0 4.3 0 1 0 -12.0 0M67.5 180.8a5.5 3.9 0 1 0 10.9 0a5.5 3.9 0 1 0 -10.9 0"/>
<path fill="#d6b880" d="M165.2 179.1a5.4 3.9 0 1 0 10.9 0a5.4 3.9 0 1 0 -10.9 0M91.8 179.4a5.5 3.9 0 1 0 10.9 0a5.5 3.9 0 1 0 -10.9 0M204.7 180.1a6.1 4.4 0 1 0 12.2 0a6.1 4.4 0 1 0 -12.2 0M156.5 180.1a5.0 3.6 0 1 0 10.0 0a5.0 3.6 0 1 0 -10.0 0M195.6 180.2a5.6 4.0 0 1 0 11.2 0a5.6 4.0 0 1 0 -11.2 0M222.7 180.5a6.1 4.4 0 1 0 12.1 0a6.1 4.4 0 1 0 -12.1 0M195.8 180.8a6.0 4.3 0 1 0 11.9 0a6.0 4.3 0 1 0 -11.9 0"/>
<path fill="#dcc08a" d="M192.0 179.7a5.3 3.8 0 1 0 10.6 0a5.3 3.8 0 1 0 -10.6 0M194.4 180.1a6.3 4.6 0 1 0 12.7 0a6.3 4.6 0 1 0 -12.7 0M200.8 180.5a6.0 4.3 0 1 0 12.0 0a6.0 4.3 0 1 0 -12.0 0"/>
<path fill="#4a2511" d="M72.4 179.0a2.8 2.0 0 1 0 5.7 0a2.8 2.0 0 1 0 -5.7 0M209.8 179.1a2.9 2.0 0 1 0 5.7 0a2.9 2.0 0 1 0 -5.7 0M168.8 179.4a2.8 2.0 0 1 0 5.6 0a2.8 2.0 0 1 0 -5.6 0M212.5 179.1a3.2 2.2 0 1 0 6.4 0a3.2 2.2 0 1 0 -6.4 0M93.1 179.0a2.8 2.0 0 1 0 5.7 0a2.8 2.0 0 1 0 -5.7 0M215.9 179.3a3.4 2.3 0 1 0 6.7 0a3.4 2.3 0 1 0 -6.7 0M211.4 180.6a3.3 2.3 0 1 0 6.7 0a3.3 2.3 0 1 0 -6.7 0M207.7 180.1a3.2 2.2 0 1 0 6.3 0a3.2 2.2 0 1 0 -6.3 0M159.7 180.7a2.6 1.8 0 1 0 5.2 0a2.6 1.8 0 1 0 -5.2 0M197.7 179.7a2.9 2.0 0 1 0 5.8 0a2.9 2.0 0 1 0 -5.8 0M230.6 180.3a2.8 1.9 0 1 0 5.5 0a2.8 1.9 0 1 0 -5.5 0M163.2 180.7a2.8 2.0 0 1 0 5.7 0a2.8 2.0 0 1 0 -5.7 0M157.7 180.6a3.1 2.2 0 1 0 6.3 0a3.1 2.2 0 1 0 -6.3 0M204.5 180.6a3.1 2.2 0 1 0 6.3 0a3.1 2.2 0 1 0 -6.3 0M182.3 180.9a3.2 2.2 0 1 0 6.4 0a3.2 2.2 0 1 0 -6.4 0M199.6 180.4a3.1 2.1 0 1 0 6.2 0a3.1 2.1 0 1 0 -6.2 0M69.0 180.7a2.8 2.0 0 1 0 5.7 0a2.8 2.0 0 1 0 -5.7 0"/>
<path fill="#cba86e" d="M208.2 181.0a5.0 3.6 0 1 0 10.1 0a5.0 3.6 0 1 0 -10.1 0M179.7 181.2a6.4 4.6 0 1 0 12.7 0a6.4 4.6 0 1 0 -12.7 0M186.2 181.7a6.0 4.3 0 1 0 12.0 0a6.0 4.3 0 1 0 -12.0 0M231.3 181.9a6.3 4.5 0 1 0 12.6 0a6.3 4.5 0 1 0 -12.6 0M226.1 182.0a5.2 3.7 0 1 0 10.4 0a5.2 3.7 0 1 0 -10.4 0M68.2 182.2a5.5 4.0 0 1 0 11.0 0a5.5 4.0 0 1 0 -11.0 0"/>
<path fill="#d6b880" d="M111.2 181.0a6.3 4.5 0 1 0 12.6 0a6.3 4.5 0 1 0 -12.6 0M232.3 181.4a5.0 3.6 0 1 0 10.1 0a5.0 3.6 0 1 0 -10.1 0M63.4 181.4a6.4 4.6 0 1 0 12.8 0a6.4 4.6 0 1 0 -12.8 0M203.8 181.8a6.1 4.4 0 1 0 12.1 0a6.1 4.4 0 1 0 -12.1 0M145.8 181.9a6.4 4.6 0 1 0 12.7 0a6.4 4.6 0 1 0 -12.7 0M96.5 182.2a5.6 4.0 0 1 0 11.2 0a5.6 4.0 0 1 0 -11.2 0M225.7 182.2a6.3 4.6 0 1 0 12.7 0a6.3 4.6 0 1 0 -12.7 0"/>
<path fill="#c6a266" d="M59.9 181.2a6.0 4.3 0 1 0 12.1 0a6.0 4.3 0 1 0 -12.1 0M69.4 181.8a5.4 3.9 0 1 0 10.9 0a5.4 3.9 0 1 0 -10.9 0M232.8 182.0a5.2 3.8 0 1 0 10.4 0a5.2 3.8 0 1 0 -10.4 0M188.9 182.2a5.1 3.7 0 1 0 10.2 0a5.1 3.7 0 1 0 -10.2 0M157.8 182.8a6.1 4.4 0 1 0 12.2 0a6.1 4.4 0 1 0 -12.2 0"/>
<path fill="#dcc08a" d="M77.5 181.4a5.3 3.8 0 1 0 10.6 0a5.3 3.8 0 1 0 -10.6 0M165.7 181.6a6.0 4.3 0 1 0 11.9 0a6.0 4.3 0 1 0 -11.9 0M227.8 181.6a6.0 4.3 0 1 0 12.0 0a6.0 4.3 0 1 0 -12.0 0M183.3 182.6a5.2 3.7 0 1 0 10.3 0a5.2 3.7 0 1 0 -10.3 0M184.2 182.6a6.1 4.4 0 1 0 12.3 0a6.1 4.4 0 1 0 -12.3 0M182.4 182.8a5.9 4.2 0 1 0 11.7 0a5.9 4.2 0 1 0 -11.7 0"/>
<path fill="#cfae74" d="M71.1 181.9a6.2 4.5 0 1 0 12.5 0a6.2 4.5 0 1 0 -12.5 0M54.0 181.9a5.5 4.0 0 1 0 11.1 0a5.5 4.0 0 1 0 -11.1 0M222.8 182.3a6.2 4.4 0 1 0 12.4 0a6.2 4.4 0 1 0 -12.4 0M184.5 182.4a5.6 4.0 0 1 0 11.2 0a5.6 4.0 0 1 0 -11.2 0M185.3 182.5a5.2 3.7 0 1 0 10.3 0a5.2 3.7 0 1 0 -10.3 0M199.9 182.9a5.3 3.8 0 1 0 10.7 0a5.3 3.8 0 1 0 -10.7 0"/>
<path fill="#4a2511" d="M115.2 181.6a3.3 2.3 0 1 0 6.6 0a3.3 2.3 0 1 0 -6.6 0M63.8 181.4a3.1 2.2 0 1 0 6.3 0a3.1 2.2 0 1 0 -6.3 0M67.5 181.9a3.3 2.3 0 1 0 6.7 0a3.3 2.3 0 1 0 -6.7 0M229.5 181.6a3.1 2.2 0 1 0 6.2 0a3.1 2.2 0 1 0 -6.2 0M73.1 181.8a2.8 2.0 0 1 0 5.7 0a2.8 2.0 0 1 0 -5.7 0M207.4 182.4a3.2 2.2 0 1 0 6.3 0a3.2 2.2 0 1 0 -6.3 0M234.8 182.1a3.3 2.3 0 1 0 6.6 0a3.3 2.3 0 1 0 -6.6 0M75.4 181.7a3.2 2.2 0 1 0 6.5 0a3.2 2.2 0 1 0 -6.5 0M228.4 182.6a2.7 1.9 0 1 0 5.4 0a2.7 1.9 0 1 0 -5.4 0M71.1 182.5a2.9 2.0 0 1 0 5.7 0a2.9 2.0 0 1 0 -5.7 0M192.3 183.0a2.6 1.8 0 1 0 5.3 0a2.6 1.8 0 1 0 -5.3 0M229.7 182.8a3.3 2.3 0 1 0 6.6 0a3.3 2.3 0 1 0 -6.6 0M186.3 182.2a2.9 2.0 0 1 0 5.8 0a2.9 2.0 0 1 0 -5.8 0M186.8 182.0a2.7 1.9 0 1 0 5.4 0a2.7 1.9 0 1 0 -5.4 0M185.1 183.3a2.7 1.9 0 1 0 5.4 0a2.7 1.9 0 1 0 -5.4 0M186.3 182.2a3.2 2.2 0 1 0 6.4 0a3.2 2.2 0 1 0 -6.4 0"/>
<path fill="#d6b880" d="M161.0 183.2a6.1 4.4 0 1 0 12.2 0a6.1 4.4 0 1 0 -12.2 0M227.3 184.3a5.8 4.2 0 1 0 11.7 0a5.8 4.2 0 1 0 -11.7 0M147.1 184.5a5.8 4.2 0 1 0 11.6 0a5.8 4.2 0 1 0 -11.6 0M127.3 184.6a6.0 4.3 0 1 0 11.9 0a6.0 4.3 0 1 0 -11.9 0M166.1 184.9a5.4 3.9 0 1 0 10.8 0a5.4 3.9 0 1 0 -10.8 0M178.1 185.1a5.7 4.1 0 1 0 11.3 0a5.7 4.1 0 1 0 -11.3 0M229.7 185.3a5.7 4.1 0 1 0 11.3 0a5.7 4.1 0 1 0 -11.3 0"/>
<path fill="#cba86e" d="M76.6 183.3a5.6 4.0 0 1 0 11.1 0a5.6 4.0 0 1 0 -11.1 0M147.6 183.8a5.9 4.3 0 1 0 11.9 0a5.9 4.3 0 1 0 -11.9 0M157.6 183.8a5.0 3.6 0 1 0 10.1 0a5.0 3.6 0 1 0 -10.1 0M224.2 183.9a6.1 4.4 0 1 0 12.1 0a6.1 4.4 0 1 0 -12.1 0M93.2 184.0a6.4 4.6 0 1 0 12.7 0a6.4 4.6 0 1 0 -12.7 0M222.8 184.7a5.8 4.2 0 1 0 11.5 0a5.8 4.2 0 1 0 -11.5 0M128.1 184.8a6.1 4.4 0 1 0 12.2 0a6.1 4.4 0 1 0 -12.2 0M236.6 185.1a5.0 3.6 0 1 0 10.1 0a5.0 3.6 0 1 0 -10.1 0M236.1 185.6a6.2 4.4 0 1 0 12.3 0a6.2 4.4 0 1 0 -12.3 0"/>
<path fill="#dcc08a" d="M66.9 183.8a5.0 3.6 0 1 0 10.0 0a5.0 3.6 0 1 0 -10.0 0M164.5 183.8a5.5 4.0 0 1 0 11.0 0a5.5 4.0 0 1 0 -11.0 0M234.2 183.9a5.2 3.8 0 1 0 10.5 0a5.2 3.8 0 1 0 -10.5 0M67.6 184.6a5.1 3.7 0 1 0 10.2 0a5.1 3.7 0 1 0 -10.2 0M235.3 185.2a6.3 4.6 0 1 0 12.7 0a6.3 4.6 0 1 0 -12.7 0M223.2 185.5a6.1 4.4 0 1 0 12.3 0a6.1 4.4 0 1 0 -12.3 0M234.1 185.8a5.7 4.1 0 1 0 11.5 0a5.7 4.1 0 1 0 -11.5 0M233.9 185.8a5.1 3.6 0 1 0 10.1 0a5.1 3.6 0 1 0 -10.1 0"/>
<path fill="#cfae74" d="M156.6 184.2a6.0 4.4 0 1 0 12.1 0a6.0 4.4 0 1 0 -12.1 0M166.7 184.3a5.5 4.0 0 1 0 11.0 0a5.5 4.0 0 1 0 -11.0 0M235.3 184.7a5.5 3.9 0 1 0 11.0 0a5.5 3.9 0 1 0 -11.0 0M55.6 185.2a5.6 4.1 0 1 0 11.3 0a5.6 4.1 0 1 0 -11.3 0"/>
<path fill="#c6a266" d="M177.2 184.6a5.8 4.2 0 1 0 11.6 0a5.8 4.2 0 1 0 -11.6 0M220.6 185.1a5.7 4.1 0 1 0 11.3 0a5.7 4.1 0 1 0 -11.3 0"/>
<path fill="#4a2511" d="M163.4 183.2a3.2 2.2 0 1 0 6.3 0a3.2 2.2 0 1 0 -6.3 0M78.7 182.9a2.9 2.0 0 1 0 5.8 0a2.9 2.0 0 1 0 -5.8 0M168.1 184.5a2.9 2.0 0 1 0 5.7 0a2.9 2.0 0 1 0 -5.7 0M235.4 183.6a2.7 1.9 0 1 0 5.4 0a2.7 1.9 0 1 0 -5.4 0M159.1 184.9a3.1 2.2 0 1 0 6.3 0a3.1 2.2 0 1 0 -6.3 0M169.7 184.6a2.9 2.0 0 1 0 5.7 0a2.9 2.0 0 1 0 -5.7 0M129.9 184.1a3.1 2.2 0 1 0 6.2 0a3.1 2.2 0 1 0 -6.2 0M179.8 184.5a3.0 2.1 0 1 0 6.0 0a3.0 2.1 0 1 0 -6.0 0M224.3 184.2a3.0 2.1 0 1 0 6.0 0a3.0 2.1 0 1 0 -6.0 0M238.8 184.6a2.8 2.0 0 1 0 5.7 0a2.8 2.0 0 1 0 -5.7 0M169.4 184.5a2.8 2.0 0 1 0 5.6 0a2.8 2.0 0 1 0 -5.6 0M224.0 185.1a2.9 2.0 0 1 0 5.9 0a2.9 2.0 0 1 0 -5.9 0M58.2 185.3a2.9 2.0 0 1 0 5.9 0a2.9 2.0 0 1 0 -5.9 0M238.1 185.0a3.3 2.3 0 1 0 6.6 0a3.3 2.3 0 1 0 -6.6 0M232.8 185.9a2.9 2.0 0 1 0 5.9 0a2.9 2.0 0 1 0 -5.9 0M237.9 185.1a3.2 2.2 0 1 0 6.4 0a3.2 2.2 0 1 0 -6.4 0M238.1 185.5a3.0 2.1 0 1 0 6.0 0a3.0 2.1 0 1 0 -6.0 0"/>
<path fill="#c6a266" d="M126.5 186.0a5.7 4.1 0 1 0 11.5 0a5.7 4.1 0 1 0 -11.5 0M162.7 188.5a6.0 4.3 0 1 0 12.0 0a6.0 4.3 0 1 0 -12.0 0M229.8 188.5a6.4 4.6 0 1 0 12.7 0a6.4 4.6 0 1 0 -12.7 0M132.0 189.1a5.6 4.0 0 1 0 11.2 0a5.6 4.0 0 1 0 -11.2 0M95.1 189.2a6.4 4.6 0 1 0 12.8 0a6.4 4.6 0 1 0 -12.8 0M139.7 189.8a6.3 4.6 0 1 0 12.6 0a6.3 4.6 0 1 0 -12.6 0"/>
<path fill="#d6b880" d="M147.9 186.3a5.9 4.3 0 1 0 11.8 0a5.9 4.3 0 1 0 -11.8 0M81.9 186.5a5.2 3.7 0 1 0 10.4 0a5.2 3.7 0 1 0 -10.4 0M102.2 187.6a5.3 3.8 0 1 0 10.6 0a5.3 3.8 0 1 0 -10.6 0M61.2 189.0a5.9 4.2 0 1 0 11.7 0a5.9 4.2 0 1 0 -11.7 0M149.5 189.3a6.1 4.4 0 1 0 12.3 0a6.1 4.4 0 1 0 -12.3 0M57.6 189.4a5.2 3.7 0 1 0 10.4 0a5.2 3.7 0 1 0 -10.4 0"/>
<path fill="#cba86e" d="M155.7 186.5a6.4 4.6 0 1 0 12.8 0a6.4 4.6 0 1 0 -12.8 0M156.1 186.8a5.9 4.3 0 1 0 11.8 0a5.9 4.3 0 1 0 -11.8 0M236.9 187.4a5.5 4.0 0 1 0 11.1 0a5.5 4.0 0 1 0 -11.1 0M120.5 188.0a5.4 3.9 0 1 0 10.8 0a5.4 3.9 0 1 0 -10.8 0M84.2 188.7a5.8 4.1 0 1 0 11.5 0a5.8 4.1 0 1 0 -11.5 0M222.3 188.9a6.1 4.4 0 1 0 12.2 0a6.1 4.4 0 1 0 -12.2 0M58.9 189.2a5.7 4.1 0 1 0 11.4 0a5.7 4.1 0 1 0 -11.4 0M244.0 189.7a5.4 3.9 0 1 0 10.8 0a5.4 3.9 0 1 0 -10.8 0"/>
<path fill="#cfae74" d="M144.4 187.0a5.4 3.9 0 1 0 10.8 0a5.4 3.9 0 1 0 -10.8 0M136.4 187.3a6.5 4.7 0 1 0 13.0 0a6.5 4.7 0 1 0 -13.0 0M154.7 187.4a6.3 4.5 0 1 0 12.6 0a6.3 4.5 0 1 0 -12.6 0M55.8 188.0a5.0 3.6 0 1 0 10.1 0a5.0 3.6 0 1 0 -10.1 0M227.0 189.9a6.0 4.3 0 1 0 12.0 0a6.0 4.3 0 1 0 -12.0 0"/>
<path fill="#dcc08a" d="M169.0 187.3a5.1 3.7 0 1 0 10.2 0a5.1 3.7 0 1 0 -10.2 0M150.6 188.1a6.4 4.6 0 1 0 12.7 0a6.4 4.6 0 1 0 -12.7 0M71.1 188.2a5.1 3.7 0 1 0 10.2 0a5.1 3.7 0 1 0 -10.2 0M156.4 189.4a5.6 4.0 0 1 0 11.1 0a5.6 4.0 0 1 0 -11.1 0M117.7 189.8a6.5 4.7 0 1 0 12.9 0a6.5 4.7 0 1 0 -12.9 0"/>
<path fill="#4a2511" d="M129.6 185.8a3.0 2.1 0 1 0 6.0 0a3.0 2.1 0 1 0 -6.0 0M82.9 186.1a2.7 1.9 0 1 0 5.4 0a2.7 1.9 0 1 0 -5.4 0M160.0 186.4a3.3 2.3 0 1 0 6.6 0a3.3 2.3 0 1 0 -6.6 0M159.7 186.4a3.1 2.1 0 1 0 6.2 0a3.1 2.1 0 1 0 -6.2 0M147.0 187.6a2.8 1.9 0 1 0 5.6 0a2.8 1.9 0 1 0 -5.6 0M172.3 186.9a2.7 1.8 0 1 0 5.3 0a2.7 1.8 0 1 0 -5.3 0M138.7 186.9a3.4 2.3 0 1 0 6.8 0a3.4 2.3 0 1 0 -6.8 0M106.1 187.6a2.8 1.9 0 1 0 5.5 0a2.8 1.9 0 1 0 -5.5 0M124.1 187.5a2.8 1.9 0 1 0 5.6 0a2.8 1.9 0 1 0 -5.6 0M152.3 187.7a3.3 2.3 0 1 0 6.6 0a3.3 2.3 0 1 0 -6.6 0M74.1 188.5a2.6 1.8 0 1 0 5.3 0a2.6 1.8 0 1 0 -5.3 0M232.6 188.4a3.3 2.3 0 1 0 6.6 0a3.3 2.3 0 1 0 -6.6 0M87.1 189.0a3.0 2.1 0 1 0 6.0 0a3.0 2.1 0 1 0 -6.0 0M226.2 189.1a3.2 2.2 0 1 0 6.4 0a3.2 2.2 0 1 0 -6.4 0M63.4 189.6a3.1 2.1 0 1 0 6.1 0a3.1 2.1 0 1 0 -6.1 0M99.4 189.4a3.3 2.3 0 1 0 6.6 0a3.3 2.3 0 1 0 -6.6 0M160.0 189.7a2.9 2.0 0 1 0 5.8 0a2.9 2.0 0 1 0 -5.8 0M60.2 189.1a2.7 1.9 0 1 0 5.4 0a2.7 1.9 0 1 0 -5.4 0M245.8 190.1a2.8 1.9 0 1 0 5.6 0a2.8 1.9 0 1 0 -5.6 0M143.1 189.5a3.3 2.3 0 1 0 6.6 0a3.3 2.3 0 1 0 -6.6 0M121.2 189.7a3.4 2.3 0 1 0 6.7 0a3.4 2.3 0 1 0 -6.7 0M230.3 190.1a3.1 2.2 0 1 0 6.2 0a3.1 2.2 0 1 0 -6.2 0"/>
<path fill="#dcc08a" d="M157.4 190.0a5.7 4.1 0 1 0 11.5 0a5.7 4.1 0 1 0 -11.5 0M109.9 190.0a6.3 4.5 0 1 0 12.5 0a6.3 4.5 0 1 0 -12.5 0M238.5 190.6a6.3 4.5 0 1 0 12.6 0a6.3 4.5 0 1 0 -12.6 0M63.7 190.9a5.4 3.9 0 1 0 10.9 0a5.4 3.9 0 1 0 -10.9 0M63.5 192.6a5.4 3.9 0 1 0 10.7 0a5.4 3.9 0 1 0 -10.7 0M52.9 192.6a6.1 4.4 0 1 0 12.2 0a6.1 4.4 0 1 0 -12.2 0"/>
<path fill="#d6b880" d="M228.2 190.1a5.9 4.2 0 1 0 11.7 0a5.9 4.2 0 1 0 -11.7 0M130.2 190.3a6.4 4.6 0 1 0 12.8 0a6.4 4.6 0 1 0 -12.8 0M175.2 190.7a6.2 4.5 0 1 0 12.4 0a6.2 4.5 0 1 0 -12.4 0M79.9 191.0a5.9 4.3 0 1 0 11.8 0a5.9 4.3 0 1 0 -11.8 0M243.1 191.2a5.8 4.2 0 1 0 11.6 0a5.8 4.2 0 1 0 -11.6 0M244.5 191.7a5.1 3.7 0 1 0 10.2 0a5.1 3.7 0 1 0 -10.2 0M97.8 191.8a6.0 4.3 0 1 0 11.9 0a6.0 4.3 0 1 0 -11.9 0M243.3 191.9a6.1 4.4 0 1 0 12.1 0a6.1 4.4 0 1 0 -12.1 0M246.9 192.4a5.7 4.1 0 1 0 11.4 0a5.7 4.1 0 1 0 -11.4 0M247.7 192.6a5.3 3.8 0 1 0 10.6 0a5.3 3.8 0 1 0 -10.6 0"/>
<path fill="#c6a266" d="M52.6 190.2a5.6 4.0 0 1 0 11.2 0a5.6 4.0 0 1 0 -11.2 0M235.4 190.5a5.6 4.0 0 1 0 11.2 0a5.6 4.0 0 1 0 -11.2 0M242.3 190.8a5.4 3.9 0 1 0 10.9 0a5.4 3.9 0 1 0 -10.9 0M174.0 190.9a6.3 4.6 0 1 0 12.7 0a6.3 4.6 0 1 0 -12.7 0M95.6 192.0a5.2 3.8 0 1 0 10.4 0a5.2 3.8 0 1 0 -10.4 0M234.7 192.1a6.2 4.4 0 1 0 12.3 0a6.2 4.4 0 1 0 -12.3 0M245.3 192.9a5.7 4.1 0 1 0 11.4 0a5.7 4.1 0 1 0 -11.4 0"/>
<path fill="#cfae74" d="M242.3 190.6a5.1 3.7 0 1 0 10.2 0a5.1 3.7 0 1 0 -10.2 0M67.4 191.7a5.9 4.3 0 1 0 11.9 0a5.9 4.3 0 1 0 -11.9 0M245.8 192.3a5.9 4.3 0 1 0 11.9 0a5.9 4.3 0 1 0 -11.9 0M244.9 192.6a5.9 4.2 0 1 0 11.7 0a5.9 4.2 0 1 0 -11.7 0M246.9 192.8a6.2 4.5 0 1 0 12.5 0a6.2 4.5 0 1 0 -12.5 0M239.4 192.9a6.4 4.6 0 1 0 12.7 0a6.4 4.6 0 1 0 -12.7 0"/>
<path fill="#cba86e" d="M96.2 192.7a6.3 4.6 0 1 0 12.7 0a6.3 4.6 0 1 0 -12.7 0"/>
<path fill="#4a2511" d="M159.3 190.7a3.0 2.1 0 1 0 6.0 0a3.0 2.1 0 1 0 -6.0 0M231.6 190.5a3.0 2.1 0 1 0 6.1 0a3.0 2.1 0 1 0 -6.1 0M55.5 190.4a2.9 2.0 0 1 0 5.8 0a2.9 2.0 0 1 0 -5.8 0M132.2 190.5a3.3 2.3 0 1 0 6.6 0a3.3 2.3 0 1 0 -6.6 0M240.2 191.0a3.3 2.3 0 1 0 6.6 0a3.3 2.3 0 1 0 -6.6 0M244.9 191.5a3.0 2.1 0 1 0 6.0 0a3.0 2.1 0 1 0 -6.0 0M236.9 192.1a3.2 2.2 0 1 0 6.4 0a3.2 2.2 0 1 0 -6.4 0M248.2 193.0a3.0 2.0 0 1 0 5.9 0a3.0 2.0 0 1 0 -5.9 0M249.4 192.9a2.8 1.9 0 1 0 5.5 0a2.8 1.9 0 1 0 -5.5 0M249.2 193.6a3.2 2.2 0 1 0 6.5 0a3.2 2.2 0 1 0 -6.5 0"/>
<path fill="#cfae74" d="M65.8 193.1a5.1 3.6 0 1 0 10.1 0a5.1 3.6 0 1 0 -10.1 0M250.4 194.5a6.2 4.4 0 1 0 12.3 0a6.2 4.4 0 1 0 -12.3 0M230.7 194.5a5.2 3.8 0 1 0 10.5 0a5.2 3.8 0 1 0 -10.5 0M250.3 194.6a6.3 4.5 0 1 0 12.6 0a6.3 4.5 0 1 0 -12.6 0M250.6 195.3a6.1 4.4 0 1 0 12.1 0a6.1 4.4 0 1 0 -12.1 0M247.3 195.5a5.7 4.1 0 1 0 11.4 0a5.7 4.1 0 1 0 -11.4 0M251.7 195.5a5.5 3.9 0 1 0 10.9 0a5.5 3.9 0 1 0 -10.9 0M251.5 195.6a5.9 4.2 0 1 0 11.8 0a5.9 4.2 0 1 0 -11.8 0"/>
<path fill="#cba86e" d="M239.8 193.2a6.4 4.6 0 1 0 12.8 0a6.4 4.6 0 1 0 -12.8 0M229.3 194.3a5.8 4.2 0 1 0 11.7 0a5.8 4.2 0 1 0 -11.7 0M244.3 195.6a6.1 4.4 0 1 0 12.2 0a6.1 4.4 0 1 0 -12.2 0"/>
<path fill="#dcc08a" d="M231.4 193.8a5.7 4.1 0 1 0 11.4 0a5.7 4.1 0 1 0 -11.4 0M245.4 193.8a5.9 4.3 0 1 0 11.8 0a5.9 4.3 0 1 0 -11.8 0M73.0 194.0a5.5 4.0 0 1 0 11.0 0a5.5 4.0 0 1 0 -11.0 0M93.1 194.6a6.1 4.4 0 1 0 12.2 0a6.1 4.4 0 1 0 -12.2 0M249.5 194.6a5.3 3.8 0 1 0 10.7 0a5.3 3.8 0 1 0 -10.7 0M239.3 195.3a5.8 4.2 0 1 0 11.6 0a5.8 4.2 0 1 0 -11.6 0M83.4 195.6a5.7 4.1 0 1 0 11.4 0a5.7 4.1 0 1 0 -11.4 0M251.4 195.6a5.2 3.8 0 1 0 10.4 0a5.2 3.8 0 1 0 -10.4 0"/>
<path fill="#c6a266" d="M73.4 194.1a6.0 4.3 0 1 0 12.1 0a6.0 4.3 0 1 0 -12.1 0M247.5 194.5a5.6 4.0 0 1 0 11.2 0a5.6 4.0 0 1 0 -11.2 0M233.8 194.5a5.0 3.6 0 1 0 10.1 0a5.0 3.6 0 1 0 -10.1 0M251.9 195.7a5.2 3.7 0 1 0 10.3 0a5.2 3.7 0 1 0 -10.3 0"/>
<path fill="#d6b880" d="M247.0 194.1a5.2 3.8 0 1 0 10.5 0a5.2 3.8 0 1 0 -10.5 0M64.0 194.9a6.0 4.3 0 1 0 12.0 0a6.0 4.3 0 1 0 -12.0 0M227.2 195.0a5.8 4.2 0 1 0 11.7 0a5.8 4.2 0 1 0 -11.7 0M97.6 195.0a5.2 3.8 0 1 0 10.5 0a5.2 3.8 0 1 0 -10.5 0M54.4 195.3a6.1 4.4 0 1 0 12.3 0a6.1 4.4 0 1 0 -12.3 0M251.4 195.4a6.3 4.6 0 1 0 12.7 0a6.3 4.6 0 1 0 -12.7 0M234.8 195.7a6.3 4.5 0 1 0 12.5 0a6.3 4.5 0 1 0 -12.5 0"/>
<path fill="#4a2511" d="M243.6 193.7a3.3 2.3 0 1 0 6.7 0a3.3 2.3 0 1 0 -6.7 0M248.4 193.7a3.1 2.1 0 1 0 6.2 0a3.1 2.1 0 1 0 -6.2 0M74.4 194.8a2.9 2.0 0 1 0 5.7 0a2.9 2.0 0 1 0 -5.7 0M233.9 195.2a2.7 1.9 0 1 0 5.5 0a2.7 1.9 0 1 0 -5.5 0M251.9 194.8a2.8 1.9 0 1 0 5.6 0a2.8 1.9 0 1 0 -5.6 0M99.2 195.4a2.7 1.9 0 1 0 5.4 0a2.7 1.9 0 1 0 -5.4 0M248.8 195.6a3.0 2.1 0 1 0 5.9 0a3.0 2.1 0 1 0 -5.9 0M255.3 196.1a3.1 2.1 0 1 0 6.1 0a3.1 2.1 0 1 0 -6.1 0M246.7 195.9a3.2 2.2 0 1 0 6.3 0a3.2 2.2 0 1 0 -6.3 0M254.3 195.8a2.7 1.9 0 1 0 5.4 0a2.7 1.9 0 1 0 -5.4 0M255.3 195.7a2.7 1.9 0 1 0 5.4 0a2.7 1.9 0 1 0 -5.4 0M236.3 195.3a3.3 2.3 0 1 0 6.5 0a3.3 2.3 0 1 0 -6.5 0"/>
<path fill="#cfae74" d="M243.8 195.7a6.2 4.4 0 1 0 12.3 0a6.2 4.4 0 1 0 -12.3 0M83.7 196.3a5.9 4.3 0 1 0 11.8 0a5.9 4.3 0 1 0 -11.8 0M56.3 198.8a5.1 3.7 0 1 0 10.2 0a5.1 3.7 0 1 0 -10.2 0M79.3 201.0a6.2 4.5 0 1 0 12.4 0a6.2 4.5 0 1 0 -12.4 0"/>
<path fill="#dcc08a" d="M232.7 195.7a5.1 3.7 0 1 0 10.3 0a5.1 3.7 0 1 0 -10.3 0M72.8 196.4a5.9 4.3 0 1 0 11.8 0a5.9 4.3 0 1 0 -11.8 0M79.3 200.7a6.5 4.7 0 1 0 12.9 0a6.5 4.7 0 1 0 -12.9 0"/>
<path fill="#c6a266" d="M250.3 195.8a5.1 3.7 0 1 0 10.2 0a5.1 3.7 0 1 0 -10.2 0M227.8 195.8a6.1 4.4 0 1 0 12.2 0a6.1 4.4 0 1 0 -12.2 0M62.8 196.6a6.2 4.5 0 1 0 12.4 0a6.2 4.5 0 1 0 -12.4 0M60.8 197.3a5.7 4.1 0 1 0 11.4 0a5.7 4.1 0 1 0 -11.4 0M85.2 200.2a5.7 4.1 0 1 0 11.3 0a5.7 4.1 0 1 0 -11.3 0M86.5 202.6a5.4 3.9 0 1 0 10.9 0a5.4 3.9 0 1 0 -10.9 0"/>
<path fill="#cba86e" d="M227.4 195.8a5.7 4.1 0 1 0 11.5 0a5.7 4.1 0 1 0 -11.5 0M252.8 196.0a6.3 4.6 0 1 0 12.7 0a6.3 4.6 0 1 0 -12.7 0M56.8 196.6a5.9 4.3 0 1 0 11.8 0a5.9 4.3 0 1 0 -11.8 0M62.8 199.8a6.0 4.3 0 1 0 11.9 0a6.0 4.3 0 1 0 -11.9 0M68.6 201.0a5.0 3.6 0 1 0 10.0 0a5.0 3.6 0 1 0 -10.0 0M70.7 201.9a5.2 3.7 0 1 0 10.4 0a5.2 3.7 0 1 0 -10.4 0M58.5 201.9a6.0 4.3 0 1 0 12.0 0a6.0 4.3 0 1 0 -12.0 0M55.4 203.0a5.3 3.8 0 1 0 10.6 0a5.3 3.8 0 1 0 -10.6 0"/>
<path fill="#d6b880" d="M70.8 199.6a6.0 4.3 0 1 0 11.9 0a6.0 4.3 0 1 0 -11.9 0M76.5 203.7a6.4 4.6 0 1 0 12.7 0a6.4 4.6 0 1 0 -12.7 0M70.3 203.8a5.8 4.2 0 1 0 11.6 0a5.8 4.2 0 1 0 -11.6 0M91.6 204.7a5.3 3.8 0 1 0 10.6 0a5.3 3.8 0 1 0 -10.6 0M79.4 204.9a5.3 3.8 0 1 0 10.6 0a5.3 3.8 0 1 0 -10.6 0"/>
<path fill="#4a2511" d="M229.6 196.5a3.0 2.1 0 1 0 6.0 0a3.0 2.1 0 1 0 -6.0 0M232.0 196.0a3.2 2.2 0 1 0 6.3 0a3.2 2.2 0 1 0 -6.3 0M255.9 196.0a3.3 2.3 0 1 0 6.6 0a3.3 2.3 0 1 0 -6.6 0M60.3 196.7a3.1 2.1 0 1 0 6.2 0a3.1 2.1 0 1 0 -6.2 0M67.0 197.0a3.2 2.2 0 1 0 6.5 0a3.2 2.2 0 1 0 -6.5 0M73.5 199.2a3.1 2.1 0 1 0 6.2 0a3.1 2.1 0 1 0 -6.2 0M87.1 200.8a2.9 2.0 0 1 0 5.9 0a2.9 2.0 0 1 0 -5.9 0M83.5 201.4a3.2 2.2 0 1 0 6.4 0a3.2 2.2 0 1 0 -6.4 0M57.3 203.4a2.8 1.9 0 1 0 5.5 0a2.8 1.9 0 1 0 -5.5 0M80.7 203.3a3.3 2.3 0 1 0 6.6 0a3.3 2.3 0 1 0 -6.6 0M73.6 204.4a3.0 2.1 0 1 0 6.0 0a3.0 2.1 0 1 0 -6.0 0"/>
<path fill="#dcc08a" d="M276.1 232.0a4.8 3.4 0 1 0 9.5 0a4.8 3.4 0 1 0 -9.5 0M145.2 244.7a4.9 3.6 0 1 0 9.9 0a4.9 3.6 0 1 0 -9.9 0"/>
<path fill="#cfae74" d="M176.7 232.6a4.8 3.5 0 1 0 9.6 0a4.8 3.5 0 1 0 -9.6 0M270.3 233.5a4.2 3.0 0 1 0 8.3 0a4.2 3.0 0 1 0 -8.3 0"/>
<path fill="#d6b880" d="M263.0 232.8a3.7 2.7 0 1 0 7.4 0a3.7 2.7 0 1 0 -7.4 0M281.2 238.9a4.6 3.3 0 1 0 9.3 0a4.6 3.3 0 1 0 -9.3 0M235.9 246.7a4.7 3.4 0 1 0 9.3 0a4.7 3.4 0 1 0 -9.3 0"/>
<path fill="#c6a266" d="M201.2 234.1a4.7 3.4 0 1 0 9.4 0a4.7 3.4 0 1 0 -9.4 0M18.9 237.7a4.9 3.5 0 1 0 9.8 0a4.9 3.5 0 1 0 -9.8 0M224.3 243.2a4.0 2.9 0 1 0 8.0 0a4.0 2.9 0 1 0 -8.0 0"/>
<path fill="#cba86e" d="M92.5 237.6a4.3 3.1 0 1 0 8.6 0a4.3 3.1 0 1 0 -8.6 0M293.2 246.3a3.7 2.7 0 1 0 7.5 0a3.7 2.7 0 1 0 -7.5 0"/>
<path fill="#4a2511" d="M180.3 233.2a2.5 1.7 0 1 0 5.0 0a2.5 1.7 0 1 0 -5.0 0M204.2 234.6a2.4 1.7 0 1 0 4.9 0a2.4 1.7 0 1 0 -4.9 0M295.9 246.6a1.9 1.3 0 1 0 3.9 0a1.9 1.3 0 1 0 -3.9 0M239.2 247.3a2.4 1.7 0 1 0 4.8 0a2.4 1.7 0 1 0 -4.8 0"/>
<rect x="0.0" y="247.5" width="1200.0" height="14.0" fill="#87a046"/>
<text x="19.5" y="256.6" font-size="7.6" fill="#2f4a18" stroke="#2f4a18" stroke-width="0.25" textLength="22.9" lengthAdjust="spacingAndGlyphs">Ma000</text>
<text x="117.5" y="256.6" font-size="7.6" fill="#2f4a18" stroke="#2f4a18" stroke-width="0.25" textLength="21.9" lengthAdjust="spacingAndGlyphs">B5000</text>
<text x="198.5" y="256.6" font-size="7.6" fill="#2f4a18" stroke="#2f4a18" stroke-width="0.25" textLength="22.9" lengthAdjust="spacingAndGlyphs">Bh500</text>
<text x="310.5" y="256.6" font-size="7.6" fill="#2f4a18" stroke="#2f4a18" stroke-width="0.25" textLength="20.9" lengthAdjust="spacingAndGlyphs">Ba000</text>
<text x="426.5" y="256.6" font-size="7.6" fill="#2f4a18" stroke="#2f4a18" stroke-width="0.25" textLength="23.9" lengthAdjust="spacingAndGlyphs">Ba0a0</text>
<text x="596.5" y="256.6" font-size="7.6" fill="#2f4a18" stroke="#2f4a18" stroke-width="0.25" textLength="20.9" lengthAdjust="spacingAndGlyphs">Ba000</text>
<text x="722.5" y="256.6" font-size="7.6" fill="#2f4a18" stroke="#2f4a18" stroke-width="0.25" textLength="26.9" lengthAdjust="spacingAndGlyphs">Aaaaa</text>
<text x="819.5" y="256.6" font-size="7.6" fill="#2f4a18" stroke="#2f4a18" stroke-width="0.25" textLength="22.9" lengthAdjust="spacingAndGlyphs">De000</text>
<text x="954.5" y="256.6" font-size="7.6" fill="#2f4a18" stroke="#2f4a18" stroke-width="0.25" textLength="27.9" lengthAdjust="spacingAndGlyphs">Aa000</text>
<text x="1058.5" y="256.6" font-size="7.6" fill="#2f4a18" stroke="#2f4a18" stroke-width="0.25" textLength="22.9" lengthAdjust="spacingAndGlyphs">Da000</text>
<text x="1168.5" y="256.6" font-size="7.6" fill="#2f4a18" stroke="#2f4a18" stroke-width="0.25" textLength="23.9" lengthAdjust="spacingAndGlyphs">De000</text>
<path d="M577,195 L602,195 L603,240 L593,240 L590,207 L588,240 L577,240 Z" fill="#3b1e16"/>
<rect x="570.5" y="184" width="5.5" height="20" rx="2.5" fill="#e2a272"/>
<path d="M601,182 L618,185 L618,189 L601,188 Z" fill="#e2a272"/>
<path d="M571,170 C575,166 583,165 587,165 C591,165 599,166 604,170 L609,186 L602,188 L602,197 L577,197 L577,188 L569,186 Z" fill="#3a7b3b"/>
<path d="M581,165.5 L587,171 L593,165.5 L590,165 L587,168 L584,165 Z" fill="#9fb060"/>
<ellipse cx="587" cy="158" rx="8.2" ry="9" fill="#e2a272"/>
<path d="M582,160.5 Q587,165 592,160.5 L591,162.5 Q587,166 583,162.5 Z" fill="#3a1f14"/>
<circle cx="584" cy="156" r="0.9" fill="#3a1f14"/><circle cx="590.5" cy="156" r="0.9" fill="#3a1f14"/>
<path d="M571.5,151 C577,148 597,148 602,151 C600,154 574,154 571.5,151 Z" fill="#9c5a2b"/>
<path d="M578.5,151 C578,141 596,140 595.5,151 Z" fill="#a3602e"/>
<rect x="578" y="148.5" width="17.5" height="1.8" fill="#7a4220"/>
<rect x="571" y="239.5" width="12" height="3.5" rx="1.5" fill="#1e1410"/><rect x="592" y="239.5" width="13" height="3.5" rx="1.5" fill="#1e1410"/>
<rect x="616.3" y="148" width="2.6" height="97" fill="#2a1a14"/>
<circle cx="617.5" cy="143" r="5.8" fill="#2a1a14"/><ellipse cx="617.5" cy="143" rx="2.2" ry="3.8" fill="#d8d3c4"/>
<path d="M617,146 L622,143.5 L642,167 L637,171 Z" fill="#e2a272"/>
<path d="M645,220 L651,220 L641,234 L637,231 Z" fill="#e2a272"/><path d="M656,220 L662,220 L664,244 L659,244 Z" fill="#e2a272"/>
<path d="M624,229 L637,232 L636,236 L625,234 Z" fill="#1e1410"/><path d="M655,243.5 L667,243.5 L667,247 L655,247 Z" fill="#1e1410"/>
<path d="M641,176 C650,174 660,174 664,177 L667,220 L636,220 C637,205 639,190 641,176 Z" fill="#6b3a22"/>
<path d="M640,188 L620,189.5 L620,193 L640,193 Z" fill="#e2a272"/>
<path d="M638,160 C640,156 646,156 648,160 L649,172 C646,176 641,176 638,172 Z" fill="#e2a272"/>
<path d="M633,165 C632,153 640,145.5 651,145.5 C661,145.5 665,152 665,160 L667,177 C661,181 650,181 646,179 C648,172 648,164 644,159 C641,163 640,170 641,178 C637,176 634,171 633,165 Z" fill="#f3f0e7"/>
<path d="M646,150 C650,158 656,164 660,170 M652,149 L655,156" stroke="#cfc9b8" stroke-width="0.8" fill="none"/>
<rect x="20.0" y="1.6" width="70.8" height="77.9" fill="#c9aa7e"/>
<rect x="24.0" y="4.3" width="62.7" height="71.3" fill="#f3efe3"/>
<path d="M27.5,14.5 C27.5,7 40,4.3 55.5,4.3 C71,4.3 84,7 84,14.5 Z" fill="#d89a48"/>
<ellipse cx="39" cy="10" rx="1.9" ry="1.3" fill="#2e1c10"/>
<ellipse cx="46" cy="8.5" rx="1.9" ry="1.3" fill="#2e1c10"/>
<ellipse cx="55" cy="7.5" rx="1.9" ry="1.3" fill="#2e1c10"/>
<ellipse cx="63" cy="8.5" rx="1.9" ry="1.3" fill="#2e1c10"/>
<ellipse cx="70" cy="10.5" rx="1.9" ry="1.3" fill="#2e1c10"/>
<ellipse cx="49" cy="12" rx="1.9" ry="1.3" fill="#2e1c10"/>
<ellipse cx="60" cy="12" rx="1.9" ry="1.3" fill="#2e1c10"/>
<ellipse cx="76" cy="13" rx="1.9" ry="1.3" fill="#2e1c10"/>
<ellipse cx="33" cy="13" rx="1.9" ry="1.3" fill="#2e1c10"/>
<text x="25.0" y="26.4" font-size="9.5" fill="#3e2a1a" font-weight="bold" textLength="61.0" lengthAdjust="spacingAndGlyphs" style="font-family:Liberation Serif,serif">BREEN ARREIS</text>
<path d="M26,36 C26,33 30,32 32,34 L57,60 L50,65 Z" fill="#d89a48" stroke="#5a3a20" stroke-width="0.6"/>
<path d="M85,36 C85,33 81,32 79,34 L54,60 L61,65 Z" fill="#d89a48" stroke="#5a3a20" stroke-width="0.6"/>
<circle cx="55.5" cy="30" r="4.3" fill="#d89a48" stroke="#5a3a20" stroke-width="0.5"/>
<rect x="52.5" y="33.5" width="6" height="11" fill="#3a2414"/>
<path d="M55.5,44 L55.5,55 M46,61 C50,56 61,56 65,61" stroke="#3a2414" stroke-width="1.2" fill="none"/>
<rect x="34.0" y="62.6" width="42.3" height="10.3" fill="#d89a48"/>
<text x="36.5" y="71.3" font-size="9" fill="#2e1c10" font-weight="bold" textLength="36.5" lengthAdjust="spacingAndGlyphs" style="font-family:Liberation Serif,serif">ERO RIEL</text>
<text x="121.5" y="41.1" font-size="12.6" fill="#2a2925" font-weight="bold" textLength="143.8" lengthAdjust="spacingAndGlyphs">Lorem ipsunlduta plort,</text>
<text x="269.3" y="41.1" font-size="11.2" fill="#2c2b27" stroke="#2c2b27" stroke-width="0.25" textLength="662.3" lengthAdjust="spacingAndGlyphs">Lant, con id vie at aweees, olliabdcure d onmient tompony. Nerelis vtotubn Bk assidests eu ucpis oo'tes. oritnoe Nencaoe oones. Sialsd</text>
<text x="121.6" y="55.3" font-size="11.2" fill="#2c2b27" stroke="#2c2b27" stroke-width="0.25" textLength="804.0" lengthAdjust="spacingAndGlyphs">alagnes eu lar derailto. Ooenes qulaue cnue rpsrt, duwt. Quderes on gro, oreat mpuun. Snlat oodenisve es geas a ndsesl, pais. euce st Mentives quas, quas, odale</text>
<text x="121.6" y="69.2" font-size="11.2" fill="#2c2b27" stroke="#2c2b27" stroke-width="0.25" textLength="739.0" lengthAdjust="spacingAndGlyphs">uste.roodur oighalsiee lelhe repesdus con Rlsend e goree parricl. spiullees cneer deno. Lieghsad vest qulls, ougleimae derdms liigphat aworda.</text>
<text x="1111.1" y="28.4" font-size="9.5" fill="#3a3a34" stroke="#3a3a34" stroke-width="0.25" textLength="49.0" lengthAdjust="spacingAndGlyphs">Concone 810</text>
<text x="1135.3" y="65.8" font-size="45.5" text-anchor="middle" fill="#2b2a26" font-weight="bold" transform="translate(1135.3 0) scale(0.765 1) translate(-1135.3 0)">2018</text>
<text x="222.8" y="292.9" font-size="14.6" fill="#2a2925" stroke="#2a2925" stroke-width="0.75" textLength="98.5" lengthAdjust="spacingAndGlyphs">Stare Prazine</text>
<line x1="68" y1="318" x2="520" y2="318" stroke="#d8d2bf" stroke-width="1.3"/>
<line x1="68" y1="336.5" x2="520" y2="336.5" stroke="#d8d2bf" stroke-width="1.3"/>
<line x1="68" y1="355.2" x2="520" y2="355.2" stroke="#d8d2bf" stroke-width="1.3"/>
<line x1="68" y1="374" x2="520" y2="374" stroke="#d8d2bf" stroke-width="1.3"/>
<line x1="68" y1="392" x2="520" y2="392" stroke="#d8d2bf" stroke-width="1.3"/>
<line x1="68" y1="318" x2="68" y2="402.8" stroke="#8f8d82" stroke-width="1.2"/>
<line x1="70" y1="402.8" x2="530" y2="402.8" stroke="#8f8d82" stroke-width="1.4"/>
<line x1="77" y1="402.8" x2="77" y2="405.8" stroke="#8f8d82" stroke-width="1"/>
<line x1="143" y1="402.8" x2="143" y2="405.8" stroke="#8f8d82" stroke-width="1"/>
<line x1="213" y1="402.8" x2="213" y2="405.8" stroke="#8f8d82" stroke-width="1"/>
<line x1="283" y1="402.8" x2="283" y2="405.8" stroke="#8f8d82" stroke-width="1"/>
<line x1="353" y1="402.8" x2="353" y2="405.8" stroke="#8f8d82" stroke-width="1"/>
<line x1="423" y1="402.8" x2="423" y2="405.8" stroke="#8f8d82" stroke-width="1"/>
<line x1="493" y1="402.8" x2="493" y2="405.8" stroke="#8f8d82" stroke-width="1"/>
<text x="28.1" y="322.2" font-size="11.5" fill="#2e2d28" stroke="#2e2d28" stroke-width="0.25" textLength="31.1" lengthAdjust="spacingAndGlyphs">10 on</text>
<text x="31.3" y="340.7" font-size="11.5" fill="#2e2d28" stroke="#2e2d28" stroke-width="0.25" textLength="27.9" lengthAdjust="spacingAndGlyphs">30m</text>
<text x="30.8" y="359.4" font-size="11.5" fill="#2e2d28" stroke="#2e2d28" stroke-width="0.25" textLength="28.4" lengthAdjust="spacingAndGlyphs">10m</text>
<text x="35.3" y="378.2" font-size="11.5" fill="#2e2d28" stroke="#2e2d28" stroke-width="0.25" textLength="23.9" lengthAdjust="spacingAndGlyphs">7nm</text>
<text x="51.0" y="396.2" font-size="11.5" fill="#2e2d28" stroke="#2e2d28" stroke-width="0.25" textLength="7.9" lengthAdjust="spacingAndGlyphs">0</text>
<rect x="85.0" y="377.0" width="30.2" height="25.5" fill="#65803f"/>
<rect x="154.0" y="374.0" width="29.5" height="28.5" fill="#899f48"/>
<rect x="223.8" y="354.0" width="30.0" height="48.5" fill="#65803f"/>
<rect x="295.0" y="367.2" width="30.3" height="35.3" fill="#65803f"/>
<rect x="429.0" y="391.3" width="28.6" height="11.2" fill="#899f48"/>
<rect x="498.5" y="395.8" width="28.1" height="6.7" fill="#65803f"/>
<text x="98.0" y="373.0" font-size="7.8" text-anchor="middle" fill="#3a3a34" stroke="#3a3a34" stroke-width="0.25">2%</text>
<text x="168.3" y="371.3" font-size="7.8" text-anchor="middle" fill="#3a3a34" stroke="#3a3a34" stroke-width="0.25">66</text>
<text x="238.3" y="350.5" font-size="7.8" text-anchor="middle" fill="#3a3a34" stroke="#3a3a34" stroke-width="0.25">16</text>
<text x="309.0" y="366.0" font-size="7.8" text-anchor="middle" fill="#3a3a34" stroke="#3a3a34" stroke-width="0.25">46</text>
<text x="443.4" y="389.3" font-size="7.8" text-anchor="middle" fill="#3a3a34" stroke="#3a3a34" stroke-width="0.25">10</text>
<text x="513.0" y="396.0" font-size="7.8" text-anchor="middle" fill="#3a3a34" stroke="#3a3a34" stroke-width="0.25">6%</text>
<text x="86.4" y="417.8" font-size="10.5" fill="#2e2d28" stroke="#2e2d28" stroke-width="0.25" textLength="28.1" lengthAdjust="spacingAndGlyphs">20mm</text>
<text x="153.8" y="417.8" font-size="10.5" fill="#2e2d28" stroke="#2e2d28" stroke-width="0.25" textLength="30.9" lengthAdjust="spacingAndGlyphs">40mm</text>
<text x="224.2" y="417.8" font-size="10.5" fill="#2e2d28" stroke="#2e2d28" stroke-width="0.25" textLength="29.8" lengthAdjust="spacingAndGlyphs">30mm</text>
<text x="295.4" y="417.8" font-size="10.5" fill="#2e2d28" stroke="#2e2d28" stroke-width="0.25" textLength="31.0" lengthAdjust="spacingAndGlyphs">3600%</text>
<text x="366.3" y="417.8" font-size="10.5" fill="#2e2d28" stroke="#2e2d28" stroke-width="0.25" textLength="24.4" lengthAdjust="spacingAndGlyphs">70mm</text>
<text x="430.4" y="417.8" font-size="10.5" fill="#2e2d28" stroke="#2e2d28" stroke-width="0.25" textLength="30.1" lengthAdjust="spacingAndGlyphs">3000%</text>
<text x="499.7" y="417.8" font-size="10.5" fill="#2e2d28" stroke="#2e2d28" stroke-width="0.25" textLength="31.0" lengthAdjust="spacingAndGlyphs">4.90%</text>
<polyline points="104,368 157,373" stroke="#dcb44c" stroke-width="1.35" fill="none"/>
<polyline points="116,387 153,387" stroke="#dcb44c" stroke-width="1.35" fill="none"/>
<path d="M245,346 L276,351 C285,354 296,362 303,366.5 C310,366 314,364 318,362 C330,355 345,348 357,345" stroke="#dcb44c" stroke-width="1.35" fill="none"/>
<polyline points="447,384.5 510,392.4" stroke="#dcb44c" stroke-width="1.35" fill="none"/>
<polyline points="178,373 222,354.6 249,365 295,373" stroke="#8b4b2c" stroke-width="1.35" fill="none"/>
<polyline points="397,364 442,391" stroke="#8b4b2c" stroke-width="1.35" fill="none"/>
<clipPath id="ear"><path d="M379,301.5 C388,301.5 392.5,312 392.5,326 C392.5,345 385,362 379,371.5 C373,362 365,345 365,326 C365,312 370,301.5 379,301.5 Z"/></clipPath>
<path d="M379,398 C366,397 358,388 358,368 C357,350 359,330 364,316 L379,340 L394,318 C398,335 398.5,355 398,368 C398,388 390,397 379,398 Z" fill="#6a9633"/>
<path d="M360,303.6 L366,318 L363,320 Z M391.8,297.6 L390,316 L386,312 Z M397,306 L393,322 L390,318 Z" fill="#6c9a34"/>
<path d="M379,301.5 C388,301.5 392.5,312 392.5,326 C392.5,345 385,362 379,371.5 C373,362 365,345 365,326 C365,312 370,301.5 379,301.5 Z" fill="#f4bd2c"/>
<path d="M360,305.0H398M360,309.6H398M360,314.2H398M360,318.8H398M360,323.4H398M360,328.0H398M360,332.6H398M360,337.2H398M360,341.8H398M360,346.4H398M360,351.0H398M360,355.6H398M360,360.2H398M360,364.8H398M360,369.4H398M362.0,300V375M365.4,300V375M368.8,300V375M372.2,300V375M375.6,300V375M379.0,300V375M382.4,300V375M385.8,300V375M389.2,300V375M392.6,300V375M396.0,300V375" stroke="#dc9c1c" stroke-width="0.8" clip-path="url(#ear)" fill="none"/>
<path d="M379,398 C368,397 359,388 358,368 C357,350 358,333 361,318 L346,321 L361,314 L355.5,309.7 L364,316 C366,333 370,352 379,386 Z" fill="#79a53b"/>
<path d="M379,398 C390,397 398,388 398,368 C398.5,358 398,348 397.5,338 L412.6,341.6 L397.5,330 L397,326 L408,311.4 L394,322 C390,345 386,362 379,386 Z" fill="#5c892d"/>
<path d="M366,334 C368,360 373,380 379,392 C385,380 389,360 391,334 C388,352 384,366 379,376 C374,366 369,352 366,334 Z" fill="#8cb548"/>
<path d="M369,394 C373,397 385,397 389,394 L387,402.5 L371,402.5 Z" fill="#5a8a2a"/>
<line x1="605" y1="317.8" x2="820" y2="317.8" stroke="#d8d2bf" stroke-width="1.3"/>
<line x1="605" y1="336.5" x2="820" y2="336.5" stroke="#d8d2bf" stroke-width="1.3"/>
<line x1="605" y1="355.2" x2="820" y2="355.2" stroke="#d8d2bf" stroke-width="1.3"/>
<line x1="605" y1="373.5" x2="820" y2="373.5" stroke="#d8d2bf" stroke-width="1.3"/>
<line x1="605" y1="392.2" x2="820" y2="392.2" stroke="#d8d2bf" stroke-width="1.3"/>
<line x1="605" y1="317.8" x2="605" y2="403" stroke="#8f8d82" stroke-width="1.2"/>
<line x1="605" y1="403" x2="820" y2="403" stroke="#8f8d82" stroke-width="1.4"/>
<line x1="625" y1="403" x2="625" y2="406" stroke="#8f8d82" stroke-width="1"/>
<line x1="700" y1="403" x2="700" y2="406" stroke="#8f8d82" stroke-width="1"/>
<line x1="780" y1="403" x2="780" y2="406" stroke="#8f8d82" stroke-width="1"/>
<text x="571.9" y="322.0" font-size="11.5" fill="#2e2d28" stroke="#2e2d28" stroke-width="0.25" textLength="24.2" lengthAdjust="spacingAndGlyphs">Con</text>
<text x="571.0" y="340.7" font-size="11.5" fill="#2e2d28" stroke="#2e2d28" stroke-width="0.25" textLength="25.1" lengthAdjust="spacingAndGlyphs">50m</text>
<text x="571.0" y="359.4" font-size="11.5" fill="#2e2d28" stroke="#2e2d28" stroke-width="0.25" textLength="25.1" lengthAdjust="spacingAndGlyphs">10m</text>
<text x="574.8" y="377.7" font-size="11.5" fill="#2e2d28" stroke="#2e2d28" stroke-width="0.25" textLength="21.3" lengthAdjust="spacingAndGlyphs">1rm</text>
<text x="588.3" y="396.4" font-size="11.5" fill="#2e2d28" stroke="#2e2d28" stroke-width="0.25" textLength="7.8" lengthAdjust="spacingAndGlyphs">0</text>
<rect x="624.5" y="379.0" width="30.1" height="23.5" fill="#65803f"/>
<rect x="669.0" y="391.0" width="27.0" height="11.5" fill="#bb9b69"/>
<rect x="700.5" y="382.7" width="28.9" height="19.8" fill="#65803f"/>
<rect x="744.0" y="389.4" width="27.0" height="13.1" fill="#bb9b69"/>
<rect x="779.0" y="362.0" width="30.0" height="40.5" fill="#65803f"/>
<text x="639.7" y="376.2" font-size="7.8" text-anchor="middle" fill="#3a3a34" stroke="#3a3a34" stroke-width="0.25">36%</text>
<text x="684.0" y="389.2" font-size="7.8" text-anchor="middle" fill="#3a3a34" stroke="#3a3a34" stroke-width="0.25">20</text>
<text x="716.7" y="380.3" font-size="7.8" text-anchor="middle" fill="#3a3a34" stroke="#3a3a34" stroke-width="0.25">5%</text>
<text x="757.9" y="384.1" font-size="7.8" text-anchor="middle" fill="#3a3a34" stroke="#3a3a34" stroke-width="0.25">8%</text>
<text x="793.3" y="360.4" font-size="7.8" text-anchor="middle" fill="#3a3a34" stroke="#3a3a34" stroke-width="0.25">20%</text>
<polyline points="626,365.3 648,367.8 666,366 704,332.4 747.4,356.7 790,344.7 818,322.2" stroke="#74a03f" stroke-width="1.4" fill="none" stroke-linejoin="round"/>
<path d="M654.6,387.5 C670,389 680,391 688.8,390 C700,388 710,381 720.5,381 C735,381 745,388 755,387.5 C765,387 775,384 780.6,382 C792,378 798,370 802.8,361.5 C808,356 814,353 818.7,350.4" stroke="#d89d3e" stroke-width="1.5" fill="none"/>
<text x="629.6" y="417.9" font-size="10.5" fill="#2e2d28" stroke="#2e2d28" stroke-width="0.25" textLength="22.6" lengthAdjust="spacingAndGlyphs">3mm</text>
<text x="700.3" y="417.9" font-size="10.5" fill="#2e2d28" stroke="#2e2d28" stroke-width="0.25" textLength="30.4" lengthAdjust="spacingAndGlyphs">2830%</text>
<text x="776.3" y="417.9" font-size="10.5" fill="#2e2d28" stroke="#2e2d28" stroke-width="0.25" textLength="32.9" lengthAdjust="spacingAndGlyphs">3600%</text>
<rect x="844.0" y="315.7" width="6.5" height="6.5" fill="#65803f"/>
<text x="856.9" y="322.7" font-size="11.3" fill="#2e2d28" stroke="#2e2d28" stroke-width="0.25" textLength="38.4" lengthAdjust="spacingAndGlyphs">25.0m</text>
<rect x="844.0" y="333.5" width="6.5" height="6.5" fill="#bb9b69"/>
<text x="856.9" y="340.5" font-size="11.3" fill="#2e2d28" stroke="#2e2d28" stroke-width="0.25" textLength="38.4" lengthAdjust="spacingAndGlyphs">25.0m</text>
<rect x="844.0" y="351.2" width="6.5" height="6.5" fill="#7a5535"/>
<text x="856.9" y="358.2" font-size="11.3" fill="#2e2d28" stroke="#2e2d28" stroke-width="0.25" textLength="38.4" lengthAdjust="spacingAndGlyphs">75.0m</text>
<rect x="844.0" y="369.0" width="6.5" height="6.5" fill="#899f48"/>
<text x="856.9" y="376.0" font-size="11.3" fill="#2e2d28" stroke="#2e2d28" stroke-width="0.25" textLength="38.4" lengthAdjust="spacingAndGlyphs">22.0m</text>
<text x="856.9" y="393.4" font-size="11.3" fill="#2e2d28" stroke="#2e2d28" stroke-width="0.25" textLength="38.4" lengthAdjust="spacingAndGlyphs">31.0m</text>
<path d="M1005.00,305.10 A47.7,47.7 0 0 1 1051.82,343.70 L1026.10,348.70 A21.5,21.5 0 0 0 1005.00,331.30 Z" fill="#7f5b3c"/>
<path d="M1051.82,343.70 A47.7,47.7 0 0 1 961.59,372.58 L985.44,361.72 A21.5,21.5 0 0 0 1026.10,348.70 Z" fill="#65803f"/>
<path d="M961.59,372.58 A47.7,47.7 0 0 1 1005.00,305.10 L1005.00,331.30 A21.5,21.5 0 0 0 985.44,361.72 Z" fill="#899f48"/>
<text x="995.9" y="357.5" font-size="9.5" fill="#3a3a34" stroke="#3a3a34" stroke-width="0.25" textLength="19.1" lengthAdjust="spacingAndGlyphs">89%</text>
<text x="1051.5" y="325.0" font-size="8.5" fill="#3a3a34" stroke="#3a3a34" stroke-width="0.25" textLength="18.0" lengthAdjust="spacingAndGlyphs">20%</text>
<text x="937.9" y="333.5" font-size="8.5" fill="#3a3a34" stroke="#3a3a34" stroke-width="0.25" textLength="22.6" lengthAdjust="spacingAndGlyphs">2S2%</text>
<text x="1027.5" y="340.0" font-size="8.5" fill="#4a3020" stroke="#4a3020" stroke-width="0.25" textLength="19.0" lengthAdjust="spacingAndGlyphs">20%</text>
<text x="1056.5" y="344.0" font-size="8.5" fill="#3a3a34" stroke="#3a3a34" stroke-width="0.25" textLength="17.0" lengthAdjust="spacingAndGlyphs">25%</text>
<text x="940.5" y="382.3" font-size="8.5" fill="#3a3a34" stroke="#3a3a34" stroke-width="0.25" textLength="15.7" lengthAdjust="spacingAndGlyphs">865</text>
<line x1="956" y1="378" x2="963" y2="375.5" stroke="#3a3a34" stroke-width="0.7"/>
<line x1="1049" y1="344.5" x2="1057" y2="340.5" stroke="#3a3a34" stroke-width="0.7"/>
<text x="1080.7" y="323.7" font-size="12.3" fill="#2e2d28" stroke="#2e2d28" stroke-width="0.25" textLength="68.1" lengthAdjust="spacingAndGlyphs">Coolecraes</text>
<text x="1080.7" y="341.0" font-size="12.3" fill="#2e2d28" stroke="#2e2d28" stroke-width="0.25" textLength="68.7" lengthAdjust="spacingAndGlyphs">Pyrorlootre</text>
<rect x="1067.3" y="351.2" width="6.1" height="6.4" fill="#7f5b3c"/>
<text x="1080.7" y="358.8" font-size="12.3" fill="#2e2d28" stroke="#2e2d28" stroke-width="0.25" textLength="54.6" lengthAdjust="spacingAndGlyphs">Oulpbato</text>
<rect x="1067.3" y="369.1" width="6.1" height="6.4" fill="#65803f"/>
<text x="1080.7" y="376.7" font-size="12.3" fill="#2e2d28" stroke="#2e2d28" stroke-width="0.25" textLength="52.9" lengthAdjust="spacingAndGlyphs">Exptrato</text>
<rect x="1067.3" y="386.5" width="6.1" height="6.4" fill="#899f48"/>
<text x="1080.7" y="394.1" font-size="12.3" fill="#2e2d28" stroke="#2e2d28" stroke-width="0.25" textLength="75.9" lengthAdjust="spacingAndGlyphs">Cojantarticne</text>
<text x="71.1" y="444.2" font-size="14.6" fill="#2a2925" stroke="#2a2925" stroke-width="0.75" textLength="98.8" lengthAdjust="spacingAndGlyphs">Export volums</text>
<line x1="67" y1="458.5" x2="593" y2="458.5" stroke="#d8d2bf" stroke-width="1.3"/>
<line x1="67" y1="478.6" x2="593" y2="478.6" stroke="#d8d2bf" stroke-width="1.3"/>
<line x1="67" y1="497.9" x2="593" y2="497.9" stroke="#d8d2bf" stroke-width="1.3"/>
<line x1="67" y1="517.4" x2="593" y2="517.4" stroke="#d8d2bf" stroke-width="1.3"/>
<line x1="67" y1="536.4" x2="593" y2="536.4" stroke="#d8d2bf" stroke-width="1.3"/>
<line x1="67" y1="555.4" x2="593" y2="555.4" stroke="#d8d2bf" stroke-width="1.3"/>
<line x1="67" y1="458.5" x2="67" y2="574.2" stroke="#8f8d82" stroke-width="1.2"/>
<line x1="67" y1="574.2" x2="593" y2="574.2" stroke="#8f8d82" stroke-width="1.4"/>
<line x1="76" y1="574.2" x2="76" y2="577.2" stroke="#8f8d82" stroke-width="1"/>
<line x1="137.4" y1="574.2" x2="137.4" y2="577.2" stroke="#8f8d82" stroke-width="1"/>
<line x1="199.3" y1="574.2" x2="199.3" y2="577.2" stroke="#8f8d82" stroke-width="1"/>
<line x1="261" y1="574.2" x2="261" y2="577.2" stroke="#8f8d82" stroke-width="1"/>
<line x1="322.5" y1="574.2" x2="322.5" y2="577.2" stroke="#8f8d82" stroke-width="1"/>
<line x1="384" y1="574.2" x2="384" y2="577.2" stroke="#8f8d82" stroke-width="1"/>
<line x1="445.5" y1="574.2" x2="445.5" y2="577.2" stroke="#8f8d82" stroke-width="1"/>
<line x1="507" y1="574.2" x2="507" y2="577.2" stroke="#8f8d82" stroke-width="1"/>
<line x1="568.5" y1="574.2" x2="568.5" y2="577.2" stroke="#8f8d82" stroke-width="1"/>
<text x="18.6" y="462.8" font-size="12.2" fill="#2e2d28" stroke="#2e2d28" stroke-width="0.25" textLength="38.2" lengthAdjust="spacingAndGlyphs">Coren</text>
<text x="18.6" y="482.9" font-size="12.2" fill="#2e2d28" stroke="#2e2d28" stroke-width="0.25" textLength="38.2" lengthAdjust="spacingAndGlyphs">160rm</text>
<text x="18.6" y="502.2" font-size="12.2" fill="#2e2d28" stroke="#2e2d28" stroke-width="0.25" textLength="38.2" lengthAdjust="spacingAndGlyphs">350rm</text>
<text x="18.6" y="521.7" font-size="12.2" fill="#2e2d28" stroke="#2e2d28" stroke-width="0.25" textLength="38.2" lengthAdjust="spacingAndGlyphs">760rm</text>
<text x="18.6" y="540.7" font-size="12.2" fill="#2e2d28" stroke="#2e2d28" stroke-width="0.25" textLength="38.2" lengthAdjust="spacingAndGlyphs">280rm</text>
<text x="18.6" y="559.7" font-size="12.2" fill="#2e2d28" stroke="#2e2d28" stroke-width="0.25" textLength="38.2" lengthAdjust="spacingAndGlyphs">280rm</text>
<text x="50.3" y="578.3" font-size="12.2" fill="#2e2d28" stroke="#2e2d28" stroke-width="0.25" textLength="6.5" lengthAdjust="spacingAndGlyphs">0</text>
<rect x="69.8" y="562.2" width="20.2" height="11.8" fill="#bb9b69"/>
<rect x="90.0" y="544.0" width="30.0" height="30.0" fill="#65803f"/>
<rect x="127.3" y="536.1" width="23.0" height="37.9" fill="#bb9b69"/>
<rect x="150.3" y="526.3" width="30.0" height="47.7" fill="#65803f"/>
<rect x="189.2" y="488.0" width="28.1" height="86.0" fill="#bb9b69"/>
<rect x="212.2" y="523.8" width="29.8" height="50.2" fill="#65803f"/>
<rect x="249.7" y="527.9" width="22.5" height="46.1" fill="#bb9b69"/>
<rect x="272.2" y="507.8" width="30.3" height="66.2" fill="#65803f"/>
<rect x="310.2" y="508.5" width="24.0" height="65.5" fill="#bb9b69"/>
<rect x="334.2" y="480.4" width="30.5" height="93.6" fill="#65803f"/>
<rect x="370.9" y="551.6" width="24.7" height="22.4" fill="#bb9b69"/>
<rect x="395.6" y="552.9" width="30.5" height="21.1" fill="#65803f"/>
<text x="104.0" y="539.0" font-size="7.8" text-anchor="middle" fill="#3a3a34" stroke="#3a3a34" stroke-width="0.25">5%</text>
<text x="166.0" y="522.8" font-size="7.8" text-anchor="middle" fill="#3a3a34" stroke="#3a3a34" stroke-width="0.25">35</text>
<text x="202.6" y="483.0" font-size="7.8" text-anchor="middle" fill="#3a3a34" stroke="#3a3a34" stroke-width="0.25">365</text>
<text x="226.5" y="518.1" font-size="7.8" text-anchor="middle" fill="#3a3a34" stroke="#3a3a34" stroke-width="0.25">2%</text>
<text x="286.4" y="503.7" font-size="7.8" text-anchor="middle" fill="#3a3a34" stroke="#3a3a34" stroke-width="0.25">58</text>
<text x="353.3" y="474.8" font-size="7.8" text-anchor="middle" fill="#3a3a34" stroke="#3a3a34" stroke-width="0.25">280</text>
<text x="381.0" y="548.5" font-size="7.8" text-anchor="middle" fill="#3a3a34" stroke="#3a3a34" stroke-width="0.25">3M</text>
<text x="85.2" y="596.6" font-size="11.2" fill="#2e2d28" stroke="#2e2d28" stroke-width="0.25" textLength="36.5" lengthAdjust="spacingAndGlyphs">25.00%</text>
<text x="144.3" y="596.6" font-size="11.2" fill="#2e2d28" stroke="#2e2d28" stroke-width="0.25" textLength="38.5" lengthAdjust="spacingAndGlyphs">30201%</text>
<text x="207.1" y="596.6" font-size="11.2" fill="#2e2d28" stroke="#2e2d28" stroke-width="0.25" textLength="36.5" lengthAdjust="spacingAndGlyphs">37.00%</text>
<text x="268.5" y="596.6" font-size="11.2" fill="#2e2d28" stroke="#2e2d28" stroke-width="0.25" textLength="37.1" lengthAdjust="spacingAndGlyphs">25/10%</text>
<text x="329.5" y="596.6" font-size="11.2" fill="#2e2d28" stroke="#2e2d28" stroke-width="0.25" textLength="37.7" lengthAdjust="spacingAndGlyphs">4000%</text>
<text x="394.3" y="596.6" font-size="11.2" fill="#2e2d28" stroke="#2e2d28" stroke-width="0.25" textLength="37.3" lengthAdjust="spacingAndGlyphs">3200%</text>
<text x="467.3" y="596.6" font-size="11.2" fill="#2e2d28" stroke="#2e2d28" stroke-width="0.25" textLength="37.7" lengthAdjust="spacingAndGlyphs">4500%</text>
<text x="533.0" y="596.6" font-size="11.2" fill="#2e2d28" stroke="#2e2d28" stroke-width="0.25" textLength="39.3" lengthAdjust="spacingAndGlyphs">2770%</text>
<path d="M424,496.5 C414.5,492 409.5,484 411.8,472.2 C413.5,480.5 418.5,485.5 428,488 Z M439.5,493 C447.5,489.5 452,482 451.8,471.5 C456.5,481 455,492.5 445.5,498.5 Z" fill="#b3aa96"/>
<path fill="#671f1e" d="M412.4,517.8 C411,512 414,505 418,500 C421,495 424,489 429.6,486.1 C435,485 440,486 442,489.6 C446,493 452,496 463,497.5 C490,500 515,503 530,502 C550,500 570,498 583,498.4 C590,500 590,510 589,520 C588,530 587,535 586,540 C583,546 578,550 576,556 L575.6,574 L568,574 L566,560 L564,557 L560,574 L552,574 L547.5,556 C540,556 535,558 528,557.3 C515,556 505,555 495,553 L493,574 L485,574 L481,558 L479,574 L471.8,574 L470,556 C462,552 455,548 450.7,542.4 C448,536 447,531 445.5,528.3 C440,526 436,524.5 431.4,524 C426,524 421,523.5 417.3,523 C414,522 412.5,520 412.4,517.8 Z"/>
<path fill="#671f1e" d="M587,502 C592,506 593,515 592,525 C591.5,533 592,540 594,546 L592,547 C590,540 589.5,532 590,524 C590.5,515 589,508 585,504 Z"/>
<ellipse cx="414.5" cy="518" rx="2.5" ry="2" fill="#4a1210"/>
<line x1="641" y1="458" x2="1176" y2="458" stroke="#d8d2bf" stroke-width="1.3"/>
<line x1="641" y1="478.3" x2="1176" y2="478.3" stroke="#d8d2bf" stroke-width="1.3"/>
<line x1="641" y1="497.8" x2="1176" y2="497.8" stroke="#d8d2bf" stroke-width="1.3"/>
<line x1="641" y1="517.5" x2="1176" y2="517.5" stroke="#d8d2bf" stroke-width="1.3"/>
<line x1="641" y1="536.6" x2="1176" y2="536.6" stroke="#d8d2bf" stroke-width="1.3"/>
<line x1="641" y1="555.7" x2="1176" y2="555.7" stroke="#d8d2bf" stroke-width="1.3"/>
<line x1="641" y1="574" x2="1176" y2="574" stroke="#8f8d82" stroke-width="1.4"/>
<line x1="652" y1="574" x2="652" y2="577" stroke="#8f8d82" stroke-width="1"/>
<line x1="718" y1="574" x2="718" y2="577" stroke="#8f8d82" stroke-width="1"/>
<line x1="783" y1="574" x2="783" y2="577" stroke="#8f8d82" stroke-width="1"/>
<line x1="848" y1="574" x2="848" y2="577" stroke="#8f8d82" stroke-width="1"/>
<line x1="913" y1="574" x2="913" y2="577" stroke="#8f8d82" stroke-width="1"/>
<line x1="978" y1="574" x2="978" y2="577" stroke="#8f8d82" stroke-width="1"/>
<line x1="1043" y1="574" x2="1043" y2="577" stroke="#8f8d82" stroke-width="1"/>
<line x1="1108" y1="574" x2="1108" y2="577" stroke="#8f8d82" stroke-width="1"/>
<line x1="1172" y1="574" x2="1172" y2="577" stroke="#8f8d82" stroke-width="1"/>
<rect x="667.2" y="559.2" width="35.6" height="14.8" fill="#65803f"/>
<rect x="730.6" y="560.0" width="35.8" height="14.0" fill="#65803f"/>
<rect x="833.5" y="534.7" width="23.4" height="39.3" fill="#7a5535"/>
<rect x="862.0" y="540.0" width="36.2" height="34.0" fill="#cdb080"/>
<rect x="925.2" y="495.9" width="36.4" height="78.1" fill="#65803f"/>
<rect x="988.4" y="511.5" width="36.9" height="62.5" fill="#7a5535"/>
<rect x="1033.3" y="472.5" width="25.5" height="101.5" fill="#bb9b69"/>
<rect x="1067.9" y="465.5" width="37.1" height="108.5" fill="#899f48"/>
<rect x="1131.8" y="547.8" width="35.9" height="26.2" fill="#9b7448"/>
<text x="845.2" y="529.7" font-size="7.8" text-anchor="middle" fill="#3a3a34" stroke="#3a3a34" stroke-width="0.25">307</text>
<text x="880.0" y="535.0" font-size="7.8" text-anchor="middle" fill="#3a3a34" stroke="#3a3a34" stroke-width="0.25">29%</text>
<text x="943.7" y="491.0" font-size="7.8" text-anchor="middle" fill="#3a3a34" stroke="#3a3a34" stroke-width="0.25">36%</text>
<text x="1006.5" y="505.4" font-size="7.8" text-anchor="middle" fill="#3a3a34" stroke="#3a3a34" stroke-width="0.25">505%</text>
<text x="1045.5" y="464.3" font-size="7.8" text-anchor="middle" fill="#3a3a34" stroke="#3a3a34" stroke-width="0.25">551</text>
<text x="1086.6" y="461.7" font-size="7.8" text-anchor="middle" fill="#3a3a34" stroke="#3a3a34" stroke-width="0.25">00%</text>
<text x="1149.5" y="543.8" font-size="7.8" text-anchor="middle" fill="#3a3a34" stroke="#3a3a34" stroke-width="0.25">45%</text>
<text x="666.5" y="596.6" font-size="11.2" fill="#2e2d28" stroke="#2e2d28" stroke-width="0.25" textLength="37.4" lengthAdjust="spacingAndGlyphs">5600%</text>
<text x="731.3" y="596.6" font-size="11.2" fill="#2e2d28" stroke="#2e2d28" stroke-width="0.25" textLength="37.6" lengthAdjust="spacingAndGlyphs">3520%</text>
<text x="796.9" y="596.6" font-size="11.2" fill="#2e2d28" stroke="#2e2d28" stroke-width="0.25" textLength="36.9" lengthAdjust="spacingAndGlyphs">3000%</text>
<text x="858.0" y="596.6" font-size="11.2" fill="#2e2d28" stroke="#2e2d28" stroke-width="0.25" textLength="37.6" lengthAdjust="spacingAndGlyphs">4500%</text>
<text x="925.3" y="596.6" font-size="11.2" fill="#2e2d28" stroke="#2e2d28" stroke-width="0.25" textLength="37.1" lengthAdjust="spacingAndGlyphs">2500%</text>
<text x="991.6" y="596.6" font-size="11.2" fill="#2e2d28" stroke="#2e2d28" stroke-width="0.25" textLength="38.0" lengthAdjust="spacingAndGlyphs">29.00%</text>
<text x="1057.8" y="596.6" font-size="11.2" fill="#2e2d28" stroke="#2e2d28" stroke-width="0.25" textLength="39.0" lengthAdjust="spacingAndGlyphs">30.00%</text>
<text x="1125.9" y="596.6" font-size="11.2" fill="#2e2d28" stroke="#2e2d28" stroke-width="0.25" textLength="38.5" lengthAdjust="spacingAndGlyphs">28.00%</text>
<path d="M824,454 C816,452 810.5,447 812.5,440.5 C814.5,445 818.5,447.5 825,448.5 Z M840,451 C848,450 854,446 856.3,439.2 C859.5,447 855,455.5 843,457 Z" fill="#968d80"/>
<path fill="#671f1e" d="M666,459.6 C670,456 676,454.5 682.1,454.3 C700,455 718,456.5 735.6,456.4 C752,456 765,455.5 778.5,455.3 C792,455.5 803,456 812.7,456.4 C816,452 818,449 821.3,447.8 C823,445 825,443.5 827.7,443.1 C832,442 835,442 838.4,442.5 C843,445 845,449 845.9,454.3 C847,460 848,466 849.1,471.4 C850,473 851.5,475 851.2,476.7 C850,480 847,482 844.8,482.1 C840,483 837,484 834.1,484.2 C830,490 827,494 825.5,499.2 C823,506 821,512 819.1,518.5 C812,522 805,525 799.9,527 C796,538 793,550 793,558 C795,561 798,564 797.7,566.7 L787,566.7 C786,560 785,550 783.8,535.6 C783,545 782,555 782.7,561.3 L776.3,561.3 C776,552 776,542 776.3,533.5 C770,531 764,530 757,529.2 C750,532 743,536 735.6,536.7 C725,536 716,534 710,531.3 C704,528 699,525 695,522.8 C690,525 688,527 686.4,529.2 C686,538 686.5,547 687.5,554.9 C690,556 692.5,557 692.8,558.1 C692,561 688,563 684.3,563.4 L677.8,563.4 C677,553 677,542 676.8,531.3 C674.5,529 672.5,527 671.4,524.9 C669,516 668,507 667.1,499.2 C665,490 663.5,482 662.8,473.5 C663,467 664,463 666,459.6 Z"/>
<path fill="#671f1e" d="M666,459 C661,465 660,472 661.8,477.8 C663,487 663,497 662.8,505.6 C661,509 660,512 660.7,516.4 C660,520 660.5,524 661.8,527 C663.5,523 664.5,519 664,515 C664,510 665,507 664.5,505 C665,495 665,486 664,478 C663,470 665,465 668,461 Z"/>
<rect x="160.6" y="621.5" width="8.5" height="8.2" fill="#899f48"/>
<text x="177.2" y="630.3" font-size="13" fill="#2e2d28" stroke="#2e2d28" stroke-width="0.25" textLength="128.3" lengthAdjust="spacingAndGlyphs">Calisqutimastina gr.com</text>
<rect x="333.8" y="621.5" width="8.5" height="8.2" fill="#65803f"/>
<text x="352.9" y="630.3" font-size="13" fill="#2e2d28" stroke="#2e2d28" stroke-width="0.25" textLength="80.8" lengthAdjust="spacingAndGlyphs">Comelinaclioes</text>
<rect x="444.0" y="621.5" width="8.5" height="8.2" fill="#7a5535"/>
<text x="459.0" y="630.3" font-size="13" fill="#2e2d28" stroke="#2e2d28" stroke-width="0.25" textLength="31.8" lengthAdjust="spacingAndGlyphs">2.024</text>
<rect x="699.6" y="622.0" width="7.8" height="7.8" fill="#c9ad7e"/>
<text x="715.6" y="630.3" font-size="13" fill="#2e2d28" stroke="#2e2d28" stroke-width="0.25" textLength="120.4" lengthAdjust="spacingAndGlyphs">Fleasr azzalislio gı. com</text>
<rect x="852.0" y="622.0" width="7.8" height="7.8" fill="#65803f"/>
<text x="874.6" y="630.3" font-size="13" fill="#2e2d28" stroke="#2e2d28" stroke-width="0.25" textLength="129.8" lengthAdjust="spacingAndGlyphs">Fiewesiiratim goureshts</text>
<rect x="1020.4" y="622.0" width="7.8" height="7.8" fill="#7a5535"/>
<text x="1034.2" y="630.3" font-size="13" fill="#2e2d28" stroke="#2e2d28" stroke-width="0.25" textLength="34.1" lengthAdjust="spacingAndGlyphs">2O.24</text>
</svg>
</body></html>
